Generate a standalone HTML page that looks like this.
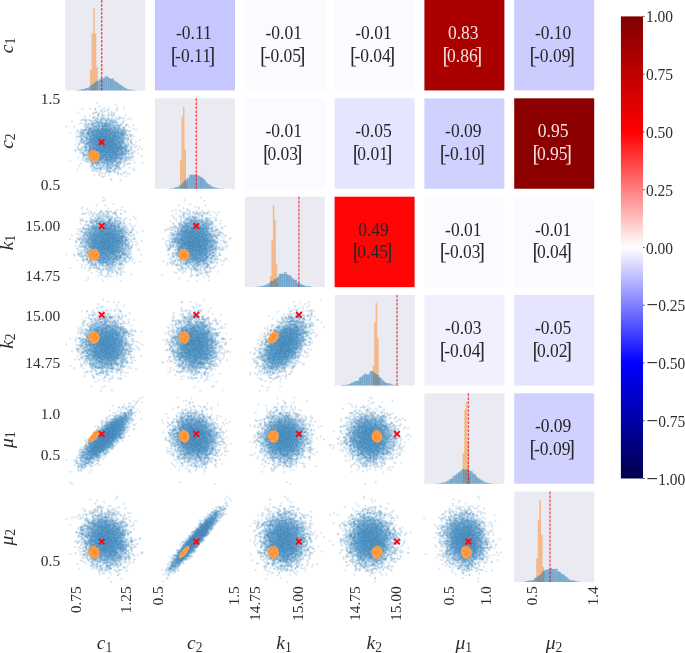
<!DOCTYPE html>
<html><head><meta charset="utf-8"><title>corner</title>
<style>html,body{margin:0;padding:0;background:#fff}svg{display:block}text{font-family:"Liberation Serif","DejaVu Serif",serif;fill:#2e2e2e}</style></head><body>
<svg width="685" height="653" viewBox="0 0 685 653">
<rect width="685" height="653" fill="#fff"/>
<rect x="155.0" y="0.0" width="80.0" height="90.45" fill="#c7c7ff"/>
<text transform="translate(193.9 38.8) scale(1 1.1)" font-size="17.5" text-anchor="middle" style="fill:#262626">-0.11</text>
<text transform="translate(193.0 61.6) scale(1 1.1)" font-size="17.5" text-anchor="middle" style="fill:#262626"><tspan font-size="21.0" dy="0.9">[</tspan><tspan dx="-2.5" dy="-0.9">-0.11</tspan><tspan font-size="21.0" dx="-2.5" dy="0.9">]</tspan></text>
<rect x="244.8" y="0.0" width="80.0" height="90.45" fill="#fafaff"/>
<text transform="translate(283.7 38.8) scale(1 1.1)" font-size="17.5" text-anchor="middle" style="fill:#262626">-0.01</text>
<text transform="translate(282.8 61.6) scale(1 1.1)" font-size="17.5" text-anchor="middle" style="fill:#262626"><tspan font-size="21.0" dy="0.9">[</tspan><tspan dx="-2.5" dy="-0.9">-0.05</tspan><tspan font-size="21.0" dx="-2.5" dy="0.9">]</tspan></text>
<rect x="334.6" y="0.0" width="80.0" height="90.45" fill="#fafaff"/>
<text transform="translate(373.5 38.8) scale(1 1.1)" font-size="17.5" text-anchor="middle" style="fill:#262626">-0.01</text>
<text transform="translate(372.6 61.6) scale(1 1.1)" font-size="17.5" text-anchor="middle" style="fill:#262626"><tspan font-size="21.0" dy="0.9">[</tspan><tspan dx="-2.5" dy="-0.9">-0.04</tspan><tspan font-size="21.0" dx="-2.5" dy="0.9">]</tspan></text>
<rect x="424.4" y="0.0" width="80.0" height="90.45" fill="#ab0000"/>
<text transform="translate(463.3 38.8) scale(1 1.1)" font-size="17.5" text-anchor="middle" style="fill:#f2e4e4">0.83</text>
<text transform="translate(462.4 61.6) scale(1 1.1)" font-size="17.5" text-anchor="middle" style="fill:#f2e4e4"><tspan font-size="21.0" dy="0.9">[</tspan><tspan dx="-2.5" dy="-0.9">0.86</tspan><tspan font-size="21.0" dx="-2.5" dy="0.9">]</tspan></text>
<rect x="514.2" y="0.0" width="80.0" height="90.45" fill="#ccccff"/>
<text transform="translate(553.1 38.8) scale(1 1.1)" font-size="17.5" text-anchor="middle" style="fill:#262626">-0.10</text>
<text transform="translate(552.2 61.6) scale(1 1.1)" font-size="17.5" text-anchor="middle" style="fill:#262626"><tspan font-size="21.0" dy="0.9">[</tspan><tspan dx="-2.5" dy="-0.9">-0.09</tspan><tspan font-size="21.0" dx="-2.5" dy="0.9">]</tspan></text>
<rect x="244.8" y="98.3" width="80.0" height="90.45" fill="#fafaff"/>
<text transform="translate(283.7 137.1) scale(1 1.1)" font-size="17.5" text-anchor="middle" style="fill:#262626">-0.01</text>
<text transform="translate(282.8 159.9) scale(1 1.1)" font-size="17.5" text-anchor="middle" style="fill:#262626"><tspan font-size="21.0" dy="0.9">[</tspan><tspan dx="-2.5" dy="-0.9">0.03</tspan><tspan font-size="21.0" dx="-2.5" dy="0.9">]</tspan></text>
<rect x="334.6" y="98.3" width="80.0" height="90.45" fill="#e5e5ff"/>
<text transform="translate(373.5 137.1) scale(1 1.1)" font-size="17.5" text-anchor="middle" style="fill:#262626">-0.05</text>
<text transform="translate(372.6 159.9) scale(1 1.1)" font-size="17.5" text-anchor="middle" style="fill:#262626"><tspan font-size="21.0" dy="0.9">[</tspan><tspan dx="-2.5" dy="-0.9">0.01</tspan><tspan font-size="21.0" dx="-2.5" dy="0.9">]</tspan></text>
<rect x="424.4" y="98.3" width="80.0" height="90.45" fill="#d1d1ff"/>
<text transform="translate(463.3 137.1) scale(1 1.1)" font-size="17.5" text-anchor="middle" style="fill:#262626">-0.09</text>
<text transform="translate(462.4 159.9) scale(1 1.1)" font-size="17.5" text-anchor="middle" style="fill:#262626"><tspan font-size="21.0" dy="0.9">[</tspan><tspan dx="-2.5" dy="-0.9">-0.10</tspan><tspan font-size="21.0" dx="-2.5" dy="0.9">]</tspan></text>
<rect x="514.2" y="98.3" width="80.0" height="90.45" fill="#8c0000"/>
<text transform="translate(553.1 137.1) scale(1 1.1)" font-size="17.5" text-anchor="middle" style="fill:#f2e4e4">0.95</text>
<text transform="translate(552.2 159.9) scale(1 1.1)" font-size="17.5" text-anchor="middle" style="fill:#f2e4e4"><tspan font-size="21.0" dy="0.9">[</tspan><tspan dx="-2.5" dy="-0.9">0.95</tspan><tspan font-size="21.0" dx="-2.5" dy="0.9">]</tspan></text>
<rect x="334.6" y="196.7" width="80.0" height="90.45" fill="#ff0505"/>
<text transform="translate(373.5 235.5) scale(1 1.1)" font-size="17.5" text-anchor="middle" style="fill:#262626">0.49</text>
<text transform="translate(372.6 258.3) scale(1 1.1)" font-size="17.5" text-anchor="middle" style="fill:#262626"><tspan font-size="21.0" dy="0.9">[</tspan><tspan dx="-2.5" dy="-0.9">0.45</tspan><tspan font-size="21.0" dx="-2.5" dy="0.9">]</tspan></text>
<rect x="424.4" y="196.7" width="80.0" height="90.45" fill="#fafaff"/>
<text transform="translate(463.3 235.5) scale(1 1.1)" font-size="17.5" text-anchor="middle" style="fill:#262626">-0.01</text>
<text transform="translate(462.4 258.3) scale(1 1.1)" font-size="17.5" text-anchor="middle" style="fill:#262626"><tspan font-size="21.0" dy="0.9">[</tspan><tspan dx="-2.5" dy="-0.9">-0.03</tspan><tspan font-size="21.0" dx="-2.5" dy="0.9">]</tspan></text>
<rect x="514.2" y="196.7" width="80.0" height="90.45" fill="#fafaff"/>
<text transform="translate(553.1 235.5) scale(1 1.1)" font-size="17.5" text-anchor="middle" style="fill:#262626">-0.01</text>
<text transform="translate(552.2 258.3) scale(1 1.1)" font-size="17.5" text-anchor="middle" style="fill:#262626"><tspan font-size="21.0" dy="0.9">[</tspan><tspan dx="-2.5" dy="-0.9">0.04</tspan><tspan font-size="21.0" dx="-2.5" dy="0.9">]</tspan></text>
<rect x="424.4" y="295.0" width="80.0" height="90.45" fill="#f0f0ff"/>
<text transform="translate(463.3 333.8) scale(1 1.1)" font-size="17.5" text-anchor="middle" style="fill:#262626">-0.03</text>
<text transform="translate(462.4 356.6) scale(1 1.1)" font-size="17.5" text-anchor="middle" style="fill:#262626"><tspan font-size="21.0" dy="0.9">[</tspan><tspan dx="-2.5" dy="-0.9">-0.04</tspan><tspan font-size="21.0" dx="-2.5" dy="0.9">]</tspan></text>
<rect x="514.2" y="295.0" width="80.0" height="90.45" fill="#e5e5ff"/>
<text transform="translate(553.1 333.8) scale(1 1.1)" font-size="17.5" text-anchor="middle" style="fill:#262626">-0.05</text>
<text transform="translate(552.2 356.6) scale(1 1.1)" font-size="17.5" text-anchor="middle" style="fill:#262626"><tspan font-size="21.0" dy="0.9">[</tspan><tspan dx="-2.5" dy="-0.9">0.02</tspan><tspan font-size="21.0" dx="-2.5" dy="0.9">]</tspan></text>
<rect x="514.2" y="393.3" width="80.0" height="90.45" fill="#d1d1ff"/>
<text transform="translate(553.1 432.1) scale(1 1.1)" font-size="17.5" text-anchor="middle" style="fill:#262626">-0.09</text>
<text transform="translate(552.2 454.9) scale(1 1.1)" font-size="17.5" text-anchor="middle" style="fill:#262626"><tspan font-size="21.0" dy="0.9">[</tspan><tspan dx="-2.5" dy="-0.9">-0.09</tspan><tspan font-size="21.0" dx="-2.5" dy="0.9">]</tspan></text>
<rect x="65.2" y="0.0" width="80.0" height="90.45" fill="#eaeaf2"/>
<path d="M90.10 90.5v-20.7h1.54v20.7zM91.64 90.5v-57.0h1.54v57.0zM93.18 90.5v-82.2h1.54v82.2zM94.72 90.5v-57.0h1.54v57.0zM96.26 90.5v-23.3h1.54v23.3z" fill="#ff7f0e" fill-opacity="0.45"/>
<path d="M75.95 90.5v-0.2h2.14v0.2zM79.53 90.5v-0.8h2.14v0.8zM83.11 90.5v-1.6h2.14v1.6zM86.69 90.5v-2.8h2.14v2.8zM90.27 90.5v-5.3h2.14v5.3zM93.85 90.5v-8.0h2.14v8.0zM97.43 90.5v-9.9h2.14v9.9zM101.01 90.5v-12.5h2.14v12.5zM104.59 90.5v-13.9h2.14v13.9zM108.17 90.5v-12.6h2.14v12.6zM111.75 90.5v-12.0h2.14v12.0zM115.33 90.5v-8.7h2.14v8.7zM118.91 90.5v-5.8h2.14v5.8zM122.49 90.5v-3.6h2.14v3.6zM126.07 90.5v-1.4h2.14v1.4zM129.65 90.5v-1.0h2.14v1.0zM133.23 90.5v-0.3h2.14v0.3z" fill="#1f77b4" fill-opacity="0.5"/>
<path d="M77.74 90.5v-0.6h2.14v0.6zM81.32 90.5v-1.4h2.14v1.4zM84.90 90.5v-2.3h2.14v2.3zM88.48 90.5v-3.7h2.14v3.7zM92.06 90.5v-6.5h2.14v6.5zM95.64 90.5v-9.4h2.14v9.4zM99.22 90.5v-11.7h2.14v11.7zM102.80 90.5v-12.2h2.14v12.2zM106.38 90.5v-13.9h2.14v13.9zM109.96 90.5v-11.6h2.14v11.6zM113.54 90.5v-9.7h2.14v9.7zM117.12 90.5v-7.4h2.14v7.4zM120.70 90.5v-5.1h2.14v5.1zM124.28 90.5v-2.5h2.14v2.5zM127.86 90.5v-1.0h2.14v1.0zM131.44 90.5v-0.4h2.14v0.4zM135.02 90.5v-0.2h2.14v0.2z" fill="#1f77b4" fill-opacity="0.5"/>
<line x1="101.7" y1="0.0" x2="101.7" y2="90.5" stroke="#fa0512" stroke-opacity="0.72" stroke-width="1.3" stroke-dasharray="2.7 1.3"/>
<rect x="155.0" y="98.3" width="80.0" height="90.45" fill="#eaeaf2"/>
<path d="M180.00 188.8v-28.5h1.50v28.5zM181.50 188.8v-72.4h1.50v72.4zM183.00 188.8v-81.7h1.50v81.7zM184.50 188.8v-39.3h1.50v39.3zM186.00 188.8v-6.0h1.50v6.0z" fill="#ff7f0e" fill-opacity="0.45"/>
<path d="M169.58 188.8v-0.3h2.14v0.3zM173.16 188.8v-0.9h2.14v0.9zM176.74 188.8v-1.9h2.14v1.9zM180.32 188.8v-4.3h2.14v4.3zM183.90 188.8v-8.5h2.14v8.5zM187.48 188.8v-11.2h2.14v11.2zM191.06 188.8v-14.0h2.14v14.0zM194.64 188.8v-14.5h2.14v14.5zM198.22 188.8v-13.1h2.14v13.1zM201.80 188.8v-10.5h2.14v10.5zM205.38 188.8v-6.6h2.14v6.6zM208.96 188.8v-3.6h2.14v3.6zM212.54 188.8v-1.7h2.14v1.7zM216.12 188.8v-0.8h2.14v0.8zM219.70 188.8v-0.3h2.14v0.3z" fill="#1f77b4" fill-opacity="0.5"/>
<path d="M171.37 188.8v-0.6h2.14v0.6zM174.95 188.8v-1.9h2.14v1.9zM178.53 188.8v-3.2h2.14v3.2zM182.11 188.8v-6.4h2.14v6.4zM185.69 188.8v-9.5h2.14v9.5zM189.27 188.8v-14.0h2.14v14.0zM192.85 188.8v-14.0h2.14v14.0zM196.43 188.8v-13.5h2.14v13.5zM200.01 188.8v-11.8h2.14v11.8zM203.59 188.8v-9.1h2.14v9.1zM207.17 188.8v-4.7h2.14v4.7zM210.75 188.8v-2.4h2.14v2.4zM214.33 188.8v-1.0h2.14v1.0zM217.91 188.8v-0.4h2.14v0.4zM221.49 188.8v-0.3h2.14v0.3z" fill="#1f77b4" fill-opacity="0.5"/>
<line x1="196.3" y1="98.3" x2="196.3" y2="188.8" stroke="#fa0512" stroke-opacity="0.72" stroke-width="1.3" stroke-dasharray="2.7 1.3"/>
<rect x="244.8" y="196.7" width="80.0" height="90.45" fill="#eaeaf2"/>
<path d="M270.00 287.1v-10.8h1.45v10.8zM271.45 287.1v-46.8h1.45v46.8zM272.90 287.1v-81.7h1.45v81.7zM274.35 287.1v-67.1h1.45v67.1zM275.80 287.1v-22.8h1.45v22.8zM277.25 287.1v-4.0h1.45v4.0z" fill="#ff7f0e" fill-opacity="0.45"/>
<path d="M255.58 287.1v-0.3h2.14v0.3zM259.16 287.1v-0.6h2.14v0.6zM262.74 287.1v-1.3h2.14v1.3zM266.32 287.1v-2.9h2.14v2.9zM269.90 287.1v-6.0h2.14v6.0zM273.48 287.1v-7.8h2.14v7.8zM277.06 287.1v-10.3h2.14v10.3zM280.64 287.1v-13.7h2.14v13.7zM284.22 287.1v-15.0h2.14v15.0zM287.80 287.1v-11.8h2.14v11.8zM291.38 287.1v-9.1h2.14v9.1zM294.96 287.1v-7.4h2.14v7.4zM298.54 287.1v-3.8h2.14v3.8zM302.12 287.1v-2.0h2.14v2.0zM305.70 287.1v-0.7h2.14v0.7zM309.28 287.1v-0.5h2.14v0.5z" fill="#1f77b4" fill-opacity="0.5"/>
<path d="M257.37 287.1v-0.4h2.14v0.4zM260.95 287.1v-1.0h2.14v1.0zM264.53 287.1v-2.0h2.14v2.0zM268.11 287.1v-4.0h2.14v4.0zM271.69 287.1v-6.4h2.14v6.4zM275.27 287.1v-8.4h2.14v8.4zM278.85 287.1v-13.1h2.14v13.1zM282.43 287.1v-13.0h2.14v13.0zM286.01 287.1v-12.9h2.14v12.9zM289.59 287.1v-11.3h2.14v11.3zM293.17 287.1v-7.4h2.14v7.4zM296.75 287.1v-4.4h2.14v4.4zM300.33 287.1v-2.9h2.14v2.9zM303.91 287.1v-1.3h2.14v1.3zM307.49 287.1v-1.1h2.14v1.1z" fill="#1f77b4" fill-opacity="0.5"/>
<line x1="298.9" y1="196.7" x2="298.9" y2="287.1" stroke="#fa0512" stroke-opacity="0.72" stroke-width="1.3" stroke-dasharray="2.7 1.3"/>
<rect x="334.6" y="295.0" width="80.0" height="90.45" fill="#eaeaf2"/>
<path d="M372.70 385.4v-19.5h1.50v19.5zM374.20 385.4v-63.0h1.50v63.0zM375.70 385.4v-82.1h1.50v82.1zM377.20 385.4v-47.3h1.50v47.3zM378.70 385.4v-8.0h1.50v8.0z" fill="#ff7f0e" fill-opacity="0.45"/>
<path d="M340.95 385.4v-0.4h2.14v0.4zM344.53 385.4v-0.5h2.14v0.5zM348.11 385.4v-1.1h2.14v1.1zM351.69 385.4v-2.9h2.14v2.9zM355.27 385.4v-4.4h2.14v4.4zM358.85 385.4v-8.0h2.14v8.0zM362.43 385.4v-10.3h2.14v10.3zM366.01 385.4v-11.0h2.14v11.0zM369.59 385.4v-14.2h2.14v14.2zM373.17 385.4v-12.9h2.14v12.9zM376.75 385.4v-10.4h2.14v10.4zM380.33 385.4v-6.9h2.14v6.9zM383.91 385.4v-3.5h2.14v3.5zM387.49 385.4v-2.0h2.14v2.0zM391.07 385.4v-1.0h2.14v1.0zM394.65 385.4v-0.6h2.14v0.6z" fill="#1f77b4" fill-opacity="0.5"/>
<path d="M342.74 385.4v-0.4h2.14v0.4zM346.32 385.4v-1.0h2.14v1.0zM349.90 385.4v-2.1h2.14v2.1zM353.48 385.4v-3.9h2.14v3.9zM357.06 385.4v-5.0h2.14v5.0zM360.64 385.4v-9.0h2.14v9.0zM364.22 385.4v-11.8h2.14v11.8zM367.80 385.4v-11.1h2.14v11.1zM371.38 385.4v-14.3h2.14v14.3zM374.96 385.4v-11.5h2.14v11.5zM378.54 385.4v-8.5h2.14v8.5zM382.12 385.4v-4.8h2.14v4.8zM385.70 385.4v-2.5h2.14v2.5zM389.28 385.4v-1.9h2.14v1.9zM392.86 385.4v-0.5h2.14v0.5zM398.23 385.4v-0.2h2.14v0.2z" fill="#1f77b4" fill-opacity="0.5"/>
<line x1="397.0" y1="295.0" x2="397.0" y2="385.4" stroke="#fa0512" stroke-opacity="0.72" stroke-width="1.3" stroke-dasharray="2.7 1.3"/>
<rect x="424.4" y="393.3" width="80.0" height="90.45" fill="#eaeaf2"/>
<path d="M462.70 483.8v-30.9h1.55v30.9zM464.25 483.8v-74.0h1.55v74.0zM465.80 483.8v-82.0h1.55v82.0zM467.35 483.8v-43.0h1.55v43.0zM468.90 483.8v-8.0h1.55v8.0z" fill="#ff7f0e" fill-opacity="0.45"/>
<path d="M434.74 483.8v-0.2h2.14v0.2zM438.32 483.8v-0.6h2.14v0.6zM441.90 483.8v-1.3h2.14v1.3zM445.48 483.8v-2.3h2.14v2.3zM449.06 483.8v-4.6h2.14v4.6zM452.64 483.8v-7.6h2.14v7.6zM456.22 483.8v-10.4h2.14v10.4zM459.80 483.8v-13.0h2.14v13.0zM463.38 483.8v-14.3h2.14v14.3zM466.96 483.8v-14.7h2.14v14.7zM470.54 483.8v-12.5h2.14v12.5zM474.12 483.8v-9.2h2.14v9.2zM477.70 483.8v-5.4h2.14v5.4zM481.28 483.8v-3.3h2.14v3.3zM484.86 483.8v-1.2h2.14v1.2zM488.44 483.8v-0.6h2.14v0.6zM492.02 483.8v-0.4h2.14v0.4z" fill="#1f77b4" fill-opacity="0.5"/>
<path d="M436.53 483.8v-0.2h2.14v0.2zM440.11 483.8v-0.9h2.14v0.9zM443.69 483.8v-1.4h2.14v1.4zM447.27 483.8v-3.1h2.14v3.1zM450.85 483.8v-5.2h2.14v5.2zM454.43 483.8v-8.8h2.14v8.8zM458.01 483.8v-11.6h2.14v11.6zM461.59 483.8v-14.7h2.14v14.7zM465.17 483.8v-14.1h2.14v14.1zM468.75 483.8v-13.0h2.14v13.0zM472.33 483.8v-10.2h2.14v10.2zM475.91 483.8v-6.8h2.14v6.8zM479.49 483.8v-4.4h2.14v4.4zM483.07 483.8v-2.1h2.14v2.1zM486.65 483.8v-1.0h2.14v1.0zM490.23 483.8v-0.3h2.14v0.3zM495.60 483.8v-0.2h2.14v0.2z" fill="#1f77b4" fill-opacity="0.5"/>
<line x1="468.4" y1="393.3" x2="468.4" y2="483.8" stroke="#fa0512" stroke-opacity="0.72" stroke-width="1.3" stroke-dasharray="2.7 1.3"/>
<rect x="514.2" y="491.6" width="80.0" height="90.45" fill="#eaeaf2"/>
<path d="M536.20 582.1v-23.5h1.60v23.5zM537.80 582.1v-62.1h1.60v62.1zM539.40 582.1v-81.8h1.60v81.8zM541.00 582.1v-47.4h1.60v47.4zM542.60 582.1v-15.3h1.60v15.3z" fill="#ff7f0e" fill-opacity="0.45"/>
<path d="M521.37 582.1v-0.2h2.14v0.2zM524.95 582.1v-0.8h2.14v0.8zM528.53 582.1v-1.5h2.14v1.5zM532.11 582.1v-2.1h2.14v2.1zM535.69 582.1v-4.8h2.14v4.8zM539.27 582.1v-7.3h2.14v7.3zM542.85 582.1v-11.5h2.14v11.5zM546.43 582.1v-12.8h2.14v12.8zM550.01 582.1v-14.1h2.14v14.1zM553.59 582.1v-13.2h2.14v13.2zM557.17 582.1v-10.9h2.14v10.9zM560.75 582.1v-8.3h2.14v8.3zM564.33 582.1v-5.8h2.14v5.8zM567.91 582.1v-2.8h2.14v2.8zM571.49 582.1v-1.9h2.14v1.9zM575.07 582.1v-0.8h2.14v0.8zM578.65 582.1v-0.4h2.14v0.4z" fill="#1f77b4" fill-opacity="0.5"/>
<path d="M523.16 582.1v-0.2h2.14v0.2zM526.74 582.1v-1.0h2.14v1.0zM530.32 582.1v-1.7h2.14v1.7zM533.90 582.1v-4.1h2.14v4.1zM537.48 582.1v-6.3h2.14v6.3zM541.06 582.1v-9.6h2.14v9.6zM544.64 582.1v-11.9h2.14v11.9zM548.22 582.1v-12.9h2.14v12.9zM551.80 582.1v-13.0h2.14v13.0zM555.38 582.1v-13.3h2.14v13.3zM558.96 582.1v-10.1h2.14v10.1zM562.54 582.1v-7.6h2.14v7.6zM566.12 582.1v-4.5h2.14v4.5zM569.70 582.1v-1.8h2.14v1.8zM573.28 582.1v-1.4h2.14v1.4zM576.86 582.1v-0.5h2.14v0.5z" fill="#1f77b4" fill-opacity="0.5"/>
<line x1="550.0" y1="491.6" x2="550.0" y2="582.1" stroke="#fa0512" stroke-opacity="0.72" stroke-width="1.3" stroke-dasharray="2.7 1.3"/>
<defs><marker id="b" markerUnits="userSpaceOnUse" markerWidth="20" markerHeight="20" refX="10" refY="10"><circle cx="10" cy="10" r="5.50" fill="#1f77b4" fill-opacity="0.18" stroke="#fff" stroke-opacity="0.18" stroke-width="1.16"/></marker><marker id="o" markerUnits="userSpaceOnUse" markerWidth="30" markerHeight="30" refX="15" refY="15"><circle cx="15" cy="15" r="5.75" fill="#ff7f0e" fill-opacity="0.5" stroke="#fff" stroke-opacity="0.5" stroke-width="0.75"/></marker></defs>
<defs><radialGradient id="g1" cx="0" cy="0" r="2.5" gradientUnits="userSpaceOnUse"><stop offset="0.00" stop-color="#4a90c3" stop-opacity="0.796"/><stop offset="0.04" stop-color="#4a90c3" stop-opacity="0.794"/><stop offset="0.08" stop-color="#4a90c3" stop-opacity="0.789"/><stop offset="0.12" stop-color="#4a90c3" stop-opacity="0.781"/><stop offset="0.16" stop-color="#4a90c3" stop-opacity="0.769"/><stop offset="0.20" stop-color="#4a90c3" stop-opacity="0.754"/><stop offset="0.24" stop-color="#4a90c3" stop-opacity="0.735"/><stop offset="0.28" stop-color="#4a90c3" stop-opacity="0.712"/><stop offset="0.32" stop-color="#4a90c3" stop-opacity="0.685"/><stop offset="0.36" stop-color="#4a90c3" stop-opacity="0.653"/><stop offset="0.40" stop-color="#4a90c3" stop-opacity="0.619"/><stop offset="0.44" stop-color="#4a90c3" stop-opacity="0.580"/><stop offset="0.48" stop-color="#4a90c3" stop-opacity="0.539"/><stop offset="0.52" stop-color="#4a90c3" stop-opacity="0.495"/><stop offset="0.56" stop-color="#4a90c3" stop-opacity="0.449"/><stop offset="0.60" stop-color="#4a90c3" stop-opacity="0.396"/><stop offset="0.64" stop-color="#4a90c3" stop-opacity="0.332"/><stop offset="0.68" stop-color="#4a90c3" stop-opacity="0.264"/><stop offset="0.72" stop-color="#4a90c3" stop-opacity="0.197"/><stop offset="0.76" stop-color="#4a90c3" stop-opacity="0.138"/><stop offset="0.80" stop-color="#4a90c3" stop-opacity="0.089"/><stop offset="0.84" stop-color="#4a90c3" stop-opacity="0.051"/><stop offset="0.88" stop-color="#4a90c3" stop-opacity="0.025"/><stop offset="0.92" stop-color="#4a90c3" stop-opacity="0.010"/><stop offset="0.96" stop-color="#4a90c3" stop-opacity="0.002"/><stop offset="1.00" stop-color="#4a90c3" stop-opacity="0.000"/></radialGradient><radialGradient id="g2" cx="0" cy="0" r="2.5" gradientUnits="userSpaceOnUse"><stop offset="0.00" stop-color="#4a90c3" stop-opacity="0.797"/><stop offset="0.04" stop-color="#4a90c3" stop-opacity="0.795"/><stop offset="0.08" stop-color="#4a90c3" stop-opacity="0.791"/><stop offset="0.12" stop-color="#4a90c3" stop-opacity="0.782"/><stop offset="0.16" stop-color="#4a90c3" stop-opacity="0.771"/><stop offset="0.20" stop-color="#4a90c3" stop-opacity="0.755"/><stop offset="0.24" stop-color="#4a90c3" stop-opacity="0.736"/><stop offset="0.28" stop-color="#4a90c3" stop-opacity="0.713"/><stop offset="0.32" stop-color="#4a90c3" stop-opacity="0.686"/><stop offset="0.36" stop-color="#4a90c3" stop-opacity="0.655"/><stop offset="0.40" stop-color="#4a90c3" stop-opacity="0.620"/><stop offset="0.44" stop-color="#4a90c3" stop-opacity="0.581"/><stop offset="0.48" stop-color="#4a90c3" stop-opacity="0.540"/><stop offset="0.52" stop-color="#4a90c3" stop-opacity="0.496"/><stop offset="0.56" stop-color="#4a90c3" stop-opacity="0.450"/><stop offset="0.60" stop-color="#4a90c3" stop-opacity="0.397"/><stop offset="0.64" stop-color="#4a90c3" stop-opacity="0.333"/><stop offset="0.68" stop-color="#4a90c3" stop-opacity="0.265"/><stop offset="0.72" stop-color="#4a90c3" stop-opacity="0.198"/><stop offset="0.76" stop-color="#4a90c3" stop-opacity="0.138"/><stop offset="0.80" stop-color="#4a90c3" stop-opacity="0.089"/><stop offset="0.84" stop-color="#4a90c3" stop-opacity="0.051"/><stop offset="0.88" stop-color="#4a90c3" stop-opacity="0.026"/><stop offset="0.92" stop-color="#4a90c3" stop-opacity="0.010"/><stop offset="0.96" stop-color="#4a90c3" stop-opacity="0.002"/><stop offset="1.00" stop-color="#4a90c3" stop-opacity="0.000"/></radialGradient><radialGradient id="g3" cx="0" cy="0" r="2.5" gradientUnits="userSpaceOnUse"><stop offset="0.00" stop-color="#4a90c3" stop-opacity="0.803"/><stop offset="0.04" stop-color="#4a90c3" stop-opacity="0.802"/><stop offset="0.08" stop-color="#4a90c3" stop-opacity="0.797"/><stop offset="0.12" stop-color="#4a90c3" stop-opacity="0.789"/><stop offset="0.16" stop-color="#4a90c3" stop-opacity="0.777"/><stop offset="0.20" stop-color="#4a90c3" stop-opacity="0.762"/><stop offset="0.24" stop-color="#4a90c3" stop-opacity="0.743"/><stop offset="0.28" stop-color="#4a90c3" stop-opacity="0.720"/><stop offset="0.32" stop-color="#4a90c3" stop-opacity="0.693"/><stop offset="0.36" stop-color="#4a90c3" stop-opacity="0.662"/><stop offset="0.40" stop-color="#4a90c3" stop-opacity="0.627"/><stop offset="0.44" stop-color="#4a90c3" stop-opacity="0.588"/><stop offset="0.48" stop-color="#4a90c3" stop-opacity="0.547"/><stop offset="0.52" stop-color="#4a90c3" stop-opacity="0.503"/><stop offset="0.56" stop-color="#4a90c3" stop-opacity="0.457"/><stop offset="0.60" stop-color="#4a90c3" stop-opacity="0.403"/><stop offset="0.64" stop-color="#4a90c3" stop-opacity="0.338"/><stop offset="0.68" stop-color="#4a90c3" stop-opacity="0.269"/><stop offset="0.72" stop-color="#4a90c3" stop-opacity="0.201"/><stop offset="0.76" stop-color="#4a90c3" stop-opacity="0.141"/><stop offset="0.80" stop-color="#4a90c3" stop-opacity="0.091"/><stop offset="0.84" stop-color="#4a90c3" stop-opacity="0.052"/><stop offset="0.88" stop-color="#4a90c3" stop-opacity="0.026"/><stop offset="0.92" stop-color="#4a90c3" stop-opacity="0.010"/><stop offset="0.96" stop-color="#4a90c3" stop-opacity="0.002"/><stop offset="1.00" stop-color="#4a90c3" stop-opacity="0.000"/></radialGradient><radialGradient id="g4" cx="0" cy="0" r="2.5" gradientUnits="userSpaceOnUse"><stop offset="0.00" stop-color="#4a90c3" stop-opacity="0.781"/><stop offset="0.04" stop-color="#4a90c3" stop-opacity="0.780"/><stop offset="0.08" stop-color="#4a90c3" stop-opacity="0.775"/><stop offset="0.12" stop-color="#4a90c3" stop-opacity="0.766"/><stop offset="0.16" stop-color="#4a90c3" stop-opacity="0.754"/><stop offset="0.20" stop-color="#4a90c3" stop-opacity="0.739"/><stop offset="0.24" stop-color="#4a90c3" stop-opacity="0.719"/><stop offset="0.28" stop-color="#4a90c3" stop-opacity="0.696"/><stop offset="0.32" stop-color="#4a90c3" stop-opacity="0.669"/><stop offset="0.36" stop-color="#4a90c3" stop-opacity="0.637"/><stop offset="0.40" stop-color="#4a90c3" stop-opacity="0.602"/><stop offset="0.44" stop-color="#4a90c3" stop-opacity="0.564"/><stop offset="0.48" stop-color="#4a90c3" stop-opacity="0.523"/><stop offset="0.52" stop-color="#4a90c3" stop-opacity="0.480"/><stop offset="0.56" stop-color="#4a90c3" stop-opacity="0.435"/><stop offset="0.60" stop-color="#4a90c3" stop-opacity="0.383"/><stop offset="0.64" stop-color="#4a90c3" stop-opacity="0.320"/><stop offset="0.68" stop-color="#4a90c3" stop-opacity="0.254"/><stop offset="0.72" stop-color="#4a90c3" stop-opacity="0.190"/><stop offset="0.76" stop-color="#4a90c3" stop-opacity="0.132"/><stop offset="0.80" stop-color="#4a90c3" stop-opacity="0.085"/><stop offset="0.84" stop-color="#4a90c3" stop-opacity="0.049"/><stop offset="0.88" stop-color="#4a90c3" stop-opacity="0.024"/><stop offset="0.92" stop-color="#4a90c3" stop-opacity="0.009"/><stop offset="0.96" stop-color="#4a90c3" stop-opacity="0.002"/><stop offset="1.00" stop-color="#4a90c3" stop-opacity="0.000"/></radialGradient><radialGradient id="g5" cx="0" cy="0" r="2.5" gradientUnits="userSpaceOnUse"><stop offset="0.00" stop-color="#4a90c3" stop-opacity="0.788"/><stop offset="0.04" stop-color="#4a90c3" stop-opacity="0.787"/><stop offset="0.08" stop-color="#4a90c3" stop-opacity="0.782"/><stop offset="0.12" stop-color="#4a90c3" stop-opacity="0.773"/><stop offset="0.16" stop-color="#4a90c3" stop-opacity="0.761"/><stop offset="0.20" stop-color="#4a90c3" stop-opacity="0.746"/><stop offset="0.24" stop-color="#4a90c3" stop-opacity="0.726"/><stop offset="0.28" stop-color="#4a90c3" stop-opacity="0.703"/><stop offset="0.32" stop-color="#4a90c3" stop-opacity="0.676"/><stop offset="0.36" stop-color="#4a90c3" stop-opacity="0.645"/><stop offset="0.40" stop-color="#4a90c3" stop-opacity="0.610"/><stop offset="0.44" stop-color="#4a90c3" stop-opacity="0.572"/><stop offset="0.48" stop-color="#4a90c3" stop-opacity="0.530"/><stop offset="0.52" stop-color="#4a90c3" stop-opacity="0.487"/><stop offset="0.56" stop-color="#4a90c3" stop-opacity="0.441"/><stop offset="0.60" stop-color="#4a90c3" stop-opacity="0.389"/><stop offset="0.64" stop-color="#4a90c3" stop-opacity="0.326"/><stop offset="0.68" stop-color="#4a90c3" stop-opacity="0.258"/><stop offset="0.72" stop-color="#4a90c3" stop-opacity="0.193"/><stop offset="0.76" stop-color="#4a90c3" stop-opacity="0.135"/><stop offset="0.80" stop-color="#4a90c3" stop-opacity="0.087"/><stop offset="0.84" stop-color="#4a90c3" stop-opacity="0.050"/><stop offset="0.88" stop-color="#4a90c3" stop-opacity="0.025"/><stop offset="0.92" stop-color="#4a90c3" stop-opacity="0.010"/><stop offset="0.96" stop-color="#4a90c3" stop-opacity="0.002"/><stop offset="1.00" stop-color="#4a90c3" stop-opacity="0.000"/></radialGradient><radialGradient id="g6" cx="0" cy="0" r="2.5" gradientUnits="userSpaceOnUse"><stop offset="0.00" stop-color="#4a90c3" stop-opacity="0.834"/><stop offset="0.04" stop-color="#4a90c3" stop-opacity="0.832"/><stop offset="0.08" stop-color="#4a90c3" stop-opacity="0.828"/><stop offset="0.12" stop-color="#4a90c3" stop-opacity="0.820"/><stop offset="0.16" stop-color="#4a90c3" stop-opacity="0.809"/><stop offset="0.20" stop-color="#4a90c3" stop-opacity="0.795"/><stop offset="0.24" stop-color="#4a90c3" stop-opacity="0.777"/><stop offset="0.28" stop-color="#4a90c3" stop-opacity="0.755"/><stop offset="0.32" stop-color="#4a90c3" stop-opacity="0.728"/><stop offset="0.36" stop-color="#4a90c3" stop-opacity="0.698"/><stop offset="0.40" stop-color="#4a90c3" stop-opacity="0.663"/><stop offset="0.44" stop-color="#4a90c3" stop-opacity="0.625"/><stop offset="0.48" stop-color="#4a90c3" stop-opacity="0.583"/><stop offset="0.52" stop-color="#4a90c3" stop-opacity="0.538"/><stop offset="0.56" stop-color="#4a90c3" stop-opacity="0.490"/><stop offset="0.60" stop-color="#4a90c3" stop-opacity="0.434"/><stop offset="0.64" stop-color="#4a90c3" stop-opacity="0.366"/><stop offset="0.68" stop-color="#4a90c3" stop-opacity="0.292"/><stop offset="0.72" stop-color="#4a90c3" stop-opacity="0.220"/><stop offset="0.76" stop-color="#4a90c3" stop-opacity="0.154"/><stop offset="0.80" stop-color="#4a90c3" stop-opacity="0.100"/><stop offset="0.84" stop-color="#4a90c3" stop-opacity="0.058"/><stop offset="0.88" stop-color="#4a90c3" stop-opacity="0.029"/><stop offset="0.92" stop-color="#4a90c3" stop-opacity="0.011"/><stop offset="0.96" stop-color="#4a90c3" stop-opacity="0.002"/><stop offset="1.00" stop-color="#4a90c3" stop-opacity="0.000"/></radialGradient><radialGradient id="g7" cx="0" cy="0" r="2.5" gradientUnits="userSpaceOnUse"><stop offset="0.00" stop-color="#4a90c3" stop-opacity="0.950"/><stop offset="0.04" stop-color="#4a90c3" stop-opacity="0.950"/><stop offset="0.08" stop-color="#4a90c3" stop-opacity="0.947"/><stop offset="0.12" stop-color="#4a90c3" stop-opacity="0.943"/><stop offset="0.16" stop-color="#4a90c3" stop-opacity="0.938"/><stop offset="0.20" stop-color="#4a90c3" stop-opacity="0.929"/><stop offset="0.24" stop-color="#4a90c3" stop-opacity="0.919"/><stop offset="0.28" stop-color="#4a90c3" stop-opacity="0.905"/><stop offset="0.32" stop-color="#4a90c3" stop-opacity="0.887"/><stop offset="0.36" stop-color="#4a90c3" stop-opacity="0.865"/><stop offset="0.40" stop-color="#4a90c3" stop-opacity="0.838"/><stop offset="0.44" stop-color="#4a90c3" stop-opacity="0.806"/><stop offset="0.48" stop-color="#4a90c3" stop-opacity="0.768"/><stop offset="0.52" stop-color="#4a90c3" stop-opacity="0.725"/><stop offset="0.56" stop-color="#4a90c3" stop-opacity="0.676"/><stop offset="0.60" stop-color="#4a90c3" stop-opacity="0.614"/><stop offset="0.64" stop-color="#4a90c3" stop-opacity="0.534"/><stop offset="0.68" stop-color="#4a90c3" stop-opacity="0.440"/><stop offset="0.72" stop-color="#4a90c3" stop-opacity="0.340"/><stop offset="0.76" stop-color="#4a90c3" stop-opacity="0.245"/><stop offset="0.80" stop-color="#4a90c3" stop-opacity="0.161"/><stop offset="0.84" stop-color="#4a90c3" stop-opacity="0.095"/><stop offset="0.88" stop-color="#4a90c3" stop-opacity="0.048"/><stop offset="0.92" stop-color="#4a90c3" stop-opacity="0.018"/><stop offset="0.96" stop-color="#4a90c3" stop-opacity="0.004"/><stop offset="1.00" stop-color="#4a90c3" stop-opacity="0.000"/></radialGradient><radialGradient id="g8" cx="0" cy="0" r="2.5" gradientUnits="userSpaceOnUse"><stop offset="0.00" stop-color="#4a90c3" stop-opacity="0.820"/><stop offset="0.04" stop-color="#4a90c3" stop-opacity="0.819"/><stop offset="0.08" stop-color="#4a90c3" stop-opacity="0.814"/><stop offset="0.12" stop-color="#4a90c3" stop-opacity="0.806"/><stop offset="0.16" stop-color="#4a90c3" stop-opacity="0.795"/><stop offset="0.20" stop-color="#4a90c3" stop-opacity="0.780"/><stop offset="0.24" stop-color="#4a90c3" stop-opacity="0.761"/><stop offset="0.28" stop-color="#4a90c3" stop-opacity="0.739"/><stop offset="0.32" stop-color="#4a90c3" stop-opacity="0.712"/><stop offset="0.36" stop-color="#4a90c3" stop-opacity="0.681"/><stop offset="0.40" stop-color="#4a90c3" stop-opacity="0.647"/><stop offset="0.44" stop-color="#4a90c3" stop-opacity="0.608"/><stop offset="0.48" stop-color="#4a90c3" stop-opacity="0.566"/><stop offset="0.52" stop-color="#4a90c3" stop-opacity="0.521"/><stop offset="0.56" stop-color="#4a90c3" stop-opacity="0.475"/><stop offset="0.60" stop-color="#4a90c3" stop-opacity="0.419"/><stop offset="0.64" stop-color="#4a90c3" stop-opacity="0.353"/><stop offset="0.68" stop-color="#4a90c3" stop-opacity="0.281"/><stop offset="0.72" stop-color="#4a90c3" stop-opacity="0.211"/><stop offset="0.76" stop-color="#4a90c3" stop-opacity="0.148"/><stop offset="0.80" stop-color="#4a90c3" stop-opacity="0.095"/><stop offset="0.84" stop-color="#4a90c3" stop-opacity="0.055"/><stop offset="0.88" stop-color="#4a90c3" stop-opacity="0.027"/><stop offset="0.92" stop-color="#4a90c3" stop-opacity="0.011"/><stop offset="0.96" stop-color="#4a90c3" stop-opacity="0.002"/><stop offset="1.00" stop-color="#4a90c3" stop-opacity="0.000"/></radialGradient><radialGradient id="g9" cx="0" cy="0" r="2.5" gradientUnits="userSpaceOnUse"><stop offset="0.00" stop-color="#4a90c3" stop-opacity="0.822"/><stop offset="0.04" stop-color="#4a90c3" stop-opacity="0.820"/><stop offset="0.08" stop-color="#4a90c3" stop-opacity="0.816"/><stop offset="0.12" stop-color="#4a90c3" stop-opacity="0.808"/><stop offset="0.16" stop-color="#4a90c3" stop-opacity="0.797"/><stop offset="0.20" stop-color="#4a90c3" stop-opacity="0.782"/><stop offset="0.24" stop-color="#4a90c3" stop-opacity="0.763"/><stop offset="0.28" stop-color="#4a90c3" stop-opacity="0.741"/><stop offset="0.32" stop-color="#4a90c3" stop-opacity="0.714"/><stop offset="0.36" stop-color="#4a90c3" stop-opacity="0.683"/><stop offset="0.40" stop-color="#4a90c3" stop-opacity="0.649"/><stop offset="0.44" stop-color="#4a90c3" stop-opacity="0.610"/><stop offset="0.48" stop-color="#4a90c3" stop-opacity="0.568"/><stop offset="0.52" stop-color="#4a90c3" stop-opacity="0.523"/><stop offset="0.56" stop-color="#4a90c3" stop-opacity="0.477"/><stop offset="0.60" stop-color="#4a90c3" stop-opacity="0.421"/><stop offset="0.64" stop-color="#4a90c3" stop-opacity="0.355"/><stop offset="0.68" stop-color="#4a90c3" stop-opacity="0.283"/><stop offset="0.72" stop-color="#4a90c3" stop-opacity="0.212"/><stop offset="0.76" stop-color="#4a90c3" stop-opacity="0.149"/><stop offset="0.80" stop-color="#4a90c3" stop-opacity="0.096"/><stop offset="0.84" stop-color="#4a90c3" stop-opacity="0.056"/><stop offset="0.88" stop-color="#4a90c3" stop-opacity="0.028"/><stop offset="0.92" stop-color="#4a90c3" stop-opacity="0.011"/><stop offset="0.96" stop-color="#4a90c3" stop-opacity="0.002"/><stop offset="1.00" stop-color="#4a90c3" stop-opacity="0.000"/></radialGradient><radialGradient id="g10" cx="0" cy="0" r="2.5" gradientUnits="userSpaceOnUse"><stop offset="0.00" stop-color="#4a90c3" stop-opacity="0.807"/><stop offset="0.04" stop-color="#4a90c3" stop-opacity="0.806"/><stop offset="0.08" stop-color="#4a90c3" stop-opacity="0.801"/><stop offset="0.12" stop-color="#4a90c3" stop-opacity="0.793"/><stop offset="0.16" stop-color="#4a90c3" stop-opacity="0.781"/><stop offset="0.20" stop-color="#4a90c3" stop-opacity="0.766"/><stop offset="0.24" stop-color="#4a90c3" stop-opacity="0.747"/><stop offset="0.28" stop-color="#4a90c3" stop-opacity="0.724"/><stop offset="0.32" stop-color="#4a90c3" stop-opacity="0.697"/><stop offset="0.36" stop-color="#4a90c3" stop-opacity="0.666"/><stop offset="0.40" stop-color="#4a90c3" stop-opacity="0.631"/><stop offset="0.44" stop-color="#4a90c3" stop-opacity="0.593"/><stop offset="0.48" stop-color="#4a90c3" stop-opacity="0.551"/><stop offset="0.52" stop-color="#4a90c3" stop-opacity="0.507"/><stop offset="0.56" stop-color="#4a90c3" stop-opacity="0.461"/><stop offset="0.60" stop-color="#4a90c3" stop-opacity="0.407"/><stop offset="0.64" stop-color="#4a90c3" stop-opacity="0.341"/><stop offset="0.68" stop-color="#4a90c3" stop-opacity="0.272"/><stop offset="0.72" stop-color="#4a90c3" stop-opacity="0.204"/><stop offset="0.76" stop-color="#4a90c3" stop-opacity="0.143"/><stop offset="0.80" stop-color="#4a90c3" stop-opacity="0.092"/><stop offset="0.84" stop-color="#4a90c3" stop-opacity="0.053"/><stop offset="0.88" stop-color="#4a90c3" stop-opacity="0.026"/><stop offset="0.92" stop-color="#4a90c3" stop-opacity="0.010"/><stop offset="0.96" stop-color="#4a90c3" stop-opacity="0.002"/><stop offset="1.00" stop-color="#4a90c3" stop-opacity="0.000"/></radialGradient><radialGradient id="g11" cx="0" cy="0" r="2.5" gradientUnits="userSpaceOnUse"><stop offset="0.00" stop-color="#4a90c3" stop-opacity="0.780"/><stop offset="0.04" stop-color="#4a90c3" stop-opacity="0.778"/><stop offset="0.08" stop-color="#4a90c3" stop-opacity="0.773"/><stop offset="0.12" stop-color="#4a90c3" stop-opacity="0.765"/><stop offset="0.16" stop-color="#4a90c3" stop-opacity="0.753"/><stop offset="0.20" stop-color="#4a90c3" stop-opacity="0.737"/><stop offset="0.24" stop-color="#4a90c3" stop-opacity="0.718"/><stop offset="0.28" stop-color="#4a90c3" stop-opacity="0.694"/><stop offset="0.32" stop-color="#4a90c3" stop-opacity="0.667"/><stop offset="0.36" stop-color="#4a90c3" stop-opacity="0.636"/><stop offset="0.40" stop-color="#4a90c3" stop-opacity="0.601"/><stop offset="0.44" stop-color="#4a90c3" stop-opacity="0.563"/><stop offset="0.48" stop-color="#4a90c3" stop-opacity="0.522"/><stop offset="0.52" stop-color="#4a90c3" stop-opacity="0.478"/><stop offset="0.56" stop-color="#4a90c3" stop-opacity="0.434"/><stop offset="0.60" stop-color="#4a90c3" stop-opacity="0.381"/><stop offset="0.64" stop-color="#4a90c3" stop-opacity="0.319"/><stop offset="0.68" stop-color="#4a90c3" stop-opacity="0.253"/><stop offset="0.72" stop-color="#4a90c3" stop-opacity="0.189"/><stop offset="0.76" stop-color="#4a90c3" stop-opacity="0.132"/><stop offset="0.80" stop-color="#4a90c3" stop-opacity="0.085"/><stop offset="0.84" stop-color="#4a90c3" stop-opacity="0.049"/><stop offset="0.88" stop-color="#4a90c3" stop-opacity="0.024"/><stop offset="0.92" stop-color="#4a90c3" stop-opacity="0.009"/><stop offset="0.96" stop-color="#4a90c3" stop-opacity="0.002"/><stop offset="1.00" stop-color="#4a90c3" stop-opacity="0.000"/></radialGradient><radialGradient id="g12" cx="0" cy="0" r="2.5" gradientUnits="userSpaceOnUse"><stop offset="0.00" stop-color="#4a90c3" stop-opacity="0.993"/><stop offset="0.04" stop-color="#4a90c3" stop-opacity="0.993"/><stop offset="0.08" stop-color="#4a90c3" stop-opacity="0.992"/><stop offset="0.12" stop-color="#4a90c3" stop-opacity="0.991"/><stop offset="0.16" stop-color="#4a90c3" stop-opacity="0.989"/><stop offset="0.20" stop-color="#4a90c3" stop-opacity="0.987"/><stop offset="0.24" stop-color="#4a90c3" stop-opacity="0.984"/><stop offset="0.28" stop-color="#4a90c3" stop-opacity="0.979"/><stop offset="0.32" stop-color="#4a90c3" stop-opacity="0.972"/><stop offset="0.36" stop-color="#4a90c3" stop-opacity="0.962"/><stop offset="0.40" stop-color="#4a90c3" stop-opacity="0.949"/><stop offset="0.44" stop-color="#4a90c3" stop-opacity="0.932"/><stop offset="0.48" stop-color="#4a90c3" stop-opacity="0.909"/><stop offset="0.52" stop-color="#4a90c3" stop-opacity="0.879"/><stop offset="0.56" stop-color="#4a90c3" stop-opacity="0.842"/><stop offset="0.60" stop-color="#4a90c3" stop-opacity="0.790"/><stop offset="0.64" stop-color="#4a90c3" stop-opacity="0.713"/><stop offset="0.68" stop-color="#4a90c3" stop-opacity="0.612"/><stop offset="0.72" stop-color="#4a90c3" stop-opacity="0.494"/><stop offset="0.76" stop-color="#4a90c3" stop-opacity="0.368"/><stop offset="0.80" stop-color="#4a90c3" stop-opacity="0.250"/><stop offset="0.84" stop-color="#4a90c3" stop-opacity="0.150"/><stop offset="0.88" stop-color="#4a90c3" stop-opacity="0.077"/><stop offset="0.92" stop-color="#4a90c3" stop-opacity="0.030"/><stop offset="0.96" stop-color="#4a90c3" stop-opacity="0.006"/><stop offset="1.00" stop-color="#4a90c3" stop-opacity="0.000"/></radialGradient><radialGradient id="g13" cx="0" cy="0" r="2.5" gradientUnits="userSpaceOnUse"><stop offset="0.00" stop-color="#4a90c3" stop-opacity="0.788"/><stop offset="0.04" stop-color="#4a90c3" stop-opacity="0.786"/><stop offset="0.08" stop-color="#4a90c3" stop-opacity="0.781"/><stop offset="0.12" stop-color="#4a90c3" stop-opacity="0.773"/><stop offset="0.16" stop-color="#4a90c3" stop-opacity="0.761"/><stop offset="0.20" stop-color="#4a90c3" stop-opacity="0.746"/><stop offset="0.24" stop-color="#4a90c3" stop-opacity="0.726"/><stop offset="0.28" stop-color="#4a90c3" stop-opacity="0.703"/><stop offset="0.32" stop-color="#4a90c3" stop-opacity="0.676"/><stop offset="0.36" stop-color="#4a90c3" stop-opacity="0.645"/><stop offset="0.40" stop-color="#4a90c3" stop-opacity="0.610"/><stop offset="0.44" stop-color="#4a90c3" stop-opacity="0.571"/><stop offset="0.48" stop-color="#4a90c3" stop-opacity="0.530"/><stop offset="0.52" stop-color="#4a90c3" stop-opacity="0.486"/><stop offset="0.56" stop-color="#4a90c3" stop-opacity="0.441"/><stop offset="0.60" stop-color="#4a90c3" stop-opacity="0.388"/><stop offset="0.64" stop-color="#4a90c3" stop-opacity="0.325"/><stop offset="0.68" stop-color="#4a90c3" stop-opacity="0.258"/><stop offset="0.72" stop-color="#4a90c3" stop-opacity="0.193"/><stop offset="0.76" stop-color="#4a90c3" stop-opacity="0.135"/><stop offset="0.80" stop-color="#4a90c3" stop-opacity="0.087"/><stop offset="0.84" stop-color="#4a90c3" stop-opacity="0.050"/><stop offset="0.88" stop-color="#4a90c3" stop-opacity="0.025"/><stop offset="0.92" stop-color="#4a90c3" stop-opacity="0.010"/><stop offset="0.96" stop-color="#4a90c3" stop-opacity="0.002"/><stop offset="1.00" stop-color="#4a90c3" stop-opacity="0.000"/></radialGradient><radialGradient id="g14" cx="0" cy="0" r="2.5" gradientUnits="userSpaceOnUse"><stop offset="0.00" stop-color="#4a90c3" stop-opacity="0.773"/><stop offset="0.04" stop-color="#4a90c3" stop-opacity="0.771"/><stop offset="0.08" stop-color="#4a90c3" stop-opacity="0.766"/><stop offset="0.12" stop-color="#4a90c3" stop-opacity="0.757"/><stop offset="0.16" stop-color="#4a90c3" stop-opacity="0.745"/><stop offset="0.20" stop-color="#4a90c3" stop-opacity="0.729"/><stop offset="0.24" stop-color="#4a90c3" stop-opacity="0.710"/><stop offset="0.28" stop-color="#4a90c3" stop-opacity="0.686"/><stop offset="0.32" stop-color="#4a90c3" stop-opacity="0.659"/><stop offset="0.36" stop-color="#4a90c3" stop-opacity="0.628"/><stop offset="0.40" stop-color="#4a90c3" stop-opacity="0.593"/><stop offset="0.44" stop-color="#4a90c3" stop-opacity="0.555"/><stop offset="0.48" stop-color="#4a90c3" stop-opacity="0.514"/><stop offset="0.52" stop-color="#4a90c3" stop-opacity="0.471"/><stop offset="0.56" stop-color="#4a90c3" stop-opacity="0.426"/><stop offset="0.60" stop-color="#4a90c3" stop-opacity="0.375"/><stop offset="0.64" stop-color="#4a90c3" stop-opacity="0.313"/><stop offset="0.68" stop-color="#4a90c3" stop-opacity="0.248"/><stop offset="0.72" stop-color="#4a90c3" stop-opacity="0.185"/><stop offset="0.76" stop-color="#4a90c3" stop-opacity="0.129"/><stop offset="0.80" stop-color="#4a90c3" stop-opacity="0.083"/><stop offset="0.84" stop-color="#4a90c3" stop-opacity="0.048"/><stop offset="0.88" stop-color="#4a90c3" stop-opacity="0.024"/><stop offset="0.92" stop-color="#4a90c3" stop-opacity="0.009"/><stop offset="0.96" stop-color="#4a90c3" stop-opacity="0.002"/><stop offset="1.00" stop-color="#4a90c3" stop-opacity="0.000"/></radialGradient><radialGradient id="g15" cx="0" cy="0" r="2.5" gradientUnits="userSpaceOnUse"><stop offset="0.00" stop-color="#4a90c3" stop-opacity="0.805"/><stop offset="0.04" stop-color="#4a90c3" stop-opacity="0.804"/><stop offset="0.08" stop-color="#4a90c3" stop-opacity="0.799"/><stop offset="0.12" stop-color="#4a90c3" stop-opacity="0.791"/><stop offset="0.16" stop-color="#4a90c3" stop-opacity="0.779"/><stop offset="0.20" stop-color="#4a90c3" stop-opacity="0.764"/><stop offset="0.24" stop-color="#4a90c3" stop-opacity="0.745"/><stop offset="0.28" stop-color="#4a90c3" stop-opacity="0.722"/><stop offset="0.32" stop-color="#4a90c3" stop-opacity="0.695"/><stop offset="0.36" stop-color="#4a90c3" stop-opacity="0.664"/><stop offset="0.40" stop-color="#4a90c3" stop-opacity="0.629"/><stop offset="0.44" stop-color="#4a90c3" stop-opacity="0.591"/><stop offset="0.48" stop-color="#4a90c3" stop-opacity="0.549"/><stop offset="0.52" stop-color="#4a90c3" stop-opacity="0.505"/><stop offset="0.56" stop-color="#4a90c3" stop-opacity="0.459"/><stop offset="0.60" stop-color="#4a90c3" stop-opacity="0.405"/><stop offset="0.64" stop-color="#4a90c3" stop-opacity="0.340"/><stop offset="0.68" stop-color="#4a90c3" stop-opacity="0.270"/><stop offset="0.72" stop-color="#4a90c3" stop-opacity="0.203"/><stop offset="0.76" stop-color="#4a90c3" stop-opacity="0.142"/><stop offset="0.80" stop-color="#4a90c3" stop-opacity="0.091"/><stop offset="0.84" stop-color="#4a90c3" stop-opacity="0.053"/><stop offset="0.88" stop-color="#4a90c3" stop-opacity="0.026"/><stop offset="0.92" stop-color="#4a90c3" stop-opacity="0.010"/><stop offset="0.96" stop-color="#4a90c3" stop-opacity="0.002"/><stop offset="1.00" stop-color="#4a90c3" stop-opacity="0.000"/></radialGradient></defs>
<circle r="2.5" fill="url(#g1)" transform="matrix(-9.475 4.084 4.752 11.027 105.8 143.6)"/>
<circle r="2.5" fill="url(#g2)" transform="matrix(-10.582 0.560 0.616 11.632 105.8 242.6)"/>
<circle r="2.5" fill="url(#g3)" transform="matrix(-10.387 0.457 0.512 11.636 195.0 242.6)"/>
<circle r="2.5" fill="url(#g4)" transform="matrix(-10.591 0.373 0.429 12.205 105.8 344.8)"/>
<circle r="2.5" fill="url(#g5)" transform="matrix(-10.237 1.551 1.835 12.112 195.0 344.8)"/>
<circle r="2.5" fill="url(#g6)" transform="matrix(-6.437 -4.571 -8.041 11.323 284.2 344.8)"/>
<circle r="2.5" fill="url(#g7)" transform="matrix(-3.241 -3.072 -10.092 10.646 105.8 437.9)"/>
<circle r="2.5" fill="url(#g8)" transform="matrix(-8.999 4.669 5.213 10.048 195.0 437.9)"/>
<circle r="2.5" fill="url(#g9)" transform="matrix(-10.272 0.700 0.753 11.058 284.2 437.9)"/>
<circle r="2.5" fill="url(#g10)" transform="matrix(-9.738 4.491 4.671 10.129 370.5 437.9)"/>
<circle r="2.5" fill="url(#g11)" transform="matrix(-9.972 2.998 3.594 11.953 105.8 540.0)"/>
<circle r="2.5" fill="url(#g12)" transform="matrix(-1.927 -1.612 -10.220 12.218 195.0 540.0)"/>
<circle r="2.5" fill="url(#g13)" transform="matrix(-10.294 0.285 0.341 12.321 284.2 540.0)"/>
<circle r="2.5" fill="url(#g14)" transform="matrix(-10.569 1.930 2.222 12.172 370.5 540.0)"/>
<circle r="2.5" fill="url(#g15)" transform="matrix(-9.529 1.790 2.290 12.193 465.0 540.0)"/>
<filter id="bl" x="0" y="0" width="685" height="653" filterUnits="userSpaceOnUse"><feGaussianBlur stdDeviation="0.5"/></filter>
<g filter="url(#bl)"><g fill="none" stroke="none" transform="scale(0.2)">
<path d="M486 515l94 7 6 15-76 9 31 21 87 8-61 6-52 12-3-18-3 9-2 14-13-17-5 12-16 0-48-11-25 38 28 4 3-9 2 9 15-24 20 23 13-19 15 4 10 6 6 9 17-2 1-14 1 1 29 3 11-10 4 10 72 24-33 9-52 4-8-21-5 10-8-9-6 18 0-14-2-1-11 4-5 10-36-13-4 6-2 11-27-17-2 13-9-10-12-1-20 14-73-15 20 31 51 1 14-1 0-14 7 11 12 1 5 6 1-17 0 16 2-14 10 5 4-1 9 11 3-13 6 15 11-20 0 10 1-9 1 20 1-19 4 6 2 9 4-7 2 6 2-1 7-9 1-5 2 23 2-7 0-11 0-3 5 11 6-6 2-2 1-4 2 1 0 16 7-13 0 10 2 6 2-9 3-6 3 7 9 5 2 4 2-20 7 19 5-1 5-11 1-10 8 13 3 9 3-10 25 10 3-9 24 6 9 14-1-2-20 16-7-20-9 3-7-3-3 4-5 13-10-3-4-7 0 8-6-12-3 8-9 2-2 3-3 5-2-15-2 10 0 1 0-3-22-13-1-2-1 13-1 0 0-7-1 4-1 12-1-16-7-3-1 6-1 1-2 2-4-9-3 3-1 8-3-9-1 4-1-7-4 12-1 0 0-8-2-1-5 0 0 10-1-5-1 12-1-12-2-9 0 9-3 12-2-13-1 7-9-4-3-12 0 9-1-2-1-4-1 11-5-14-1 11-14-6 0 12-1-16-1 21-9-8-6 3-17-12-27 2-13 39 29-16 5 8 48-3 5 4 4-14 2 8 10-5 3 13 1-16 3 9 8 4 5 9 1-10 1 6 9-7 1-8 4 13 2 4 2-21 1 21 2-18 1 21 0-18 1 14 2-3 1-15 1 2 2 10 2-7 1 4 1-9 2 21 2-3 4-19 1 1 4-2 1 0 1 1 4 1 0 10 0-2 1 1 1 12 1-6 2 5 1-10 1 2 6-13 5 20 4 1 0-21 0 10 2 12 0-19 3 7 7 9 4-18 3 12 1 10 3-5 4-10 8-2 10 15 16-18 17 4 7 40-29-16-5 4-19 13 0-8-3 1-3-11-4 8-2-12 0-2-2 2-4 20-15-6 0 6-3-18-3 6-3 6-3 5-7 3-3-14 0-3-1-5-1 0-4-1-2 14-1-15-1 4 0 12-1 5 0-6-2 7-1-10-1 0-1-2-5 0-2 7-3-9-1 16 0-10-1-14-1 0 0 15-2-3 0 9 0-20-2 4-3-1-2 18 0-22-1 1-7-1 0 12-3 4-1-7 0 14-2-4 0-3-4-4-1-1 0-3-9 6 0-5-3 3-4-3 0 3-1-12-3 18-9-18-2 8-1-2-5 11-4-7-2-8-3 10-19-2-2-6-3 12-5-7 0 17 13 10 5 6 4-11 1 2 20 7 10-9 1 3 4-8 2 1 8 2 0 1 2 16 6 0 1-15 2-5 2 12 3-6 3 3 2-10 5 4 0 9 5 8 8-9 2 0 2-7 2 1 3 11 1 1 2-16 1 11 3-9 1 3 3 3 5 1 11-10 1 20 0-11 3-6 6 16 3-12 9-4 4 0 26 20 6-14 1-7 1-1 7-2 1 16 42-9-17 32-1-12-12 21-1-11-11 6-21-12-2 8 0 0 0-3-5-5-13-6-2 12-9-12 0 6-1 4-1-1-2 11 0-16-10 13-5-5 0 9-1-8-5-3-2 4-5-10-13-1-4 10-23-8-4 0-2 10 0-4-1 7-4-13-3 6-4 4-3-8-16 15-7-7-11-8-4-3 0 15-7-2-5 7-10-3 2 7 30 1 5 17 3-17 11 12 2-3 4-7 3 8 0-13 0 14 6 7 3-21 0 0 2-1 2 20 17-14 12 3 6 2 6 6 5-14 5 10 10-7 12-6 8 19 3-9 3 5 8 9 53-23-48 37-3 8-4-9-11-7-28 12-15-17-1 1-1 20-35-11-1-5-14 14-6 1-6-3-88 6 85 26 57-9 10-11 12 5 22 1 31 11 2 1 13-8-76 13-37 5 48 16 92-29-59 3-26-21-12 6-40 8-15 8-40-38 39-2 8 15 1-4 57-15 2 2 11-5 12 10 2-11 27 10 52 8-1-42-36 5-33 0-11 12-9-15-4 21-6-21-3 12-2 0-5-2-1-4-1 14-3-18-12 12-5-12-10 0-3 8-2 0-12-12-14 16-11-7-2-1-20 4-38-8-30-18 60 11 5-16 12 0 6 3 11-2 4 10 17-14 10 0 2 9 2-6 2 5 7 10 9-2 4-3 7 5 0-13 7 14 1 1 4-24 2 0 4 20 3-16 3 8 5 7 3-17 1 6 12 6 6 3 2-4 2 7 21-16 21 8 9 3-11-21-1-13-2 7-7-6-5 16-3-23-1 4-2 16-12-12-2 15 0-17 0-2 0 20-3-16-2 4-4 11-1-3-5-13-1 0-3 14-4-18-1 17-2-19-3 9-1 1-4 10 0-20-8 11-7-7-1-4 0 10-4-6-2-4-2 2-2 18-2-20-1 6-2 7-2-14 0 22-9-4 0 1-1-11-1 6-2 9-1-7-2-8 0-1 0 13-2-12-1-8-1 14-1-3 0-9-3 1 0 19-1-7-2-12-1 6-3-9-2 1 0 0-3 18-2-17-4 7 0 13-1-20-2 7-6 11-1 2-9-20-1 1-9 1-8 6-2 0-2 3-5 6-1-8-6-8-5 19-41-5-24-15 38-16 14 12 3-10 1-3 2-10 11 22 6-15 14 9 2 0 2 7 1-5 10-12 1 1 3-3 6-3 1 18 1-11 0-4 2 2 3 7 1-10 1 4 2 6 0-10 0 13 1 6 2-21 1-1 0 16 5-9 0 1 0 5 2 10 2-4 2-16 1 10 2-8 0 14 0-12 1 10 2-3 3-12 1 7 0-9 2 6 0-4 3 16 2-1 5 2 4-6 1-7 0 3 5-8 1 20 10 1 1-9 6 7 5-7 8 0 2-5 2 13 0-10 1 13 0-6 3-4 8-1 0 1 3 8 0-21 8 3 5 8 3 7 20-1 21-10-4-23-41 4-4-4-3 3-8 3-5-11-8 6-3 13-4-13-1-7-1 6-2 10 0-2-7-18-3 3-1 0 0-2-5 8-3-2 0 17-2-6-1 6-3-22 0 12-3-14 0 22-1 2-1-13-1 8-5 0-1 3-1-6-2-15-1 13-4 3 0 2-1-11-2 2-7 0-7 11-3-14 0 14-2-13-1 8-2 2 0-15 0 16 0 2-2-20-3 10-1 5-1 3-9-14 0 11-7-6 0-6-1 17-2-9-2-4 0 1-3 0-14 5-7-7-4 3-2 14 0-4-1-7-6 3-8 7-1-23-8 12-9-11-29 2 27-8 12-20 10 11 3 11 3-19 4-3 7 21 4-14 5-5 6 19 2-8 4-9 2 5 13 7 9-6 2-6 0 5 4 15 0-8 0-1 6 0 2 7 1-1 1-2 2-17 5 3 5-2 4 12 0 4 2-19 1 9 1-3 3 12 8-7 12 11 0-6 8-10 1 1 3-4 3-3 1 7 4 3 1 7 4-9 2-6 10 13 1 3 16-16 8-1 6 3 48 3-19-28-34 13-1 5-3 0-3-5-2-6 0 11-18-15-1 6-6-12-4 0-9 0-5 7-1 3-8 10-15 0-1-8-2-2-3 4-1 4-8 2-10 3 0-24 0 15 0-12-1 10-1-7-2 18-2 0-1-1-1 0-1-3-3-3-4-4 0 7 0-10-3-2-2 8 0 5-1-14-3 13 0 2-3-9-1 7-3-14-1 10-3 8-7-4-4-8-1 12-2-6-30-3-10-14-2 21-8-8-22 3-22-33 59 14 15-7 28-12 10 8 24 11 3-18 6 16 4-15 5 1 2-7 7 15 3-7 11-3 0 15 1 4 1-3 18-6 2-13 5-1 4 20 3-18 3 16 4-5 9-7 7-4 19 20-62-31-2-11-1-2-19 19-12-4-27-5-3-2-5-2-12 8-4-18-11 7-7-3-15 17-19-16 43-19 38 3 37-11 0 13 4 8 13-17 10-19-94 0-84 1 84-18 144-8-34 7-119 21 31-2 59 7 26-19-2 41-2 0-17-1-4-17-1 19-12 4-64 0-39 25 3-23 15 22 17-6 12-3 1-4 1 14 9-8 5-13 4-1 14 12 14 1 6 8 40 0 40-20 57 46-64-1-12 0-13-22-2 17-17-2-18-6-7 14-19-4-3-2-1-4-2-5-6 5-4 9 0-12-1 5-1-15-1 20-5 3-6-18-2 0-3 15-4 2-1-17-6 2-16 15-3-18-3 17-4-7-66 15 16 11 13 7 9 1 7-9 19 0 8-4 3-8 0 9 4-11 13 11 2-4 2 14 0-1 4-1 0-3 7-1 0 4 7-8 0-1 2-6 0 9 2 11 0-9 0 3 1-15 1 0 1 19 0-12 6 8 9-18 1 24 1-9 1 5 1-16 14 6 8-1 0 5 23 7 10-10 8 6 0 7 7-13 11-9 1 0 3 4 6-2 4 3 4-3 12 3-20 32-7-2-6 7-2-19 0 22-12-20-1 3-6 15 0-13-1 15-1 2-2-20-6 0-3 3-1 10-3-2-2 8-3-6-1-5-2 3-1-3-2 12-9-10-3-5-4 15-1-10-1 3 0 0-2-5-3 5-2-4-8-1-5 3-2-12-1 7-1 0 0 12-7 1-2-8-2-13 0 16-1-13-1 9-2-8-10-5-2 6-6 16 0-4-3-17-1 13-1-6-2 11-3-17-6-1-1 22-4-4-1 2-3-3-3-1-5-7-24 2-9-2-14-9-5 8-1-2 23 39 10-17 3 10 1-10 5 9 11 2 1-5 5-6 10 0 1 1 3 0 8 3 3 1 2 14 4-22 1-1 1 0 2 18 0-11 2 11 3-3 1 7 7 1 4-20 0 16 0-7 4 3 4-5 1-2 0-4 0 13 1 5 3-10 0-11 2 13 5-15 1 5 5 12 1 2 1-9 0 10 2 0 0-6 1 2 1 0 0 0 2 0 1-1 4-10 3 4 0 4 7 11 2-5 0 3 1-20 1 10 3-8 1 18 1-12 1 14 3-14 0 11 1 1 1-18 6-3 8 1 1 4 9 4 3-6 2 11 2 4 93 18-45 3-21 6 0-14-2-1-8 0-11 5-7 12-2-12-3 4-8-10-2-4-2 14-5-2-4-5-1 4-3-11-6 4-4 10 0 8-1-19 0 5 0 5-6-12-1 2-4-1-4 18-1-16 0 18-1-9 0 9 0-23-1 2-4 15 0-8-3 9-6-13-1-1-3 0-3 2-4 15-1-14 0-1-2 12-2-9-1-4-3 17-4-13-3-9-1 11 0-7-5 20 0-2-6-8-1-11 0 11-3 7 0-20-3 20-5-2 0-3-2-15 0 22-4-14-4 2-9-8-7 8-4 11-4-15-33 32 4 5 1-9 10 12 6-20 8 19 4-10 2-10 4 20 1-16 1 10 2-10 15 1 2 2 3-7 1 19 1-19 5 8 0 9 4-18 1 2 14 8 9-2 7-7 1 11 2-4 0 15 10-21 1 21 0-1 0-9 1-8 1-3 2 7 3-8 1-1 0 3 8 17 1-7 3-7 1 8 3 10 2-1 2-15 1 3 1-10 2 21 2-20 2 13 0-8 2-4 5 16 4-12 3 4 1-11 5 5 0 8 4-11 7 1 2 18 2-18 3 18 0-1 3-4 1 1 3 5 4-3 8 0 4-14 16 2 62 24-63 12-10-7-2 12-3-1-3 0-5-17-8 14-10 3-18-7-5 8-5-21-12 7-1 10-1-11-4-5-2 7-1 3-2-2-4 12-1-18-8 19-4-11-5 0-8 7 0-8-3-11-4 22-2-20-5 12 0-11-2 15-1-2 0 0-5 0-1 2-2-3-12 1-3 3-3-5-1-7-6 7-10-13-17 3-2 17-4-5-18-15 0 12 41 27 2 7 3-4 6-8 10 11 12-9 2-13 11 9 5 5 11 2 4-13 2-3 5 6 19-6 6 10 6-1 4 0 0 0 17 6 5-2 30-3 26 5-63 30 0-7-47-4-3-2-11 14-23 0-35-13-2 12 68 13 8-6 38-2 9 10 16 43-39-53-17 13-9-7-17 12-17-15-46-25 14 2 1 8 14 3 88 1 16-14 49-10-34-7-11-1-18-4-1-2-8 4-16 1-8 13-1-13-3 6-24-5-12-8-5 20-12-8-5 10-2-13-17 3-22-7-30-7 12-21 5 15 5-18 5 7 17 13 2-4 1-10 4 9 17-3 9 3 8-3 6 9 5-20 10 19 2-9 8 2 3-14 6 6 0 1 2 0 5-3 6 15 3-17 5 10 10-5 4 4 3 5 0-4 7 10 4-21 2 2 1-1 1-1 9 16 47-17 8 12 9-3-5-23-13-9-18 17-5-7-3-1-2-9-4 9-17-2 0 15-14-3 0-6-6 2-1 3-3-3-4-10-1 10-2-9-3 1-2 9 0-4-3 1-1-11-1 6-2-6-2 9-4 7-3-9-2-6 0 11-3-14 0 0-1 2-6 20-3-1 0-15 0 12-1-16-2-4-3 10-4 1 0-2-6-1 0 5-1-1-3-7-8 13-9 2-6-14-1 4-1 4-2 3 0-17-1 8-2-6-7 3-25-1-2 7-3 13-13-15-53-6 19-5 29-8 3-11 24-4 1 22 5-14 4 3 9 9 8-4 0-15 4 0 3 23 2-15 6 12 1-10 3 10 3-20 2 21 5-2 2-15 4-3 0 5 1 16 0-21 5 5 1-7 2 23 0-5 1-14 2 12 2-12 1 18 1 1 2 1 1-18 0-4 4 11 0-3 1 4 2-4 1-6 1 1 0 19 1-5 0-16 4 16 1-15 2 10 0-11 2 10 4 3 0 7 3-7 2-15 0 7 1-6 2 8 3 5 1-9 1-5 2 6 0 5 7-3 1-9 1 9 12 7 4 5 4-16 3 5 1 8 97-43-35 24-26-4-18-2-2-15-1 12-19 3-6-9-9 12-1 2-4-17-1 11-4-15 0 2-5 0 0 16-2 4-1-14-4-5 0 8-4 5-2-15 0 9-4 11-2-3-1-14-5 6 0 5 0 5-1-13-1 0-1 14-1-17-2 2-6 7-5-6-3-6-7 10-1-10 0 7-1 11-4-21-2 21 0-2-2-5-5 8-2-6-2 8-2 0-2-11-3 3-5-1-2-6-4 7-2 4-2-14 0 9-5-11-6 9 0-12-4 3-3 2-3 5-4 1-5 5-6-13-2 13-3 0-5-17-8 10-13 7-15-4 13-38 8 21 20-1 4-3 4 2 0-11 7-8 3 13 0-5 1 12 1-11 1-3 8 18 1-1 1-7 9 4 1 2 1-21 4 13 0-14 7 10 1-7 2 0 8 7 4 8 1-18 1 0 2 12 2 12 0-18 1 3 0 4 1 4 1-13 2 4 1 12 0-19 0 8 0 1 6 9 2-10 2 15 11-1 1-20 4 0 5 8 3 8 1-10 1 7 0 6 0-2 1-7 2-6 6 13 2-12 2 11 1-5 2-7 1-4 1 0 0 13 2-7 1 11 7-1 2-14 5 9 4 8 7-19 13 14 5 6 7-3 14-16 6 6-20-35 0 21-2-14-12-1 0 16-1-6-1-7-6 12-3-18-2 4 0 5-5-3-1 1-3 11-10-5 0-15-1 9-3 9 0-8-2 11-3-18-9 13-6-3-8 7-2-11-2-4-9 13-5-14-1 18-3-21-10 20 0-13-3 5-6 4-1-18-5 14 0-5-6 7-4-1-3 3-1-11-1 9-2 5-1-7-4 10-6-11-3 8-5-10-12-1-4 14-1-22-1 18-1 4-2-10-24-11-5 12-9-5-2 14 15-25 15-1 14-12 3 13 3-6 3 3 10-14 7 4 4 12 3 1 9-18 1 17 1-2 7-21 1 13 2 9 16-16 5-1 0 15 1-18 1 5 4 14 8-17 17 13 3 5 12-15 24-1 2 9 6 5 4-18 15 9 6 2-9-31-31 6-19 3-6-16-5 22-12-5-2-1-7-2-3 7-2 1-6-2-21-19-10 20-22-2-1 2-1-2-17-2-40-2-1-12 20-7 6 2 33-6 24 6 3-20 23 8 17 12 67-5 12 0-88-39-13 19-12-40-7 39 17-17 62 15 51 18-29 10-47-23-25 17-4-16-29 13-35 16 1 0 3 14 7-2 11-1 5-11 4 4 2 1 45 13 6-20 8-3 5 12 2 7 1 1 1-13 5 14 6 3 9-11 0-8 4 10 3-10 7 6 14 7 13-4 7 26-41-4-5 13-1-9-15 6-2-9-18 0-6 12 0-19-3-1-1 2-3 16-9-3-1-12-1 13-22-5-23 1-2-12-9-3-37 5-9 36 13-16 13-1 1 4 0 20 3-8 1 1 6 1 8-7 3 9 0-8 2 3 2 9 3-2 5-10 21-11 16 2 3 17 3 3 0-6 1 2 1-12 4-3 7 6 1-1 0 12 0-5 4-13 1 3 0 0 9 6 1 9 2 2 0-22 2 19 7-15 1 11 0-15 4 11 4 1 8 10 2 1 1-15 2 3 11-1 2-11 10 21 10-5 3 2 2-2 3-7 5 15 1-10 2 5 8-14 7 34-4-14-19 10-9 5-9 4-3-11-1 14-4-9-1 6-8 4 0-11-3 7-5-6-1-12-2 5 0-5-11 20-2 2-2-1-1-20-1 8-2 13-4-4-6-19-2 12-1-3-1 10-1 4-1 0-1 0-2-12 0-11-1 15-1 3-1-12-1 18-1-8 0-8-4-2 0 11-4 3-1 0 0-4-2-1-2 9 0-6 0 1-1-9-1-4-3 6-2-6-2 11-4 0 0-10 0 9-4-1-2-7-20-2-3 13 0-15-2 6-5 11-15-4-22 2-1-7-13 10-7-3-2-9-4-3 3 23 18 12 34-6 3 4 2-11 4 15 6-14 1 12 1-13 4 4 3 15 12 0 2-13 0-10 2 11 3 4 2-10 2 18 7 1 1-15 1 2 2-9 1 18 1-14 1-3 1 12 1 2 0-9 6-7 2 10 3-4 1-5 0 5 1 14 1-7 0 5 0-17 2 14 1-13 2 18 4-20 0-1 1 6 2-2 1 16 2-8 3-8 1 4 3-6 0 21 1 1 2-16 2-4 1 9 6-8 1 12 3 4 2-17 12 14 6-6 5 9 2-14 1-2 8 12 1-10 1-6 6-1 0 14 24 5 0 5 14-17 2 13 2-4 20-8-41 26-4-5-1-3 0 13-11-1-5-1 0 4-10-16-13 16-1-2 0 10-7-4-1 4-1-15-1 5-2-1-2 9-5-13-1 10-3 3-1-8 0-2-2-10-1 13-2-8-1-5-5 9-4 13-1-11-1 9 0-2-5-13-5 16-1-1 0 2 0-8-2 6 0-18 0-3-1 17-2-12 0 3-4-9-3 12 0-3-8 7-2-1-1-14-5 23-2-12-2 12 0-17-7-7-3 23 0-7-5-8-5 8-1-1-1-13-1 22-8-19-3 11-6 1-1-5-3-10-15 6-2 2-10 13-3-2-5-8-7-3-37 5 14 20 1-8 5 1 12-1 10 1 24 7 1 9 1-13 7 2 9-4 7 15 1 1 4-18 11 3 0 9 1 3 3-16 5 11 2 2 2 0 1 9 3-5 7-10 1 16 1-2 4 0 1 2 7-17 1 6 13-10 0 21 2 0 0-16 10-5 0-3 2 5 3-1 1 3 11 10 0-5 1-11 0 13 1 7 2 2 4-6 2 2 1 3 3-22 6 20 4 2 16-8 1 3 8-6 2-11 5 17 1 0-1 20-22 7-4 3-10-6 0-14-4 1-12 13-3-1-4-6-1 5-6-9-13 2-1 12-1-18-1 0 0 14-2-15-4 9-3 0-2 13-1 1-2-2-4-5 0-3-5-2 0-6-3-5 0 2-12-2 0 7-1 9-9 1-3-12-11 2-16 15-5-3-5-19-3 8-9 11-18-14-16 14 38 24 5-11 3 3 0 14 7-8 3 0 20-8 18 2 1 5 13-1 6-14 1 14 4-8 5-2 22 10 5-10 1-3 2 23 18-12 9 0 8 7 14 3 0-9 5-10-18 43-8 1-22-4-9-10-15-1-1 7-5 6-12 1-17-15-3 1-7 6-20-12-2 1 0 11 50 18 12-3 4 4 22-1 46 8 55-14-43 31-39-13-1-5-23-10-69 9-13-4-88-29 57 0 9 12 18 6 19-8 1 7 26-8 9 5 2-12 7 2 5 5 11-8 11 15 16-16 0 13 6-8 54 5 65-24-41-3-64-6-2 1-5-1-4 12-12 6-6-17-19-4-3 20-12-16-2-7-1 16 0-10-5-6-3 2-10 16-14-4-7-13-9 11-2 4-8-7-5 4-20-6-4-4-17 7-87-5 95-20 8-10 4 20 20-7 17 6 1 4 2-11 3-4 2 3 1-6 3 2 1 0 4 7 2-9 4 4 12 10 1-16 2 7 3 3 1-8 3 18 6-13 8-3 1 3 1 6 1-6 0-3 13-6 5 3 6 0 3 14 5-4 4-8 9 3 2-6 6 13 1-16 54-6-8 1-13-1-9-15-7 18-14-4-5-11-1-4-9 7-5 2-9-5 0 15-2-1-3-9-10 7-3-9 0 2-5 12 0-21-4 9-4 2-3-4 0 14-1-11-4 10-6-14-2 0-4 2-1-8-5 10 0-12-1 1-5 20-6-18-2 7 0 2 0-10-4 10-3 7 0 4-4-23 0 19 0-14-1 13-8 5-2-21-3-2-16 0-2 1-4 22-5-19-24 17-11 1-4 1-5-4-1 3-6-11-19-14 15-2 22-17 16-4 4 19 5-9 5 13 0 1 4-11 5 11 4-11 11-8 0 17 1-17 18-3 0-1 2 20 0-21 3 15 2-12 1 1 3-4 2 10 1-4 4 13 1-3 3 0 3-13 2 11 0-6 3 13 7-13 3 3 4 9 0-11 1 15 2 0 1-8 0-5 0 2 1-7 1 2 5 16 0 0 1 0 2-3 2-12 1 4 2-1 4 12 1 0 2-6 3-18 2 6 1 12 3-10 7 9 2-4 4-7 0 5 1 12 3-4 0-13 3 5 2-8 1 21 2-11 0-4 4 10 18-15 17 20 12-2 14-12 13-6-66-22-3-6 0 7-1-3-5 5 0 5-15-5 0 8 0-4-1-2-2 1-1 8-6-1-4 4-2-6-1-2-5 2-2-15-1-1-1 16 0 6-3-9-3-3 0-12 0 12-2 8-1-6-4-9-1 11 0 5-1-19-2 12-3 7-1-8-6-7-2 18-1-9-2-15-1 22-5-15-2 0-1 10-4-7-4-4-3 1-3-6-3 23-3-16-1 2-1-6-2-2 0 2-1-3-1 12-1-6-5-6-1 23-1-9 0-5-3 8-2-1-6-14-2 6-3 12-6-11-6 14-1-22-4 14-2 1-5 3-2-16-4 12-14 1-35 1-4 4 7-24 5-8 4-11 17 6 19 9 7-8 5 9 1 1 0-19 5 19 2-18 1-2 4 5 0 1 6 1 4 9 3-6 5 0 2-11 0 14 0 9 0-1 4-6 0 0 4-8 0 15 2-12 2-4 0 4 2 2 1 6 2 2 2 3 0-15 0-5 1 17 2-15 2-6 0 23 5-15 2-3 1 2 2 10 2-9 1 9 1 1 0-2 0-6 3 3 3-9 4 18 4-5 1-13 5 1 3 11 2-4 1 10 11-10 0 1 14-10 0-2 3 4 12 13 6-2 6 2 3-14 8-3 10-11-3-15-10 3-3 15-1-9-7 7-1-15-7 10-14 0 0 9-7-2-10 6-4-12-6 7-1 5-3 0-6-16-6 11-3-15-1 10-1 7-4-1-1 0-1-20 0 10-3-9-3 10-5 4-1-5-2-7-4 14 0 4-1-19-4 19-4 0-1 0-1-4-2-11-1-1-6-1-3 11-1 9-3 0-4 0-1-18-10 5-3 5 0-3-7-1 0-4-4 0-8 8-1-11-4 15-14-18-13 6-2 15-1-4-8-11-1 2 21-13 8-7 3-6 5-3 36 15 4-10 14-9 21 18 0-8 9-11 3 20 6 2 0-4 4 3 5 2 7-24 18 10 2 4 22-10 4 2 1 10 2-3 26 0 44-12-49-13-91 7-13-5-2-3-1 4-3-1-17 3-21-13-13 16-19 1 29-36 7 2 50 8 13-5 68-3-85-29-9 4-98-17 37 0 94-4-23-2-55 30 19-9 17-6 34-2 4-2 13 10 7 2 9 11 84 22-61-4-51 4-31-5-4 4-2 4-21-7-70 7-53 8 62 14 4-1 78-13 2 6 22-12 1-1 4 21 8 1 26-10 1-11 9 4 32 15 21 4 2 0-17 17-14 6-6-17-4 19-11-22-2 12-2 3-2-4-1 11-8-21-7 16-6-12-9 16-1 1-2-19-1 16 0-13-2 14-1-6-7-9-1 11 0-14-6 20-8-10 0-6-2 12 0-1-2-1-6-14-6-4-6 24 0-3-5-3-19-11-7 9-8 4-4 0 0-2-2 1-11-3-55 21 6-11 23 16 4-4 5-6 20 8 9 2 2-15 2 2 3 6 2 4 4-13 5 1 0 3 1 15 2-18 2 10 4-4 5-3 7 9 3-7 1-1 8 2 0-2 2 8 1 6 1-13 4 0 3-1 7 13 2-6 0-4 3 3 5-11 3 7 9 11 2-14 5 9 3-8 1 16 3-9 1 7 4-4 4-12 4 12 6 8 3-9 1-4 9 10 3-20 8 15 5-2 4 8 1-10 4 6 2-16 0 9 15 3 2 4 19-13-6 44-1-3-1-4-9-1-3 1-3 3-7-7-1-6-10 12-3-5-1-8 0-1-3 13-1-7-3-3-1 8-3-5-4-10-2 8-5 13-4-17-2 5-2 1-4-11-2 10-16-7-4 14-1-13-4 11-3 9-3-18-12 3-1-3 0 4 0 0-5 1-6 13-2-21-5 4-2 5-9 3 0-9-4 7 0 4-4-13 0 20-1-8-3 0 0-9 0 1 0 4-6 6-1-5-2 10-1-10-6-9-2 0-1 12-2-2-2 9-11 1-16-6-17-12-12 19 3 5 10 5 2 4 2-7 15 13 8-12 1 4 7-4 0-3 8 16 3 1 1-6 5 4 1 3 1-22 2 8 1 11 3-16 4 6 7-6 1 4 1 3 2 3 7-4 2-5 1 3 3 4 2 11 4-23 1 13 2 0 2 6 0 3 2-15 1 8 2-7 0 4 1-8 1 15 2-13 2 1 0 2 0 12 1-16 1 16 1 3 1-7 0-7 3 2 0-2 1 3 3-8 1 12 1-1 3 0 2 3 1 5 1-17 4-4 2 10 7 8 0-21 2 14 1-9 2-4 2 1 0 12 8-10 1 16 0-19 7 22 9-19 21 10 67 26-24-2-25 10-2-14-1 8-1-17-3 18-5-3-2 6-1-11-10-2 0-8-5 16-1-2-4 2-1-7-1 2-1 8-5 4 0-6-3-2 0 2-2-17-7 23-16-16-1-5-2 11-2 8-2-19-1 7 0-9-1 17 0 6 0-5-3-11-1-3-7-4-2 3-4 11 0-13-6 19-1-11-4-3-2 7-2 4 0 5-2-14-3 1 0 9-1-7 0-7-1-4-2 7-10 14 0-5-1 0-1-10 0 5-4 13 0-11-1 10-4 0-3 0-2-23-5 24-4 0-4-1-2-1-1 2-1-10-3-13-5 21-5-6-1-2-1 8-3-7-3-9-16 17-36-21-4 10 39 16 17 10 7 7 3-9 14 13 1-12 0-1 4-9 1-1 2 13 4 8 0-8 1 8 1-9 1-13 2 15 18-15 1 6 0 5 2-7 3 2 18 13 2-15 2 7 8 11 1-10 6-9 8 10 1-9 2 20 3-10 4-2 0 9 3-17 4 6 8-3 0 12 3-12 1 7 4-3 18 8 0-16 7 17 1-9 26 25-14-1-8 9-16 0-3-15-6 14-4-6-7-4-6-8-1 14-2-14-12 16-1-8-7 3-1 4-4-15-1 18-10-1-11-6-1 13-1-21-10 9-1 2-3 5-7-10-3-2-3 5-7-10-4-2-8 1-2 5-4 18-9-23-28 14-1 4-1-16-16-1-14 40 29-9 27 9 18 0 14-12 1 6 6-9 28 1 10 14 8 5 10-15 8 14 16-17 3 18 39-20 13 2 4 18 14-3-56 16-10-2-4-4-7 7-22 5-2-2-27-9-16 9-44-11-1 25 10 2 85 42-33-16-9 5 123-17-8-8-56 0-20-4-9 3-46 13-5-15-30-5 8-19 2 6 4 9 12-6 23 4 2-19 3 11 12-11 3 13 3-3 0-8 4-4 1 13 5-9 7 12 3-3 22 3 1-13 4-1 39 3 5-9-25-11-1 6-12-8-28 9-7-18-1 2-2 21 0-18-16 16-1-18-10 15-8 4-3-17-35 7-7-9-14-1-1 2-6-1-3 6-34-25 11-7 48 20 26-10 0 7 1-12 6 16 4-17 3-1 2 1 2 10 1-16 1 11 12 12 0-9 1 6 1 2 2-9 3-10 7 17 2-20 3 11 4-4 1 16 4-7 3-2 1-11 0 1 1 0 3 12 5 5 4-6 5-4 2 4 10-2 0 10 1-20 11 16 18-8 13 7 35-11 19-15-22-6-7 4-7-15-12 5-8 4-1-7-14 20-12-9-5 6-5-4-8-7-7-4-2 14-1-16-3 16-1-12-2 1-1 12-1-10 0-9-1 12-2-3-1 2-3-1-2 7-1-10-6 4-7-5 0-5-1 4-1 7-5 5-8-3-1-9-1 19-8-23-3 5-5 0 0 0-3 17-5-19-7 10-1-8-1 6-3-6-3 17-2-4-7-10-3 5-7-13-2 3-2 12-1 2-12-12-5 16 0 2-10-17-25 7-18-17 11-9 1 6 19-7 20 6 2 4 1-3 3-19 5 23 7-5 4 1 0-3 1-14 3-1 1 17 3-9 2-9 1 3 5 13 8 6 1-7 4 1 2 6 5-3 5-18 0 9 0-3 1 12 1 0 2-14 7 15 1-18 1 3 1 8 0-11 2 13 6-12 0 11 4-6 2 0 3 0 3-1 2-1 2 2 3-5 1 20 1-10 1-7 4 0 1 8 1 9 1-2 6-12 3 9 2-3 6-15 2 15 1-12 4-2 1 14 0 9 1-8 15 0 1-5 2 7 1-16 3 15 2-4 11 1 1 5 2-14 20 1 27-5 16 22 20-2-56-33-19-3-9 9-13-9-10 14-7-15-10 7-6-12-7 17-2-4-4-16-1-1 0 7-1-4 0 19-4-6-2 1-1-4-4-6-1 4 0 8-5-14-1 18-1-3 0-15-1 10-1 0 0-8-1 2-1-1-1 5-1-4-1 5-1-9-3-3-1 21-1-21-2 5-5-7-1 15 0-5-1 10-3 4-2-9-1-8-1-4-2 9-2 11-1-7-1-4 0 1-2-3-4-10 0 7 0 17-1-3-1-2-3-9-1-10 0 22-2-12-3 2-1-6-4-5-6 9-1-1-1 2-9 3-9-13-2 2-1 2-7 6-1-11 0 10-5-8-12 18-13-12-12-3-4 8-22-32 2 7 25 8 14-12 11 3 13-10 8 18 12-19 5 16 6 7 2-2 1-2 0-6 3-4 2 4 2 5 0-11 2 15 1 1 5-22 2 11 0 3 2-3 0-7 1 16 4-14 8-3 3 12 3-3 5 3 1-17 2 0 1 23 1-12 1 1 0 5 1 2 2-12 3-4 2-1 1 3 1 4 2 5 4 6 2-6 0-6 1 8 1-3 1 11 3-7 5-1 5 5 6-6 0-12 0 1 2 20 0 0 0-19 4 5 3 5 12 0 1-8 15-7 45 23 2-22 4 21 0-21-7-2-15 0-6-24-17 21-1-13-18 7-1 9-6-21-2 15-11-5-2 4-1 6-1-18-4 14-6 1-1-10-2 11-9-19-1 6-2 2 0-8-12 3-1 18-7-13-4 5-4-13-9 19-1 0-3 2-16 1-3-3-1 1-3-20 0 0-6 4-20 16-2-19-8 5-4 3-5 13 0-10-7 7-22-20 20-3 28-6 0 0 15-4 5-7 19 6 1-9 10 19 18-17 17 19 3-19 3 18 0-11 4 8 7 0 13-9 29 6 31-12 7-5 30 20-64-21-16-6-23-9-5-4-8 7-3-3-2-2-12-5-8 16-5 3-5-21-6 20-4-5-11 0-11-7-7 8-15 0-29-13-3 2-5 1-10-8 35-21 38 0 32 12 4-11 13 2 57 4 46 9-149-22-13-8-3-16" marker-start="url(#b)" marker-mid="url(#b)" marker-end="url(#b)"/>
<path d="M528 1027l-93 19-23-11 59 27 59 9 3-16 27 7 11 3 99 19-65 8-30-2-23 4-3-5-8-4-4-2-28-6-22 20-10-6-8 7-61-5 43 22 7-9 17 1 9 2 3 9 24-12 2-6 1 13 3-13 20 7 23 16 6 0 23-2 4 1 9-6 15-16 0 15-7 27-31 4-14-2-3-13-4 0-5 14-5 0-1 2-16 0 0-8-1-9-2-3-2 20 0-3-1-11-10-3-9 12-4-1-1 0-3 1-8 7-2-21-7 11-6 1-3-15-4 11-57 25 38 10 6-8 4-9 3-4 5 10 3 10 10-10 7 11 0-9 3-1 5 13 2-9 1 6 1-11 4 14 7-13 3 3 1 3 7 6 2-6 0-12 2-3 2 12 2-11 5 21 8-4 0 4 1-17 5 9 2-16 2 21 3-8 7 8 3-16 0-3 10 10 7 11 2-4 1-14 3 1 2 6 0-7 10 9 14-11 10 17 34-8 8 12 1 20-22 1-16-12-3 5-8 2 0 2-6-13-2 5 0 14-2-5-9-9-8 8-2 7-3-3-2-19-1 0-1-1-1 22 0-4-3-16 0 11-3-14-3 8-6 14-1-10-2-9-8 19-2-10-2-1-1 12-3-8-3-5-2 4 0-1-1 6-1-14 0-5-4 3-5 10-6 11-1-19-2 8 0 3-8-7 0-9-2 20-2-5-4-1-4-13-2 6-1-4-1-3-2 3 0 7-4 13-1-2 0-11-9 11 0-21-2 3-4 6-8 10 0-5-5 0-19-7-13 12-33 2-38-18 46 39 13-12 6 5 6-1 19 15 13-15 5-4 3 2 1 5 2 7 1-3 3 1 2-2 2-15 10 23 2-23 7 7 2 5 1-3 2 1 0 0 2 1 3-11 2 10 1 1 0 13 1-5 3-15 0 0 1 13 1 6 1-17 1 17 1-14 1 1 1-6 1 13 0-9 1-2 2 6 1 11 0-22 1 2 1 11 1-10 1 13 2 6 3-4 2-15 1 5 2 6 0-14 4 20 1-9 0-10 1 3 2 0 1 17 6-3 1-10 2 15 0-6 3-18 7 5 1 6 0-3 7 10 3-7 4-9 0 15 6-4 1-2 1 9 5-19 0 15 1-8 4-3 1 14 3-13 5-4 1 7 11-2 3 17 7-21 9 19 8 19-12-5-13 2 0-13-16 2-2 13-26-10-7-5-1 19-1-12-2 10-5 1-1 1 0-19-1 1 0 5-7 9-1-11 0-1-6 12 0-3-4-3-1-4 0 13-1-8-1 1-3 12-1-13 0 4 0-11-1 11-1 0-1 0-1 9 0-14-1 11 0-10-1 1-3-5-1 6 0-5 0 7-1-4-2-1 0 12-1-9 0 2-2-10-1 1-2-4-1 4-1 11-2-3-3 11-2-1-1-5-3-11-6-3-1 18 0 0-1 1-1-1 0-4-1-4-1-11-1 13-2-16 0 8-6-6-1 8 0 11-6-19-2 14-5-14 0 11-4-7-2 14-1-12-3 15-11 1-3-16-6-8-10 15 0 6-1-19-7 3-17 4-32-5 13 29 23-1 31 14 3-5 6-16 3 6 1 10 4-15 1 13 8 6 1-13 2 11 11-6 0-9 1 4 10 11 10-14 1 12 2-13 6 20 1-3 11 0 19-13 12-3 1-2 2 17 1-3 0-13 7 17 2-5 2 2 1 3 0-9 1-1 1-1 8 2 9 4 5-6 27 2 8 5 26 4-6 19-11 0-2-7-6 0-6 10-2 7-6-5-10-18-4 4-2 7-3-7-19-2-3 7-25-1-3 2-10-3-1 13-9 2-8 0-2-1-7-21-1 23-4-12-1 1-8 8-1-19-1 4-7-4-8 11-12 3-5 8-33-6-15-4-21-10 29 25 8-4 19 0 15 4 0 20 11-11 3-11 17 12 6-3 25-7 4 13 6-15 0 11 2-12 12 13 3-8 19 3 11-9 2 15 8-10 10 9 3 7 50-18-46 41-6-17-43 18-26-20-23 20-13 4-46-23-6 15-99-2 107 26 47 7 36-16 65 4-73 25-4-5-12 24-26-25 30 4 81-8 53-2-52-23-18 10-43-10-4 17-46-6-69-23 5-12 27 4 12-2 4 9 0-2 6 6 14 3 72-13 0 6 1-7 9-3 17 9 14 1 41-33-18-3-31 0-36 10-15-9-4-1-3 16-3-12-1 9-3 0-5-2-1-2-4-2-2 2-6 8-4-16-16 16 0-14-15 18-25-6-9-10-28 1-7-7 0 24-3-47 14 21 10-18 6 3 11-5 4 0 4 8 6-7 6 12 10-15 0 4 3-3 2 10 3-9 1 9 3 3 10 9 1-22 17 18 1 2 1-16 11-3 12 16 1 0 24 0 2 3 6-20 7 14 4 5 2-17 9 4 1-8 3 19 14-2 5 2 17-11 15 5-15-35-19 16-3-3-2 5 0-13-17-6-4 18-2-14-13-2-6 20-5-23 0 18-10-18-4 7-4-4-10-3-2 19-2-18-2 3-1 1-4 8-1-13 0 8-10-2-9 0-3 12-2-16 0-3-3 5-3 18-2-16-1 5 0 11-1-3-4-17-3-2-6 8-8-9 0 11-1-11-2 19-3-16-1 12-26-3-5 5-27-16-1 10 36-13 2-13 4-1 3-4 1 9 6-3 5-8 3 18 3-10 6 2 1 6 3-1 1 6 1-15 0 10 1 1 5-8 2 8 2-18 10 13 6 1 1 3 1-9 0 0 0 10 2-2 1-17 3 3 1 0 0 15 3-3 6-10 2 13 4-13 2 14 1-1 0-11 2 13 2-9 3 1 1-2 2 1 8 9 2-7 6-9 2 10 0-11 1 3 1 14 1-15 5 4 7 13 2-1 1-20 5 20 4-8 0 3 1-16 7 13 4-2 5 2 17 4 3 6 3-21 28 7 32 12-35-38-14 7-3-15-3 22-7-3-1-10-1 3-19-3-3-8-6 0-1 0-2 5-4-6-3 5-8-2-1 7-1-8 0 6-1 14-2-15-2 16-3-2-1-11-1 7-2-16-5 6-1 6 0 0 0 1-2 0-1 9-2-19-4 8-4-11-1 4-1 2-3-4 0 3-1 4-2 6-1 2-2-15-1 6-1 13 0-15-4-5-1 4-1 14-1-10-7 0-3 5 0 3-8-4 0-11-1 10 0 7-1-14 0 7-3 0-3 3-2-9-1 8-1-11-1 18-2-15-3 4-5-10-3 6-3 14-17-3-2-4-8 1-1 4-6-13-7 11-4 4-22-22-31 11 8-15 3 2 22-22 20 1 4-2 1 17 3-6 0-2 20 7 9 7 3-14 2 1 3 2 2-1 7 8 0 0 3-14 0 17 2-14 9-5 2 4 1 7 1 9 1-23 1 8 0 15 2-9 0 5 5 1 0 2 1-2 1-20 4 4 4 14 1-2 1-6 2 10 2 3 3-23 0 24 2-8 3-12 0 3 1 8 4-3 6-6 2 3 0-2 2 5 3 7 3-10 4-9 2 8 10 11 11-8 2-8 0 6 1 11 1 4 1-4 1-8 2 10 2-8 4-1 6 0 3-1 2-3 0 7 3-6 27 12 20-47-5 2-16 21-23-6-5-5-3 7-10-16-17 10-2-9-1 8-5 8-1 2-3-17-3-1-3 4-1 4-2 6 0 6 0-5-2-1-5 1-1-12 0 16-4-9-2-9-9 8-6 11-3-1-1-7-3-16-4 8-6-1-5 3-1-6-3-4-1 10-13 12-11-16-4 2-4 15-2-9-1 9-2-20-47 21-29-2 26-28 2 1 5 1 7-5 7-14 25 19 7-13 7 7 3 0 1 1 16-1 12-15 3 19 2-3 0 6 9-18 2 4 1-5 2 14 2-8 1 11 1 4 2-12 2-12 2 12 0-10 5 6 14-1 1 10 3-16 7 11 3 0 6-8 4 10 17-8 37 8-7-15-10-16-17 1-2-6-14 0-25 13-9 2-4 4-9-9-3 3-3 6-4 0 0 0-5-3-22-9-11 7-7-10-25 6-2-1 18-25 17 0 26-3 11-3 6-6 8 19 13-1 31-4 91 5-56-39-18 14-29-14-32 9-3 9-3-6-20-2-14-9-58 18 79-73-95 67 11-5 32 6 32-9 70 4 12 15-27 5-13 15-5-20-8 12-131 11 10-1 1 4 16-1 20 7 12-11 6 3 0 13 12 7 0-20 0 0 10 13 16-1 0 8 1-5 18-3 1 0 0 5 2-1 15-5 2 5 4 1 3-9 15 13 9-13 11-7 14 11 2 4 17 28-11-16-29 14-5-5-2 2-15 6-13-3-6 1 0 2-2-4-5 0-4-4-5-1 0-11-11 15 0-5-8 4-3-11-2 13-8-15-13 18-1 2-13-14-7 4-16 9-12-23-7 5-39 39 18 4 5-20 5 3 6 8 13-5 6 4 3 10 9-10 0-2 3 6 1 2 2 1 1-10 2 1 2-1 7 11 1-8 4 4 1-1 7-14 0 7 13-7 1 19 4-20 4 18 4-2 15-6 4 9 2-1 1 4 1-7 2-8 3 4 3 9 1 0 2-8 6 3 1 1 0-5 4 6 5-5 9-4 32 11 1-10 6 1 18-8 8 9 4 4 1-5 11 11 6-7 2 1 2 15-15-4-8 20-8-18-2 5-4 7 0-11-5-5-7 19 0 2 0-13-5 6-13 4-2-11 0 16-5-4-8-4-2 2-4-5-3 0-3 7 0-14-3-2-4 0-3 16 0 3-1-20 0 17-1-10-3 7-3-15-2 17-1 4-1-3 0-17-7 4-1 10-2-8-1-7 0 17-1 4 0-18-6 3 0 15-2-2-1-6-7-2-1-7 0 10-8-6-1 10-5 0-11-3-3 2-2-8-5 10-3-5 0-12-1 13-3 5 0 0-2 2-3 0-3-6-4-14-3 17-1 2-1-12-1 8 0-11-6 12-13-19-9 21 0-13-7-2-1 13-17 3 17 17 33-10 6 7 5-5 1 9 1-3 7 0 0-8 4 15 2-10 4-4 1 1 2 5 7-10 1 0 1 9 3 3 0 6 2 2 2-1 1-7 0 10 4-22 3 19 0-10 1-9 0 11 3-5 1 1 0-1 0 4 1-5 1 12 1-13 1 4 3-6 1 16 1-15 0-4 2 16 1 2 1-1 4-12 5 8 5-13 1 1 1 10 2-9 3 16 1-18 1 7 2-6 0 15 0 0 1-1 2 7 1 0 2-5 1 7 2-3 1-3 1-3 2-15 4 19 1-11 2 15 2-22 9 4 3-4 2 4 2-4 1 8 7-5 0 11 3-15 3 11 2 1 0 10 5-15 6-2 1 11 67-8-33 30-28 6-15-3-1-11-9-5 0 7-5 6-3-2-1-8-4 14-9-14 0 5 0 7-14-12-1 14-2 1-3-5-1 7 0 4-2-14-2 11-1-9-6-4-1-4 0 8-2-4-4 9-3-3 0 0 0-14-2 1 0 11-2 4 0 4-2-11-1-1-3 13-3-19-3 17-2-14-1-3-2 15-10-1-1-13-3 4-7 6-2 5-2-1-1-7-7 2-3-2-1 0-1 8-1-6-1-8-4 2-8 4-12-7-14 7-30-3-11 38 18-5 27-11 24 4 7 14 15-9 1-6 3 5 1 11 1-13 4-7 6 9 0-12 2 11 5 9 0-15 7 2 1 3 4 6 5 4 1-1 0-6 2 6 3-9 1 10 2 0 6-12 3 2 13 7 0-4 3 9 6-1 1-8 1-10 1 13 21 0 17-16 2 6 3-5 5 9 1 6 7-8 1-5 4 14 25-10 5 2 12 36-18 0-11-11-31 6-8-13-13 3-1 0-1 6-7 0-8 10-1-16-3 12-2 7-6-1-4-6 0-3-3 1-10-11-7 14 0-3-5-15-2 5-3 18 0-8 0-4-1-1-5 13 0-10-1 9-4-9-11-10-7 4-3 4-3 13 0-4-1-13-4-7-6 1-3 12-8 0-3-2-11-2-17 10-1 1 19 12 26 6 22 3 2-14 10 6 2-7 3 7 23-4 0-4 8 17 12-9 5 1 3-1 6 0 24 10 2-1 7-6 1-8 9 0 7 3 6 2-52 19-25 20-5-3-15 5-11-10-10 5-15-19-3 16-35-16 50 32 30 12 12-17 21 4-132 36 163 13-93-29 84-26-38 16-106-37 34 9 14-10 22 1 9 0 0 4 3 9 22-15 3 8 28 8 9 2 23-41 0 19-12-3-11 3-10-5-24 0-11 0-13 6-11-13-4-9-11 17-1 5-2-14-2-4-1 5-1-10-5 13-15-13-4 23-1-7-7-14-11-1-3 4-5-2-65-2 37-27 22 8 7 5 29-10 1 3 5-5 3 20 2-13 8 5 2-1 6 9 4-12 9 11 1-13 4 11 3-1 4-11 4 11 7-5 2 8 13-8 15-11 1 19 4-5 1 6 10 0 7-16 2 11 4-10 4 5 18-11 20-2-12-16-4 17-5-9-5 2-7 1-8 4-3-19-7 10-4-4-2-3-3 8-2-9-9 19-6-1-4-17-5 4 0-9-3 10-4 10-1-12-1-9-6 9-2 6-14 1-2-1-9-3-2-10-2 12-4-7-15 0-3 13-3 0-2-11-6 6-1-14-7 7-6-3-1 11-3 6-14 2-4-1 0-18-2 16-112 2 62-46 26 9 3 2 18 5 10-10 4 1 0 1 1-1 1 1 6-9 1 11 0-8 11-1 3 14 5-11 8 4 0 2 0-12 7 13 1 0 0-6 1-4 1 3 2 16 1 1 1-9 0 7 1-9 0 12 4-3 1 0 1-14 2 3 2 4 2-12 5-1 2 7 3 0 4 8 3-5 2 1 5-2 1 0 0 0 1 10 1-8 2 8 3-17 2 18 1 3 0-5 3-6 2 5 2 4 7-12 0 7 1-15 2 3 0 4 0 4 1 4 8-15 3-2 4 11 1 9 0 3 8-21 21 1 12 21 10-1 1-19 2 12 4 3-3-37-8 16-1-21-3 19-20-8-5-10-1 6-5 9-2-16-1 4-3 15 0-13-1 3-4 1-3 5 0-12-2 3 0 12-4-17-1 1-4 6-3 6 0-4-1 2 0-11-3 6 0 6-1-4 0-4-2 7 0-14-1 3-1 6-2 4 0-4-2 11-2-8-4 4-1 7-4 0-2-10 0 11 0-12-2-10 0 16-2 3-11-17-1 7 0 0-1 1-2 8-1-5 0-6-1-1 0-6-2 16-3 0 0 0-1-6-1-3-2-3-1 4 0-3-2 17-1-13-1-7 0 16-2-7-5-8-2 11 0 3-11 5-2-2-1-2-6-17 0 19-3-15 0-4 0 8-4-4-5-1-4-4-12 2-16 3-3 6-2-2-4-5-3 13-12-6-35-6 37-11 13-7 1-7 10-2 12-3 0-2 3 0 5 9 2 8 3-7 1 0 7-7 6 12 3-7 3 12 0-10 6-7 1 1 6 20 0-2 1-16 10 16 0-12 8 1 2 1 2 10 0-5 4-6 3-6 6 0 0 8 2-1 2-10 0 9 4 9 7-8 6 0 1 11 1-7 4 0 2-2 3 8 6-20 0 21 5-12 5 9 4-5 10-5 1 2 1-7 8 13 0 0 1-8 2-5 4-3 7 0 13 21 41-3-40-44-2-1-8 9-12 9-3-17-13 1-1 3-9 0-6 6-6-10-1 17-2-1 0-9-2 11 0-7-3-6 0-2-11 11-2 2-3-8 0-3-3 11-5 1 0 6-1-18-4 14-2-19-1 13-1-10-1 15-3-5-14 6-1 3-6-16-3-2-2 13 0-13 0 16-2-5-8-15-10 15-1-5-7 12-2-12-2-3-20 10-4-13-4 11-4-15-15 16-1-7-7-16 16 0 22-7 24-4 1 0 3 1 1 4 12-12 6 23 3-1 5-4 1-9 5 10 0-2 6 5 2-11 3 2 7 10 2-8 7-3 3-12 1 21 2 0 0 1 0-8 4 1 6-1 1-5 3 1 7-6 6 0 0 9 3 8 11-10 1-5 2 10 2-8 11 14 14-3 39-17-60-20-3-3-21-1-11 1-11 19-2-22-1 16-2-16-5 14-13 3-5 4-2-6-11-9 0 0-2-3-20 0-3 14-10-10-40 0-3 1 53-15 7-2 6 3 20-18 2 16 7-14 23 4 9 8 72-1-3-32-46 12-5-4-5 1-7 3-81-43 59 14-28-37 1-17-99 79 80-3 19 0 5 6 14-10 4-2 6 0 33 6 74 35-90-12-7 10-52-3-5-13-3 12-3-2-38-3-1 6 13 10 20 15 10-2 2-15 6 12 7-4 3 7 0 4 5 0 5-17 3 2 12 10 5-15 7-1 20 22 4-7 3-5 4 4 66 5 12 18-19 9-21 2-2-4-1-12-21 9-22 3 0-1-3-7-3-7-2 16-8-16-1 10-2-10-1 5 0 0-14 7 0 5-1-18-1 11-2-2-6-8-4 4-5 16-4-5-11-9-4 9 0-2-18-13-16 3 0 12-8 1-7-16-60 29 30 9 4-5 3 11 8-4 24-18 1 19 2 1 1 0 4-2 4 2 2-20 0 6 5 16 1-6 5-11 8 8 5-3 4-1 3-5 4 9 4 8 0-17 2-5 3 10 1 9 2 4 2-9 3 4 2-14 0 7 5 4 1 4 1 1 0-8 3 12 8-8 0-6 3 5 0-13 1 18 1-1 0 2 7-7 5-10 23 19 0-10 2 10 0-17 1 12 2-15 1 14 14-11 3-4 15 7 18 5 25 10 3 22-16 1-24 2-22-15-4-4 0 8-4-8-5 7 0 6 0-9-1 13-1-6-8 1-7-10-3-1 0 8-2 5 0-10-2-7 0 15-7-12-1 6-1 0-3-10-1 21 0-7-3 6 0-9-5 2-2 3-1 5-2-6 0-15-1 14 0-1 0-2-3 2-6 4-1-18-2 24-1-12-1-12-2 7-1 1-1 13-1-5-1-12-4 0-1 11-1 8-1-20-1 7-6-4-1 10-1 5 0-12-9 3-2-2 0 4-3 3-3-6-4-2-3 7-5-13-2 16 0-13-1 3-5 8-3 0-6-5-3-2-5-10-2 8-8 10-13-16-1 22-29-7-18-3 45 20 1 5 5-9 4 18 5-13 6 7 4 5 3-19 1 21 0-11 1-12 1 9 2-7 1 21 1-15 1 12 4-2 2 0 1 2 0-4 2-13 5 15 1 2 6-13 2-3 0 12 2 5 4-12 2-10 0 20 0 2 1-15 3 7 5 0 0 3 0-7 1-10 12 12 3 8 2 0 2-4 1-13 3 0 1 17 1-15 1 10 2 8 0-20 3 21 1-11 5-8 9 9 4-6 4 5 0 11 1-10 0-11 0 12 8 2 3 5 1-10 1-4 4 3 0 3 2 9 0-17 3 5 3-2 0-2 1 9 4 2 4-18 2 3 5 11 6 9 9-9 11-10 15 14 11-13 10 5-6 25-4-2-30 10 0-17-11 14-2 6-2-18-4 8-4 5-4-5-19-4-6 6-3-4-2 15-4-22 0 6-1 1-9 9-2-1-1 3-1-19 0 0-2 9-2-3-1 7 0 5-1-9-1-10-2 22-2-20-2 18-4-7-3 10-1-2 0-19-2 4-3 3 0 3-1 9-1-16-3 10-3-11 0 2-1 10-1 1-2 6-6-16-2 17-1-11-4-6-12 10-1 4-10-15-3 2-3 16 0-24 0 18-2 3 0-11 0 7-1-1 0 0-2 2-2-7-3-2-12-4-21 3 11 32 10-10 12 15 3-8 1 3 14-7 8 8 1-13 2 10 11-10 12 15 9-2 8-2 5 6 1-3 0-17 4 24 9-14 5-3 2 2 6 12 0-4 1-10 1-3 3 9 4 4 4-13 1-2 1 21 7-14 2 15 1-14 8-6 1 8 2-8 5 1 10 6 3-8 32 21 10 10-32-9-23 11-5 7-13-3-4 0-2 4-3 0 0-12-10-5-7 5-7 14-5-8-2-1-7-4-2-2-5-6-10 1-8 5-3 13-6-19-7 23-3-9-10-4-6-5 0 8-4 2-2-13-17 1-5 12-19-14-14 21 29 20 12 6 10-1 6 1 20-22 1 6 4 4 4 0 2 13 15-23 19 23 8-19 14 4 1-9 5 20 4-8 5 12 5-23 16 8 2 13 7 1 7-6 87-8-98 32-28 6-22-6-2-8-10-8-4 20-1-20-20 5 0 0-31 1-29 12-11 10 59 14 59-13 0 3 60 2-79 17-111 27 176-42-5 10-13-3-143-29 20-2 88 1 119-24-44 0-7-11-15 1-12 19-10-23-5 10-2 8-9-15-1 8-4-7-2 20 0-7-7 5-6 0-10 2-1-13-5 5-1-6-1 0-10 8-7-7-16-8-2 4-3 5-16 12-3-2-3-20-7 16-2-3-13-12-74-26 30 9 12-3 32-2 0 13 2 3 1-8 2 9 4-15 11-2 6 17 1-10 1-9 3 13 3-16 4 9 6 14 1-1 9-20 0 20 6-22 1 13 0-13 3 12 7-7 4 9 3-12 6 15 2-16 1 5 3-1 8 16 6-10 3-2 18 1 1 4 5-4 1-7 4 11 3 1 1-10 2 0 28 5 2-10 8 11 68-37-49 10-2-10-7 20-4 2-11-11-1 13-6-2-5-4-17-2-8-7-7 2-2-11 0 3-4-3-4 6 0 3-3 0-1 11-2-19-2 11 0 8-6-3-3-3-1-6-3 9-8-16 0 15-12 7-1-19-6 10-1-12-7 17-1-16-5 10-3-11-6 19 0-9-1 8-4-2-1-18-3 16-11 1-5-9-5 2-9-4-6-5 0 13-2 5 0-14-15 3-11-1-26-21 19 0 4 12 4-7 2-10 25 11 2 1 11 4 0-20 1 20 3-14 1 11 2 1 1-7 1-6 0 15 10-5 2-5 1 12 1-8 4-5 0 6 4-11 5-4 3 4 11 7 3 10 1-22 0 17 0 6 0-1 2-16 1 13 5-2 0 5 0-6 3-15 0 4 4-4 1 0 1 14 1-10 6 0 3 3 1-2 0-4 2 4 1-6 4 23 17-2 9-7 2-9 2 15 7-2 5-10 0-8 13 19 2-17 2 7 15 10 5-14 0 6 22 4-17-17-12-10-3-13-4 9-3-7-6 20-1-1-17-12-2 12-1-12-13 11-1-16-4 3-3 0-8-3-10 14-4-19-1 15 0-8-1 13-6 4-5-16 0 7-2-13 0 16-1-7-2 12 0 1-1-13-5-4 0-7 0 10-1-9 0 4-2 7-2-2 0-1 0 3-1 11-4-12-1-5-1 13-1-13-6 2-2 12 0-1 0-8-1-6-4 16-6-17-2 13-1 7-1-11-7 0 0 3-4 0 0-1-2-2 0-8-2 2-4 9-6-13 0 21-3-11-3-12-12 2-1 6 0 10-1-2-10-8-5 11-3-20-7 2-11 20-8-35 19 3 3-5 2 5 11 5 2-13 6 13 3-1 4-6 6 6 6-12 5-7 2 8 1 12 8 1 3-2 1-7 1 2 3 2 1-10 2 0 8 8 3-1 2-7 2 1 2-4 3 12 1 9 7-21 6 18 5 1 1 2 2-16 4 11 4-2 3-13 2 1 6 7 1 4 2 4 4 4 2-15 1 14 4-13 1-7 4 19 1-4 1-2 3-3 0-5 1 4 2 6 5 6 8-16 5-8 1 9 12 9 4-12 0-1 3 3 7-5 10 11 2-1 51-28-31 2-31-5-11 1-5 8-1-7-9 10-1-18-1 13-12 4-3-4-8-14-3 24-5 0-8-23-7 7-1 11-2 1 0-13-2 2-1 14-11 1-3-5-2 4-1-14-7-6-1 17-2-16-1 1-1 2-1 4-1-7-7 4-1-5 0 17 0-18-1 8-7-9-1 18 0-10-13-8-15 23-7-1-15-23-8 5-3 3-5 8-1-15-25-6 26-1 14-4 9 1 8-10 2 11 8-17 5 18 1-3 0 2 0-2 1-9 9 6 7-6 2 8 3-3 9-7 2 13 0 6 1-21 2 14 13-14 1 8 3-1 2-8 2 16 10-7 3 6 4-6 0-4 1 16 2-5 9-15 15 20 8-19 3-2 2 11 6 1 9 11 3-9 16-4 4 5 4-7 34 7 10-12-72-17-20 12-7-15-10 8-12 1-2 6-3-22 0 1-1 2-1 8-14 8-2 1-3-10-12-7-30 5 0-8-30 7 4-12 42-7 6-6 1 13 24-10 23 10 19 0 2 1 2-21 21 15 23 4-95-41-13 19-11-13-11 12-9-3-28-4-6-11 163-17-45-17 38 28-196-6 0 28 11-1 37-3 37 2 7-2 6-14 79-2 5 37-7 0-7 11-25-21-4 18-13-10-19 7-15-13-10 14-3-10-1-5-6-1-16 0-64 25 49 0 9 14 20-13 1-2 2 12 11-3 4-6 2 5 47-4 16 7 11 6 14-3 7 6 4 2 69 25-52-12-22-7 0 5-2 1-3 1-11-1-3-4 0-5-4 17-1-13-6 9-8 0 0-13-7 16-6-4-9-1-4-12-4 20-1-3-3 0-3-2-6-5-5-7-8 13-9 7 0-11-2 10-4-2-16-15-3 0-2 5-6 2-5 11-10-5-2-19-49 20 16 15 35 10 5-20 0 17 26 5 5 0 2-9 9-6 0 12 4 5 6-11 4-11 0 11 5-8 2 2 1 14 4-19 2 20 5-2 2-9 1 12 4-1 0-11 0 3 9-8 6 12 6 0 0 2 2-8 1-4 2-7 5 18 4-1 1-16 3 9 3 8 3-16 1 2 2 15 2-10 1 14 3-12 8-7 8-3 1 3 2 12 0-15 4 3 4-5 4 13 3 5 14-6 39 23-19-4-18 7-8 0-10-4-4 5-2 0-1-4-3 7-1 7-4-21-9-2-10 18-1-12-4 10-3-15-3 2-1 10-2-3-2 2-3 11-1-21-3 15-12-15-1 18-1-5 0-12 0 12 0-3-4 9-2-11 0 5 0 7-2-3-2-6-9 9-2-7-6-13 0 1-1 20 0-19-1 14-14 0-4-10-10-6-4 8-6 13-1-19-3 12-4-7-2 11-5-17-4 4-10 11-5-10-18 11-25 6 3 10 5-3 8 5 21-9 1-1 10 15 1 1 10-19 6 24 1-17 0 13 5-19 0 11 1-12 1 22 3 2 7-13 4-6 5 15 1 3 1-13 11 6 3-13 1 2 0 12 1-8 0-8 2 8 1 1 4-3 7 5 0-12 2 24 3-1 0-20 2 18 2-21 4 15 0 6 2-9 2 5 2-8 1 13 1-1 0-8 2-10 2 19 1-19 0 8 5-10 4 14 6 1 4-14 4 4 1 5 6-9 2 6 0-4 3 8 1-6 0 2 4-4 3 1 0-2 1 16 9-13 1 7 4 1 9-11 9 5 35 16 47-18-45 19-20 18 0-13-2-1-15-1-13 17-24-8 0-8-2 16 0 2-3 1-1-20-3 4-12-7-1 1-4 6-6 8 0 7-1-19-5-2-1 22-2-20-1 4 0-7-1 15-3 0 0-10-2 13-2-10 0-1-1-2-1 2-5-1-3 13 0-9-2 6-3-8-1 12-1-2-2-4-2-6-2-8-2 9-2 6 0 2-2-7 0-5-5-1-7 8-1 4-1 3 0-14-3 17-5-7-1 3-13 3-5-10-4 9-5-8-1 7-15-12-21-7-13 7-40 40 21-8 2 6 10-6 14 1 13 8 7-9 1-10 13 20 4-18 3 16 1-3 1-1 4-14 1 11 1-3 2-11 6 18 0-3 0-5 5 3 14 8 0-18 4-3 1 4 9 19 0-17 0-1 2 10 0-1 0 0 1-12 6 15 0-13 1 9 14-8 8-3 2 15 3 1 8 5 0-21 1-1 1 14 2-3 3 3 2 0 1-3 3 10 3-12 3-8 1 10 3 4 3-11 2 0 8 6 1-11 3 7 0-4 7 0 5 6 3-2 5 13 0 0 2 0 5-20 7 20 14-9 66 11-59 19-16-14-9 13-21-15-1 7-1 7-1-6-2 7-9 5-14-2-7 4-6 0-13-10-2 6-4 0-1-11-7-1 0 0-14 8-1-7-12 6-6-4-2 6-2-10-12 9-4-1-2 1-6 5-3-17-13 0-3 2-4 11-15 3-1-11-16 16-3-12-2-9-3 1-3 3 31 36 0-16 4 7 4 5 5-5 7 2 40-6 3-2 5 13 5-6 0 2 4-10 1 15 3-5 6-3 4 5 5-8 12 11 4-6 4-4 4 16 4-4 8-19 15 3 16 14 37-7-17 22-23 11-51-10-2-7-4 9 0 12-46-9-10 3 11 9 53 7 17 6 19-1-27 18-10 2 36-5 0-13-7-9-38 6-32 0-2-10-23 4-74-20 73-5 8 15 30 4 14-5 10-9 5 5 11 5 16-9-9-16-1-8-19 5-11-15-20 22-4-9-21-7-4-5-25 13-21-15-47-25 29 2 11 15 6-13 4 3 12 9 16-15 4 6 8-4 0-2 3 7 8 0 7 3 1-8 0 18 4-19 1 15 1-13 1-3 1 3 3 12 5-5 3 9 4-4 3-14 6 21 5-21 1 6 4-8 1 2 6-1 1 18 11-7 0-6 5 0 12 1 8 0 11 5 43-21-68-17-10 3-2 0 0 9-8-2-3 14-5-8-1-16-1 0-1 0 0 5-1-4-2 7-2-4-11 13-1-1-5-13-5 12 0 4 0-4-1-13-1 12-3-8-1 10 0 6-4-22-3 16-1-15-1 15-2 2-9-15-4 11-4-9-1 16-1-12-1-3-20 2-13-1-11 7-7 4 0-11-4 1-3-8-18 21-4 0-1-20-11-5 0-5 26-14 3 4 11 13 11 1 18-12 4-4 9 20 1-6 1-11 3 15 1-21 3 3 2 10 2-10 4 8 1 6 1 5 3-9 5-2 0-7 1-4 2 8 0 3 6-12 2 13 0 7 0 1 1-5 2-7 2-8 2 21 3-18 0 0 2 5 7-7 1 2 1-2 7 22 2-3 0-18 1 21 4-15 1-8 0 14 0-11 3 7 8 1 0 0 1 1 2 6 1-16 1-3 0 3 1 17 1-17 0 12 0-13 1 5 0-3 0 10 1 4 1-5 1-12 3 4 2 18 1-19 6 9 1 10 4-16 1 12 1-6 1-5 9 14 1-13 0 5 8 10 2-21 6 1 17 6 25 13 27-22 9-8-47-5-12 7-3-19-6 15-5 5-2-20 0 15-9-1-9-13-11 15-2-8-1 2-1-5-1 18-1-20-1 5-6 15-1-15-3-9-6 1-2 22-6-11-6-2 0-4-2 8-3-11 0 15-3-11-1-4-3-3-2 12 0-4-1-5-1 21-2-7 0 3-1-12 0 2-2 12 0-4-3 0 0-2-3-3-3 9-1-9-1 5-1 0-4-8-5-9-1 1-1 14-4 4-2-16-2 15-6 0-2 1-2 3-1-11-1 12 0-22-4 9-3 4-1-11-7 19-13-2 0-17-13 13-4-6-27-8-7 9-2 5-20-10-32-12 55-10 3 9 8-15 22 19 5 0 4-19 7 13 0 2 1 3 2-15 1 1 13-5 4 3 3 18 1-19 3-3 4 1 0-1 2 16 1-14 7 18 0 1 4-15 2 0 3 14 0-17 0 16 1-8 11 7 0-3 1-13 1 8 1-12 3 6 6-5 2 4 3 11 1-14 0 9 1-10 0 21 9-4 4-18 1 12 1-3 1 5 1 9 1-4 1-17 0-2 1 8 4 4 0 8 4-18 1 21 0-2 1 1 2 2 2-3 1-6 1 5 2-20 2 7 6 9 5 0 3-13 35 17 87-39-55 2-14-2-13 14-22-1-6-13-6 12-2 1-2 2-12-15-6 0-8-6 0 22-6-22 0 10 0 8-2-16 0 15-2-6-2 13-1-7-8 1-5 0-1-2-1 0-2-4-2 7-1-1-7 4-1-5-1 6-2-9-3-7-2 0-2 1 0 7-2 1-1 8-1-14 0 4-2-3 0 5-2 4-1 4-2-6-1-15-7 11-3 6-3 0 0 2-14-22-15 13-7-13-3 10-2-7-4 6-7 10 0-6-10 8-4-7-4 8-15-14 9-17 1-2 24-12 2 20 1-10 1-8 18 4 1 5 1-10 1 14 2 4 0 1 7-8 6 5 1-8 20 7 2-4 7-10 14 17 1-4 5 5 1-8 2 9 1-23 1 17 5 1 13 1 2-17 14 15 3-10 1-1 5 17 10-3 4-15 6 17 2-7 10 2 14-11-3-16-6 7-18-4-9-11-13-6-9 17-6-6-2 8-8-10-7 2-4-3-7 14-8-4-1-4-3-1-15 8-6-16-16 12-10-9-8 5-4 0-10-5-23 12-26-2 61-39 44 8 98-19-50-13" marker-start="url(#b)" marker-mid="url(#b)" marker-end="url(#b)"/>
<path d="M978 1035l-62 7-17 13 24 15 26-5 23 5 14-3 67 11-41 1-2 0-3-1-28 15-5-7-11-1-12 9-15 3-7-5-22 0 17 10 2 22 8-6 22-14 13 4 8 11 1-2 4-14 3 13 2-12 2 0 5-2 1 20 2-21 11-1 9 8 6 10 1-2 0-2 18 5 10-5 7 2 42 4 10 25-55-6-6-14-9 21-2-2-6-18-4 1-4 20 0-19-7 16-10 5-5-20-2 13-10-5-2-9-1 8-4 9-1 3-2-12-3 12-1-6-4 5-6-20-6 21-3-5-6 1-2-18-14 4-2 11-7-5-11-7-4 11-1 8 0-13-3 3-9-13-1 21-41-1 28 20 6-6 7-3 3 11 4-8 7 3 4-3 3-9 2 14 0-7 8 10 1 5 5-6 1-12 3 12 6-13 2 16 1 2 1-2 1-5 2-2 1 9 2-20 0 19 1-2 3-15 3-3 3 23 0-20 1 16 1 1 1-10 2 2 2-8 8-2 0 5 0 15 3-7 2 1 1-6 10 0 5-5 1 9 3-4 2 14 0-7 1-8 1 9 0-10 7-8 0 9 4-1 10-7 8 16 1 3 11 1 40 1 11-8 8-1 40 31-60-17-25 9-1 1-15 11-3-20-4 12-2 7-4-9-1 6-1-5-1 5-2 0-2-18-1-1-2 20-3-14-1 13-7 3-5-14-2 2 0 10-8-3-5 0 0 7-2-20-1 11-2 1-5 0 0 7-1-12-5 1-1 12-2-12-3 4-2-11-1 9 0 8-2-15 0-4-2 19-1-4-1 0-2-5 0-2-2-1 0-10-1 13-3 6 0-7-2 7-1-9-3 7-1-16-1 9-3-3-3-2-4-3-9 17-1-14-3 11-2-14-2 22-6-3-2-12-3 9-1-5-5-10 0 9-1-9-3 18-5-7-5-9-36-4-14 27 13 19 9-15 15 2 10-1 1 7 5-5 3-2 2 0 4 14 4-17 3 2 0 11 2-16 9 19 3-7 2 9 7-12 0-2 3 2 1 8 0 3 3-2 0-12 2 5 1-11 1 15 1-14 0 13 0-2 2 6 1-7 2 11 2-17 0-1 5 1 0 9 0 2 1 5 0-23 1 24 5-11 5-5 1 11 0-8 0 10 2-9 2-6 0 18 0-14 2 3 0 6 0-7 2 9 0-12 2 0 4-5 3 19 1-15 4-4 1 9 1-10 3 12 2 6 2-3 1-3 1-8 1-2 5-3 3 21 7-17 0 6 4 5 12-6 1 4 1 5 6-5 5-8 3 3 4-1 7-6 5 4 54 34-38 3-8-5-12 7-1-11-5 0-7-4-2-1-1 14-7-16-6 1-1 6-2 7-5 5-6-16-3-3-6 17-2-18-2 21-1-6-2-7-5-1-1 1-7-8-1 2-2 8-1 1-4-6 0 16-2 1-4-8-1-14-6 2-1 3-5 16 0-10-2 6 0-14-1 13-2-3-1 6-4-21-6 18 0-2-2-7-1 2 0-6-1 4-5-1-1 11-5-14-6 10-1-4-1 12-7-8-5 6-2-20-2 4-1 5-4 13 0-11-6-12-2 24-56 3 7 18 18 2 15-6 1-1 12 2 2 1 17 1 2-10 3-9 17 3 17 4 2 12 0-8 2-8 1 0 0-2 8 23 5-10 2-7 1-4 2 4 14-4 0 5 3-5 1-2 9 21 2-17 3 1 3 8 6-9 7 2 2 13 4-8 2-11 2 3 48-2 21 17-25 23-8-12-34 13-1-6-5-5-1-1-1-3 0 16-7 4-8-5-9 3-1-6-2-14-4 16-1-15-11 12-8-13 0 7-3-8-1 1-1 14 0 3 0-9-9 15-10-20-6 3 0 3-4 3-1 1-4 5-7-11-2 15-3 0-6-4-6-13-3 13-6-3-52 5-32 12 38 7 12-4 15 13 13-23 5 22 28-6 7 0 3-16 11 10 28-8 0-2 1 16 3-15 26-2 61 10 54-8-51 32-36 0-13 11-30-7-5-9-1 20-17-24-21 16-4-14-7 12-38-9 56 34 77 8 16-19-4 32-88-8-18 27-127-29 208 7 27-21-44 7-65-38 26 2 6 11 4 2 31-10 1 3 9-2 23-10 48-17-26 9-25 0-7-3-2-11-2 7-19-4-3-5-11 16-6-14-1 19-2-12-8-7-1 19-1-12-38 5-5-16-23 14-12-12-5 7-1-15 10-12 1-4 6 21 6-3 6-14 1 8 10 2 20-14 14 2 10-3 6 10 4 5 15-3 0-10 12 9 4-7 7 13 2-3 2-16 5 19 3-5 1-2 7 1 14 5 14-15 8 21 6-2 5-17 13-4 4 0 31 18-66-44-17 23-3-20-11 0-1 10-6 4-4-2 0 1-9-9-6 1-7 13 0-21-2 23-9-18-4-3-1 1-1 0-1 9-3-8-3 16-2-9-2-5-2-5-3 19-6-20-1 19 0 0-2-7-1 8-1-6-1 5-4-8-7 9-5-9-3-4-3-4-3 18-1-5-1 3-7-10-9 6-11-8-1-4-7 5-1-7-21-1-33-7 3 6 6-18 14 6 0-7 3-2 17 19 3-16 2 7 8-11 1 20 3-17 1-3 0 17 1 4 12-9 3 7 2-19 11 1 4 14 4-16 2 10 1 7 4-15 2 19 0-8 5 0 0 10 2-21 0 3 2 0 3 4 3-1 2-2 4 0 1 15 3-19 1 8 1-4 2 5 1 11 4-22 3 7 2-7 4 6 1 5 2-7 1 1 2 14 0-16 0 9 1 2 1-8 1 3 1 8 1-7 5-2 1-5 1 13 4-2 3-3 3 4 4-1 1 7 35-13 17 0 2-7 36 21 16-11 4-28-7 3-8-11-46 8 0 0-21-5-3 8-3 9 0-19-3 7-1-9-5 1 0 0-6 14-4-1-2-11-3 10-7 8-2-15-12 18-4-21-3-3-6 14-1-10-2 16 0-1-6-14 0 2-3 3-5-3-1-4-3-3-1 4-4 13-1-15-2 8 0 13-1-8-3 8-1-8 0-3-2-9 0 21 0-13-1 11-2-2-2 4-1 0-1-9-2 3-3-16-2 8-1 14-1-7 0-3-3 5-1-6-5-4 0 11-1-10-1 11-2-4-2-3-2-7 0 0-2 10 0 2-2-3-3 1-3-12-2 18-1-9 0 4-11-4-3 1-20-11-42 17-1-14 29-31 2 3 7 18 0-3 4-2 0 0 5 6 0-1 4 2 25-9 5 8 1-3 9-7 2-11 1 4 1 0 12 9 4-5 1-2 2 9 1-17 0 7 2 1 1 1 1 5 0-11 3 16 0-9 2 10 1-15 0 0 1 11 1 5 0-18 1 13 6-16 3 7 0 2 0 0 4 8 0 4 4-14 1 13 3 4 2-15 1 15 3-22 3 1 1 15 3-15 5 14 1 5 0-11 2 1 1 7 3-5 1 7 1-7 10 4 0-6 1-3 0-1 3 0 1-5 0 0 5 17 4 0 0-17 6 2 9 16 10-11 10-4 8-3 4-1 5 18 4-6 18-17-3-12-25-2-1-6-4 16-11-11-12 2-4 10-11-16-6 20-4-8-1 0-4-4-2 0-1 6-2-11-7 17-2-21-1 4-5 13-4 2-1-8-4-8-1-3-1 21-8-4 0 3-4 2-2-1-4-19 0 1-4 16 0-5-8-6-1 4-6 10-1-22-5 9 0-4-1 1-2 10-6-10-1 5-2 10 0-22-8 3-1-2-2 0-1 5 0-2-4 6-2-1-4 6-1-4-7-6 0-6-2 13-1 10-6-2-6-3-32-6-2 2-23-14-4 2 35-16 10-8 31 4 8 13 4-4 13 3 2-14 22 14 4-10 5 8 3-13 3 10 1-1 1-7 5-3 5 16 3-5 3 10 6-4 4-8 2-12 7 6 2 11 0-4 8-11 4 0 4 17 5-8 36-2 17 15 48-20-64-7-1-13-17 14-6-18-7 16-3-12-7 10 0 2-12-17-3 4-5 1-24 7-13 6-1 2-5-21-1 8 0-6-4 5-4-10-11 16-2-12 0 19-5-4-10-4-51-21 70-19 1 22 1-10 9 9 17-3 12 3 54-31-32-5-14-2-24 2-30 9-16-10 18-13 67-58-69 61-19 25 15-10 36-2 28 4 8 5 31-7 30-6 15 35-9-6-32 10-4-4-2-5-39 2-16 8-15-14-6 15-1-5-60 29 11-2 14-12 8-9 2 18 18-2 0-10 4 13 3-17 1 9 5-5 1-1 0 8 30 0 2-8 0 0 1 1 12 10 4-13 2 7 8 14 13-10 3-2 19 10 2-12 22 38-22-8-8 6-13 0 0-9-4-6-2 16-1-7-2 2-1-5-29 7-7-19-4 9-7 8-5-3-3-2-10 5-4-4-2-1-13 7-12-17-4 13 0-6-1-9-35 24-21-14-21 4 9 11 10 22 19-2 9 0 13-12 4 13 1 0 0-15 11 3 2 12 1-5 1-10 8-3 1 20 1-13 0-5 1 7 4 5 1-4 4-11 5 18 1 4 10-14 13 9 1-15 1 14 6-8 1 0 9-1 7 7 4 8 8-21 4 7 1-7 1 9 7 8 11-2 9 3 16-14 1 1 5 12 10-12 74 33-75-12 0 0-1 8-11 10-4-19-8-1-5 4-5-5-14 22-2-9-4 8 0-22-4 20-3 4-4 0-2-13-2 9-4-9-1-3-1 2-3-3-2-6-1 21-2-10 0 7-1 3-2-2-1-9-4-7 0 18-1-21 0 10-1 12-1-5 0 1-2-1-2 1-6-5-2 0-3-4-1-3-9-5-1 10-2 2-1 4-6-7-1-8-2 17-1-17-1 2-6-1 0 16-2-19-2 6-2-2-8 16-5-6-2-3-2-9-5 10-1 9-2-16-8 5-16 3-2-2-26 24 8 0 17-10 2 6 8-5 0 7 3 2 3-9 2-2 5 0 9 8 2 16 12-1 5 0 3-11 2-12 4 8 3 3 1-7 0 1 1 6 1-5 2 18 1-11 1 6 3-11 0 13 0-9 3 12 2-19 2 1 0-5 0 14 2-11 1 3 0-4 3 18 0-9 0-3 1 3 1-7 6 16 2-5 1 3 1-11 0-2 0 10 3-14 3 6 3 5 2 0 1 4 0-2 3 9 1-16 0 6 1-9 6 16 0-9 5 2 0-1 1-10 1 21 7-23 0 9 2 1 4-1 2 1 2 1 5-11 1 1 1 14 3-8 3-4 0 16 0-4 23-12 3 11 12 2 4-3 21-11 3 19 22-9-44 34-13-13-12 7-7 6-8-15-3-4-6 20-1-21-3 11-2 0-3-13-2 0 0 19-2-16-1 7 0-3-2 12-1-1 0-11 0 13-2-3-1 1-2-16 0 17-5-15-1 14-1-8-4-1-1-7-3 6-2-5-2 7-2 12-1-11-3-11-2 9-5 5-6-14-1 6-3-3-1 0-1 20 0-3-4-15-1 0-2 16-2-14 0 0-5 11 0-17 0 16 0-1-1-11-3 16-3 2-1-17-3 0-1 6-1-10-5 5 0 15-1-5-1-5-3 11-5 1-8-18-1-2-4 6-5 2-1 1 0-3-3 0-10-1-31-9-16 17-1 9 50 9 11-5 6 2 2 1 19 10 0-11 0-2 2 11 3 8 1-23 0 13 0-14 5 9 20 7 1-7 7 15 6 0 0-12 11-4 0-2 0 4 1 13 6-20 2 3 7 2 1 12 4-19 1 14 0-14 10-1 3 5 3 12 3 3 1-13 2 10 12-14 22 8 6 12 7-10 16 10-11 22-20-18-1 6-1 6-7-6-6 9-10-8-3 0-4 6-4-13 0 15-3-11-3-5-9 10-8 12-4 1-3-2-2-6-2-8-13-6-1 4-1 14-2-18-6 5-4 12-10-19-1 14 0 0-1 8-4-19-1 18-3-15-1-5-8 14 0-8-3 13 0-8-1 3-11-5-15 11-6-5-11-13-1 3-30 2 44 35 8 6 12-2 6-16 2 5 0-1 8-8 5 8 5-2 9 14 1-8 6 0 23-5 4 15 1-18 10 14 12-14 0 10 4-16 5 19 10 3 4-19 12 5 9-7 11 5 29-5-60 32-5 0-2-5-8 9-1 10-24-22-6 0-8 2-22 6-22 2-5-6-22 12-38-16 31 25 49 0 19 1 19 10 28 1 15 18-78-4 128-17-34-2-18 10-3-6-6-6-28-4-14 20-60-11-19-25 22 9 46 1 12-14 31 0 27-3 16 13 24-24-19-3-8-5-21 13-4-9-14-3-3-7-1 1-1 7-9-9-5 2-4 7-2-4-2 7 0-6-15 10-17-9-19-5-12-3-12 13-5-4-6-2-3-1-31-3-36 19 71-30 10 3 0-18 4 6 7 5 0-12 1 10 0 10 0-16 5 8 3 9 1-19 4 15 1-3 6 5 3-16 7 1 2 3 10 14 1-11 1-12 3 21 2-8 2-7 1 5 0 10 5-12 4-6 2 16 1 0 6-6 2 6 3-14 1 4 10 10 0 0 3-18 0 4 6 16 9 3 6-18 7-5 12 15 13-7 22-22-29 2-15-4-1 2-7-6-2 5-11 10-5-17-1 3-14 15-7-2-1 2-4 0-6-6-1-6-1-3-2 13-5-11-3 7-2-13-3-1-6 17-3-17-1 7-3 8-2-17-7 15-7 3-8-13-2 19-1-20-8-1-4-1-1 0-4 21-9-7-6-16-8 1-2 7-13 15-14-47 29 22 1-9 9 0 5-7 5-3 3 16 1 1 1 3 1-14 0 9 1-1 1-17 2 20 7-9 3-2 2 2 0-12 1 17 0 3 1-8 1 10 2-4 4-13 0-3 1 20 2-13 3-5 4 1 2-3 0 16 2-17 1 2 6 11 1 4 3-1 3-11 1 7 1-6 1 0 1-5 3 18 2-1 0 1 1-2 3-8 1 1 1 8 4-18 1 1 4 11 2 6 2-6 2 7 2-13 1 8 2 2 0-6 2 6 1-16 3 1 1 0 2 17 1-10 2-7 0 2 2 9 0 5 1 4 2-4 8-14 20 6 0 5 5-14 0 0 2 12 1 7 20-9 16 13 24-36-9-9-38 6-7 13-12-12-1-10-1 1-22 16 0-11-6 16 0-13-2-3-1-4-2 16-3-19-4 16-6 2-1-8-2 0-4 4-5-1-3-4-4-2-1 7 0 0-1 8-2-18 0 1-4 19-2-9 0-4-1-9 0 4-2 6-4-4-6-7-2 18-1-7-1 2-5-4-1 14 0-8-7-4-2-2 0 2-1-6-1 16-1-22 0 16-1-10-3 3-6 0-4 13-3 0-1 0-3 1-8-21-1 14-2 6-4-21-1 20-12-6-1 4-6-3-25 0-13 8-4-19-3-27 24 11 6 8 9-5 5 3 3-15 6 19 4-21 10 10 4 10 2-8 4-3 2 10 1 0 5-5 1 2 0-17 0 16 1-8 5 12 1-15 8 17 4 0 3-10 2-12 0 5 1 9 5-13 1 7 0 8 1-8 3-10 2 18 4-16 0 1 2 14 0-8 1-3 0 8 4 8 0-9 4 0 2 0 0 8 5-17 3 16 0-11 0-6 3 5 3-5 0 8 1-6 5 5 0-4 4-1 0 4 4 0 2 1 1 0 4 11 5-3 0-1 1-10 1-6 2 13 0 10 4-10 1 5 2-17 11 9 9-2 0-9 13 20 16-9 2 5 35-15-26-21-36-1-6 12-11 2-6-12-9 17-5-9-3 4-3-2-1 4-15-1-3-16-7 20-1-7-10-8-1 15-4 0-2-16 0 3-7 2-8 12 0-7-8-12-7 7-2-12-4 8-3-3-2 8-8 7-2-1-5 4-3-12 0-11-6 6 0 15-6-5-37 3-16-22 33-15 10 9 23-16 11 8 1 3 11 11 6-8 6-6 2 8 6-2 2 5 1 0 9-15 5 10 3-2 0 4 3-3 1 1 1-10 2 6 0 7 1 3 9 1 1-6 2 3 1-2 3-7 10 15 1-19 2 12 1-2 5 6 3-5 1 2 15-11 0-1 3 0 1 11 6 1 16-5 18-8 5 16 18-41-42 5-10-5-6-2 0 12-10-12-8 12-16-6 0 14-6-15-12 10-5-1-8-2-2-4-7 4-1 6-13-9-7 6-3 1-10-1 0 2-2-4-6-16-22 22-10 0-30-3 27-38 9 7 16-7 30 7 12-5 7 5 55 9 71-35-49-7-13 16-14-8-67 10-6-4-52-41 100 10 33-11-166 28 20 13 19-13 6 12 37-11 34 17 69-4 33-5-28 30-21-3-63 8-1-21-15 2-15 17-5-6-12-7-57-6 41 24 50 10 2 10 6 0 12-21 5 16 4-10 19-4 10 9 1 7 1-19 14 22 6-6 24 2 49 19-60 2 0-13-29 16-2-7 0 11-2-19-1 17-1-3 0 1-6 5-4-9-2 4-14-2-14-11-17 20-9-6-1-10-3 6-1-10 0 5-1-3-2-4 0 18-3-13-1 5-2-12-2 2-2 20-10-4-2-10-4 15-2-11-2 7-24-5-18 12 8 17 2-11 0 0 8 17 17-3 5-1 0-9 9 9 7-6 9 3 3-10 3 12 5-2 0-16 2 9 0 7 3-5 2-4 1 9 3 2 6-7 1-2 1 2 0 12 8-23 0 9 0-4 3 4 5-10 0 1 1 18 1 0 1-19 8 3 5-1 1 12 2 2 5 7 4-12 0 7 4-8 1 7 5 4 0 3 5-5 13 2 4-7 21 4 28-18 14 11-10 19-30 5-5 8-3-7-10-10-1 18-4-18-3 20-10 2-4-15-1 14-3-20-2 6-2-3-2 12 0-9-11 4-3 9-2-12-1 13-2-6 0-16-8 24-1-6-6-3 0 2-2 4-1-1-1-20-7 23 0-12-3-8-1 4-3 3-1 7-3-8-6 0-4-2-3 16 0-3-1-2-2-11 0 12-4-10-2-5-1 19-2-12 0 11-1-17-6-3-3-2-1 0-11 19-7 2-17-9-2-12-2 23-14-21-4 16-11-6 2 36 10-15 6-1 7-3 0 5 4-1 10-4 3 14 3-6 4 3 1 8 0-23 5 16 3-10 2-5 2-1 6 1 2 9 5-3 0-5 1 13 7 3 1-18 1 19 1-14 4 14 3-4 2 6 1-18 1 17 2-7 1 11 0-6 1-8 2 13 2-9 3-5 2 5 2-13 2 15 2-1 3 3 1 5 1-18 0 0 0 16 1-16 1 17 1 0 0-11 1 9 3-18 0 4 1-3 2 2 1 10 3-10 0 7 1-1 2 0 2 12 1-14 2 2 0 9 2-4 0 8 2-21 0 10 4-12 0 5 1 12 4-5 2-8 0 17 1-13 2 0 10 8 2 2 2-13 1 0 1 2 1 14 4 1 0-12 2-5 0 12 0 3 22-9 14-10 12 12 58 14-40 7-26 10 0 1-2-3-6-10-6-2-5-2-1 3-13 5-1 9-6 3-2-3-3-19-2 21-5-8-5-13-2 1 0-3-5 12-3 3-1 2-1-11-3-2-4 18-5 0 0-16-3 15-5-11-1 14-1-23-1 3-2 6 0 9-2-18-1 15-4-4-1-2-4-2-1 14-3-18 0-2-3 21 0-7-6-8-2-2-4 16-1-5-1-1-1-13-1 1-1 2-3 14-6-5-4 5 0-15 0 12-4 1-2-18 0 8-3 0 0-4-11 6 0-7-11 4-12-3-10 8-11-3-13 5 0-6 13 29 22 8 5-12 14 7 1 7 4-12 0 7 2-16 3-1 5 8 4-1 3-6 2 16 1-11 3 9 1-5 3 10 4-13 1-2 8 4 1 4 1-4 2 0 3 3 4 12 1-10 0-10 6 17 5-16 1 13 5-6 0 2 5-6 7 9 2-10 2 9 0-2 1-8 2-2 1 2 1 11 5-2 0 6 1-9 4-9 0 7 1 10 5 2 1-7 6 4 3-15 9 18 0-4 14-11 11 0 4 6 42-12-37 28-5-1-11 5-19 1-18 6-5-12-6-1-1 16-4-7-16 11-4-2 0-4-3 6 0-16-7-4 0 15-4 3-1-15-5 0 0 15-16-13-2 0-2-7-15 3-1 14-11-8-8 15-5-24 0 7-1 13-10-17-2 1-17 9-17 2 35 31 13 3 24-8 5-5 9 2 5-10 0-3 2 11 5 9 1 4 14-18 14 5 5-1 1 9 28-19 1 11 20 7 4 6 12-21 4 9 0-2 55-1-34 20-25 13-1 2-1-6-16-2-32 9-14 2-1 2-12-14-9-2-8 10-7 0-37-2-15 8 79 8-26 26 91 20-36-36-90-10-26-13 35-19 47 12 57 0 37 2-15-26-1-3-22-9 0 11-7 6-1-1-4-13-1-1-6 2-6 0-1 10 0 7-13-19-3 14-9 6-15-18-33 17-6-22-8 17-29 5-26-19 0 21 6-42 26 2 9 0 24 14 7-8 0-11 6 8 1-12 1 18 7-16 4 9 1-9 0 3 3 13 3-14 0 2 5 11 2-2 2-12 3 20 11-13 5 5 11-6 27 15 0-7 1-16 4 16 5-10 2 1 19 13 3-19 18 5 49 9-48-34-1 17-12-23-4 11-10 10 0-6-1-11-14-5-2 11-3 2-2-8-4 11-2-2-4-1-2 8-2-16-5 9-4 1-3 2-3 3-3-14-1 13 0-13-1-3-6 10-1 8-1-20-1 1-1 20-4-11 0-11-1 19-3-18 0-1-1 10-2-5-1 18-2 1-8-19-3 19-4-6 0-12-4-4-3 19-3 0 0-20-1 15-6-2-1-7 0 4-4-2-8 12-1-17-9 8-3 12-7-18-8 17-2-5-1-14-6-1-1-2 0 9-6 6-7-15-12 15-26-34 19 0 41 7 9-7 4 5 9 2 1 9 4-20 5 15 8-11 7-3 4 13 0-5 2-7 5 4 1 3 0 8 3-1 1-4 0-5 1-1 4-9 1 18 2 1 2-15 5 14 1-18 4 7 1 10 6-12 1 10 7-14 3 3 1 9 1-9 2 6 3-2 1 10 0-12 3-2 2-3 4 11 5 2 0-1 0 7 2-12 4 2 1 11 5-16 5 7 1-6 0 13 21-16 1-2 14 17 3-1 1-10 8 3 11 5 7 5-13-29-6-6-12-10-1 5-5-2-8 7 0-4-7 18-8-22-1 14-5-9-1 11-5 5-1-19-4 18-4-12-3 4-2-10-9 19 0-4-4-8-1-10-4 9-1 4-1-5-1 1-2 14 0-11-4-12-1 13-1 5 0-1 0-18-2 4-2 0-5-1-5 21-3-20 0 20-1-18-4 15-1-17 0 15-2-16 0 10-2 4-1-15 0 3-5 3-5 0-1 12-1-16-1 3-1 17-6-13-1 2-2-6-1 12-1-10-9-6 0 8-6 12 0-8-1-8-2-7-1 1 0 8-1-6-4 1-1 1-5 8-15-5-5 13-3-19-8 12-16-9-9 7-35-18 45 5 7-17 13 11 5 1 4-4 14 7 5-6 2 6 1 1 0-7 0-12 2 20 2-16 1 8 1-3 1 1 3-11 4 21 0-5 6-12 5 8 0-10 4 4 3-6 2-3 1 8 0 3 2 7 4 1 2-3 8 0 1-9 0 15 3-5 7 2 3-5 3 5 2-9 2 6 0-8 1 3 6 5 1-14 0 7 0 10 3-4 2-5 14 0 3-4 0 3 5-9 7 9 2 8 1-13 7-3 6 7 5 6 5 6 9-10 0-6 0 17 26-21 45 0-92-15-4-2-2 3-3 8-1-12 0 4-5-6-2 15-2-1-2-2 0-12-4 4-6 2-5-4 0 16-4-10-4 4-5-4-1-7-2 8-4 0-2-14 0 16-3 3-2 2-1-13-6 2-1 11-5-16-4-1-2 8-1 11-2-15-1-6-3 19-1-9-2 1 0 11-2-15-1 9-1-6-3 5-4 6-1-17 0-5-1 2-2 19-4-6-1 0 0-11-7 19-3-12-1-7-2 6-10 12-16-17-1 13-1 4-49-29 35-6 4 2 15 7 10-6 11-8 2 2 0 4 5-5 4 11 1-14 1 11 9 3 1-12 2-4 0 5 9 6 5-15 6 6 2 11 5 5 4-6 1-1 4-1 1-12 11 0 0 12 6 3 1-1 1-13 0 9 10 3 0 9 3-8 7-1 2 4 1-14 1 5 5-2 2 5 3-5 8 8 8-9-2-23-9 13-6-20-1 1-9 10-3 8-32-17-8 7 0-6-3-5-2 0-23 15-4 1-3 8-17-11-1 4-3-8-13 1-1 11-39-3 17-24 37-4 22 3 1-4 3-5 18 5 10 0 8-5 23 11 35-1 46-17-63-10-8-14-34 2-100-4 141-46-97-4-6 66 29-11 23 12 11-1 3 4 14-1 13-6 30-3 5 30-32 1-5-8-22 3-3 4-4 8-6-11-8 9-27-2-44 21 0 1 19 7 8-12 28-6 8 10 7 2 3 0 37-5 10 10 21-4 0-14 16 14 14-2 48 20-39 0-15 11-1-6-27 2-9-15-17 15-2-16-1 11 0 6-5-9-16 12-11-9-4-8-1 11 0-1-12 4-6-14-4 12-9 5-1-1-4-19-1 17-12-10-1-6-17 7 0-6-10 11-33-6 9 39 7-5 17-15 2 10 17-9 3 3 3-8 1 14 9-3 4-9 2 8 4 14 0-6 2 0 13 6 1-14 3 0 2 12 2-5 4-1 4-10 3 7 4 2 8 5 3 2 1-18 0 20 6-10 0-3 0 0 1 7 3-13 4 19 5-4 1-2 1-2 1-10 9 2 5 7 2-2 4-13 23 18 2 5 15-21 24 16 5-4 6 15-27-2-16 22-20-8-3 0-6-7-7 4-1 4-1 0-1 2-1 2-2-8-4-4-2 3-1 0-2 4-4-12-3 6-1-8-1 21-4-6-1 3-1-15-3-2-2 20 0-8 0-3-5 2-2 2-1-6-1 4-2 9-6-15-1 0-1 13-1-13-1-4-4 19-1-11-3-1-1-7-2 7 0 1-2 11-1-4-3-2 0 1 0-11-1 10 0 7-1-8-1-14-4 16-2-10-1-2-2 8 0-5-3 5-1-1-3 5-1-10 0 11-3-3-1-4-3-8-2 2-7 6-9-5-7 1-3 13-5-18-4 9-8-12-9 0-10 20-8 0 15 23 4-8 3 9 4-7 9 1 15-12 8 15 9 5 1-9 2 7 4-7 1 4 2 1 3 2 2-11 2 12 1-2 4 6 0-5 3-13 0-6 3 0 0 3 0-2 1 13 2-7 2-2 1 8 4-3 2 2 2-6 2 12 3-9 4-3 0-1 1 7 1 10 1 0 6-5 2-8 1-6 2 12 5-12 4 4 1 15 1 1 0-21 0 21 2-12 2-5 4 4 1 0 0-10 7 21 3-9 0 1 1 5 1-5 0-11 0 18 7 0 1 4 13-21 0-2 0 7 0 7 1-1 3 10 6-18 11 18 2-4 9-10 1 11 0 2 1-21 0 3 4 15 13-11 0 10 41 10-15 18-58 2 0-14-3 13 0-10-7-1-10 9-7-13-3-8-1 10-1 11-1-8-5 8-3-2 0 4-5 1-1-17-2 14-2-12-2 7-1 2 0 6-1-7-1-11-1 18-5-15 0 3-3 7-4 1-1-9 0-9-1 0-3 8-1 14-5-14-1 11 0-13-3-2-1 8 0-14 0 15-3 2-1-5 0 10-3-4 0-11-1-7 0 20-2-13-1 8 0 3-3 5-1-15 0 0-1 10-6-16-1 15-1-12-6 6-5 9-4-5-3 8-3-20-4 13-2-12 0 17-2-7-1-11-4 17-3-6-3-2-1 7-14-1-7-15-36 13 36 31 4-1 13-13 2 8 5 0 1 8 3-8 2-7 12 7 2 5 11-15 1-3 3 7 3-6 3 3 11 10 5-16 3-1 9 17 5-17 2 8 2 16 2-3 10 3 1-12 0-4 1 12 3-4 4 0 3 2 0-11 1 8 6-15 2 0 12 24 0-16 9-3 0 14 7-19 2 23 2 0 11-23 1 13 1 1 26 32-44-2-6-8-1-1-6 4-4-14-8 5-7 7-2-10-2 4-4 17-7-15-1 13-4-8-1 2-3 8-1-12-7-8-1 12 0-4-2-3-2-8-1 8 0 8-6-16-10 23 0-7-9-16-2 1-1 6-1 14 0-6-4-2-15-13-4 24-3-23-8 23-9-23 0 10-16-6-4 10-45 24 22-12 9 15 7-15 58 15 8-1 5-2 3 0 15-12 15 16 14-8 2 14 2-15 16 8 7 3 0 4 1-23 89 24-67 2-5 11-7-9-20-3-34 19-1-4-1-14-10 3-7 15-33-5-12-10-5 11-21-13-6 2-9 33 9 3 15-11 30-5 79 4 3 15 16-9 11 1-43 15-3 3-94 13 88 13-3-25 39-30-31 6-5 17-3-21-26 4-42 9-23-21 15-9 3 9 62 3 12-10 41 2 23-34-2 14-9-12-11-4-14-1-3 0-10 12-3 10-3-15-1-2-7 10-2-16 0 3-13-4-6 0-8 6-13 2-11 12-1-11-1 0-7 9-24-17-19 1-3 6-7 10-10 0-6-7 11-33 2 5 4-3 14-4 24 2 9 20 5-19 10 20 4-22 2 1 5-2 17-1 1 17 4 7 1-15 2-6 4 7 2-6 0 9 0 6 6-15 3 2 2 8 1 5 5 5 5-21 6-1 0-1 6 10 5 2 4-2 12 12 2-15 4 14 21-7 3 3 17 2 11-10-14-23 0 6-20 2-3 2-14-12-7-2-1 15-2-3-3-14-3 4-8-9 0 15-1-7-1-3 0 10-1-16-1 5 0 0-2-3-2 6-1 9-1 7-3-20-1 16-1-16 0 11-3 3-2-18-3 23-4-19-6 12-7-8-5 6-2 2-1-11 0 0-2 15-8-1-6-9-1 1-3 12-5-8-9 0-1 7-1-22-12 9 0-6-4 1-1 15-6 4-7-13-14 4-9 10-8-7-25 7-7-44 7 18 8-3 6-12 28-2 7 13 1-6 7 4 6 4 9-18 0 12 5 6 2-21 4 22 3 2 3-4 1-20 6 7 0 9 2 4 2-11 0 6 2 9 1-20 0 5 3-6 1 3 0 7 0 1 1-12 1 13 0-7 2-8 3 9 1-8 2 12 1 4 0-14 0 5 0 10 0-12 2 3 3 2 1 13 0-19 1 0 2 2 2-2 1-3 2 19 3-7 1-9 0 10 0-1 2-5 0 1 5 12 3-6 1-12 1 9 2-10 3-1 1 0 0 8 3 8 2-15 0 5 0 0 1-5 2 7 4-3 0-1 1 13 3 0 3 4 0-3 4 4 4-3 1-17 5 12 0 1 9 4 2-13 12 2 8 1 2 9 4-16 13 20 5-18 4 15 9-5 16-7 8-26-35-2-8 1-1 7-25-9-4 7-3-8-11 3 0-4-2-3-4 8 0 13-1 2-1-22-3 0-1-1-4 11-3-6-1-4-1 7-3 15-6-17-6 17 0-15 0 7-1 6-5-10-2 11-2-16-2 16-1-20-1 17-2 2-3-19-7 15-1 0-2 3-1-7-4 9-1-2-1-9 0 0-6 13 0-8-1 1-2-10-2 6-2 7-1 4-2-2-1-9-3 10-3-11-2-2-1 1-2-10-3 2 0-2-1 8 0 9-2-2-1-11 0 7-2 9-8-18-2 21-3-8-1-11-2 18-8-14-4 0-10 8-10-9-4-1-4-12 7-9 14 12 7-23 11 21 1-7 7-14 10 0 1 18 3-15 8 21 0-7 6-3 4-4 5-5 3 5 2 2 1 4 0 5 2-16 3 19 10-6 0 3 1-18 1-2 1 15 0-2 7-5 1 10 1-1 2-15 3 4 1 13 6 2 6-9 0 10 2-6 1-8 4-6 1 4 2 5 5-1 1 5 3-11 7-3 0 6 6 12 40-14 16 13 21-7 14-3-12-18-18 8-13-12-19 11-12 1-9-16-3 13-1-16-6 1-3 17-8-15-8-7-2 19-10-20-3 7-2 8-1 8 0-23-1 14-3 0 0 8-5-19-3 17-3-18-2 0-6 5 0 7-4 0-2-9-4 1-1 5-1-11-2 5-3-3-2 5-2-1-7-4-6 18-1-7-6-10 0 8-1 0-2 10-4-4 0 1-15-17-2 20-17-4-3 6-7-18-18 11 8-23 8-12 45 4 2 0 18 2 4-10 8 11 5 4 3 5 2 2 4-20 14 19 7-11 3-12 2 19 2-9 1 13 1-14 2 13 8-3 5-2 13-1 3-8 2 11 9-12 18 15 8-18 23 18-11-46-2 1-26 21 0-16-9 13-12-5 0-9-48 3-1 1-1 7-8-8-2 2-1 3-5-9-6 0-18 0-14 6-1 11-19-10-24-6-32 1 17-23 37-4 14-3 50 7 6 3 20-8 17 1 21 16 8 2-21-27-28 3-8-10-66 5 76-26-43-22" marker-start="url(#b)" marker-mid="url(#b)" marker-end="url(#b)"/>
<path d="M492 1541l-15 26 48 3 15-15 70 17 19 7-35 2-7 1-23 7-6-3 0-1-9-1-37 7-6 3-48 0-10 1 24 22 6 5 0-7 10 5 37-20 1 19 5-10 2 13 15-13 13 11 7 4 5-6 14-1 1 5 1-18 13 15 13-10 7 37-6-12-5 15-6-12-20-10-8 0-7 4-6-2-25 3-5 3-17 1-8 6-14 0-7-11-16 10-8-2-2 0 0-9-50 17-10-7-10 2 11 31 4-8 18 9 24-22 22 16 2-13 2-5 0 3 7 1 3 10 5 8 1-22 4 21 13-11 3 11 2-5 1 4 0-17 1 5 6 13 5-20 2 15 2-11 4-5 3 11 3 0 2 2 2-8 3 18 1 0 6 0 2-10 1 6 1 4 2-18 1 2 1 17 2-7 0 5 3 1 4-8 0 2 0-7 2-2 7 10 2 5 3-19 14 2 1 8 14-5 5 10 3 4 30-18 23-2-44 43-6-8-2 8-2 0-7-18-8 20-11-4-1-9-7 0-2-5 0 1-6-6 0 20-4-16-4 18-4-22 0 14-1-2-1 2-1 7-2-14 0 12-3 3-7-15-1-6 0 9-1-8 0 11-4 2-2-3-4-4-2 7-2-2-4 7-1-10-4 13-3-9-1-5-5-6-7 9 0 5-2-12-1 10 0 8-3-11-1-1 0 8-1 1-1-3-2 4-1-14-5-3-3 0-1 19 0-5 0-6-6 5-3 0-2-1-7-15-4 15-15 5-9-4-5-13-33 18-25-6 35 21 18-8 35 18 3-14 9 4 7-12 2 13 0 6 4-12 3 13 3-14 1 13 0 0 1-17 2 8 0 14 1-22 1 13 1-4 1-7 0 17 1-8 6 4 0-13 1 3 2 12 1-8 2 2 3 4 3-2 1-14 2 21 7-8 2-1 1 9 0-13 4 7 3-6 0-1 1 9 1-8 1 2 11-7 1 18 5-21 2 16 1 1 2-19 1 3 1 5 1 15 4-5 1 6 1-8 1 5 13 3 1 0 2-15 12 2 2-4 2-1 9 11 4-2 5-7 57 27-9-7-32 10-27 4-3 6-9-6-1 5-5-1-2-14-1 8-1 2-2-10-11-7-3 8-2 7-5-7-3 0-11-5 0 5-1 6-1-12-2 17-1-13-3-2 0-4-2 0-2 18-2 6-1-8-2 5 0-14-3 3-1-1-4 13-1-9 0 3-1-6-2 2 0 6-3-7-3-3-1 6-8-4 0-5-2 8-1-10-1 21-1-9-2-8-2-7-4 0-1 0-8 11-14-9-8 19 0 2-2-14 0 7 0-10-3 10-10-7-8-2-2-4-24-2-17 1-1 11-4-2-12-7 2 30 14 7 7 4 4-10 4-4 16-3 4 3 2 13 10 0 5 4 9-6 1 2 3-7 5-3 3-3 4-3 4 2 0 18 1-3 1-11 0 2 9-2 1-8 1 6 7-6 4 9 6 2 1-3 2-6 4-3 2 7 1-5 0 8 1-1 0-5 0 8 1 7 0 2 5-8 1 3 4 8 5-19 4-1 1 10 2 5 1 5 0-20 1 2 2 7 0 11 3-3 2-4 3-4 0-8 9 13 1-2 0-8 6 2 8-4 3 11 4-16 5 0 1 22 4-8 7-13 0 16 13-15 3-3 13 23 7-15 6-3 45-5-46 36-32-7-37-1-10 15-10-14-3 2-1-5-2 6-1-2 0 2-10-2-1 6-5-7-1-1-4-3-2 19-5-3-1-5 0 5-9-11-1-1 0 16-4-7-3 3-5-7-1 9-4-15-3 1-1 7-3 1-6-7-14-1-2 9-2 3-5-3-3-7-11 18-5-8-59-10 37 35 38-9 9-2 10-4 15 3 2 19 15-22 7 20 4-13 6 15 0-9 10-8 5-1 3 12 4-1 3-2 3-10 0-1 21 4 5 12 8-5 2 7 36-14 8 7 18 27-60 8-8-1-18-10-13-5-17-5-6-3-18 6-39 6-6-3-11-9-25 33 69 4 2-4 8-8 6 6 8-1 7 9 69 9-2 25-38-18-19 29-88 24 103 19-89-61 52-9 65 9 17 0-71-18-20-8-7-1-4 0-97-36 12 15 33-17 8 8 8-9 2 8 12 7 6-2 6 2 5-4 0-2 8-3 8 9 1 0 21 2 6-12 10-4 8 19 1-3 27 6 14-20 5 0 12 7 9-7 25-14-43-2-26 7-21 1-8-3-1 1-6-17-6-1-12 21-19-7-6 6-5-11-18 7-12 0 0 3-16-11 0 11-5-16-3-3-9 15-62-17 30-21 3 11 15-11 14 20 8-18 3-4 11 3 4 19 5-16 3-2 4-1 9 12 5 3 1-18 9 5 2-1 2 18 7-18 0 3 4 11 1-3 1 8 5-15 1 10 7-10 1 1 3 2 0-5 1-6 3 24 2-16 2 8 8 7 0-21 2 9 4-5 3 8 0 5 1-3 1 6 2-14 4-3 0 18 5-12 6 12 3-7 9-3 1-11 1-2 14 3 17 14 35-36-27-4-12 18-2-2-2-12-10 13-16-11-5 3-1 7-1-16 0-2-4 11-3-10-3 14 0-4-4 9 0-9-1 10-1-19-2 5-2-2-9 17-6 1-1-6-1-17-1 23-2-4-2-15 0-4-2 16-5 5-1-18 0 8-4-6-3 10-1-4-1-10 0 17-9-14 0 20-3-14-8 0-1-6-1-1-6 5-2 12 0 3-2-4-6-6-3-2-3 5 0-6-12-4-2 16 0-9-1 5 0-16-5 3-4 8-1 9-14-8-50-14 9-2 3-15 26 6 2-3 12 13 11-17 22 17 2-24 2 8 3 10 3-18 3 4 7 4 8-6 2 16 2 4 5-22 0 9 1 6 2 7 0-1 2-6 1 7 0 1 1-7 1 7 1-9 5-14 3 14 0-7 4 12 2-10 5 6 0-13 4 12 2 7 0-7 1-9 0 8 2-5 3-7 1 5 10 4 1 9 1 0 7-5 2-14 4 5 8 11 1-15 1 19 5-11 1-9 10 3 6-2 1 2 0 20 24 1 19-24 12 20 48-21-29-15-13-1-11 12-15 3-15-15-34 8-3 1-1-3-14-5-2-5-1 10-3-7-1 6-1 1-1 3-1 2-2 3-4-13-5 8-2-7-1 13-3-15-1 6-1-1 0 10-1-15 0 8-2-10-1 1-4-1-2-1 0 16-2-17-2 1 0 10-1 5 0-5-1-5 0-9-2 14-4 7-1-17-1 6-2 8-1 0 0-10-1 8 0-10-3 8 0-9-7-5-1 5-1 12-3-14-3 12-1-14-1 16-2-12 0 10-1-14-1 20-3 0 0-19-2 20-7-11-1 0-2-10-4 7 0 12-6-10-2-10-2-1 0 24-1-3-1-17-2-2-4 22 0-4-6-7-2 8-7 3-4-2-10-20-2 11-10-1-26-20 26 1 12-10 7 10 10-4 2 2 2 6 8-12 12 12 1-22 1 5 5 12 9-5 5 12 5-19 2 6 2-7 0-4 2 4 2 14 0-4 0 4 5 6 3-6 0-10 1 1 0-3 2 17 4-15 6 12 1-14 1 4 7 12 4-21 3 20 0-5 1 3 2 5 4-21 1 20 3-10 1 6 0 0 2 2 1-5 1 4 1-1 1 2 7-11 6 14 2 0 3-23 14 14 2 7 5-8 0-11 1 14 2-15 4 15 5-5 5-6 21 18 24-1 7-23-32-18-19 10-33-1-3 3-2-19-1 10-1 3-3-2-4-8-4 17-5-12-1 16-2-9-3 9-3-2-7-2-1 1-1-18-8 11-1 8-9 2-8 0 0-2-8 0-2-1-16-14-1 2-3-7-7 9-10 9-3-5-12 5-6-20-1 1-3 14-36-29 18 10 22-8 3-3 14 6 8-16 2 6 6 11 3 0 7-6 2 3 9-11 14-2 10 2 8 5 3 6 31 5 0 0 16 4 1-15 14 11 5 0 0 2 1-11 14 9-16-21-26-11-38-12-31 11-15 11-9-16-1 15-2 1-17-19-32 19-22-3 63-23 26 0 6-17 2 7 19-2 6-3 18 12 19 6 26-16 8-26-65 11-72-5-32-5-26-1 172-29-90-7 16 15-73 20 32-6 4 21 25-9 30 12 1-21 48-2 4 23 32 13-17-1-15 5-7-7-11 1-6 4-4-1-6-1-11 3-13-1-4-3-4 9-9-16-4 18-35-20-3-1-12 0 44 24 1 0 15 22 1-13 7 12 6-2 19-17 10 10 20-7 3 3 42-2 24 11-24 27-10 1-5 3-3-10-20 2-5-11-5 19-19-14-4 3-5 3-8 2-1-11-2 7-4 9 0-6-5 0-2 2-4-7-4 13-6-10-26-5-3 10-1-11-12-4-10 4-3 14-21-1-13-18-25 29 10 8 33-14 3 1 27-1 7 18 3-3 9-7 3-8 12 4 3 15 1-13 4-2 3 8 3 2 10 0 1 3 1-12 2 8 2 6 1 3 4-18 18-4 10 2 16 4 4-1 9 3 6-1 16 14 3-11 4-3 4 7 3-13 6 15 3-6 21-4 22 2-21 36-1-15-33 1-14 8-1-2-8-5-10 12-2-9-8 9-3-4-5 0-2 6-1 2-7-17-9 12-3-15-1 13-1-7-6-7-4 14-1-5-1 6-1 6-4-10-1-2 0-6-1 7-5 6 0-15-2 2-4 5-5 13-2-7-2-3-2-5-5 1-3 0-3-9-3 3-3 2-2 16-2-6-5-4-3 9 0-9-12 2-10-8-2 10-1-3-10-10-5 22-3-14-21 12-12-8-3 2-1-1-2 3 4 15 5-8 3 11 2 13 3-24 21 16 7-9 3-1 0-2 0 10 3 2 5 3 2-12 5 14 8-3 5 6 6-14 3-3 4-3 3 15 0-11 2 4 0-8 6 6 1 3 0-7 3-3 0 12 2-9 2 16 6-10 0 12 0-17 1 8 5 8 2-5 0-10 0 11 2-7 2-6 3 3 4 15 0-9 2 6 4-3 0-16 3-2 6 22 2-16 1 4 1 14 2-3 1-8 2-1 8 12 1-1 1-2 1-17 1 19 8 0 11-21 1 19 0 3 4-20 7 12 2 0 4-9 0 13 1-5 0 9 8-2 0-7 15-1 1 8 5-16 7 13 15 22-10 5-13 1-8-22-21 2-2 10-3-12-5 22-7-5-1 7-2-6-5-14-2 17-10-3 0 5-2-12-7-7-1 9 0-4-1-6-2 11-1-14 0 21-1-14-2 1-2 6-1 2-6-8-3 1 0-8-1 5-1 2-1-2-1 7 0 5-1-6-2 7 0-17-1 22-3-15-1 12 0-13-2 14-1-17-1-4 0 1-1-2-1 6-4 7 0-1-1 2-1-6-1 12-2-4-1 3-1-12-2 14-3-8-4 10-6-17-1 5-6 13 0-8-12-1-2 6 0-13-3 13-1-16-10 2-11 13-13-13-19 13-21-20-11 17 48 12 3 3 0 9 23-5 12-4 1 8 0-2 7-6 1 0 1 13 6-1 5 0 0-3 1-1 2-5 3 10 1-7 6-11 1 22 5-11 2 3 7 4 6-13 1-1 2-6 1 10 2-6 3 3 2 10 4-15 1 20 1-10 2 3 1 9 1-24 1 12 1-7 3 4 1-6 0 7 0-4 1-6 1 13 2 3 5-14 1 22 6-10 3-10 2 5 2-3 1-4 4 11 7-3 1 6 1 3 0 0 2-15 17-1 2 8 6-11 7 19 6-11 14 15 2-21 2 8 7-1 15 30-13 5 0-8-29 4-11 2-26-17 0 9 0 5-5 2-6-8-1-3-20 5-5-9-2 10-1 3-2-7-2 3-5-9-1 15-1 0-4-10-5 1-1 7-1-5-1 2-2-8-5-1-7 10-8 3-5 2 0-6-2-10-2 5-2-2 0 10 0-3-6-2-6 10-1-11-2-4-6 11-1 0-12-2-10 4-11-2-6-9-1 43 20-20 21 17 6-2 18-8 23-2 5 11 9-14 34 0 1-2 7-3 9 18 2 5 12-24 4 10 8-7 5 9 16 5-14 19-28-5-13 14-9-19-4 16-25-17-1 7-12 1-6-2-9-6-2 16-11-4-17-5-10-6-9 13-48-14 50 49 14-22 10 22 23-19 51 8 0 25-59-12-33 12 36 67-10-56 32-13 34 5 64-29-63-4-12-1-10 1-23 12-28 0-10-12-8-7-11-18 2 11 3-3 18-3 11 5 10-8 37 5 5-1 14-12 7 7 0 14 18-22 6 20 19 2 13-15 15-22-32-3-24 10-2-11-19-1-6-1-1 18-4-20-2-2-2 6-7 9-1-9-8-6-1 18-12-13-7 11-1-8-9-5-1 6-5 8-26 1-4-11-8-7-2 18 0-5-32-8 4-11 6-12 5-3 21 18 11-7 2-9 0-1 2 1 2-4 1 13 8-9 3-1 4-5 3 11 9 0 1-7 1-4 2 1 1 4 0-3 6 5 1 16 1 0 1-20 5 11 1-11 0 2 12-5 7 9 3-9 3 11 6-1 6 4 2 8 0-9 4-8 3 2 4-3 4 12 8-14 2 14 1 1 1-17 7 13 5-11 11 18 0-16 2 16 0-8 3-10 2 16 6-10 4-9 78 5-52-9-28-6-12 9-1-21-9 6-6 7-2-13-6 20-2-19-2 9-1-13-6 19-1-15-4-1 0 15 0-15-3 5-4-3-5-2-2 19-2-3-1-6-5 9 0-3-1 1 0-16-9 5 0 8-6-6-3 5-2-14-7 6-1 13-3 2 0-4-4 3 0-14-3 11-4-18 0-1-2 8-1-5 0 21-1-20 0 4 0-4-1-1-6 11-3 4 0-6-5-7-1 17-1-18 0 4-2-7-1 21-2-10-2-9-3 18 0-21-1 21-3-2-13-10-3 5-18-4-10 8-3-13-7 8-23 5-13-24 25 2 5-14 7 6 12 3 8-15 6 13 1 8 12-4 5-16 5 1 3 11 6 8 1-11 1-5 4-3 2 8 6-9 2-1 3 16 2-15 4 16 4-8 3 2 1 1 1-4 5-8 5 6 3-5 1 5 0 6 0 2 0 4 4 5 0-2 3-22 0 12 0-3 0-7 0 13 1-2 2-9 2-3 2-1 3 10 7-4 3 13 1 4 5-1 1-10 1-5 1-3 2 18 2-2 2-3 4-7 3 11 1-10 5 10 2-10 6-3 4 15 4-19 7 10 2-3 10-2 7-4 17 0 11-4-12-6-15-2-8-17-11 17-2-8 0-1-3-2-1 14-29 0-4-5-7-14-1 4-1-2 0 10-5-3-2 6-2-13-1-3-1 13-3-5 0 1-4 13-2-5-4 1-7-17-2-1-2-1-1 13-4 5-2-3-2 1-2 8 0-1 0-6-10-11-6 11-1-3-2 2-2 4-4-6-9 0 0 2-12-7-4-4-9-5-4 7 0 10-6 6 0-18-4 2-7 3-5 6-22 4 12-25 15-6 17 3 1-13 11 2 4 17 7-15 1 7 1 2 1-11 2-1 3 1 1 4 4 12 2 2 1-19 8 18 8-4 1-2 2 7 7-5 0 2 1-8 0 2 6-12 3 14 0-15 1 1 1 5 1 8 1-10 0 7 1-2 3 4 1-12 7 3 6-5 1 9 2 1 0 8 9-12 5 13 15-1 3-5 0 8 1 0 5-21 1 9 7 9 11 4 3 1 12-20 22-14-3 5-13-11-14-4-2 5 0-10-22 24-3-5-5-5-2 4 0-15-3 8 0 5-2-14-2 1-4 8-6-9-1 10-1-5-7 9-3-10-8 1-3-3 0 6 0 5-1 0-3-5-3 13-4-3-3 4-1-12-6-7-1 16-2-16-2-5-2 16-2-14 0 18-3-2-5-17-12 11-3-9-1 17-3-8-2-2-1-4-9-1-1 14-14-13 0 12-12-11-1 8-7-15-4 9-4 1-13-9 2-26 35 10 2-8 2 17 10-8 4 9 5 0 6 3 3-5 19-5 8-11 7 15 2-5 8-8 2-4 4 16 25-9 1 1 8 9 3-12 26 7 16 1 2-5-4-13-20 3-11-9 0 6-9-5-3-15-8 11-30-3-7-3-1 3-1 15-11-5-7-4-7 1-18 5-12 2-7-11-3 9-34-15 22-22 11 15 58 0 6 0 5-8 2-14 4 11 64 4 3 3 6-35-3-4-25-1-36 16-27-13 4-24-1-35 106 31-161 32 32-3 26-1 37-4 43-2 46 47-18-19-74 7-1-6-21 15-2 4-11-8-5-9-15 6-79 22 59-4 7 3 41 14 4-5 5-10 1-3 4 1 16-5 8 9 2-2 1 5 18-6 60 2 14 38-1-20-25 21-26-3-5-10-16 1-31 11-7-16-4 0-7 18-3-12-7 7-7 0-9-16 0 0-6 13-6-4-8-3-23 12-8-3-36 23 20-12 9 14 7-5 10-9 0 9 9 2 2-14 3 2 5-2 6 21 5-4 9 0 0-8 5 7 2 0 9 6 6-3 2-4 9-1 0 4 2-5 4-11 1 20 4-3 2-16 0 1 7 16 1-5 4-13 2 19 20-4 1-14 1 13 4-3 5 0 2-8 2-4 1 13 2-13 0 13 17-2 50-9-28 31-16 8-20-8-6 10-7 3-4-22 0 5-5 15-1 0-3-16-1 5-5-3-3 11-1 1-1-3-4-4-1-5-2 3-2-6-1 19 0-16-4-4-3 5-7 0 0 16-2-11-2 3-5-12-1 7-2-7-2 13-1 5-7-5-1-8 0-6-3 2-1 15-1-4-6 7 0-3-3-2-1-15-4 16-6-3-2 8 0-23-1 12-3 3-2-8 0-5-5 14-1-12-3-3-1 13-1-2-7 9-1-8-1 5-1 4-8 1-4-16-16 6-5-5 0 0 0 3-30 15 3 2 14 17 12-9 7 9 9-8 2-3 5-9 4 5 2 0 7 15 2-13 1 3 4-11 1 11 2 0 2-1 1-10 2 4 1 4 0 5 5-4 5 2 2 2 1 6 2 5 1-24 0 12 1 2 0 9 3-4 10-14 3 6 1 1 0 10 1-1 2-11 1-6 9 14 1 3 1 3 2-19 1 15 0-17 0 9 2 9 3-5 1 8 0-8 5-9 3-7 1 3 1 19 1 0 1-19 0 20 3-3 2-9 1 10 0-9 2 8 6 3 1-3 3-18 6 14 12-12 1 11 0-1 1 3 6-12 8 13 0-2 0-12 2 20 16-5 43 26-58-12-8-5 0 5-5 14-7-5-3 4-1-19-5 16-5-18 0 3-2 21-5-4-3 2-3-18-3 18-2-19 0 5-1 7-6-4-6 11-2-13-1 9 0-16 0 22-1-13-1-10-1 21-4-18 0 16-1-1-2-14-4-2-1 9-1-6 0 18-4-7-1-3-1-3 0 2-6-4-1 12-1 1 0-21-5 17-5-16-2 0-1 21-2-1-5-18-2-1 0 20-9-22-2 5-1 13-2-18 0 14-4 8-5-7-2 4-9-7-2-9-2 19 0 0-3-20-15 8-16 7-13-14-12-4-4 19-33 11 27-4 20 17 8-6 13-12 6 12 0 7 1-19 8 18 2-13 1-3 2 18 8-14 11-3 5 1 9 3 1-2 2 3 6 9 8-2 1-11 3-4 5 18 3-1 0-16 1 10 2 5 5-3 1 3 10 4 3-8 4 11 3-19 0-3 4 9 3 1 3-3 1 3 3 13 1-12 1-11 4 19 1 1 2-14 0-2 3 4 6 11 1-15 3 12 1 5 0-17 2 15 1-7 9 0 5 8 1-15 3-3 0 3 2-4 3 14 1-9 3 8 4 5 10-6 10-12 17 19 12-17-26 34-19-5-10 2-2-10-2 16-5-3 0-9-10-3-6 9-1-5-5 5-3 11 0-3-4-1-7-8-2 0-1-7-1 0-2 10-12 4-1-1-2-7-1 10-2-12-2-4-3 19-1-16-4 5-2-10-6 7-11 9-1-5-2 7 0 0-10-15-10-3 0 18-10 6-5-1-1-13-10-7-10-2-3 3-5-2-1 7-3-4-18 9-7-1-11 12 50 12 12 5 5 7 19-15 5-5 7 7 7-5 19 6 4 6 18-4 4-2 3 11 6-18 10 9 2-6 2 1 6-9 23 21 15-6 5-13 11-1 41 3-60 24-7-1-16 6-29 9 0 3-3 2-4-12-4 4-17 10-8-10-19 6-28-7-1 5-37 16 20-3 70 6 2-6 23 3 28-5 1 12 13-15 7 8-81 31-57-7 0-1 65-5 18 17 76-14-91-13-16-5-3-1-11-7-19 2-2 12-32-13-44-22 56-7 12 6 13 10 5-9 6 6 7-4 1 6 1-9 6 15 9-12 16-2 2 12 16-11 1-8 40 17 3 6 4-14 2 6 73 4-52-44-8 0-8 19-5-2-20 0-12-1-3-1-10 7-11-5-11-5-3 10-2-4-4-18-2 14-7 5-11-4-1-13-4 8-7-6-9 5-1-7-3-2-8 2-24 17-7 1-17-28 3 0 7-1 2-11 4 14 6-5 23-9 10 12 1-2 5-3 5 4 1-12 2 8 3-12 2 15 5 0 2 2 1-7 4-9 0 7 5 0 6-1 1 16 4-21 1-3 1 1 7 5 2 18 0-2 1-4 7-17 1 17 10 5 0 0 3-1 2 0 6-20 2 1 5 8 4 3 8-11 10 11 12 3 21-2 5-35-9 17-21-2 0-6-4-11 0 12-13 0-5-9-1 12-7 1-5 5-1-21-4 10-2-6-3 14 0-7-5-7 0-1-7-1-3 6-2 5-2-2-1 4-1-2-1-12-10 4-2 15-1-18 0 1 0-6-1 4-4-1-1-1-2 17-3-10-6-5 0 9-4 0-4-8-1 12-1-2-3 6-2-17-1 18 0-21-6 23-2-7-2-6 0 7-7-3-1 0 0-12-1-1-1 22 0-16-1 10-7-9-6-4 0-3-10 4-2-6-6 23-7-8-46-22 25-7 6-7 12-2 11 21 3-22 0 19 9-7 8-9 10 9 1 5 3 0 2-17 1 15 6-2 7 0 2 3 2-12 3-3 0 9 0 12 2-23 5 1 1 20 9-15 0-5 6 7 0 16 3-11 6 2 2 1 1 3 2-1 2 6 3-23 6 14 0 8 1-16 1-5 1 15 0 1 0-2 3 1 2 6 8 0 0-11 3 7 3-15 14 1 7 11 2-12 1 0 3 1 11 19 23-6 1 6 7-18 7 4 40 8 8-29-40-5-28 8-2-10-2 17-9-12-1-7-5 10-1-6-11 0-1-3-3 18 0-18-11-4-2 2 0 11-1-12-2 14-2-5-1-7-3 12-1-10-1-3-1-4-3 12-5 10-4-16 0 2-1 14-6 2-7-21-3 3-2 14 0-5-1 5-1-5-5-7-4-6-1 10-5-7-1 12 0-16-2 11-1 5-1-1 0-9 0 7-9-8-2 8-2-8-5-5 0 19-8-3-5-5-4 1-6 1-6 10-1-8-6 8-8-22-3 8-1 0 0-3-13-7-4 24-4-24-1 2-14 13-1 1-2-10-28 18-32-30 61-12 17 11 2-18 11 16 8 3 8-8 5 3 5-9 2 17 7-1 2-5 0-10 3-1 1 5 3 1 0 9 3-19 3 21 6-22 0 7 3 10 1 6 5-13 0 14 3-19 6 16 0-2 2 5 8-4 3 4 1-18 0-1 0 17 1 0 1-5 4-4 1-5 5 16 6-4 0-4 4 4 8-13 2-2 6-5 5 5 3 9 0-14 2 20 4-6 12 8 1-16 114-24-58 14-4-6-2 8-25 0-4-9-2-11-15 21-3-6-1 1-2-11-1 8-13 0 0-7-3 4-1-2-6-6-2 3-6-4-1 14 0-9-7-1-5 1-5 7-1 6-5-3-7-1 0-4-1-3-7 0-3 0-2 8-3-16-2 18-7-3-4-17-8 5-2 9-5 3-5 4-1-10 0 5-2 7-5-22-8 15-2 6-3-19-8-3-11 15-5-2-6 4-9 3-7-16 28-24 1 3 8-6 1 16 3-5 3-13 25 10 2 5 0 7 0 0 7-22 6 11 4-8 5 20 3-3 4 3 14-8 3 1 10-9 6-5 1 9 1 1 9-7 0 9 1 4 14-7 10 8 4-4 2-3 0-2 0-7 3 11 6 1 9-4 9 8 2-4-15-23-40 4-7 0-7 2 0-14-11 14-14-14 0 13-12 0-15-15-11 4-6-11-8 15-21-6-30 5-5-2-3-13 16-10 46-15 1 19 11 1 5-20 10 19 41 1 6-8 11 5 6-13 47 3-71-11-20-4 48-57-86 33 20 22 46 4 42-1 56-2-109 29-19-4-14 4-13-16-2 19-5-11-17 5-6-15-17-2-20 30 16 12 52-17 7 12 1 0 9 0 1-7 15 1 7 4 9 12 32-2 18-10 77-10-42 47-35-2-3-6-9-1 0-7-3 0 0 6-3-4-10 13-2-10 0 10-2 2-10-5-5-2-2-11-28 12-8 4-14 1-18-14-3 14-3-19-5-2-14 17-49 8 6 9 6 4 12 6 2-14 25-4 1 1 3 13 11-3 19 11 0-13 0 7 1-11 8 15 2 0 0-1 3-6 3 1 3 1 2-11 2 2 4 12 3-9 15-9 7 8 2 13 1-10 2-1 12 3 7 7 1-2 13-10 0 10 3-6 5 6 8-2 10 5 13-11 1 8 3-13 0-3 2 6 6 6 1 0 1 8 3-13 1-2 0 1 2-5 7 28-13 6-13 3-8-8-2 8 0-10-20-4-5 0-8 12-3 7-10-21 0 11-1 10-6-18-1 7 0-2 0-1-1 6-1 0-1 6 0-4-6 2-1-5-2 7 0-13-2 7-1-9 0 3 0 3-1-10-2 5-3 12-2-7-3 8-2-19-2 17-5-12-5 6-2 3-2-2-7 10-1-21-4 19-3-4-2-8-2 16-6-12-3 8-2 2-1-16-5 10-4-7-2-1-2 9-7-10-3 5 0-7-16 8-1-11-107 45 46-21 23 12 12 6 8-11 5 1 5-8 16 17 11-17 10 21 2-15 2 3 2 1 0 4 1 3 3 3 0-9 4 7 0-8 0-5 1 9 1 7 1-16 0 13 4-16 3 6 3 11 1-1 1-18 2 12 1-7 7 0 11 13 1-17 5 17 4 4 0-9 0-13 1 6 0 10 2-14 4 12 0-2 2 3 2-16 1 9 1 1 2-2 2 4 3 0 1-11 1 14 0 8 1 0 1-21 9 7 1 4 3-8 3 7 2-1 3-8 4 20 7-16 1 10 2-1 9-15 4 11 1 8 5-16 20 13 16-8 23 12-12 10-1 14-19-14 0-6-18 12-27-6-4 2 0-7-5 7-1 15 0-7-1 0-1 3-2-11-1 6-2 3 0 6-3 0 0-11-2 0 0 4-1-3-3-3-1-5-1-4 0 23-1-2-1-13-3 4 0-12 0 0-3 0-2 17-1 6-2-14-1 12-1-20-2 4-3-4-1 2-2 1-1 0-3-1 0-2-1 12-3 5-1 5-3-12-4 8-7-19 0 13-1 3-1-4 0-12-2 3-2 13-2-7-3 3 0-3-12-2-1-1-2 15-5-14-9 11-6-7-3 4-5-16-4 22-4-22-1 15-4-15-4 24-24-3-14-17-1-3-1 27 20-1 11 7 15 11 1-14 16 7 8-8 0 11 0-3 2-9 1 19 4-1 2-8 10-4 10-8 0 7 3-9 6 11 0 7 2-15 2 12 1-2 1 0 1-6 1 10 1-2 4 3 6-1 0-1 2-16 1 16 1-6 1 8 9 1 4-8 10-7 3 9 2 11 10-18 15 16 2-10 2 2 1 9 3 0 12-13 11-8 5 12 2-2 15-2 25 23-46-6-3 3-9 2-16-7-4 11 0 9-5-17-3 13-4-6-4 2 0 3 0-13-5 2-3 12 0-4-7 0-8-7 0 7-6-3 0 6-6 8-2-1-1-2-1-12-6 3-2 1-2-11-2 18-13 0-6-1-5-10-2 9-1-6-3-6-4 7-1 11-5-19-14 2-2-1-5 14-4-17-5 14-11 4-1-13-16 1-6-3-12 8-2 33 23-21 5 7 27 17 10-5 12-5 0 6 12-9 1-6 4 17 1-13 8 14 2-13 9 8 4-15 16 20 1-5 15-18 3 13 17 6 2-14 3-1 1 13 24-8 16-8 3 9 1 0 14-3 21-5-19 38-19-9-9-2-4-2-2 8-23 7-29 2-8-18-8 9-5 7-12-10-8 2-2 9-25-17-7 6-21 10-106-11 70 31 59 9 12-5 9-2 13-2 19-8 3 4 5 14 40-14 7-5 16 11-8 27-84 2-88-12 85 55 13-5-2-25-42 2 67-33 3 21 89-31-24-7-79 14-38-6-9 5-33-9-24 0-60-20 80-7 1-5 10-1 14 0 5 3 6 6 2-13 5 13 0-1 5 4 8-15 4 2 4 7 9-6 6 8 21 5 6-14 5 14 4-3 10-14 26 8 45-1 13-18-25-2 0 2-21-3-3 8-1-13-4 3-2-9-10 22-11-10 0 11-12-5-2-2-10-1-1 3-2-17-1 22-9-15-4 13-3-11 0-6-6 12-1-11-2 11-3 5-6-21-3 15-5 3-6-7-2-11-3 13-12 4-8-16-2 0-1 12-1-1-17 3-13 3-11-11-7-3-10 9-26-17 16-4 21-12 14 6 13-3 5-5 0-3 2 20 9-14 2-5 3 20 2-9 4-6 15 6 3 10 5-15 1-7 2 3 3 20 8-20 15 0 4 13 2-5 8 4 11-8 5-2 2 3 3 0 4 2 5 7 0 5 4-4 2-4 1-4 0-3 18 11 10 6 11-4 19-23-5-11-10 7-24-14-4 7-8 12-3-20-6 8-4-7-1 8-3 4-10-11-8 12-2 1 0 1-4-3-2 5-3-7-1 6-1 3-1-12-1-7 0 6-3 4-3-5-6 14-1-6-4-6 0 8-1-11-4 3-1-6 0 0-4 11-5-10-1 0-1 0-3 9-2 7 0-15-4 0 0 2-14 5-6-3-2-5-1 5-1-1-1 1-7 0-4 2-2-5-1-5-11 7-4-10-5 1-4-1-10 2-2 5-4 1-7 5-3-1-3-5-22 0 29-29 9 13 7-11 2-5 3 14 0-11 9-3 3 3 23 18 1-2 2-18 3 15 5-12 3 8 2-11 5 16 1 5 2-2 0-13 4-5 5 4 4-4 6 1 0-3 3 8 1-7 6 14 7 5 2-13 6 3 4-10 0 19 1-7 8-12 4 6 3 9 1-2 0-7 2 15 3-12 0-2 1 15 2-14 4 10 11-7 3 5 0-8 4-2 4 8 3-7 13 13 0-18 5 12 1 1 0-2 1 7 7-18 6 20 18-5 17-37-26 17-7-6 0 5-25-17-10 4-7-5-1 12-3-14-2 8-4-8-1 0-5 7 0-1 0-1-1 15-3-6 0 4-1-10-2 3-2 0-5 11 0-20-1 16-1-13-3 14-1-15-1-5-1 7 0 13-2-10-2 9-3-8 0-4-2-2 0 14-4 4 0-19 0-2-4 8-4-3 0 13-3 2 0-15-1 1-2 8-3-7-2 15-1 0 0-22-4 16-1-16-1 0-1 11-2-5-1 0 0 1-1 6-2 5-1-5-3-15-5 3-1 15 0-10-21 6-1-1-9 7-1-15-1-1-6 12-14-6-1-10-12 21-2 2-3-14-6 2-43-4 39-12 11 4 5-24 1 0 5 8 17 2 5 3 0 2 4 0 9 0 2-9 11-1 5 18 0-16 2-4 11 13 3 7 6-9 2-3 1 11 7-9 1 5 2-10 1-1 2 13 4-3 2-2 1-8 5-3 1 12 1 7 1-1 2-14 1-8 3 6 9 0 2 15 7 3 10-23 2 19 1-19 1 14 2-12 1 15 0-15 12 0 7 21 3-4 2-14 30-6 24 1 2 18-4-39-6 18-30-14 0-8-7 21-25-2-13-6 0 10-4-21 0 0-2-3-1 15-8 1-5 7 0-10-1 3-1-13-5-3-3 13-2 1 0 5-1 3 0-18-3 6-1 8-14-8 0 14 0-11 0 11-2-4-2-13-6 2-12 5 0-8-5 18-11-3 0-10-1-3 0-6-2-1-5 11-3-10-17 19 0-16-22 19-52-6 45-43 45 19 8-7 7 9 2-15 1 5 21 12 2-13 6 7 1 4 2-3 9-12 1 11 1-13 8 7 7 11 6-15 5 9 31 5 7-1 22-29-7 1-32-16-12 17-4-12-25 4-20-6-2 8-2 3-7 6-12-11-1 5-13-3-7 7-6-16-10 15-7-9-2-9-13-10 57-3 22 1 2 7 0-8 11-7 8 3 9 4 51 6 1 4-102-63 31 15 53-6 5-31-52-1" marker-start="url(#b)" marker-mid="url(#b)" marker-end="url(#b)"/>
<path d="M1003 1528l-135 38 37-13 4-2 49 6 9 14 11-9 13-4 113 17-28 19-54-15-3 16-25-13-8 2-56 14-62-19-17 42 29-15 9-5 52 8 8-9 1 10 31 11 1-6 20-5 5 7 39-17 2 23 4-3 49 20-33 9-6-8-31-14-3-2 0 2-6 6 0-5-2 14-5-9-14 11-8-5-4-10-10 13-6-6 0-2-4 12-4-5-10 3-22 1-18 1-3 1-8-18-23 7-55 32 42-6 20-7 11 12 5 4 1-11 6-8 4 1 19 15 3-11 2 7 1-11 1 4 1 13 5-6 3 0 1 1 16-1 2 8 7-17 4 19 2-21 1 2 8 19 3-10 2 4 2-16 1 19 3-5 1-2 0-12 6 9 10 3 5 0 6-4 0 6 9-13 2 8 1-5 3 6 8-12 4 19 12 1 5-2 11-4 1 3 9-1 24 30-38-20-29 21-9 0-1 2-4 0-13-21-4 0-3 12-4-11 0 8-2 11 0 0-14-11-2-11-1 4-2 15-1 0-5-9 0-9 0 18-4-16-2 7-1 7-1-2-2-4-8 0-6-6-8-1-1 15-2-10 0 13-4-18-1 3-2 10 0 0-1-16-2 3-1 5 0 6 0 4-10-19-3 6-10 3-1 8-1 5-2-16-8 12-4-12-24 13-6-5-11-9-27 18 21 6 6 5 0 3 8 11 3-2 2-3 9 3 9-16 16 18 6-17 1 8 2 7 3-15 2 3 4-7 4 21 4-16 2-2 2 13 4-17 1 10 0 12 2-13 1 8 2 3 0-8 6-5 1-9 1 15 3-3 3 3 0 8 0-10 2 1 1-5 2 2 0 0 5 4 8-11 2-2 1 14 2-9 0-1 2 10 0-12 0-4 0 12 1-5 5-5 2 11 2 4 0-6 1-5 2-3 3 3 1 17 5-23 1 12 0-12 5 21 0-9 1 9 0-9 5 12 5-17 5 10 1-4 1 3 0-2 1-12 1 13 4 0 0-4 11-5 16 0 4-1 9 14 48-2-28 22-46-4-1-6-1 13-18-16 0 0-4 13-1-10-2 3-12-4-5-3-3 1-1 4 0 1 0 8-1-9-2 14-2-14-1 12-1 2-2 4 0-8-8 7-2-9-4-3-1-2-1 11 0-14 0 9-1-13-1 10-1 8-1-3-1 7-2-23-1 15-4 0 0 4-1-4 0 6-2-20-2 14 0-9-6 3-3-6-5-3-4 23-6 0-2 0-1 1-3-14-1 0-1-3-1-2 0-1-1 4-14 3-1-3-2 0-7-5-4 3-1 1-1 1-2 4-1 2-3-12-27 31 12 3 14 12 13-22 5 21 1 1 0-8 4 4 1-17 2 19 5-2 6 1 0-10 1-2 7-1 2 12 5-1 0-5 1-9 2 13 3-1 1-6 1 5 1 1 0-3 3 6 0-16 1-1 5 16 1-11 4-6 1 17 2-11 0 2 2 4 3 11 3-1 2-8 1 2 1-5 1-6 4 14 2-7 1-8 0 11 1-12 3-1 4 12 1 3 0-7 12 3 0 1 3-4 3-8 1 6 0 14 2-14 0 2 1 8 4-1 1-9 2 11 2-1 6-8 2-3 6 2 2 14 1-6 3-9 8 1 11 4 8-7 62-3-59 28-8 4-5-2-14-6-6 12-7 7-5-11-6 6-2-16-14 14-3 2-6 1 0-5-2-10-1 0 0 14-2-10-1 7-3 9-1-12-11 0-2 5-1 7 0-8-1-12-4-2-2-1 0 14-2-10 0-4-8 8-7 1-2 15-1-4-1-10 0-9-5 11-2 7-3-12 0 8-5 8-2-15-8 3-7-6-1 6-9-7-2 9-4 6-14-13-2 0-16 7-55 25 84 10 9-10 10-11 25 3 12-5 5 23 3-10 1 5 4 5 11-22 10 11 13 5 5 3 6-8 20-8 18 20 4-17 11 24-13 4-10-4-11 7-3-1-15-11-30 12-22 11 0-15-5 6-32-13-28 0-13 31 27-1 50 1 6-7 10 13 5 9 10-15 29 4 2 0 5-6 34 18 35-4-60 29-4-19-28 2-100 1 161 48 44 21-111 3 59-22 21-24-138-18 106-10-23-7-52-20-29 1-43 9-50-7 64-15 1-9 2 2 23 8 3-5 14-5 0 12 7-13 31 6 1-10 70-5-11-2-11-1-2-1-3-4-4-12 0-1-13 13-15 3-8-4 0-5-2 1 0-7-9 8-2 12-6-20-11 19-4-3-3-11-32 2-22 7-23 4-76-11 62-23 5 12 4-14 16-9 2 11 4 0 0-1 11 0 3 8 10-13 1-1 2 5 11 6 2 2 26-11 2 9 7 6 27-21 16 19 6-3 7-1 2 0 9 2 3 1 2 0 0-12 1-2 26 6 1-9-3-16-3 7-11 4-1-20-6 7-15 4-1-13-16 19-1-2-1-14-1 9-4-12-1 3 0 9-3 6-2-14-1 4-3 11-1 1-2-18 0 0-1 2-7 10 0-9-10 12-6 7-5-16-2-5 0 20-4-18-3 6-5-2-1 4-7-10-2 15-1-5-1-8-3 11-5 3-13-18-2 1-3 16 0-2-4-16-6 23-25-17-11 7-1-9-7 7-1 5-8-6-13-33 7 19 2-11 45-7 0-3 5 17 8 5 2-5 1-4 1-3 0 3 3 6 1-15 4 20 5-2 1-19 2 10 2-4 2 15 2-8 1-16 2 4 1-4 18 13 4 9 5-17 0 11 1-14 2 0 3 12 0-12 0 9 1-7 3 10 1-5 0-7 0 4 1 0 3 16 0 2 3-1 5-2 2-4 1-6 1-1 0-1 8 0 2 5 2 1 3 1 0-2 3-12 2-1 0 2 10-2 10 12 2-7 20 14 10-12 14-7 13 3-10-9 0-3-8-5-18 10-3-13-6 2 0 11-7-22-8 1-6 23 0-19-1 17-1-6-3-5-3-1-4 8 0 1-1 3-1-16-2 11 0-2-1-8-4 3 0-9-2 8-5-2-2-5-2 15-1-6 0-8 0-1-3 4-1 10-3 1-3 5-1-21-2 16-2 6-6-5-1-14-3-1-2 16-1 2-1 2-2 0 0-5-1 5-1-15 0 14-2-8 0-11-1 8-1-4-2 14 0-11 0-3-1-5 0 2-1 6-2-6 0 14-5 1-6-5-4 8-4 0-1-18-1 16 0-5-3 6-1-16-1 4-2 15-2-13-3-10 0 2-4 13-1-13 0 8-1-6-4 10 0-11-2 2-5 17-13-10-26 0-3-4-13 14-33-23 35-21 23 16 20-1 2 0 8-7 0-4 3-2 0 13 1 0 7 5 6-20 1 1 0 13 8-7 1 9 5-4 3-2 1-8 1-3 0 0 2 16 0-9 1 1 0 13 1-24 1 2 9 5 1 16 2-12 4 10 2-1 5-10 2 12 3-14 4 14 3-6 3 0 3-2 2 3 5 7 0-7 2-9 1 2 2 10 2-4 1 2 3-8 2-10 0 21 3-16 4 12 0-7 1-9 2 16 1 1 3-14 0-4 1 15 4-3 1-7 2 6 1 10 10-18 0 21 13-4 0-4 6-7 2 8 0 7 1-19 13 16 36-1 1-2 42 2-65-27-13-5-35 3 0-5 0-7-2 7-1 7-4 2-5-1-7-3-1-1-4-8-4-6-1 21 0-22-8 15-10-10-2 18 0-23-1 19-1 0-3-4-2-15-15 8-2 13-1-20-2 23-1-12-7 6 0-1 0-10-2 15-1-2-1 2-1-9-2 11-3-21 0 20 0-4-8-15-1 6-3-8-1-1-3 18-1-19 0 20-2 4-15-17-1 14 0-10-4 3-1 10-1-2 0-7-2 1-1-6-1-5-2 18-11-13-16 10-15-16 32-6 16-9 13-4 7 6 15 7 6-5 2-5 1 2 17 2 0-11 2-3 0 9 4-4 5 4 3-10 1 7 28-7 5 14 7-13 9 2 13 19 1-8 2 1 4-4 9 3-3-22-29 3-12-10-3 5-10-8-3 1-17 0-25 9-4 0-5-19-6 9-7-1-9-6-19 10-9-4-3 3-5-11-29 6 8-15 47 5 5-8 26 7 29-8 5 2 7-6 75-13-60-16-32 20-2 0-23-9-1 3-34 4 50-39-53-23 112-12-103 59 12-6 7 16 37-4 18-13-12 25-12 12-2-7-38 10 0-3-2-1-6-4-10 3-11-9-1 32 26 4 27-12 6 0 18 2 6 11 0-5 24 1 7 9 29-8 80 29-10 3-21 3-39-15-18 3-5 4-12-6-4 10-14 5-11-13-2-8-3 20-10-11-2 4-2 1-5-2-3 7-19-15-80 2 29 42 18-5 1-14 18-2 6-2 4 20 2 4 4 0 11-6 7-13 0 0 2-5 1 22 4-5 0-1 6-10 3-5 4 15 1-4 4 11 1-4 1-10 2 6 7 0 0-7 3-7 3 9 0-7 1 9 0-4 5 16 4-7 12-8 1 1 1-7 6 15 1-16 3 11 2 10 7-13 5 1 19 7 8 3 8-4 45 1-53 23 0-10-3 10-9-13-12-3-4 16-5 4-12-15-1 0-10 18-8-1-3-6-1 3-1-14-1 10-6-7-1 13 0-18-1 6-2 12 0-9-3 0-2-7-2 7-3 0-1 9-4-3-2-7-3 13-1-11-4 7-3-5-5-5-6-4 0 8-1-1-2 8-5-14-1 13-2-13-5 15 0-8-2-1 0 2-1 1-2-3-3 0-3-6-4-7-1 9-2 3 0-6 0 3-1-4-2 10-5-1-7-7-8-7 0 23-5-22-3 16-4-8-9 14-10-14-3 2-3 8-3-2-5-10-19 16 53 12 6 9 15-8 6-5 2 8 1 6 0-12 1-1 5 2 2 2 1 8 3 4 2-21 8 6 2 3 4-1 2 9 2-15 1-3 1 9 3-9 2 4 1 10 1-15 0 6 3 3 1-1 0 13 2-17 7 5 1 3 0-8 3 3 2 16 4-1 1-11 1 8 2-19 1 23 1-10 5 2 0-10 1 16 0-2 1 5 2-12 1-6 0 9 2 3 1 2 0-6 1-10 2 11 5 6 6-7 7-4 5 1 1 1 1-12 0 0 2 4 4-3 0 10 1 13 0 0 5-24 9 2 8 14 5-2 8-8 18 31-13 2-11-5-6 7 0-15-7 11-7-5 0 5-1-2-8-6-2 18-2-4-1-1-4-13-8 4-3 7-7-15-8 23-1 0 0-3-1-18 0 5-2 9-2-4-1 9-1 0-4-6 0-9 0 2-5 0 0-6-7-2-2 14 0 3-2 2-4-3 0-11-1-5 0 17-2-15-2 21-1-12-1 9-1-10-4 10-2-12 0-6-2 15 0 7-1-2 0-17-1-4-4-1-2 11 0-11 0 0 0 18-3-1-2-15-1 18-2-19-2 7-3-6-1 10 0-12-2 3-5 1 0 10 0 10-8-23-1 20 0-14-2 6-3 1-2 8-2 0-41-4-30 8 49 6 2 1 6 15 2-4 0-3 3 2 8-3 2 1 4-13 10 13 3-11 1-5 9 5 3 14 5-12 1 17 2-20 7-3 0 8 0 1 6-4 1-4 1 19 7-9 8 1 3-1 7-10 2 20 2-7 4-1 0-13 1 3 1 4 1 6 2 5 1-12 0 6 0 9 8-13 4-7 0 8 3-5 1 11 4-16 11 4 1 2 8-3 1 13 6-7 7-3 6 7 3-1 1-6 9 9 8-4 14-8 38 8-49 32 0-15-12 12-3 3-11-2-19 1-7-12-3 0-4 18-8-17-2 14-7-9-5 5 0 5-5-16-12-1-2 3-5 0-3-4-5 13-1-1-9-6-1 9-1-16-2 0-6 1-6 6-1 11-7-16-7 16-1 3-11-4-2-10-4-2-5 4-1-9-3-2-3 24 0-8-2-12-4 16-6-20-7 9-38 3 69 24 0 3 4 5 0-10 16-9 0 19 10-14 4-1 4 20 14-8 2-15 20 22 1-10 5-3 6 9 2-3 3 0 6 5 7-4 10-5 2-4 6 5 41 15-9 0-3-2-61 0-7 14-10-14 0 7-3 8-2 1-1-10-4 0-1-6-2 17-5-8-3-6-7 6-10-9 0 9-18 0-2 14-4-22-4 10-69 2 36 19 14 4 39-12 13 2 14 19 6 1 23-6 9-2 13 4 2 3 19-1-13 28-45-7-4-3-10 3-14 0 69 15-147-31 32 21 33-10 20 8 6-1 68-5-45-24-2-8-7-5-25 15-2 1-113-2 57-34 0 1 47 15 13 1 18-1 26 1 4-18 8 11 35 1 29-9-5-27 0 7-5-7-7 0-3 3-22 6-11-14-2 19-10-4-3 7-1-11 0 0-2 4-13 2-10-5-6 7-1-14 0 8 0 3-4-6-5 4-1 4-2-5-8-4-1-2-8 15-6-14-9-6-5 20-1-22-6 0-8 23-3-4 0-16-18 4-9-3-4-4-3-22 9 6 7 12 3-16 2 4 6 6 0-13 7-2 2 8 2 2 2 3 11 1 3-2 6-4 0-7 4 2 4 19 1-7 3-3 1-7 1 8 0 7 7-10 6-7 3 7 4-11 1 3 2 19 1 0 4-21 10 22 3-7 2 1 24-11 5 0 4 9 6 1 3 0 6-15 11 0 1 1 1-1 9 13 51 4 8-26-32-7-1 5-22 0-10 9-2-11-2 11-1-18-4 3 0 12-1-6-1 0 0-2-6 6-3 2-2-3-14-14-5 12 0-14 0 17-1-14-1 13-1-15-1-3-1 13-2-6-2 3-1 10-4-16-9 5 0-5-4 16-1 2-7-13-8 14-3-7-1-11-1-2-1 8-1 2-1 0-2-13 0 11-6 13-5-19-2-1-1 19-1-6-3-10-2 12 0-6 0-3-1-1-1-3 0 17-3-10-2 1-1 3-8-11 0 2-6 8-8-6-6 1-1 10-3-13-12 5-14-11-14 0-6 6-4-22 7-4 15 1 6-7 7 17 15-7 4-4 1 2 2 10 3-6 0-6 5 14 3-2 4-6 1-11 0 13 1 9 8-23 1 21 3-10 2-4 2 14 1-9 5 0 0 5 4-15 3 8 2-4 4 9 0-16 0 6 3 18 1-16 7 15 0-5 5-17 1 11 0-11 0 23 1-11 0-7 1 2 5-5 1 1 3 19 1-2 1-17 1 7 4-4 8 17 2-9 1 1 4-14 0 14 0 8 5-15 1 13 3-18 4 20 6 0 3-1 7-20 1 14 8-11 11 4 8 10 5-19 58-14-5 7-13-7-20 0-5 3-3-7-11-6-16 16-1-10 0-7-2 2-20 21 0-9-7-12-7 13-2-11-3 5 0-3-9 11-5-2 0-6-11 3-1-13-1 15 0-12-7 5-1 10-1-4-1-6-2 10-1-16-5 1-2 17-1-8 0 5-2 2-2-10-1-8-1-1 0 8 0 13-7-5-2-11-2 2-1 10-3-3-1-5-3 7-1-3-2 5-3 6-1-2 0-15-1 14-1-9-3 12 0-2-3-1-1-5-1-9-2 12-7-13-2 13-2-7-9-10 0 0-21 2-1-3-1 10-14 7-21-8 6-13 19-10 16-4 1-2 7 16 0-9 3-3 2 14 13-21 2 14 1 1 3-4 4-11 0-2 5 15 5-11 0 12 2 5 1-6 2-2 8-7 1 10 8-5 1-4 1-1 4 7 4 3 3-3 1-13 4 3 1 11 4-2 5 1 4 6 2 1 2-2 12-5 2 2 4-5 6-6 1 16 1-13 0 4 1 6 31-13 16 19 49-8-33-21-34 1-6-1-11-2-8-3-4 1-8 1-6 1-7 2-6-15-3 15-2-14-1 9-6-8-1 2-10-9-1 5-3 16-8-6-1 5-1-6-3 6 0-6-2 1 0-1-1-4-1 14-2-2-2-7-6 1-2-5-9 5-1 0-4-9-2 3-2-5-11-3-5 15-40-1-21-1-3-29 27-11 22 18 7-5 13 8 3 1 1-13 2 6 6-2 1 4 1-5 3 0 6-12 5 12 6 3 0-14 9 2 4 13 7-4 4 5 6 3 4-11 3 8 12-13 0 8 0-8 15-1 12-2 16 12 10-10 8 2 76-7-36-5-6 2-33-8-25-9-4 1-10 10-53 4-14-3-4 7-22-14-1-8-2 6-3-1-10 11-1-6-5-2-1-3-19 18 42-33 9 5 27-12 1 15 1-11 3 8 1-15 4 6 1 7 4-4 6 3 5-6 2 11 5-11 18 12 28-3-27-36-17 10-36 1-8-3-4-14 52-24-25 14-59 28 18-16 20 2 24-1 70 2-19 37-3 2-7-14-19-1-43 9-9 3-1-15-26-4-53 12 5 19 8-1 7 11 8-10 28 14 5-8 6 10 12-8 4-9 33 5 5 11 1 0 6-17 3 8 1 8 3 3 4-8 10 5 4-11 7 13 3-11 12-10 2 19 5-7 16 5 40-13-43 44-21-21-3 3-6 6-2-6-12 15-4-6-8-1-13-6-12 15-4-6-4 4-6-20-7 19-13-5-6-9-3 0-1 17-1-1-1 1-2-13-83 38 20-22 20 6 3 13 6 4 9-11 11 9 6-16 5 10 1 2 1 6 5-23 4 23 0-9 1-12 1 17 6 0 3-12 4 16 2-2 2 2 1-1 5-14 3-2 3-7 2 4 2 9 7-13 2 21 20-14 3 9 2-2 7 1 3-1 0-13 4-1 1 16 18-1 3-14 3 9 7 3 0 8 5 1 38 2 14 19-18-13-6-5-22 17-27 2-1-10-1 2-1-5-6 8 0-11-1 17-2-4-2-8 0 14-2-5-2-12-2 12-2-11-1 9-3-12-3 7-8 6-1-8-6 9 0 0-1 5-1-3-1 0-1 4 0 1 0-9 0 1-1-8-3 6-1 10-5-23 0 19-2-1-4-14-2 2-2 17 0-19-5 13-8 5-12 1-2-18-3 5-10 13-10 0-5-6-21 3-9-9-2-5-2 12-2-1-17-1-2 25 5-15 2 8 3-4 10 12 9 1 0 0 11-7 10 0 1 3 3-3 2 10 6-12 0 0 4-3 4 16 0-22 5 3 1 18 1 2 0-18 2-5 1 6 1 0 2-1 6 9 3-14 2 0 1 14 1-14 2 19 2-4 1-1 0-15 2 7 6-1 5 11 1 2 0-14 0 11 0-12 0 7 2 11 1-18 4 19 2 0 1-9 1-14 4 9 1 14 3-21 4 14 1-8 0 11 1-4 4 6 0-1 4-7 1-10 1 0 0 17 7-2 20 2 1 0 1 4 7-17 6 15 11-10 4 1 1 0 7-8 4 7 2 11 8-19 14 3 11 37-34-1 0-18-14 9-4 6 0-10-1 13 0 0-6-6-1-8-8 20-10-20-2 8-7-7-1-1-2 0-4 16-5-10-3 13-2-2-2-17-2 12-3-8-1 1 0 7-1 0-2-11 0-4-1 14-2-9-1 12-6-10-2 13-1-19 0 17-4-6-4 5-4-1 0 6-1 1-6-15-1-4-4 1-1-4-2 1 0 3-9-4-2 12 0 8 0 2-5-3-2-4-9 7-11-24-7 9-7-3-54 8 9 18 6-4 22 14 2 3 10-4 7 1 18-6 3 5 3-1 2-1 2-4 3-6 2 2 0-1 3-2 1 16 0-6 2 9 0-16 2-4 1 7 0-5 1 14 9 3 5-14 0 15 1-10 6 9 1-5 0 7 4-22 1 17 0-7 2 6 1-12 1 14 4-15 2 2 0-2 1 20 1-3 1-20 1 19 0-13 2 2 1 4 1-6 0 12 2 3 4-21 2 13 1 6 0-9 1-1 2 11 0-7 0 3 9-11 0 17 3-20 4 17 2-1 0 4 1-14 4 11 3 3 8-22 10 3 20 10 2-9 0 16 14 2 11-14-12 35-20-18-6 1-4 6-10 7-6-2 0 1-1 10-2-22-1 6-6-8-2 22-3-13-3 8-7 4-8-1-2-16-3 7-2-2-2-3-2 1-6 9-4 0-2 3 0-14-13-5-1 12-1-12-1 3-1 3-1 1-1 13 0-10-10 7 0-17-7 12-2-5-8 9 0 6-3-12 0-2-2-6-15 3-2 1-24 1-1-2-7 1-12 6-8 10-11-14-16 23 12 1 44 13 33-20 21 1 1 21 13-18 7 0 0 2 8 4 14 7 0-12 3-3 0 16 8-11 18-6 3 0 6 12 13 3 11 5 5 27-11-7-1-7-9 11-8-3-20-6-12-2-20-1-13-2-3-3-11 17-35-3-1-10-1 10-5-9-5 0-9 6-11-9-13 19 14 9 26-2 8 2 15 1 16-3 12-2 19 1 5 8 39 2 21-3-77 15 25 31 63-55-61 6-38-1-55-4 6-26 11 14 4-1 17-3 1 1 28-7 2 7 8 1 2-6 8-5 12 14 2-4 5-3 1 2 5-3 14 8 12-1 60-38-18 16-2-1-24-18-2 1-2 6 0 9-3-10 0 6-11-12-9 0-5 16-5-8-3 10-6-13-5-6-7 15 0 7-1-11-13-11-6 14-2 0-13-1 0-8-3 11-1 5-2-10-1 8-2-1 0-9-11 3-14-4-13 9-8-15-4 12-4-13-3 17-19-2-6-38 6 19 30-13 3-3 8-5 5 5 3 13 1-12 0 10 5-16 8 2 8 18 1-9 2 3 2-12 3 8 3-3 10 15 2 0 0-6 1-1 1-7 0 11 2-17 1 6 1 0 4 4 1 7 0-9 1-1 2 8 4-2 1-3 11-8 1-1 3 9 2-6 0-3 2 4 0 5 6-11 2 19 0-3 3-2 3-2 1-9 3 13 2-4 1-3 1 5 22-12 10 4 6-4 9 20 18-12 24-6-16-14-23-4 0 5-14-14-5 3-1 0-2-3-15 18-1 2-2-23-7 22-1-19-5 7-1 13-1-24-2 24-1-8-1 4-1-13-2 15-3-18-4 12-1 0-4-11-3 13-1-9-2 11-3-18-4-1-2 19-3-1-3-8-3-8 0 9-7-7-1 13 0-2-1-12-1 20-3-24 0 4-6-1-2 7-2-9-1 5-4 17-2-23-1 5-1 4 0 6-1-8-2 12-2-14-1 17 0-9-1-2-14 3-1 2-7-12-13-2-19-2-2 23-5-11-9 1-5-6-20-6-11-4 18-16 5 4 1 9 3 3 30-2 23-14 8 5 0 1 1 11 1-1 2-2 3-4 1-4 2 12 0-3 10-9 1 7 2 1 1-2 5-3 2 8 1-8 2-2 4 8 2-9 2-12 6 2 2 6 1 0 2 11 0-18 1 9 1-5 1 4 1-6 3 16 10-18 1 1 1 7 4-9 2 22 0-19 1 9 2-8 0 6 0-10 0 1 3 0 3 9 8 5 11-11 0-4 1 0 0 6 1 10 1 6 0-11 3 12 1-2 0-9 9 4 5-2 2-10 10 12 8-2 26-3 6-8 7 10-19-20-26-8 0 0-2 5-7-13-2 16-11-14-6-3-2 16-12-2-3 8-3-19-1 9-5 7-1 3-5-1 0-1-1-14-3 7-1-1-1 0-1-2-2 0-2-10 0 21-4-12-4 11-8-12-1-8-2 21 0-6 0-8-10 5-2-12-1 12 0 7-2-9-1 6 0-8-1 4-1-6-1-3-1 13-5 6 0-11-4 12-3 0-1-17-2 3 0-5-1 19 0-18-2 4-2 7-1 3 0-14-9 12-1-15-2 9-1-1-1-7 0 13 0 7-1-24-6 14-3 10-5-9-2 5-5-18-1 7-1-9-9 14-3-5-31-5-16 5 36-30 0 7 13 12 0-12 14 4 0 3 8-18 1 14 1-6 4-5 3-2 10 10 1-10 1 9 6-7 1 12 6 4 4-12 0 2 4 13 4 2 5-19 1 19 0-9 1-4 0-10 11 18 0-6 15-10 3 4 0-3 0 9 2 6 5-19 7 9 12 10 2-2 1 7 1-2 1 2 2-14 1 0 4-5 1-3 2 13 26-8 3-2 0 11 23-11-19-12-19-14-1 7-16 12-5-11-2-2-2 13 0-20-2-2-1 23-4-4-13-14-2 17-9-16-9-6 0 5-5 18 0-19-1 13 0-15-1 18-3-10-2-8-6-3-4 20-2-10-6 2-1-5-11 8-1 5-1 1-19-18-2 11-3 0-1 8 0-21-1 6-9 7-3 4-11-5-5-8-19-5 0 12-22-3 43-17 6 3 6-1 14-3 11-7 9 13 21-2 2 4 3-2 4 0 28-12 9 7 0-6 6 0 1 7 5 1 1-8 3-4 5 4 56 8 33-11-26-10-8-18-64 19-2 0-5-2-56-9-4-3-1 12-5-3-45 1-15 3-14-23 62-12 12 1 4-8 6 5 6 5 24-14 13 10 19-6 6 12 18 0 6-2-70-55 13-2 70 9-68-22-32-10-44 1 86 45 48 35-15 7-12-14-4 3-1 8-14-1-1-1-11-3-19-1-8 4-18-2-22-8-26 38 9-4 6-18 46 17 1-2 1-5 2-5 22 17 8-13 6 13 0-15 9 10 13 2 11-11 55-8-33 38-10 8-1-1 0-16-10 11-3-12-3 17 0-9-27 3 0-7-3-4-4 13-2-10-8 0-6 2-4 14-5-20-6 15-3 7 0-9-2-13-13-2-1 22-25 1-16-9-1 9-29-9-14 15 21-1 7 7 6 11 22-6 5-12 3 8 4-1 8-4 3 3 2-8 3 3 4 10 1 8 0-12 13 3 3-8 3 4 1-5 0 9 7-4 1 6 9 5 6-14 1 14 5-10 3-1 12 5 0 10 1-5 2 5 3-22 1 14 11 1 1 3 1 3 1-4 3-9 6 9 1-12 2 14 42-19 23 9 17 37-59 0-8-12-1 8-13-11-2 9-1-1-4 1-17-2-5 1-5 1-6 1-2-1 0 3-3 0 0-17-4 7 0 3-2-9 0-3-1 21-2-19 0 18-2-2-1-9-1 6-6-4-9 5-2-12-2 19-2-14-1-10 0 1-1 8-2-4 0-2-1 3-5-1-3 9-2 4-2-16-2 2-2 14-4-14-3 11-2-11-1 3-2 4-1 9-4 2-5-4-1-4-20-6-2 7-4-5 0 4-8-1-13-10-7 13-31 30 57-8 0 4 2 7 10-7 4-15 4 7 11 11 1-4 5-8 2 10 5-16 3-1 0 17 1-2 6-3 2 10 1-21 2-1 0 19 3 4 0-19 6-2 0 18 2-17 0 5 1-3 0 8 3-7 2 15 2 0 2-11 2-10 0 9 1 3 2-12 0 11 1 12 1-18 6 0 0 0 2-6 0 4 2-2 0 5 1-5 1 17 2-13 1-2 1 20 1-4 1-7 0-10 1 8 1 9 3-2 1-2 6-3 3-7 7 9 1 1 2-7 10-1 18-6 8 9 2 9 8-17 10 1 4 14 3 6 48 0-22 9-1-2-22 13-2-16-6 11-5 10-5-24-13 1-13 1 0 15-7 7-5-15-4 3-3-11-1 2-7 19-1-15-1 2-5 12-2-11-2-3-3 6-1-5-1-1-1-5-2 2-6-2 0 3-1 7-1-6 0 7-3 9-1 0-2-6 0-3 0-6-9 11-1-18-1 2-3 22-3-11-3 5 0-11-7-3-5-4-1 2 0-2-4 23-4-2-1-18-2 10-1-5-2-8-4 15 0-15-2 17 0-3 0 0-1 0-3-6-3 16-7-5 0-11-4 8-6 4-7 1-1-21-3 20-4-9-14-4-8-6 0 30 1 13 2 2 14-8 1 7 6-2 8-5 7 3 3-1 0 7 4-8 6-10 2 10 4 5 15-2 1-11 3 17 8-2 3-10 1-11 4 0 3 5 1-3 9 8 5 10 3-20 2 4 3-4 3 23 3-11 0-5 1 10 0-17 4 18 1-1 1 3 1-4 0-8 1-4 0-2 1 3 1 17 1-19 2 7 3-10 2 0 5 7 4-1 7 12 10 0 2-16 3 14 3-11 8 19 2 0 15-6 3-16 49 16-53 15-3 10-26-14-9 9-3-3-1-5-5 4-3-7-4 9-2 8-1-8-6 13-2-24-2 13-2-2-1-3-2-7-3 23 0-13 0 1-3-2-4-4-4 17-1-19-3 14 0-3 0-9-3-3-5 20 0-8-2 6 0-15-20-4-8 9-3-3-10 6 0-13-11 5-6-5-4 14-6 0 0 8-5-5-25-17-2 3-17 6-5 13 10 9 7 0 51-3 4 8 9-5 11 13 10-8 6-7 1 14 3-17 2 19 12-12 2 6 3-8 6-3 19 13 1-6 9 7 3-3 3 9 4-6 17-2 28 8 35-10 33-13-60 44-22-16-2 6-1-10-14 21-14-7-5-5-12 1-15 7 0-17-6 10-9 5-6-13-1 14-1-1-5-5-2-9-4 0-6 2-10 1-5 8-4-12-8 17-8 5-9-22-11 7 4 30 67 2 11 8 1-17 19 7 26 11 4-11 9 4-29 25-24-1-26-8 15 54-52-56 89-4-27-15-22-2-18 3-9-4-9-5-33-28 1 0 13 3 18 11 12-14 9 23 0-21 1 0 2 4 2 10 4-7 18 0 12-7 2 14 11-4 22-11 5 6 1-1 11 13 26-2 30-11 13-28-17 20-22-15-4 11-3-1-45-4-4-4 0 11-6 2-1-7-1-5-3 5-3-2-1 5-7 0-1-19-3 9-5-6-2 1-2 5 0 2-6-8-7 0-1 11-1-3-10-1-4-9-1 11-11 3-3-5-1-10-31 6-11-6-13 15 20-25 3 8 3-1 20-17 2 4 5-1 3 10 10-17 4-1 2 0 4 0 8 18 0-10 6 2 10 14 0-20 2 18 3-5 3-3 9-11 2 6 1 7 1-9 9 11 1-13 3-5 11 19 4-2 3-9 2-8 3 17 1-10 8 4 7 9 7-5 8 3 18-7 2-3 16 15 52-38-23-6-14 11-10-15-55 0-10 23 0-15-5 4-3-11-5 14 0-10-7 17-2-16-13 18-4-14 0 8 0-15-1-1 0-1-1 3-9 1 0-1-3 0-1 11-1 7 0-17-8 0-4 11-8-16-1 1-5 21-1-11-5 0-4-4-7 6-5 2 0 4-4-5-4-8-5 3-3 0-3-4 0 19-9-24-4 3-2 11-9-3-8-11-12 11-15 9-25-18 18-6 41 1 11-12 3 12 2 2 3-8 3 0 1-11 1 9 7-11 1 2 2-4 1 21 5-5 0-5 2-11 2 0 3 21 2-14 4-8 3 19 0-18 1-1 2 20 6-14 2 9 0-10 3 8 0-7 1 4 4-4 1 13 1 0 2-5 0-13 0 17 3-9 3 11 0 4 2-9 1-3 9 9 0-21 0 4 2 10 3-7 2 15 6-12 0-7 1 16 4-4 1 0 1 5 1-3 0 3 3-5 1-13 0 5 1 2 0-2 0 7 1 6 2-3 4-1 0-15 2 5 0 9 6-11 1 17 3-11 1 6 1-2 4-11 8 15 15-1-1-41-3 7-14 14-4-6 0-13 0-1-2 5-2-2-2 2-4-4-4-2-4 9-3 12-3-8-2-6-3 13-2 0-1-1-6-12-2 2-1-4 0 11-1-14-5 20-2-16-1 16-4-2-3-2 0-3-2 7-1-16-1 9-3 3 0-11-2 11-2-1-2-1-1 2 0 2-3 1 0-19-1 13 0 5-3 1-1-7-1-7 0 9-4 4-1-21 0 8-1 6-1-10-2 11-2 9-3-11-1 8-2-3 0-5-1 2-7-5-1 3-5-1-1-8-3-3-8 17 0-1-2-8-3 11-11-11-14 8-13-10-24 9-2 8-5-9-12-9 45-20 1 12 1-11 17-12 15 10 5 12 7-18 2-4 1 6 4 4 1 0 7-9 1 14 1-2 5 9 3-8 1-14 0 24 0-3 4-12 1-3 2 11 2-6 4 0 0-11 4 14 2 3 0-2 2-12 1 12 0 2 0-13 0 18 1 2 6-5 2-12 1 12 1-17 0 9 5-2 1 8 1-6 4 0 1-5 7 5 0 3 5-2 2 4 0-11 8-5 2 10 1-7 1 0 3 12 8 8 3-15 1-4 5 10 2-5 2 3 3-12 9 21 5 0 6-16 22-2 40 18-49-23-18-11-16-8-3 4-1-1-5 16-3-5-8-3-4-13 0 0-2 21-5-2-3-17-8 5-2 9-3 4-9-17-3 10-3-4 0 0-2 11-1-14 0-2-15 6-7 2-3-1-4 9-1-22-3 22-2 0-5-3-1-1-4-14 0 16-1-2-9-15-17-1 0 14-13-4-49-21 36-9 23 7 4 4 0-18 10 22 1 0 5-3 1-13 6 8 13 9 7-19 6 2 1 0 0 14 6-6 3 2 26-1 2-4 2-1 1-7 2 16 1 0 3-10 8-6 17 6 36 12 9 0 11-34-6-6-14-3-45 15-3-7-8 3-1 0-32-5-5 13-23 1-3-17-6-5-2 9-57 7 57-27 14-13 1 7 6-5 13-3 0 0 1 12 5-9 1 0 17 20 16-12 5 11 1 0 26-11-47-19-1-13-6 6-81-20 95 8" marker-start="url(#b)" marker-mid="url(#b)" marker-end="url(#b)"/>
<path d="M1544 1511l2 17-89 30 9 10 14-18 6 24 42-19 30 28-8 11-29-7-4-12-11 4-12 7-10-6-15 13-11 5-4-3-23 0-17-11-1 14-70-19 45 42 14-12 17-6 27 10 0 2 2-5 2 9 9-14 3 1 26-2 12 9 14 4 27 2 14-9 5 21-10-3-11 12-9-4-12 4-23 2-7-5-1 5-2 1-4-8-19 5-16 5-8-10-5 11-9-13 0 13-3-7 0-1-16-5-13 4-86 33 59-20 7 24 2-15 3-7 8 12 0-6 19 10 11-18 4 12 2 2 1 3 4-7 1 4 5-11 3 6 5 14 4-20 5 17 3 4 5-9 1-13 5 13 1-10 3 6 1-10 3 16 7 6 2-20 5 11 1-11 0-2 21 3 15 12 9 0 4 12-2 1-22 3-4-1-1 13-14-18-5 23-3-10-4 3-3 4-1 0-1-18-1 11-3-3-2 7-3-17-2 18-3-14-4 14 0-12-1-7 0 19-1-14-2 12-1 2 0-14-2 9-3-7 0 9-3 2-3 5 0-4-1-7-2-6-5 0 0 13-4-3-2-6-1 1 0 5 0-2-1-7-2 1-1 11-1-15-3-1-3 5-3-5-1 2-1 17-3-7-2-7-3 6 0-9-5 16-4-1-3-4 0-15-3 7-27 8-2 8-36-4-14 23 13 3 4 2 15-16 8-3 4 14 1-14 1 18 7-14 2 3 4 4 1-2 0-4 4-1 5 12 1-6 1-9 11 16 2-14 1-2 1 13 4-3 0-13 1 9 1 8 1 3 2 2 0-23 1 23 0-17 2 10 1-1 2-2 1 7 1-17 2 15 0-3 2 3 0 3 1-22 0 2 3 15 2-12 1 11 0 1 1-14 1 3 2 3 4-5 4 15 1-4 2-9 1 10 0-3 0-13 2 2 7 4 0 2 0-8 1 8 1-2 1 18 1-12 8 4 4 1 2-15 2 16 0-18 2 10 1 11 1-17 1 6 0 1 10 11 8 1 0-18 1 9 56-3-42 23 0 6-21 3-1-16-3 17-5-6-7 5-2-10-8-2-1 11 0-11-2-5-8 23-2-2-3-1-1-15-1-4 0 21-5-20-4 17-1-18-2 3-1 13-2-2-4 5 0-10-3 1-3-1-1-3-1 7 0-6-2-7-1 6-1 6-2-11-1 19-1-11 0 0-1 13-2-7 0-5 0 12-2-2 0-6 0 1-7 2-1-11-2 15-1-21-3 16-1-6-1 11-3-19-4 20-4-17-2 3-12 7-5-5 0-6-1 11-1-5-1 2-10-5-7 2-3-9-24 0-5 35 30-10 1 19 1-16 8 12 1-5 1 10 5-3 1-15 2-4 4 24 2-22 1 14 4 8 8-6 3 4 4 0 3-8 1 6 0-16 4 19 3-19 2 15 6 2 1 1 3-11 2 13 1-11 1-11 1 3 4 0 3 8 1 5 7-17 2 15 1-13 1 4 1 8 2 3 0-4 1 0 1-10 17-1 1 5 0 9 9-16 0 2 1 0 2 3 0 7 11-6 4-1 1 9 5 1 2-14 4 9 17 6 12 13-27 0-11 9-1-7-4-4-6 21-9-13-7 7-11-14-1 8-4-5-2 0-2 16-2-17-7-4-1 12-2 1-5-4-6 7 0 3-1-5-2 8-4-23-2 21 0-22-3 4-17 18-5 1-1-2-1-18-2 13-1 0-3 7 0-23-2 1-3 3-5-1-6-1-3 19-2-6 0-9-3 18-7-11-2 1-24 9-18-16-18 32 10-8 2 10 28-12 2 17 5-2 8 1 7-13 2 6 5-11 1 4 9-1 2 9 4 2 3 8 1 0 1-4 1-11 1-5 13 12 8-13 9 13 6-2 4 10 1-24 3 3 8 6 2-3 5 9 5 8 2-21 5 4 20-5 48 12-33 18-7 6-25-9-8 5-19 4-25-12-7 17-6-16-12 3-2 4-5 5-1 3-6 7-4-14-3-8-2 7-5 6-5-1-3 1-1 9-2-18-23 29 7-4 44 9 10-13 2 13 1-2 2 0 12-9 46 1 7 17 15-1-52 12-89 14 5 35 26 21 65-19-105-42 55 0 72-10-34-16-36-9-15 2-3-1-11 1-32-27 37 2 7 16 3-13 4-3 3 9 7-7 3 7 2-12 9 3 18 14 33-16 54-6-18-17-24 0-11 12-3 0-2-8 0-12-4 15-3 1-4 0-11-4 0 1-9-12-6 10-1 7-3-5-4-13-2 17-2-5 0 6-3-14-1 15 0-17-1 3-4 15-1-13-6-6 0 0-6 5-9-6 0 15-9-10-5 2-33 12-15-18 8-10 36-12 5 4 6 15 5-22 10 16 7-17 1 18 15-8 0 5 0-10 4-3 0 15 4 1 1-14 2 0 3 9 9 7 2-2 1-10 1-2 4 5 2 5 1-5 5 2 1 9 1-12 3 2 1-1 2 0 1-3 1 3 0 9 0-4 1-8 2-4 4 0 3 4 2 8 0 1 3 4 0-8 1-11 3 7 3 7 0-5 2 5 25-11 76-16-65-2-4 4-3-12-1 15-5 0-3-12-6-2-1 2-5 6-1-7 0 18-1-14-1-9-6 6-1 16-2-21 0 16-2-2-1-13-2-3-2 6-3 5-4-3-1-2-1-3-4 18-3-9 0-6-6 0-1-1 0 0-3 18-2-9-1-9-2 4 0 15-3-8-1-11-2 3 0 1-1 7-1-13 0 1-2 20-1-4 0-7-2 7-2 1-2-2-2-2-4 7-2-2 0-17-8-3-2 5-4 11-1 6-4-19 0-4-3 14-13-15-33 16-34 6-17-9 25-22 16 6 30 1 5 1 10-13 1 3 3-4 4-1 1-4 4 1 2 8 1 0 6 9 1-16 2 11 2-8 11 7 1-16 2 22 3-2 1-7 7-9 10 8 5-6 2 9 1-9 1 1 0-1 2 16 1-15 4-6 6 16 1-10 2-8 3 11 1-2 0 12 3-15 1 12 1-11 2 9 2-12 0 14 1-13 1 0 3-3 0 7 3 6 2 3 4 6 4-24 4 2 0 0 1 2 1 16 1-10 1 7 1-5 7-11 1 18 1 4 2-9 11-11 0 16 8-7 10-12 7 5 9-13-8-14-12 0 0 21-2-9-3-6-12 7-5 4-2-9-3 11-2-1-4-14-1-6-1 7-1 2-2 14 0-23-5 4-2 7 0 11 0-3 0-12-1 13-3-18-1 8 0 6 0 4-5 0-5-6-4-1-1 4 0-12-4-2 0 0-2 0-5 10-2-4 0 3-1 3 0-6-2-6-1 0-2 14-1-8-1 5 0-5-1 0-1 4-8 5-2-17-2 3 0 17-2-13-1-3 0 18-7-9 0-13-10 12-3-2-1-1-1 12-2-17-22 10-5-8-15-1-28-18 19 5 0-11 5 13 4 2 35-3 7-15 4-4 1 20 2 1 2 1 3-3 0-4 10 1 3-13 1 14 1 1 3-12 3-1 2 14 1-20 0 13 3-13 0 11 1 1 1-1 0 1 1-7 2-2 1 21 3-5 0-14 2 17 4-18 0 6 1 2 2-5 3 13 0-14 3 11 1-11 2 7 0-8 1 1 4 13 0-7 6 3 5-3 10 6 1 4 1-2 4-10 8 6 4-1 2-4 2-5 4-6 18 6 3 8 4-3 30 3 9 4-21-34-8 2-5-4-1 5-3 0-1-9-1 20-3-21-12 18-5-15-5-3-5 8 0-5 0-2-1 13-1-6-3-8-5 5-2-2 0 0-7-5-5 18-1-2-3-9-1 5-2-11-2 22-5-3-2-5-8-2 0 5-2 1-2-12-11 7-4-3-8 10-5-6-2-11-1 13 0 1-2 4-1-15-29 5-4 3-15-5-11-5 38-23 12 6 0-1 1-1 0-2 3-3 3 16 23-4 6 3 2-17 2 19 2-17 1-1 6-2 9 21 2-15 0 10 3-16 1 12 1-3 12 6 1 2 0 0 4-10 11-6 0 11 6 6 2-2 24-17 2 19 8-11 38-18-40 5-4-22-7 10-14 7-20-8-6 10-6-10-30 13-31-4 10-21 21-2 5-1 4-11 7 5 5-11 21 14 11-6 4 1 23-5 5 11 33-21-3-14-13-4-88 19-9-31 35-7 79 15-54-37-48 42 31-3 5 20 18 3 68 8-60 12-1 2-1-2-33-10-38-5-15 0-35 31 27 5 0-10 7 9 7-10 3 5 7 0 9-4 1 1 5-6 5 22 13-2 7-19 1 16 4-9 3 14 10 0 4-17 42-5 43 0-34 47-8-15-20 0-1 10-7-8-3 0-2-6-3 19-13-8-1 8-11-13-12 13 0-19-1 16-1 1-2-9 0-1-5-7-17 12-6-9-2 11-3 3-5 3-17-11-4-11-3 13-85 2 16 32 14-22 12 7 6-7 1 11 7-11 0 6 2 17 2-18 5 17 1-8 2 8 6 1 4 0 1-8 1 8 4-4 3-17 6 19 1-17 4 4 2-3 2 1 2 4 1 13 0-12 2-7 3 1 2 14 7-7 4-6 0-7 6 20 12-17 0 14 4 4 1 3 2-4 4 4 2-12 1 12 1-3 0-17 1 2 2 16 5-12 4 4 0 1 2 9 0-17 11 16 6-17 0 3 5 5 14-9 17-3 15 12 22 11-59 9-7 8-1 4-3-9-3-7-18 16-4-7 0 4-7-16 0 9-1-3-1 3-4 2-6 11-3-2-2-5-1 3 0-12-4 10-1-6-1 8-4-5-2-11-1 12-5-6-4-7 0 21-1-10-1-6-2 3-2 13-3-16-2 2-1-2-1-4-2-2-1 2 0 13-5 5-5-3-1-6-1 8-1 3-1-19-1-1-3 8 0-1-1-11 0 19-1 3 0 2-1 0-2-10 0 10-3-12-8-3-1 0-6 12-2-17-1 8 0-1-1 6-24 3-9 4-3 0-7-4 8 10 2 12 4-3 6-13 0 8 11 5 1 9 5 1 1-5 7-6 0 2 5-3 3-8 1-2 1 18 1-13 0 2 1 13 2-16 2 16 2-12 4-3 0 0 1 6 4 4 0-5 2 11 0-1 2-15 0-6 3 7 6 11 1-2 2-10 0 11 4-12 2 8 0 10 0-6 1-14 1 13 0 3 1-4 5-3 2 10 0-7 0 8 1-13 2 10 1-10 4-1 1 4 2 1 3-7 1 8 0-12 2 14 3-4 3 6 5 1 7-16 1 3 0-1 3 14 2-11 0-6 8 7 4-3 8 11 3 4 40-11-8 15-55 4 0-5-2 10-7-9-1-2-6 9-5 12-2-4-3 5-2 1 0-5-4-13-3 11-2 8-2-9-1-7 0 4-4 7-5-18 0 14-8-11 0 13 0 6-5-12-3 2 0-1 0-9 0 3 0 15-2-12 0-6-1 0 0 8-5 11-1 1-1-20-2 10-1-4-5 5-1-13-4 19-4-14 0 4-1 9-9-2-7-4-3-13-18 8-3-4 0 1-5 18-1-8-9-3-6 11-13-1-12-18-28 17-3 24 38-2 16-10 15-8 23 8 2-5 2 3 6 13 3-7 0-9 2 11 1-3 3-11 4 9 7-2 1 13 2-9 3-2 2 1 2-4 4-2 2 7 4 12 1-2 1-18 2 9 0-5 2 6 5 6 1-11 1 10 0-15 1 2 1-1 1 5 1 8 1-10 3 14 1-13 3 1 3 14 0 0 0-18 1 8 1 4 2-8 0 14 1-11 4-5 8 1 6 11 9-19 3 23 3-12 2 4 57 14-48 9-16-13-11 19-4-17 0 16-4-7-1-6-4-3-10 0-2 17-6-6-3 9-7-16-1 12-2 0-9 5-3-15-1 2-4-1-11 12 0-17-2 15-2-14-2 13-1-13-5-3-4 5-4 2-4-9-4 7-1 2-1-1 0 15-1-8-7 4 0-15-3-1-10 15-3-6-3 0-5-9 0-3-10 17-2 5-7-9-3-6-7 3-4 12-21 13 53-3 1-4 10 11 23-7 6-5 3 5 10-3 4 15 1-14 5-4 0 9 6-1 4 11 8-14 1 17 9-6 13-8 3-8 19 6 21 18-10 9-22 5-5-14-24 10-5-6-12-4-2 7-9 1-2 15 0-15-1 7-8-15-5 12-3-2-8-7-9 13-18-13-23 18-12-15-49 42 2-11 70 2 0-2 5 11 11-15 35 4 29-10 27 39-21-11-30 8-22 2-8 1-1-14-6 59-32-37 33-24 44 13 1-2 16 7 2-37-9 2-6 4-101 4 24-26 4-14 5 11 17 6 18-11 3 11 0-8 11 0 16-4 3-4 16 11 2 1 10 8 5-2 3-4 40-7-8-24-13 2-3-11-4 16-10 6-14-13-4-6-11 2 0 7-1 1-15-6-5-3-8-1-3-4 0 0-1 11-4-10-1 20-1-4 0-13-2 7-13 1 0 2-22-8-13 10-21-1-19-10 23-18 10 6 1-6 6-7 10-3 14 21 7-3 5-1 6-16 2 13 13 7 3-3 1-3 0-9 1 7 1-8 3 9 4 6 1-2 2-13 4-1 3 10 6-11 3-5 1 16 2-15 16 9 5-5 4 13 1-4 1 10 10-19 1-4 1 14 0 3 18-16 0-1 1 5 14 6 12 2 42-4-1-20-17-9-36 4-5 9-5 1-4-7-8 3 0-15-1 2 0 2-1-3-3-1-2 8-2 7-5-7-1 14 0-23-8 14 0-9 0 13-1-5-1-13-6 16 0 4-8-16-3 20-1-19-1 7-2-12-5 10-3 9 0 0-1 2-1 0-2-3 0-8-2-10-3 6-3 7-2 0-1-2-3 0-1-10-4-1-1 12-2-3-1 1-3 13-2-15 0-7-2 16-5-10-2 2-2 7 0-8-2 16 0-20-4 16 0-17-4 7-4-3-4 9-1-13-5 12-15 6-23-5 14-40 18 15 15-14 12 12 2 8 3 2 3-11 5 6 1 3 1-19 2 2 4 19 8-18 1 9 2-4 4-10 0 23 1-10 4-3 2-7 2 9 0-4 0-9 1 22 1-15 2 16 2-4 1-17 0 18 3-7 1-13 0 15 3 1 0-7 0-1 2 0 1-6 1 5 0-6 0 20 2-2 0 1 5 4 0-2 1 0 1-7 2-13 0 21 3-21 0 17 2-18 0 7 2-1 1 13 0-4 1 4 1-4 2-15 0 13 0-13 1 18 0-11 1 5 4 4 1-12 2 3 5-4 6 6 8 7 4-1 0-13 11 12 6-2 1 0 7-9 1 20 7-5 50 5-19-36-19 9-4-22-1 7-5 6-7-11-3 5-7 10-1 3-4-6-3-2-4 11-5-7-8-6-1-4-4 3-4 3 0 11-2-7-1 0-3-2 0 0-4 6-5 0-1-4-1-15 0 12-3 5 0-6-4 0 0 4-2 3-3-6-1 7-7-7-2 8-5 3-1-14-2 0 0 5-1-3-3-3-1-4-3 17-1 2 0-18-4-6 0 10 0 5-1-12-12 19-4 0-10 0-3-7-11 4-4-1-13-9-1 3-2-10-1 2-6 9-14-12 5-20 14 13 13 2 0 2 6-20 13 20 9-23 10 1 4 22 0-6 0-7 5-7 1 5 0 12 1 4 1-20 1 19 1-22 0 15 3 6 9-16 0 6 2-4 1 12 0-8 1-2 7 4 0 6 2 0 0-8 1 11 0-18 2 11 3-15 4 9 0 0 1 3 3 6 1-4 0-6 3 11 6-12 0 16 6-21 0 14 2-5 0-5 0 6 4 4 0 3 1-11 0 15 0-1 32-5 4-18 1 5 10 6 4 4 3-10 4 17 26-16 10 11-1-22-11-12-9 8-22 1-1-17-5 16-13 4-3-2-6 3-3 2-3-9-1-7-3 17-6-12-8-4-2 15-2-1-2-13 0-9-2 18 0-10-2 6-2 0-5-10-2 19-1-8 0-8-6 5-2-1-6 7-5-3-1-6-2-6-3 7-1 11 0-3-1-13-7-5-3 18-1 0-4-14-8 11-3 2-3 3-6-2 0 0-2-5-3 8-17-20-31 15 51-25 13-8 23 3 12-6 5 16 1-16 11 12 3 0 8 2 2 0 3 5 1-4 10 2 2-5 1-11 4 3 5-4 4 14 6-10 7 15 6-10 4-11 3 9 24-10 18-3-26-23-5 11-4-8-6 5 0 13-5-4-16-13-2 8-16 10-15-23-1 20-21-10-12-10-7 10-6-19 33 1 3 6 22-3 0-4 10-5 6-10 20 8 58-8 11-19-58-1-9 10-13 1-25-16-17 7-9 11 74-26 2-10 89-35-110 45-21-14-55 41 139 0-14 5-5 7-22 8-12-3-1 5-3 7-6-1 0-9-4-7-1 4 0 5-12 6-20-10 0 6-3-4-9-2-13 3-71 5 22 7 17 14 54-5 9 7 4-13 3 18 5-1 5-10 29 3 38 22-35 9-3-18-1 6-2-2-2 7-1 9-9-17-4 10-7-5-2-2-6-4-1 19-14-1-9-12-4-8-13 18-5-20-4 22-1-1-2-3-1-3-1 7-12-2-15-3-9-4-27-14-18 8 1 33 2 1 28 5 4-12 10-9 3 19 6-7 15-13 3 13 2 5 0 4 4-21 11 6 22 16 1-14 1-9 2 22 1-16 1 15 1-13 1 15 0-3 1-16 1-2 7 8 0 11 2-13 0 16 9-8 7 0 5-10 6 15 1 1 9-5 9-17 5 5 2 6 2 3 13 10 8-6 32 14-37 10-34 1-7-4-6 10-2-21-10 5-2 5-9-12-1 19 0 2-1-1-1-11-3 7 0 1-1-6-2-6-2-4 0 22-1-13-1-1-2 5-1 9-2-24-2 23-1-21-1 9-1 4-2-10-2 19-1-12-5-10-1 0-3 15-2 0-1-3-2 8-3 0-2-1-1-19-6 12-4 6-1-5-4-12-1 1-5 9-4-12-1 0-1 21-3 2-11-12-71 28 0-4 17-1 18-4 15 17 10 1 3-8 0-16 3 20 2 2 7-15 0-1 2 2 0 0 3 1 2 6 0 7 3-2 1-13 1 4 0 3 2-7 0 2 3 0 0 9 1-11 1 5 0 0 0-4 2 7 3 8 1-1 1-16 0 4 1 5 2 9 0-20 2 20 0-15 0 8 1-14 1 12 1 0 1 4 2 2 0-4 1-8 0-7 0 10 2-1 0-5 0-5 3 17 0-18 1 23 1-13 2-3 3-3 0 12 2 5 2-5 0 6 2-11 1 4 2-11 2 15 0-5 3 1 1 4 1 5 7-19 1 10 1 9 2-16 3-8 3 1 7 17 1-3 4 9 0-6 1-4 1 9 14-16 3 14 1-18 7 0 6 6 4-9 2 3 7-1-22 40-6-11-5 7-8-13-1 20-1-18-3 13-15-5 0-9 0 0-4-1-2 9-12-6-1 7-4 9 0-2-6-8 0 0 0 14-2-21-4 7-3 15-1-23-4 21-1-5-5-13 0 9-1-5-2-7-1 21-1 2 0-6-1 4-1-11-2-9-3 16-1-2-4-1 0 2-2-6-2 2-4 0-4 3-6 5-3-15 0 14-1-7 0-13-6 22-1-11-1-1-1 6 0-12-1 12-23-8-1-4-1 8-5-9-5 20-4 0-16-9-29 15 21 16 0 3 20-2 2-9 1 10 9 0 8-7 4-9 2-2 10 9 2-11 14 11 4 11 5-18 1-5 1 5 1 10 1 3 0-19 2 16 0 4 3-5 5 2 3 4 0-9 3 7 1 0 0-18 0 8 0-1 1-3 0 14 3-14 0 13 0-15 1 1 0 9 3-3 5-6 1 15 4-6 2 3 0 7 2-17 0-2 1-4 6 0 4 10 0 1 0-5 1-1 1-5 2 7 10 4 5-4 11 7 1-3 2 2 1 5 1 1 22-6 9-9-13 37 0-13-10 7-5-3-2-1-15-6-9 22 0-7-20 6 0-15-1 0-2-5-1 11-2 1-1-12 0 17-2-16-2 5 0 5 0-9-5-3-1 8 0-7-1 14-1 8-8-7-2-7-10 2-1-10-1 9 0 2-1 7-1-11 0 2-2 9-7-8-6 2-4-1-3 6-12-3-2 9-1-13-5-3 0-2-1 5-4-4-3 13-8-20-16 2-5 9 13 17 12 18 2-3 24-9 1 5 4-11 3 2 2 9 6 6 12-14 4 7 3-4 4 9 2 1 1-10 4-1 1 3 4 8 2 4 14-2 17-13 24 9 9-16 39 17-56 27-40-6-1 2-3-13-18 4-9 2-3 10-6-13-2 4-5-7-4-1-15 11-10 2-28-8-7-1-2 25 30 11 14-13 13 16 9-6 13 8 10-21 16 6 18 1 20 13 9-12-68 23-13 9-26 17-54 47 29-49-43-30 60 7 110-25-34-4-20 9-5-8-25-5-2 16-3-2-7 10-8-12-2-4-70-17 15 1 10-10 14 15 2-20 3 15 5-2 23 5 8-6 1 1 6 5 3-3 3-3 11 10 1-21 6 13 36-6 24-9 34-20-53 5-5-2-4-8-8 14-21-15-5 20-5-15-1-1 0 13-2-12-1 18-10-11-5 4-5 1-8-16-22 22-6-16-5-7-29-16 16 4 1-11 2 9 11-5 8 12 2-12 5-3 7 21 1-9 1-14 4 7 0 10 2-4 1-11 7 0 0 14 5-15 1 14 4-2 0-6 3-4 0 11 7-6 2 14 0-17 0-3 1 5 2 8 3-10 6 17 1-12 0-2 3 10 0-13 0 3 1 2 6 13 1 0 5-12 3 5 3-11 1 8 2 5 6 4 1-19 1 4 1-7 2 0 4 1 11 9 4-5 0 11 7-17 8 11 5-8 4 13 15-13 11-15-4-4 0-1-7-7-15 1 0 15-1-8-1-7 0 4-10 1-2 7-1-10-2 14-6-18-4 11-2 12 0-19-1 5-1-6-4 15-4-6-2 12-1-8-1-7-1-2-4 3-2 5-1-4-2-4-1 12-2-4-1-2-1-11-1 5-1-5-1 4-2 6-1-8-1-1-2-3 0 8-1-1-1 7 0-6 0 15-1-13-2 7-1 2-5-17-6 16-5 4-1-10-2 12-3-11-3 8 0-8-2 6-5-7-2 4-1 0-12 8 0-22-6 11-2-6-3-3-11 0-3 11-5-13-22 5 0-31 8 21 4-3 13-8 11-11 3 4 0 1 7 9 8 4 0-17 5 5 0 6 5-12 3 7 1-2 1 14 3-9 2 9 0-14 1 12 1-15 1 19 5-2 3-11 2-4 5 15 2-16 3 1 0 15 1-11 2 7 2-1 4-10 0 8 2 3 1-5 0-7 1 0 2 3 1 15 0-20 2 18 0-11 2 7 1-8 4-7 1 0 0 12 0-3 2 15 0-15 2 5 4-1 6 4 0-15 1 22 5-18 3-1 1 15 6-4 3-16 3 20 1-17 0 18 2-21 0 17 3 4 0-20 7 8 5 14 1-11 6 5 1 0 1-13 5 2 17 14 1-8 9-8 9-3 6-26-8 18-6-12 0-5-1 5-6 2-10-8-13 12-8-12-1 6-4 0-3-2 0 15-4-2-1-10 0-1-1 13-7-18-5 3-1 0 0-4-2 6-5 5-2 11-4-21-1 18-2 3 0-20-5 20-5-1-1-20 0 23-1-20 0 10-2 6-1 4-1 0-1-22-1 12-7 7-1-7-6-7 0 15-5-9-1-13-4 11 0 13-2-7-10-5 0 4 0-10-2 11-1-1-2 6-8-6-4-1-2 1-1-6-8 8-7-2-11-7-7 4-1-6-25-2 49-24 10 0 4 13 4-11 1-7 8 23 8-2 4 0 2-1 0 0 3-13 2 2 0-7 1 3 3-4 0 7 1 1 3 14 0-8 1-3 10 4 4-1 2 3 1-9 3 8 2-8 0 12 2-12 6 14 8-4 2-9 1 0 3-2 0-5 2 18 1-15 3 14 2-20 1-1 2 0 1 9 0 1 1 11 8-7 3 6 0-10 4 7 2 7 3-20 1 13 2 4 19 0 19 2 8-17 18 15-8-38-25 11-11-12-8 15-1-1-11-17-1 16-2-19-4 21-1-11-9 4-1-8-4 12-7 3-3-7 0-2-3 0-1-12-1 9 0 0-4 0-5 14-4-19 0 7-1 1-1 6-1 4-1-12-6 11-3-7-3 8-1-22-5 4 0 14-4-5-4-13 0 12-1-2-12 11-3-18 0 16 0-6-10-5-5-6-9 21-16-6-11 1-15 1 44-22 52-7 16-3 4 4 5 2 5 1 4-2 5 2 21-9 2-3 2-8 15 8 7-2 12 2 4 4 4-5 5 1 17-6 18-2-27-13-10 10-10-8-19-6-10 7-1-5-9-2-9 0-20 14-1-15-10 3-30 4-4 2 21-25 29-1 6 8 13-17 21 14 5-8 18-11-15-15 0 1-19-5-36 10-62-8 146-23-7-15-59-11 14 45 65 2 11 8 1-12-7 35-14-11-4 3-41 13-11-18-14 19-19-7-2 2-4-6-16 3-16 2-18 21 16-9 25 6 9 17 8 0 12-18 1 1 3 14 2-12 7-2 2 2 9-3 11 7 13 2 7-4 16-10 15 0 3 21 7-3 48-6-81 34-32 1-6-8-4-11-2 8-3 5-5-3-8 3-2-2-1 6-5-18-1-2-4 24-4-5 0 5-1-18-2 6-12 5-1 0-4 2-26 3-3-20-2 7-5-6-32 3-4 7 16 23 0-9 7 18 1-16 6 12 19 0 1 2 1-10 8 12 1-18 4 2 4-4 1 1 1-1 0 11 3 1 3-6 1 4 5 9 1-4 2 7 6-6 0-15 2 1 5 16 6-18 1 10 7-10 2 22 3-4 11-7 2-8 9 20 7-22 1 15 1 6 6-5 12-4 2-4 7 9 2-7 0 5 19 0 12-14 6 12-41 12-27 17-4-15-7 0-4 3-1 7-1-4-5-3-1 1-2 2-3 6-10-11-4 3 0 12-1-9-2-1-4-9-1 21-2-4-2-11-1 10-1-9-1 9-1 6-3-5-1-12-2 8-2-8-1 14-4-16-9 14-2-4-1 4-2-1-1-13-1 16-2-12 0-3-1 6-3-2-4 14-1-7-7-8-10 15 0-22-14 14-10-12-19 12-10-14-7 4-39 39 1-17 37 16 1-11 5 18 14-5 0-14 7 14 3 3 2-1 3-2 3-4 3-13 5 15 1-4 2-10 15 5 0-3 1-1 4 20 1-12 3 7 1 3 0-14 4 5 0 5 10 0 1 4 1 2 1-11 0 7 0-17 3 7 2 11 0-9 0 12 2-13 1-9 0 0 1 10 1-1 1 12 1-15 4-4 0 2 2-5 2 1 1 1 2 7 2 13 5 0 1-12 1-2 10 14 1-13 6-1 1 7 4-13 2 1 4 16 1-11 2-4 2 14 1-1 8-1 3-1 0 3 1-5 4 9 0-20 6 17 17 1 3 2 0-22 26 18-6 7-16 1-13 16-15-10-2 16-13-23 0 7-6-1-4-1-3 15-11-3-4-3-8-4-1 3 0-11-1 21-6-16 0 10-1-12-2 10 0-12-1 7-1 12-1-8-1 9-1-23-4 20-1-13-3 5-3-3-3-10-1 1 0 0-2 11-1 2 0 0-2-4-5-4-2 16-1-10-3 2-1 8 0 2-1-19 0 11-1-16-1 16-2-11 0-2-4 5-10 6 0-3-3 9-9-13-3-4-2 4-4 1 0 0-2 13-3 3-2-20 0 9-4-11-4-2-9 5-16 17-2-22-25 16-23 22 27-11 0 14 6-6 15-9 1 22 12-21 0-1 0 3 1 13 2-3 2-4 6 3 0-2 9 4 2-2 2-4 1 7 1-16 7 4 4 18 3 0 0-7 1 0 5-9 6-3 1 20 0 0 2-7 2-14 2 12 4 1 1-9 0-4 1 0 0 16 1-14 3 14 1 5 2-4 3-3 1 1 4 4 5-16 1 7 1-3 1 2 1 7 1 0 0-10 0 3 2 9 0-18 6 13 7-11 2 15 1 1 0-18 3 8 7 0 2 14 2-14 3 1 7 10 0-2 26 5 4-11 5-13 4 23 19-19 1 5-30 19-21 12-2 2-13-3-11-12-12-2-8 7-6 16-1-22-2 3-4 4-2-8-6 13-4 0-1-5-1-4-2 12-1 1-3-3-7-3-6 5-1-12-1 4-2 5-6-2 0 12 0-14-3-4-3 0-2 4-3 13-3 0-5-6-1 2-3-4-2 1-2 8-3-6-29 1 0-2-19-6-32 10 23 29 20-24 11 1 17 21 25-4 1 2 6-18 8 16 0-2 15 3 2-6 3 10 8-6 1-4 6 6 14-11 2 16 0-14 2 9 1-2 4-14 4 8 6 0 4-11 5 14 8 5 2-7 15 3 8 0 5-14 30 25-61 6-21-1-12 14-13-3-15-1-3-6-2-9-28 16-1-17-3 23 0-6-6-13-5 5-1-7-2 5-17 17-48-16 13 22 10 17 30-7 3-3 6-1 69-2-47 39 35 11-27-15 60-14-8-22-49-5-22 21-38-6-41-2 44-25 24-11 1-4 1 2 13 4 10 4 3-2 5-8 5 16 2-4 1-3 16-8 9 18 1-17 4 12 10-6 9-9 29 10 1 9 30-33-19 1-28-9-14 13-7 8-3-3-3-5-5 7-1 0-3-12 0-8-3 7-7-5-2 1-2-5-7 18-1-9-1 8-2-3-8 3-2-10-21 3-2-1-1-2-2 4-1 1-4-5-15 4-6-2-8-8-27 13-3-30 5 8 8-17 25 2 0 1 0 20 11-20 6 16 3-3 3 3 1 0 11-9 4-10 6 21 7-17 1 4 5 10 0-14 5 15 4-10 2 12 3-18 2 4 2 14 5-20 4 22 0-15 3-5 1 6 2 8 2-17 1 7 2-2 8 3 2-8 4 8 2-3 1 16 0-15 1 3 3 5 2-10 0-2 6 7 7 2 5-4 2-2 1 8 25-3 11-5-20-18-5 7-13-11-1 6-2-2 0-13 0 1-1 8-1-3-4 5-1 5-3-13-7 3-3 0-3 2-9 8-1-11-1 15-1-13 0 11-1-15-2 15-4-16-5 11-4 8-1-14-1-5-1 16-2-18 0 16-2 3-1 1-2-11-1 2 0-10-1 8-3-9-1 11-1-7-1 20 0-24-1 10 0-2-2 16-1-23-1 21-1-6-4 0-2 6 0-12-1-4 0 4-1-4-4 13-8 1-3-3 0 6-1-17-1-3-6 16 0 3-5-4 0-3-2 4-5 5-11-13-9 0-5-3-20 2 5-16 35 4 4-11 3-4 8 7 0-10 5-1 1 19 2-12 1 10 6-13 1-4 2 17 3-2 3-11 0-7 5 23 3-15 3 11 1 4 4-17 2 15 0-22 1 0 0 3 2 3 1-5 0-1 3 4 3 1 0 14 0-9 3 12 1-15 2 8 2-1 3 2 9-12 1 4 0-7 0 18 2-19 3 7 4 10 1-15 1 20 2 1 1-22 2 6 3 8 1-12 1-3 0 22 0-20 0 5 0 15 1-15 1 0 2 11 1 2 6 4 3-7 4-2 8-9 5-6 0 16 2 2 9-1 10 5 2-6 0-15 2 9 8-6 32 15 21-33-12-4-40-1-1 10-6-6-15-6-1 5-2-2-4 13-3-14-3-6-4 8-1 2-2-4-3 7-5-9-4 14 0 4-1-15-2 14-2-1-1-15-1-4 0 12-1-6-1 1 0-8-1 21 0-20-1 7-2 13-2-21-5 17-5-3 0-2-1 12-1-1-1-8-1 7-1-13 0 12-1-13-3-4-1-1 0 4-2 12-4-3-3-4-2 7-3-6-4-13-3 1-3 16-1 4-5 1-2-8-2-7-2-7-3 2-2 14-5 5-1-2-4 0-9-1-1-10-7 9-2-7-28 10-9-8 15-28 30-4 3-5 3 24 3-4 1 3 6-3 4 4 3-7 9 3 0-5 4-11 6 0 0 20 1-22 1 18 10-10 1 0 2-3 3 5 4-5 0 8 8 5 1-15 0 11 0-13 1 5 1-5 2 15 5-4 0 1 2-3 0 12 1-9 4 1 2 6 1 1 0-1 2-8 1 1 0 1 1 2 4-4 4-9 3 2 2-2 9 5 6 1 2-11 4 18 1 6 8-23 2 14 20-1 19-32-19 14-4-10-10 1-5 4-5-14-15 19 0-11-7-6 0 18-8-8 0 7-3-18-1 13-1 8-3-19-1 15-3-1 0-1-1-17-4 12-1 10-3-18-7 18-5 0-1-16-1 7-3 5-1-17 0 8-2-9-2 11 0 8-2-11-2-5-1 3-2 10-2-7-3 4 0 1-4 7-7-13-2 8-10-9-3 2-12-5-17-2-1 0-18-6 30-22 14 15 9 1 3-4 1 9 28-5 0 1 12 5 1 2 8-12 4 6 15-17 14-1 4 12 3-8 29 0 35 7 14-7 60 7-69-16-21 0-13 0-4-9-13 1-6-4-14 10-4 3-8-19-8 4-5 16 0-16-9 5-15 1-13-2 9-20 21-3 7-8 2 6 3 3 2-1 61 8 22-16 41 20-79-36-35 5" marker-start="url(#b)" marker-mid="url(#b)" marker-end="url(#b)"/>
<path d="M621 2023l63-11 5 37-23-7-118 12 80 12 12 2 2-10 3-7 10 2 0 4 2 13 0 4 2-15 3 11 10-5-16 22-1 10-7-2-19-10-4 7-4-7-3 6 0-14-6 9-7 12-3-17-9 17-4-22-5 2-13 21-3-6-2 3-11 3-47 18 4-8 18-4 4 18 15-16 1 15 10-8 1-9 1 17 6-2 1 2 0 2 2-13 2 0 1 10 5-8 3-10 4 13 2-3 9-3 1 9 0 3 3-7 2-13 0 17 3-18 0 22 5-15 10-6 7 17 10 15-17 2-7 2-2 10-2 1-4-24 0 2-2 22-3-19 0 1-1-4-2 1-9 5-2 8-1-5 0-4-4 13-1-19 0 11-1-3 0 7-1 4-1-6 0-9-3 3-1 15-1-12-3-3-1 6-1-3-3 3 0 2-1 6-1-14-4-2-1 8 0-1 0-6-1 10-1 6-5-18-2 15-1-20-2 22-2-13-2-9-3 22-2 2-6-13-1-11-2 22-1-4-4-9-8 1-5 3-20 26 6-7 2 7 5-10 1 14 1 1 3 5 3-7 7-11 3 4 3 2 5 8 1 1 0-21 0 14 3 6 3-10 1 0 0 2 1 8 2-8 2-1 1 6 0-16 0 23 0-21 3 3 1-4 2 11 1-6 1 4 0-2 0 0 2 6 2 8 1-6 1-14 4 4 0 9 0 6 1-18 1 0 0 14 1-18 1 3 7 3 0 5 0 1 2-4 1-1 0 13 0-10 1 6 2-16 2 5 0 4 1 4 1 9 1-17 1 19 9-7 2-17 2 13 13 9 8 0 8-11 16-10-29 46-10-6-7-14-4 4-9-4 0 10-4-7-4 3-2 6-1-7-1 14-5-15-1 10 0-7-2 10-1-5 0-3-8-4-2 6-2 4 0-6-1 10-1-15-2 13-1-15-1 5-1 12 0-6 0 1-1-16-1 13 0-2-1 13 0-16-1-3 0 16-1-19 0 8-1-8-3 11-1 10 0-20 0-2 0 6 0-7-2 10-1 9-2-6 0-11 0 3 0 3-2-4 0 11 0-10-2-2-1 20-1-5-3-4 0 5-2-17-4 17-1-6 0 2-3-5-1 11-1-12 0-8 0 18-1 4 0-12-4 11-4-7-3-3-1 5-2 5-11-10 0 1-12 11-27-5 4 22 3-2 11 5 2-8 2 10 2-7 2 4 1 6 4-11 1-12 2 5 3 11 0-10 2-4 5 18 1 2 0-16 1 12 0-3 2-8 3 5 1 3 0-8 2-8 0 4 1 17 1-13 1 11 1 5 0-2 1-3 0-14 5-5 2 9 0-7 2 12 0-1 2-4 1-8 2 14 0 8 1-3 2-14 0-3 2 14 0-11 1 13 0-10 1-1 0-1 1 10 2-10 0-4 2-2 0 5 0 12 0 4 2-6 0-8 1 0 1-2 0-6 0 5 1 0 0 14 2 0 1 1 2-8 0-2 7-8 6 8 1-7 3 0 1 14 7-14 1-3 3 8 2 12 0-13-11 35-2 6-9-12-11 2 0-1-2 0-5-3-2 10-3-5-1 5-3-16-1-3-2 8 0 16-2 0-1-8 0 7-1-19-2 20 0-17-1 8-1-4-6 2-5-11-3 20 0 2-2-21-1 1-1 8 0 11 0-10-2 6-1-19-2 24-5-17-1-6-2-1-2 19-3-17-1 10 0-7-2 3 0 14-1-4-2-1-1-8-1 5-3-2-1 5-4-3-3-2-2 2-2 8-2-20-3 4-11 16-2-21-29 16 5 9 11 11 7-2 18-9 6 7 3 2 6 0 1-8 4 21 1-19 2-2 6 14 2 6 2-19 1 11 5-6 13-7 1 10 1-6 4 4 2-3 3-6 3 5 2 1 5-2 11 18 5-8 1 0 6-7 1 0 3-4-30 24-7 10-9-10-2-2-10 10-4-10-18 5-3 0 0 10-2-6-3 9-1-5-1-6 0-5-1 2-2 1-6 15-6-8-30 1-25 14 10 19 8-2 1-10 3-6 8 9 6 11 2-16 0 11 21 3 25-7-13 19-64 8-1-10 18 25 42 4-57-29 6-1 8-4 7 10 38-8 37-9-14-19-29 7-1 1-6 4-4 4-1-11-3 6-3 1-13-1-3-4-1-5-6-5 8-19 3 4 5-7 10 23 2-18 2 5 7-10 5 11 0-9 7 14 9-2 1-8 2 17 1-21 9-2 16 0 2 8 1 5 1-1 23 6 10-32-3 4-10 1-4-14-9 17-4-10 0 0-7 1-2 6-1 1 0-9-5-6 0 7-3-2-2 1-3 13-3-12-2 12 0 0-1-12-1 12-1-7-1-6-2 10-1 2-1 1-6-12-2 4-4 6 0-8-4-4 0 6-1-9-5 19-2-4 0-14-3 15-1-2-1 1-12-18-3 19-1-21 11-4 6 4 1-7 0 3 6-14 10 15 1-20 2 1 0 5 1 10 1-5 5-1 1 7 3-10 5 12 0-9 0 2 1 9 0-2 1-18 0 6 2 2 2 14 1-21 1 16 1-3 1-3 0 11 1-20 1 10 5-1 0 1 0-6 1-4 0 13 3 1 0-6 2 9 4-1 1-10 2-4 1 0 3 17 0-18 5 8 0 3 1-3 2-8 1 11 4-3 4-10 3 4 0-2 1 3 1 4 0-10 20 10 1-8 3-2 2 0 2 8 11 5 6-10 18-30-27 24-1-18-1 17-5-6 0-17-1 4-2 10-2-10 0 5-5 2 0 12-1-4-3-12-1-5-1 12 0-9-1-4 0 12-2-7-2 8-2-3-1 10-1-6 0-11-1 13-1 0-1 2-3-9-1-5-1 4-2-8-1 5 0-2 0 0-3 8 0 5-1-1-1-3-1-7 0 4-1-4 0 5 0-3 0 16-1-12 0-3-3 3-1-3-1 7-2-14-3 22-1-18-2 16-1-11-3 10-1-21-1 15-1-3-1 5 0-15-3 15 0-13-4 4 0 7-2-8-5-6-1 2-14 14-7-12 0 17-2-5-3 1-2 1-2-19 14-13 13 7 13 0 9-14 3 1 0 2 0-2 1 16 1-19 2 16 1 5 0-12 1-12 0 18 4-11 0 8 1-3 0 2 2 8 0-22 0 6 1-4 3 14 0-11 1 18 2 1 3-21 1 2 3 3 1 8 1-15 0 9 2 3 0 11 1-22 2 10 1-5 1 14 0 0 0-13 1 0 0-1 1 15 0-2 4 4 1-21 1 3 0 6 0-11 4 5 2 3 0 13 4-12 1 9 1-9 4 8 0-8 4-3 1 12 1-19 2 3 1 6 1 3 0 0 2-5 1-5 0 22 0-13 1-9 1 21 0 0 3 0 9-2 11-14 5 7 6-8 30-20-18 1-6 12-2-9-6-12-3 16 0-19 0 7-1 0-5-4-2 20-4-20-1 8-3 2-2 11 0-1-2-17 0 4-4 2-4-2 0 6-1-13 0 2-1 0 0 5 0-8-1 12-5 5-2 0-4-18 0 5-1 0 0 5-3 2 0 7-1-10 0 0-1 13-2 0-1-22 0 6-5 17-2-22-2 15-1-3-1 1-8 3-8-2 0-3 0 7 0-10-1 8 0 2-3-1-3-4-1-5-1 9 0-13-3 15-2-7-5 5-1 1-2-20-2 19-3-17-21 20-4-10-4 0 11-30 36 3 0 8 15-5 2 5 0 1 2 0 3-19 3 19 1-6 4-12 0 11 3-1 1-7 1 16 1-11 2-7 1 21 2-16 1 17 0-2 1 0 2-22 0 18 1-6 2-4 3-8 2 0 1 19 0-1 0-15 7 7 2-9 0 17 2-16 4 10 3 4 4 8 1-7 1-5 2 5 1 1 1 0 6 1 1 3 11-8 10-3 2 7 42 2-21-31-17-11-12 5-4-8-4 7-4 2-2 9-3-3-3-6 0 12-4-21-1 23-3-13-1-9-1 23-7-12-2 5-2 7-6-2-5-14-1 14-1 2-1-2-1-12-11 1-4 2-11 10 35-28 12-19 2 23 15-15 2 8 3 7 5-2 2 2 3-2 12-22 3 24 2-18 2 13 1 2 2-14 3 10 5-20-18-2-5-4 0 0-5 5-10-8 6-30 3 2 9 9 25 5 23-21 7-10-10-12 27-13-30 45-22-10-39 42 12 3 5-9 6 10 13-8 11-11 14 8 13 0-11 34-17-18-19 2-5 1-2 4-6 13-2-1-18-15-5 10-41 3-9-14-42 23 33 9 3 0 13 8 13 1 6-7 1-4 10-5 2 9 1 4 0 3 3-21 0 21 5-14 1-1 2 16 6-6 3-9 1 14 4-2 3-14 6 11 2-4 13-7 1-7 0 9 14-7 16 1-30 33-4 0 0 13-16-22-1 4-3 13 0-8-6-9-1 6 0 12-1-12-1 0-7 14-1 0-2-8-2-2-2-2-1 14-3-5-3-4-3-8-2-6-1 20-1-8-1 0 0 4 0-15-4 8-1 10 0-9-1 12-1-6-3-15-1 15-2-4 0-4-2 9-1-4-4-8-3 11-3 2-2-1-4-13-6-3 0 19-1-11-4 9-1 2-3-18-9 21-3-14-6 9-3 0-27 27 15 3 6-9 4 8 1 0 2-7 1-2 4 3 1-14 4 12 2 6 2-13 1 1 2-4 1 14 1 4 1-7 1 8 1-23 0 2 0 13 2 0 0 7 2-22 0 3 1-1 1 18 1-12 2 11 2-16 0 10 1 9 1-1 4-1 0 0 2-9 1-11 0 6 1 2 3-5 0 9 2-4 0 6 1-6 2 14 3-9 1 7 0-1 0-15 1 16 0-3 0-7 0-8 4-2 0 23 0-18 1 9 1-7 4-5 1 9 3-12 0 16 2-13 2 16 1-11 2 7 2 4 4 4 8-11 1 6 2 6 4-21 12-3 5 8-25 21-15 4 0-6-1 15-2-8 0 11-5-15-1-3-2 2-1 18-2-8-3 3-3-8-1-5 0 3-1 11 0-4-2 7-3-20-1 11-1-1-1 0-3-3-1 13-1-16-1 10 0 4 0-6-3-2-1 7-2-12 0-4-1 4 0 7-1-7 0 17 0-4 0-14-1 14-2 2-3-13-1 10 0 5 0-20 0-3 0 7-1 4-1-8 0 15-2 6-2-8 0 4-1-16 0 15-1-19 0 5-1 16 0-1-2 0-1-19-1 7 0 1-1 15-1-17 0 16 0-11 0 7-1-11 0 15-3-1-3-7-2-1-2 10 0-4-1-16 0 3-1 9-1 3-1-10-1 15-1-20-2 16 0 1-2-8-1 10-11-13-1 5-1-1-3 5-10-14-7-3-9 47 6-1 3-6 9-3 1-2 1-6 1 7 1-3 3-7 2 21 0-19 5 7 1-3 1-2 1 14 1-14 1-5 2 13 1-12 1 1 3 3 1-1 0 16 1-12 0 11 1-12 0 5 0-11 1 10 1 9 2 1 2-7 1-3 0-13 1 21 0-2 1-7 0-5 0 16 1-11 1 9 1-21 0 8 0-3 0 17 1 1 1-22 2 13 3-12 1 8 1-1 2 4 4 8 3-9 0-11 0 11 2 7 2-15 2 10 0-1 0-13 2 13 2-1 2 5 9 0 5 1 2-12 1 1 7 3 5-9 0 26-27 6-8-6-11 18-3-16-3 17-1-8-6-10 0 9-2 5 0-5-1-3-1 12 0-9-3-11-1 21-1-3-1-16-1-2 0 19-1-20-4 1-2 4-1 18-1-10 0 0-3 1-1 4 0 2-2-20 0 9-1 2-1-6 0 6-1 3-1 5-1-14 0-2 0 18-1-10 0 8-3-19-4 9-1 2-2 7-3 5-2 0-5-4 0-10-3 12-2-8 0-13-2 7-1 11-9 6-4-1-3-21-31 42 8-11 1 6 4-6 3 14 9 1 0-1 7-11 10 1 1-3 7-7 0 12 5 6 1 1 4-5 2-16 3 5 1 4 3 13 1-17 1 0 1 9 0 1 5-10 2 19 0-5 0-2 5 7 1-12 0 5 12-8 3-5 1-4 10 3 2 2 6-2 5-2-46 35-7-3-3 14-1-20-5 13-7-12-1 17-7-18-1 21-4-6-7 6-3-11 0 6-1-6-1 7-2-19-4 15-3-10-6 7-5-9-7 10 0 7-21-5 3 26 40-1 4-1 6 0 21-1 4-1-32 20-6-7-20 20-12-11 1 17-43 60 9 9 33-67-41 6 54-20 8-2 7-3 39-3 28-30-16 6-13 5-3 7-5 3-5-15-2 9-14-12-27 14-16-4-16-12-39-2 72-18 10-7 3 14 6-1 4 1 4 7 1-1 16-7 1 0 7 6 2-10 16-5 6 6 0-2 5 14 4-15 0-5 36 5 19-20-26-8-1 12-2-11-2-4-2 9-7-8 0 0-1 6-2-2-1-2-5 10-4-13-8 6-2 5-2 6-1-6 0-10-2 19-3-7-4 8 0-7-1-4 0 8 0-4 0-5-2-8-8 1-6 3-1 8-1-10-3 5-3 4-1-8 0 15-14-11-1 12-10-6-4-6-1-2-13-6-6 23 22-36 7 5 3-9 4 12 0-3 12-12 2 6 7-6 1 16 5-6 6-12 1 5 3 0 1 5 12-9 0 15 1-1 0-11 1-3 0 1 1-3 3 7 0 6 0 8 1-7 3-13 0 7 0 8 1-4 0-2 2-11 2 20 1-4 0-4 2 2 3-12 7 8 2 4 0-8 0 2 1 7 1 5 0-22 2 21 0-16 2-5 12 4 2 19 0-17 0-3 7 2 2 0 10-5 2 16 3-15 5 11 4 8 21-37-2 13-4-14-17-7 0 15-4-1-6 7-3-4-1 3-1-3 0-9-2-7 0 5-5 12-2-6 0-6-1 7-6-12 0 1-3-1 0 6-2-6-1 1 0-1 0 8-1 13 0-22-1 15-1-10-1 3 0 11-1-15-1 6 0 9 0-4-1-15-1 11-1-2-1-7-1 4 0 2-1 9 0-4-2 5-4-9-6 8-7 2-2 2-2-7-1 8 0-13 0 12-5-2-2-4 0 2-2 2 0-5 0 8-2-12-1 6 0 0-4 2-1-11-6 10 0-16-1 12-1 1-6 5-2-5-3-5-1 10-22 4 33-32 15-12 2 14 12-18 8 23 2-2 1-11 0-3 1 15 2-10 0 6 1-13 0-1 0 14 4 6 3-16 1-4 0-2 2 18 0-20 3 13 1-9 1 17 3-13 0 4 0-11 3 6 0-1 0 8 1-10 0 5 2 4 2 0 2-11 0 3 0 8 0 7 2-1 1-5 2-12 3 17 0-8 1-5 3 17 0-3 0 1 0-11 1 4 1-12 0 0 4 4 0 9 0-7 1-6 3 13 1-14 1 4 1 9 3-4 4-2 3-8 6 22 1-9 21-5 2 4 2-5 4 8 3-3 11-1-3-34-5-1-9 18-8 0 0-17-8 16-1 5-2-17-2 9-2-7 0-3-4 19 0-9 0-10-1 19-1-24 0 24-5-15-2 11 0-4 0-16-1 24-1-17-1-4-1 0 0 11-1-12-1 16 0-18-1 7-2 5-1 3-1-6-1 10 0-16-1 7 0 7-1-9 0 1 0 7-1 2-2-15 0 1 0 2 0 13-2-1-2 1-2 0-3 2-1 0 0 3-1-23-2 2-5 15-3 0 0-3-2 7 0 0 0-18 0 5-4 3 0 11-3-14-2 3-4-1 0 5-1 6-1-7-10 6-1-9-2-6-1 5-3 13-4-12 21-13 5-1 10-19 7 12 3 8 3-12 3-4 2 9 1 1 2-3 0 9 7-3 2-10 1-1 0 10 4-4 1 5 3-12 1 3 2 8 1-17 2 9 0 10 0-21 1 20 1-21 0 7 1 9 2-6 1-9 1 23 4-12 2 2 1 4 0-6 2 12 3-20 0 7 1 2 1-1 3-9 1 18 0 3 4-6 1 5 3-20 1 19 0-16 1 3 3 3 1 1 6 11 0-13 1 0 2-9 2-2 1 19 0 2 7-6 36-18-12-10-12 5-9-10 0 3-3-10-1 6-7-5-1 23-10-21-3 8-13-1 0-2-1 8-4-5 0 0-2-4 0 3-1 3 0 8-3 0-1-21 0 22-1-5-5-5 0-10-2-2-2 9-4 9 0-8-4 9-1-5-2 0-2 7-3-8-1 3-2-6-1 8-14-7-23-4-5 17 64-42 6 16 10-10 20-4 8 6 13-9 11 5 3 11 2-10 4 11 9-28-4-6-15 1-2-2-37 7-8-33 119-49-60 30 36-14-122 61 24-9 25 8 14 5 14-1 8 6 3-3 3-6 1 13-17 1-1 0-6 13-4 2 0-6-2-7-11 7-2-6-1 11-5-9-13 4-9 4 0-7-2 14-3-1 0-10-4 5-6-14-1 19-1-14-39 39 5-11 2 7 11-2 3-3 2 4 2 3 4-19 5 20 1-10 3 8 1-7 2 8 1 1 3 2 3-16 1 12 3-4 0-9 1-1 3 10 0 3 4-12 0 14 0-12 7-8 1 19 1-12 3 1 8 10 1-13 1 3 1-4 1 7 4-2 2 2 19-8 5 17-23 8-2 10-3-6-2 3-2 4-3-6-2 1-1-1-2-8-1 2-1 6-1 6 0-11-2 6-5-5-1-1 0-3-6 7-1 15-1-13-2-7-3 18 0-11-1-3-1-3-1 11-3-11-1 15 0-2-8-3-2 8-2-3-2-10 0-1-2 8-1 0-3-15-3 12-1 7-1-3-1-2-6-2-1-7-3 16-4-20 0 15-5-4-12 6-28-12 4 22 0 12 6-5 1-1 3 12 2-1 1-5 1 3 1 3 0 2 2-10 2 4 2 6 3-15 6 1 1 1 0 0 1 11 2-11 2 11 0-10 6 6 1-6 0 7 0-11 2 3 2 0 2-7 2 19 0-14 1-5 1 17 1-20 0 4 1 1 2-2 0 4 0-1 2 15 0-11 3 0 4 10 1-7 3-3 2 13 0-21 0 13 1 0 2-13 0 0 0 4 3-4 3 21 1-23 1 4 1 1 0 4 3 13 0-1 3-9 3-9 4 5 7 8 1-1 0 5 2-5 45 14-47-1 0 5-1-5-3 1 0 8-2-5-6 3 0-2-2 9-2-2-2-10 0 8-2 3 0 1-4-9-1 4-7 7-1-16-1 3 0-1-2-4-1 13-2 1-4-7-2 8 0-5 0-8-3 12 0-10-2 8-1-11-3 13-2-16-3 22 0-8 0-10-2 10-1 6-2-11 0-9 0 9 0-2-2 11-1-17-1 4 0 14-1-12 0-4-1 14-1 4-1-19 0 15-2 5-2-18 0 3-1 13 0 2-2 1-1-3 0-10-1 13-1-15-1 12-2-6 0 9-3-15-2 2-6 5 0-2 0-2-1 13-1-19-3 7-8-11-4 19 0-17-5 12-9-9 0 10-1-11-5 14-19-2-4 19 1 4 2-1 5 8 1-2 0-16 12 19 2-7 3 6 2 0 3 2 1-14 2 6 4-4 1 8 0-14 4 13 2 0 0-19 3 2 3 15 4 4 1-16 0 7 2-11 1 4 2 19 0-18 2 6 0-11 3 15 1-16 0 21 1-7 0 9 0-11 0-8 1 5 4 1 0 8 1 0 0-15 1 6 2-5 1-3 0 4 3 13 0-6 1 0 1 1 1-10 1 17 1-17 1 8 0-6 3 13 3-18 2 1 1 7 1-6 1 15 1-10 0-2 3-5 1 7 15-5 2 15 11-5 13-7-29 27-16 3-2-9 0 2 0 13-6 2-6-5-2 10 0-19-1 2 0 17-3-10-1 0-7 11 0-5 0-11-4-8-1 7 0 2-2 9-1-13 0 9 0 6-3-1 0-15-2-2-3-1-2 9-6-7 0 4-1 6-3-13-1 10-1 13-1 1-2-10-1-2 0-9-4 11-1-13 0-1-1 16-1-13-1 2-2-1 0 15-1-17-1 18-5-10 0 12-3-15-6 11 0-11-3-7-1 16-5-1-6-7-1 11-2 2-5 1-5-18-8 10-17 22 9 11 17-2 4 2 8-16 3 3 6-8 4 3 4 0 2-1 2 10 3-9 1 18 2-15 7-5 1 1 2 3 0 2 3 16 5-12 4 7 2-11 0 14 7-7 0 0 0-12 22 17 6-6 4-7 4 13 6-17-41 39-1-5-3 12-8-10-12 1-6-15-6 8-2 7 0-12-1 14-3-5-1-5-1-2-3 9 0 7 0 1-8-4-4 1-6 0-4-19-1 15-4-12-9 11-17 1-20 10 14 5 17 1 6 1 13 9 4 1 8-16 5 11 10-12 31 14 5-10 8 22-89 6 49 18-84-24 32 9 15 2 52-12 20-20-12-5-43 19-4-19-13 10 0-9-1 20-38-12-2 1 6-27 12-5 8 0 4 0 11 19 6-11 6 9 0-7 1-4 2 3 1 6 22-17 10 19 6-13 7-1 1-3 3 10 43-37-2 19-4 2-31-6-3-12-5 1-4 6 0 5-1-11 0 19-5-18 0 11-4 1-2-17-1 4 0 0 0 0-1 14-4-8 0 10-1-14-1 15-2-18 0 8-3-9-4 15-1-4-3-4 0-4-2 16-1-15-1 6-4 5-1 6-12-10-1-5-4 0-5 4-2-2-5 0 15-14 4-14 2 0 6 0 1 6 1 0 6-10 4 6 4 1 5-5 2 2 2 7 2 1 2-3 2 8 2-7 5 0 0-12 1 4 1 16 0-8 2 6 4 1 1-16 0 5 2 9 2 2 1-16 8-3 2 9 1-1 4 6 1-15 0-1 1 11 2-11 3 19 1-13 1-1 0 5 0 11 0-15 4-5 1 4 4 3 0 5 5-6 3-6 3 10 3 2 2-3 8 5 1-8 7-3 9 7 31-26-12-2-13-4-9 19-9-17-2-3-1 12-2-9-2-5 0-1-3 12-2-10-2 10-2-10-1 17-2-18-2 16-1 2-2-4-1 7-2-11-3-10 0 13-2 9-1-4-1-8 0 5-1-12-1 16-1-1-1 4-2-4-3 4 0-19-1 4-1 13-1-20-1 9-2-1-1-5-1 2-1 1-2 12 0-15-1 12-2 5 0-13-1 2-1 0 0 11 0 3-1-23-2 20-5-13-1 6-2-8-1 13-2-9 0 6-2 0 0-3-1-2-7 11-5-9-8-4-3 12-4-16-1 17-5-7 13-19 4-1 6 3 1 0 1-21 6 15 5 5 15-12 0 12 2-12 2 13 1 1 1-9 3-15 2 9 2-6 4 4 0-2 1-4 1 6 0 6 0 3 1-14 1 13 2 8 0-4 1-3 1 0 1-11 2 18 3-21 2 21 1-2 2 1 1 2 1-21 0 9 1-8 2-2 2 2 3 18 2-20 0 18 2-15 3 1 0 11 0-1 1-4 0-9 2 3 2 4 1-9 0 19 3-18 1 19 2-15 0-4 7 14 6-6 0 9 3-15 1 4 2-5 3 6 4-2 41-30-3 18-8-16-4 10-3 7 0-11-6-2-2-7-2 9-1-6-1-4 0 4-2 16 0 2-2-2-1-20 0 11-3 10 0-13-1-7-1 17 0-6-2 11-2-21-1 1 0 1 0-3-2 13-1 8-2-10-1 7 0-19-1 10 0 1-1-2-1 7-1-14 0 12-3 2-1-15-1 4-1 14-3-12 0-1-1 6-2-4 0 15 0-4-3-15-4-3-2 2-1 2-1 13 0-3-1 5-3 0-1-1-1 5-1-15-1-4-2 8-1-10-1 7 0 8-2-3-1 4-2-10 0 10-1-2-1 4-1-20-2 21-1-1 0-4-1-15-1 8 0 5 0-13-1 21-1-15-1-2-1 6-4-1-4-6-1 16 0-9-2-2-5 12-1-16-1 10 0-3-5 8 0-17-3 13-3 7-18-8 34-18 1 1 7-20 9 18 1-17 4 8 2 6 0-13 1 10 5-6 3 6 1 1 3 4 1-5 11-10 0-1 3 8 1-5 0-6 0 16 1 5 1-10 1 10 1-2 0-1 0-10 1-4 1 14 0 0 2-3 1-17 3 20 1 0 0-13 2 17 0-3 2-5 0-1 2-6 2-2 3 4 3-7 0 18 2-12 0-4 8 5 0 2 2 1 8-7 29 15 45-26-40-14-13 10 0 3-6 2-8-2 0-20-5 8 0-4-10 8-1 10-6-8-4-5-3-9-4 21-1 0-2-11-1 2-2 0-2 2-1-2-4-10-2 2-5 14-33-5-3 10 11-35 10 8 17 0 25 2 2-17 4 8 5 8 2-4 8-5 1 9 5-1 1-8 0 9 4-8 6-8 3 14 2 4 2-2 0-14 7 8 0 0 6 2 13-5 5 9-5-47-10 14-3-4-19 4-1 8-3 2-15-13-28 4 18-29 52 1 6 12-12-34 67-5-51 38-17-14-8 10-20-4-10 8-39-18 63 42 17-3 9-16-13 35-7-11-5 15-1-11-2 6-7 1-4-10-9 13-2-14-3 22-14-6-4 4-4-14-2 10-14-17-51 42 25 3 2-13 2 0 2 16 4-4 7-7 2-7 3 12 0 5 3-1 1-10 21-3 6 0 0 13 5 1 0-2 3-21 0 13 2-6 5 11 2-4 0 8 6-16 0 10 3-5 3 2 8 9 2-3 6-15 1 19 25-19 13 23-2 19-23-14-4 6-10-6-11-3-4 3-6 11-1-9-9-9-4 0-7 10 0 13-3-3-2-20-1 0-2 17 0 6-8-7-2 7-1-12-3-9 0 3 0 3-2 10-3-15-2 7-3-3-1-6-1-1 0 15-2 0-6-3 0-7-1 18-4-1 0-9-5 8-1 0-2-6-2 0-2 4-2 0-1-4-4 1-1 4-14 2-19-4-1-2-6 30 15 1 6 1 1-2 3 1 9-6 2-3 1-4 0 11 1-12 1 6 1-10 0 0 0 15 3-8 1-2 1-8 0 3 1 13 1-1 1 5 1-6 0 6 2 0 1-6 1-14 1 15 1-6 1 4 0-11 0 6 3 4 1 7 0-16 5 15 1-9 0-8 0 20 1 0 1-7 0-5 0 14 1 0 0-17 1-4 2 11 1 10 1-14 1-6 0 4 2-3 2 0 0 13 0-17 1 14 0 0 1-10 0-3 1 1 5 14 1 4 2-16 0 6 1-2 1 8 2-6 4 3 8-12 12 12 6 1 6-10 2 0 7 24-4 8-9 2-8 1-1-5-1-4-1 15-1-21-4 2-4 11 0 5-10-8-8 7-1-9-2 8-2 3-1-7-1 6-2-6-2 6 0-3 0-12-1 1 0 17-1-9-1 8-2-1-3-3 0-5-1 12-1-7-1-10-3 9-1-6-3 11-1-11-1 4-1 11-1-15-1 13 0-3-2-15 0 1 0 9-2-4-1 5-1-9 0 1-4 13 0 0-1-17-2 0-8 15-1-10-1 1 0-6-1 20-2-2-1-1-1-2 0-5-5 3-3 7 0-4 0-9 0-3-2 16-5-1-1-3-1-1-2-2-6 0-2-4 0 1-2-11-4 10-15 2-1 2-2-11-33 27 1-4 6 20 10-8 2 3 15-9 1 0 1 9 2-7 1 2 0 7 0-11 2 12 1-6 2-11 1 19 4-15 3 9 2 4 0-8 4 6 0-3 1-16 2 10 1-3 1 0 0 8 0-2 3 7 3 2 2-21 2 10 1-4 1-3 3-1 0-2 0 18 0-15 1 3 1 6 1-1 1 6 0-16 1-2 1 2 2 20 0-16 1 15 1-21 1 0 4 6 2 11 3-2 0-13 1 16 1-7 3 1 1-4 1 16 0-23 1 7 2 7 0 4 0-3 3-16 1 1 1 14 3 9 0-19 3 7 1 11 2 0 0-14 5 5 1-6 1 1 1-9 3 0 3 17 4-16 17 14 2-14-12 32-8-4-4 1 0-3-9 5-4-1-9 6-6 10-7-13-1 3-3-6-2 3 0-9 0 2-1-2-2 14-3-5-1 3 0-7-4-4 0 16-1-7-2 7-2-14-1 2-1 10-2-12-2 8 0 4 0 1-1-10 0 4 0 11-2-16-3-2-3 20-4-8-1 6 0-13-2 10-2-2-2-4-1 3-1 0 0-10 0 11 0-7-2 0-1 0-1 4-2 4-2 1-3-16-2 17-3-3-1 2-2-16-1 22-15-19-2 15-6 3-6-9-3-11-15 19-9 17 22-4 7 5 13 6 7-17 4 2 6 4 0-10 1 11 3-2 1 5 2 6 1-20 0 15 3-14 0 13 1-14 1 19 0-19 3 5 1 7 4 7 1-16 1 6 1 1 1 11 9-15 4-3 1 9 1 1 10-10 1 1 3-2 2 4-10 23-6-1-5 2-11-3-1 6-1-2-3-6-6 16-7-9-30 15-10-6-12-7-1 2-3 5-7 0-6 1-19 24 37 6 7-20 15 15 7-12 4-3 1 6 11 3-30 21-13 11-9-14 0-4-11 9 9 16-3-21 9 2 11-5 8 2 31-14-7-8-5 4-25 14-1-3-1-16-14 16-1-20-16 19 10-29 5-9 9-3 1-3 2 13 2-9 21 11 1 4 0-1 8 0 17-5 4-14 18 0 4 12 11-35-7 7-2-5 0-4-9 1-2 5-6 17-4-3-3-3-3-7-2-9 0 22-1-5 0 5 0-19-4-4-5 10-3-8-4 9 0 4-2 9-6-23-3 19 0-14-1 0-3 3-1 6-17-3-18 11-8-18 38-6 7-12 0 1 11 3 4-6 7-10 1 16 2-15 2 21 0-15 5 7 3-14 4 15 3-13 1 5 1 2 0 14 1-5 1 4 2-4 2-4 1-9 0 6 1-7 1 9 0 0 2 9 3-7 1-2 1-5 2 8 0-11 5 6 1-8 7-2 2 20 3-12 2-3 2-2 0 16 5-20 3 4 7 15 4-19 1 2 5 11 15-12 52-21-27-1-12 3-5 5 0-12-1 2-5 0-7 3 0 9-4-2-3-6-2 0-1 5 0 6-1-1-1-9 0 4 0 3-3-9-1 3-1 0-2-2-1 8-1-10-1 5 0-3-1 0-3 3-1 13-1-12-1 2 0-6-4 12-1 3-1-1-2-18-1 3-3-4-1 20 0 2-2-18 0 5 0-2-1-5-1 18-2-21 0 20 0-20-1 6 0 4-2 0-1 1 0 0-2 11-2-10 0 4-1-14 0 12-2-4-1 9-3-6-1 5-1-13-8-1-1 15-4 4-2-13 0-4-1-4-7 2-1 12-10-4 0-10-6 19-2-19-6 10-2-4-1-8-7 15 51-34 8 5 1-7 3 7 2-7 1 0 3 14 1-5 1 6 0-6 1-1 1 1 1-3 1 8 1 6 0-12 0 10 3-4 3-1 2 1 3 0 0-4 2 7 0-3 1-2 2-5 1 8 1-16 1 0 0-3 0 5 1 12 0-6 3-8 2 7 0-5 0-3 1 2 1-2 0 14 0-11 1 18 0-12 1 12 0-1 0-3 1-18 1 7 1 4 1 2 1-8 0-4 2 20 1-11 0 9 1-5 0 7 0-8 2-12 1 12 3-10 0-1 2 4 1-2 2-3 1 5 2 4 2 1 0 11 0-23 3 3 1-1 1 5 7-2 1-5 1 18 2-16 2-2 13 2 1 11 0-13 14 16 3-5 12-24-5-9 0-1-4 16-2 0-6-12 0-6-1 4 0 18-2-20-4 22-3-14-2-2-2 12-3-8-1 11-2-4-3-4-1-6-1-7-1 2-1 18-3-14-1-3-1 11-4 5-4 0-3 2-1-11 0 5 0-15-1 1 0 11 0-5-1-1-3 4-1 6-3-2-1-13 0 7-2 13-1-3 0-15-1 9-1-2 0-2-2 0-4 9 0 0-1-7 0-10-1 7-2 14 0-3-1 4 0-10-3 10-1-6-2-3-2 4 0-5-2 6-1-5 0-3-4-5 0 1-4 16 0-12-1-5-4 17-2-21-2 2-2 10-3 8-4 0-4-7-7-16-3 4-2-3-1-1-11 14 26-26 8-4 10 13 6-18 4 2 4 11 5-11 3-2 8 13 4-12 1 14 1-5 0 4 1-2 1-15 1 7 4 7 7-5 6 5 1-1 2 10 2-21 2 1 0 4 1 3 3-8 1 14 0 4 2-10 2-3 0-2 0 14 1-4 1-2 2-11 1 5 3 13 2-14 1-1 0 15 2-14 3 6 2 4 4 1 3-9 4 10 4 2 20-37-14-5-8 6-1-3-2 14 0-7-4-7-1 16-1-10-5-1-3-8-1-3-3 16-2-16-4 20-1-21-2 5-3 4 0 10 0-11-1 13-2-14-2 10-2-14 0 8-1-3-1 12-4-8-5-11-5 19-1 3-9-2 0-1-13 0-4-1-7-4 3-25 0 8 20-20 19 16 5-8 8 11 11 1 0 0 2-21 4 2 1 9 3-4 0 2 1 8 2-4 3 5 4 2 0-7 0 6 7-7 2-1 3 10 1-22 18 3 8 12 22-12 32 17-8-36-46-4-15 1-5 9-3 8-1-37 9 11 19-13 7-3" marker-start="url(#b)" marker-mid="url(#b)" marker-end="url(#b)"/>
<path d="M975 2035l-20 5-124 29 110 0 14 4 24-17 12 4 6 8 12 6 30 19-5-10-10 13-18 3-6-9-26-11-2-3-14 20-6-15-7 6-4 8-10-18-17 17-7-5-22-5-2-9-42 16 52 30 8-19 1 1 2 5 8-3 4 12 3-8 9 14 8-9 5-14 2 17 1 3 4-17 4 14 3-5 2-5 2 13 10-16 0 13 4 4 1-9 7-12 2 18 3 3 9-20 1 16 1 4 1-12 3 3 6 10 2-13 2 2 12 12 5-6 1-8 9 9 83 3 14-5-57 31 0-3-6 0-2-2-17-13-11 5-5 10-1-4-11-4-4-10-5 1-8 8-4-5-8 13-1 2-2-5-3 3-1-16-4 22-19-5-2-17-1 19-1-3 0-1-3-12-1 12-2-11-1-6-2 1 0 21-1-18-8 1-7 5-2-7-1-3-2 11-3 10-2 2-3-17 0 13 0-5-3-6-2 13 0-4-1-17-3 1-3 11-34-2-3 9-2-16-9 17-6-18-13 38 8-12 9 2 13 15 7-1 20-3 12 0 1 5 3-14 9 14 1-20 2 18 2-14 9-5 1 12 3 9 3-12 0 10 1 1 3-10 2-7 0 8 5-11 0 16 2-6 0-5 2 14 2-5 0-5 5-2 2 12 0-17 0 17 0-15 0 19 5-14 0 5 12-6 3-7 0 21 2-5 4 2 2-3 0 1 1-2 1 6 1 2 1-12 5-10 0 19 0-3 1-15 3 8 0-9 4 18 5 4 3 1 5-10 4-4 1-1 3 9 1 6 4-4 1-14 5 17 2-15 1 7 1-9 2-3 11 0 1 1 14 20 4-1 49 14-19-12-34 6-6 14-2-18-2 4-2 8-6 5-21-12-7 2 0 1-3 8-3-3-1-2-2 2-3-5-4 0 0 0-1-2-2 9-4-6-3 5-5 8 0-16-1 7-2 7-4-6-1-10 0 10-4-6-1-2-4 0-1 1 0-2-3 0-1 9-1-3-2-8 0 8 0-8-1 12-1-3-4-5-1-1-2 13-1-20-1 15 0-15 0 22-1 0 0 0-5-2-2-9-5 4-2 8-3-1-1-22-1 18-1-13-1 3-1 15 0-10-1-11-1 10-3-8-1 10 0-11-5 1-4 17-3-2-1-10 0-6-2 10-2 1-14-4-3-3-1-2-10 2 0-1-3 5-16 2-7 5-2 0-5 21 2-15 9 15 32-5 1 12 5-9 0-11 1 1 0 8 1-7 6 9 2-12 0 7 1 0 1 9 1-4 2-4 2-3 1 9 0 0 1-13 1 2 1 2 1 2 2-3 2 8 6-8 4-3 2 14 1-14 6 4 1 17 2-8 1 7 0-12 2 12 4-15 2 3 2-4 3 11 4-1 0-2 1-5 0 1 0 10 0-12 3-5 2 0 5 7 4-8 1 5 0-2 0 14 0-13 5 10 0-4 2-12 1 10 4 6 1-12 2 17 3-14 8 2 8 7 0-4 0-7 1 4 1-1 3 14 1-4 1-16 2 22 1-17 1 4 1 1 8-12 2 11 7-7 2 7 13 8 9 0 47-3-4 25-60-14-9 14-9-11-7 18-4-5-5-8-6 2-5-9-7 14-2-5-3 9-1-4-3-13 0 13 0-3 0-11-1 8-1 4-5-5-7-9 0-1-1 22-4-17-4 1-5 14-2 1-1-1-1-2-2-6 0-3-4-9-1 5-1 1-6 4 0 10-1-16-1 6-2-3-1 14-1-14-1-3-5 16-4-20-1 9-1 1-5 0-1 9-7-9-2 0-5 10-3-8-1 8-20-6-3 9-13-5 0-10-1 14-14-19-7-1 8 45 19-18 45 12 10-4 1-1 12 6 2-12 11-4 1 5 6 3 6 11 3-6 5-13 4 23 1-10 0-1 3-1 7 1 13 8 3-15 4 5 3-5 7-2 9 6 9 10 38-4 1 15-8 18-39-22-11 7-3-6-4 17-19-8-3 0-15-12-38 19-4-19-11 3-5-2-5 12-26 7 17 26 8-9 41 7 18-14 28 2 1-5 9 2 11 3 1 16 32-22-125 30 8 25 4-5-50 60 15-80 45 0 9 3 14-1 32 4 67-1 31-16-59-10-15-7-10 15-3-8-3 4-21-9-8 9-8-7-3 6-5 11-4-6-4-6-70-10-30-25 41 16 8-6 26-1 6-2 7-3 4-1 10 18 6-9 2 6 3-13 11-2 14-5 0 6 7 7 23-11 6 15 24-14 33 19 28-19-36-23-29 13-2-14-6 0-1 3-6 10-13 5 0-13 0 15-1-19-12 12 0 2-18-17-2 2-2 1-1 2-1-1 0 0-2 3-1 0-4 12 0-7-1-1-3 2-1-7-3 11 0-14-2 10-17-15-2 9 0 11-4-1 0-19-8 11-1 10 0-14-6-1-7-4-1 16-1-18-9 11-7-6 0 3 0 12-12-1-7-9-2-7-58 11-1-9 35-23 1-6 27 13 2 6 1-6 0-14 6 11 3 6 3-9 3 3 2-10 5 21 17-22 2 18 2-6 6 8 0-11 4-6 0 10 11-10 1-2 5-1 1 24 3-14 0 12 0-9 0-11 6 19 1-16 0 7 2 11 1-1 0-13 3 7 1-6 12-4 0-6 3 16 4-7 1 5 6-12 7 19 0-8 7 2 3-9 8-6 4 14 35-1 33-30-10 0-1 0-12 5-2 1-3 1-26-4-3-5-14 11-2-17-3 21-14-13-2 6-1 1 0-14-1 7-1 4-1-8-4 7-4-6 0 15-1-14-3 13 0-10-2-9 0 8-2-5 0 19-4 0-2-1-2-4-1-13-1 15-3-15-2-1-3 7-2 3-1-10 0 18 0-5-2-9-3 15-7-20-1 21-1-23-3 12-2 7-5-19-1 8-1 4 0 10-5-12-2-7-5-2-1 1-5 13-3-11-2 15-2 0-4 0 0 5-6-16-2-3 0 14-1 4 0-9-2 0-2-7 0-1-2-2-9 3-3-7-12 1-22 15-1-8-22-7-16-3 34-7 5-13 8 3 3 4 11-9 1 17 4-5 3-6 1 5 12-10 1 22 0-19 1-2 4 17 12-8 8-4 1-7 2 9 1 9 1-13 4 2 0 0 1-1 4 4 1 0 5 0 0 9 2-4 1-3 0 1 3-10 2 16 2-18 5 21 0-20 1 20 0-6 5 4 4-19 1 10 3-9 1 4 0 17 4-2 2-13 6 6 2-14 9 19 2 0 2-3 0-3 3-7 2-3 5 8 0 6 0-5 6-2 0 12 2-12 1 4 0-14 6 21 0-7 4 8 0-8 6-11 7 20 3-5 4-13 5 15 30-9 1-1 8 0-18-20-6 7-17-16-3 8-1-4-3-10-1 1-2-2-1 16-8-8-6 5-5 0 0-11-8 10 0 0-4-8-4 17 0-1-7-15-2 19-1-7-2 1 0-4-2 6-2-14-3-3 0 12 0-11-1-1-7 18 0-16-1 12-1-10-1 1-13-3-3-2-4 0 0 21-7-16 0 7-3-8 0-4-3 15-3-9-1-7-7 13-3 3-3-15-1 9-2 6-2-6 0 4 0 0-1-10-2-5-2 7 0 7-3 7-2 1 0-20-2 19-5-19-1 5-1-2-2 12-4-14-7 6-11 9-18-19-4 19-18-5-32-2 61-26 14-9 12-1 4 21 7-14 0 2 1 2 10-9 4 14 4 6 1-21 0 12 1 9 5-10 2-2 2-3 2 11 1-2 0-6 1-2 3 3 0 12 1-2 0-5 2-7 2 1 1 4 0-6 0 12 1-12 0-8 1 18 1-2 0-11 2 16 1-8 2 10 1-12 2 9 1 0 1-21 1 1 3 13 0-6 1 16 3-10 3 1 1-13 0 16 3 5 1-14 4 9 5 6 3-23 4 8 6-1 1 9 8 7 4-10 0-6 2 9 29-5 37-6-24-7-24-12-7 10-2-19-8 19-8 1-14 1-2-14 0 10-13-19-8 4-9 16-12-2-5-2-2-3-1 8-17 0-21 0-1-12-2-9-21 15-3-10-21 8 18-32 36 14 9 1 3 0 9-18 15 0 2 9 6-7 11 18 1-20 18-1 19 21 6-19 49 17 16-6-71-34-30-4-11 13-56 0-1-6-22-24 40 8 92-7 33 11-107-38 85 34-128 20 9 6 6 4 21-4 14 4 20-4 29 1 6-12 2 15 17 25-5-4-3-10-6-1-2 9-8 4-15-19-14 14-13 5-7-9-4-7-2 3-5-3 0 12-10-5 0 6-3-16-9 16-18-7-39 8 21 12 1 14 27-1 6 3 4-12 2-5 15 9 14-8 1 4 2-7 4 19 4-11 2 0 0 2 7 9 2-17 1 2 1 11 12-5 2-3 6 5 3 8 14-18 6 5 2-2 6 11 12 1 8-3 3 5 23 17-11-8-4 16-1-10-1-1-3-10-4 16-9-12-2 18-11-15-4 6-13-4-1 3-2-5-4 0-3 12-1-3-11-10 0 16-2-8-2-7-4 3-2-1-2 8-3 1-6-11-3 4-2-8-2 19-3-9-4 5 0 1 0-2 0-10-4 4-1 7-2-5-4 1-1-11 0 2-7-5-2 15-2-15-2 4-3 1-5 13-2-20-2 0-2 9-4-5 0 1-4 10 0-7-1-5-8 15-9-17-18 15-37-9 8 39 17-18 4 19 4-2 14-5 1 1 4 4 8-11 4-3 1 8 10-13 7 10 3 12 1 1 2-5 2-16 1 1 9 16 0-5 1-9 1 18 0-6 0-4 1-13 4 12 0 10 1 1 0-15 3-1 0 3 1 11 2-11 2-1 5 4 1-10 2 3 0 0 1 10 1-8 2 10 1-9 1 13 0-15 0-6 3 9 1 12 1-19 1 8 0-6 1-3 2 1 1 2 0 16 1-3 0 3 5 2 0-23 6 20 2-10 1-5 1 13 0-17 2-2 2 9 1 7 0-8 2 5 1 8 2-14 6 7 1 1 1-1 12 7 0-2 11-10 1 10 3 2 2 0 4-13 5 12 14-4 4 0 30-4 13 0 0 33-1 2-14-22-8 12-2-7-9 0-13 18-3-15-10 1-1 5-5-11-8 14-6 5-1-2 0 2-7-6-6-2-2-2-2 10-1-9-3 6-1-1-3 2-2 4-4-9-1-4-1 11-2-16 0-2-3-3-4 3-2 5-1 10-1-17-4 17-1-1-1-7 0 12-1-21-1 3 0 7-2-7-1 2-1 15-2 2 0-11-4 7 0-1-2-9-2 6-1 3-1-17-1 11-2 0-1 9 0-13-1-6-1 10-4 8-2-2-1-17-1-1-1 14-3 4-1 3-3-10 0 2-10 0-1-12 0 8-1 6-1-11-2 4 0 6-3 4-6 4-5-13-5 6-8-9-6-3-1 20-13-13-32 19 4 0 19-4 6 21 1-22 10 24 23-7 5-3 1 4 2-15 2 16 9-11 0-1 4-2 1 16 2-14 1 17 2-10 0-8 1 11 1-2 0-4 0 6 2 3 0-11 11 14 0-1 1-11 1 10 0-11 6-6 7 5 1 0 1 2 8 11 1-9 1 8 0-18 0 18 8-6 1-1 1-1 1 7 0-14 1 17 3 0 3-5 1-10 7 1 2-5 0 14 2 0 3-5 1-13 6 3 3 16 7-11 1-8 1 1 1 14 2 3 4-9 5 9 10-3 2-8 6 16 4-10 13 6 0-5 3-11 11 6 27 0 8 29-63 1-1 0-1 2-8 6-10-14-4-1-1 13 0-8-2 2-6-9-1 5-7 4-3-3-2 6-6-6-6-1 0 14-2-9-1-4-1 1 0 1 0 7-2-14-3-6-6 24-2-11-1-6-1 9-1 0-1-5-1 8-1-7-1-7-1 8 0-12-9 20 0-9-9 0-4 5-4-4-3-8-9 18-1-5-8-1-10 4-8-7-1 7-8 1-5-20-21 1-20 4 41 26 16-3 4 10 5 4 10-6 7-13 3 3 1 19 1-4 2-1 7-8 5-4 8-2 5 15 1-18 8 14 1 6 5-1 1-12 1-3 4-1 10 6 5-5 1 19 0-22 1 8 7 11 10-18 0 21 12-3 15-1 4-15 16 5 1 3 26 15-30-2-4 22-13-7-23-7-38 0-38 12-10-3-9-2-18-11-6 7-25 2-5-6-26 34 27-4 38-7 27 1 9-6 14 22 27-22 3 21 5-7 10-6-42 23-3-1-18-5-80 9 196 86-118-94 21 3 4 16 31-17 14 0 3 9 3 4 48-37-91 5-12-8-28 10-6-5-7 1-40-22 6 7 4 2 27-3 2-5 10 2 4 6 9 2 1-21 9 5 20 2 7 2 1-6 9 7 0 8 19-18 3 14 4-14 7 2 37 1 1-3 52-17-41 15-20-8-7-4-8-1-4 5-9 1-5-11-5 5-3-9-3 8-8-6-9 11-7-2-6-7 0 9-2-5 0-5-11-2-2-1-8 1-7 8-3-2-5 14-7-19 0 5 0 6-4 6-2-9-8-8-6 0-12 19-16-18-8 2-32-12 40-16 17 7 2-8 1 3 1 7 7-7 2 8 4-6 3-2 5 15 0-19 2 12 7 8 1-9 3 4 0-7 2 15 1-20 4 2 3-1 1-1 2 11 1 7 3-3 2-19 1 18 0-10 2 6 3-6 2-2 4-1 3 11 5-13 1 10 4 8 3-15 2 13 2-9 0 5 2-1 1 2 0 8 1-23 7 6 1-4 3 0 1 14 1-9 8 16 0-8 3-16 5 14 18 10 4-7 39-4 13-31-33-7-3 13-2-13-1 11-6-7-4 2-7 14-2-7-1 3-4-4-9 3-6 2-1-14-5 19 0-16-1 3 0 4-1-3-3-3-9 5-2 10-2-3-2 0-2-3-1 3-3-19 0 23 0-5-3 5-1-7 0 5-2-5-1 7-1-17-4 0-1 0-1 15-3-3 0-11-5 5-6-12-1 19-1-5-2-7-8-3 0 4 0-7-1 12-3-11-5 15-2-2-2-15 0 8-2-8-1 12 0-4 0-6-1 20-2-10 0 8-2-6 0-8-1-1-9 19-11-7-1-1-6-9-1 14-1-14-6 1-11 11-2-5-1 7-1-14-35 17-6-13-19-25 20-10 11 0 10 6 2 10 9-10 10 4 2 0 7-5 6-6 1 22 2-2 4-10 1 9 3-5 2 9 4-21 3-2 2 13 1 1 1-9 0-1 4 17 2-7 0-12 3 16 1 2 0-8 2 6 0-12 0 4 2-2 1 4 9 10 2-22 0 13 1-9 1 9 0-9 1 19 1-23 4 19 2-14 0-3 1 12 5 0 2-6 1 1 2 10 6-4 3-2 3 11 0-18 0 10 2 5 2-1 2-15 0 19 1-22 1 17 3-18 6-1 1 8 2 4 2-10 0 2 1 0 3 15 0-17 2 0 0 3 3 2 8 8 6-6 1 7 3-8 6 0 12-1 4 14 1-18 6 21 3-3 5-6 55-34-30 9-20 8 0-9-8 9-28-7-4 0-3 7-1-19-1 14-10-14-7 8 0 12-1-5-1-6-6 11 0-13-7 6-1 5-1-14-1 15-3-13 0 5-6-3 0-3-3 1-1 3-4 11-1-9-3-12-2 15-3-15 0 12-3-3-2 10 0-10-2-7-2 14-2-14-2 3-3-5-2 12-4 6-1 1-3 0-1-2 0-6-2 8 0-20-2 0-3 21 0-7-2-5-1-6-1 1 0 17-1-15-8-1-3-2-6 8 0-11-1 19-7-8-1 7-2-16-1-2-8 10-4 1-4-11-3 15-2-3-8 5-1-11-21 8-7-40 26 22 20-21 3 18 6-6 3-3 1 0 0-5 5 6 0 1 5-3 2 2 1 1 0 0 6 0 6-13 5 7 2 8 5-4 3-3 2 10 0 6 6-1 1-2 0 2 1-10 1 0 3 5 0-5 1 1 6 5 3-8 1 0 1 9 2-4 0-11 1 2 5 8 0 9 3-2 5-6 1-4 2 4 8-13 6 21 1-15 4 14 14-12 12-3 64 12-16-45-1 21-12-2-15-9-24-5-21-1-2 11-11-11-1 10-5-10-1 8-1 12-6-2-2-8-13 10-21-5-7 3-6-15 0 2-1-9-9 19-8 1-3-6-2-7-20 5-11-2 0-12 21-9 4 4 2 2 10-10 4-2 15 15 0-14 8 13 9-9 4 4 5 0 3 2 2 2 2-3 5-6 22 11 2-7 14 8 33-12 54-5-90-25-38 1-12 8-1 0-31 2-17-4 17-36 38 0 58 5 6 16 24-11 34-15-142-8-59-27 13 77 24 3 12-4 40 7 59 1 91 27-42-20-33 4-7 5-14 0-12-6-11 16-7-8-3-6 0-8-11 18-24 4-26-21-7 11-16 0-8-2-8-5-41 40 4-12 27-7 4 16 6-9 9-7 1 16 7-13 6 10 3-2 4-12 1 21 0-21 3 17 13-17 7 0 3 8 10 14 0-21 2 16 10-13 4-1 1 14 9-13 1 5 1-10 2 3 0 10 1 11 2-11 2 4 4 1 29 1 1-17 29 17 50-6 35-5-55 35-9-4-38-10-13 15-2-17-2 15 0 5-1-20-5 7-3 9-1-14-1 6 0 1-2 8-2-12-2 12-1-11-2 9-8-12-2 15-1-1-3 3-1-2-2-18-1 11-1-9-1 11-19 2-3-16-5 10-1 2-1 5-4-14 0 9-1-7-4 2 0 11-2-4 0-8-2 7-2-3-1 2-3 9-6-2-6-5-3 8-2-23-28 15-2 1-19 5-7-17-18 20-2-1-11-13 7 27 25-10 8 3 12-5 0 15 5 3 1 4 4-20 2 2 3-3 2 4 7 7 2-10 4 18 2-13 4 4 2-9 1-1 6 4 1 15 0 4 1-6 1 4 2-18 1 15 1-19 5 3 1 3 1 0 1 12 10-11 0 5 2 9 0-4 0-10 1-1 4 6 1-2 1-9 1 2 0 21 1-23 1 8 0-9 8 13 0-12 0 9 1-9 0 9 1 11 0-18 1 20 0-8 1-4 1 12 2-4 3-14 1 4 0-4 0 0 1 13 3 2 1-11 1 15 0-11 3 9 0-6 3 8 2 0 5-17 6 4 2-1 0-4 1 0 1 18 1-23 1 8 1 0 1 14 6-16 4 4 1 9 4-14 8 8 1-9 0 19 2-14 0-1 1 10 1 1 9-18 11 19 1-2 1-11 13 7-32 17-4 4-1-6-2 11-12 4-5-2-2 5-2-6-1-13 0 5-1-5 0 5-2-5-3 5-2-3-4 11-4-7-2 7-1 5-7-7-3-1-4-10 0 12-3-8-4-8 0 20-5-2-1-2-1 2-1-2 0-13-4 3 0-4 0 17-1 2-2-3 0-14-5 19-3-13-4-8-1 5 0 15-1-17-1 15-2-1-4-10 0-1-1 3 0-11-2 9-2-4-2 15-2 0 0-5-4-14-7 17-2-11-1 5 0 10-10-15-1-7-4 3-1 15 0 0-1-3-3-15-7 21-2-1-29-17-16 1 23 34 15-4 1 1 3-8 2 0 5 20 3-10 2 2 4 3 3-11 5 6 2-8 1-2 4 10 1 6 6 3 1-4 1 6 4-18 0 14 2-4 1-2 0-6 2-6 1 7 1-4 0 17 2-7 2 5 5-5 1-10 1 17 7-20 2 22 1-19 1 4 0 1 1 12 1-13 1 16 5-18 1 18 4-15 0-1 1-2 0 13 0 4 1-21 1 1 2 4 4 15 2-8 3 7 2-17 0-1 3 17 2-2 7-11 6-7 2 0 3 6 0-4 6 15 1 5 2-10 1 5 3-13 4 17 3-19 8 7 11 3 37 37-7-24-22 3-2 13-5-14-8-1-3 21-4-5-3-9-1-6-6 6-5 3-5 7 0-12-3 5-1 11-3-6-2 7-1-14-2 11-2-10 0 9-5-10-1 13 0-8-1-11-4 19-2-15 0 15-1-19 0 10-1 5-3 0 0 6-7-14-2 3-5 10-1-18-8-4-2 0-1 7-8 4 0-8-15 7-12 5-1 1-3-17-1 18 0-14-30 6-20-4-1 0-23 26 13 14 41 1 10-15 7 6 3-12 4 20 6 0 2-14 3-5 1-1 14 0 1 16 1-6 0 4 3-13 4 10 1-11 6 10 3 9 21-14 5-2 1 11 2-5 2 5 4-10 15 10 2-1 38 8 10-19 33 17 30-14-100 38-47-14-2 15-1-19-6 21-7-5-1 2-16-6-13 9-12-22-8 13-4 7-5 3 0-9-13-10-11 4-6 8 38 19 11-3 8-7 0 9 28 7 11-9 3 14 16-21 7 5 11 7 7 7 23-19 9 12-61 14-2 6-14 2-38-8-45 6 124 27-127-9 185-36-42-3-19 10-6-4-1-16-65 4-40 11-19-33 20 6 32 6 20-17 5 2 7 7 12-2 1-3 8 7 6-2 22-3 2-7 0 12 4-1 9 3 1-9 24 9 28-12-24-28-6 8-9 1-20-8-1 10 0-3-5 13-12-5-6 3-1-4-1-13-14 21-5-15 0-8-4 8-9-5-4 0-2-4-1 3-14 14-13-5 0 9 0-12-5-1-5 10-2-18 0 23-2-1 0-1-7-2-8-14-20-4-34 21-18-31 17-1 32 0 2-15 6 13 6-7 8-6 0 24 17-15 3 0 0-7 1 0 2 11 2 10 5-15 4 0 2 15 1-5 2-15 2-2 2 12 7-11 4 19 1 2 1-18 1 6 1 8 1-18 1 13 4-7 8 5 1-3 1 10 0-1 4 2 0-17 2 1 1 15 5 4 4-17 8 5 1-9 0 13 3-12 4 15 2 6 3-13 2 11 4-14 13 16 0-13 0-5 17 8 9 5 9-11 6-4 21-4 18-9-46 0-1 0-3-14-1 6-20-4-7 10-2-4 0 10 0-4 0-9 0-2-6-4-4 5 0 10-6 7-1-14-2-1 0 4-8-11 0 10-2 11-2-20-1 16 0-18-3 0-1 15-8 1-3 8-2-8-1-1-3-9-1 12-1-11 0-7-2 5-1-2-2 18 0-1-5-4-1 1-1-12 0 14-1-17 0 19-1 3 0-8 0-9 0-4-2 2-1 6-1 10-7-6-5 3-6-12-1 8-3-6-7 7-2-1-4 0-4-14-1 17-4-8-3 6-1-12 0 9-4 2-2 1-4-3-2 2-1 4 0-13-17 4 0 12-4-1-1-12-10 14-10-11 0 10-10-7-19-12-4-9 57-13 1 8 0 9 0 1 0-18 1 9 7-1 1-7 1 15 10-11 0-3 8-2 5-3 3 14 4 8 0-8 1-7 0 5 4 5 3-18 1 0 0 14 2 2 4-12 2 7 1-6 4 0 1 0 1-6 1 23 1-10 1-6 3-4 1 15 1-6 3 6 3 2 0-1 1-10 2 2 2-4 2 6 0 8 3-2 0-3 1-10 1 8 2 5 2-3 0-3 0-11 1 14 4 8 2-23 5-1 3 9 1-7 0 14 2-9 4 13 11-2 1-6 1-4 1-5 0 14 2-1 7 4 3-6 0-13 19 6 3 1 7-5 2 8 8-7 5 7 27-4 19-18-34 4-2-4-1-3-15-3-8-2-7-5-2 19-5 3-2-8-3-12-15 13 0 5-1-11-2 2-1 0-6 5-1-10-5-4-3 13-3-12-2 15-1-2-1 6-1 0-3-7-6-7-4 1-1 5-1 6-1 0-3 1 0 2-1-6-3 6-2-10-1 2-2-15-2-1-1 7 0-6-1 9-2 2-1 9-4-15 0 2-2 3-2-7-1-1 0-1-1-2-2 23-2-21-6 3 0 10-5-9 0 5-1 0-3 4-5-2-2 11-1-3-2-5-4-10-3 9-3 3-1-2-2-1-9-3-12 2-8 9 0-7-14-16-4 8-14 9 14-31 3 12 4-2 13-5 9 1 7-1 32 8 2-5 3-8 2 1 4-2 0 8 4 0 9-16 4 15 4-1 2-1 3 7 6-16 0 15 3-6 4 7 1-6 3 4 9 1 1-13 6 4 3-5 1 17 0-22 2 19 2 1 2-22 1 19 2-14 1 7 1-12 6 3 4 17 2-15 1-3 2 11 2 0 0-2 19 11 20-15 31 15 1-14-45-18-4 9-5-24-25 18-4-5-6-6-3-6-4 20-16-14-2 9-2-11-1 3-2-5-6 10-3 7-14 2-1-20-5 0-2 18-9-11-3 8-7-5 0 4-5-15-2 6-9 13-3-11-3-2-1 15-8-8 0 7-9-10-1 3-50 10 26-27 33-16 3 11 4 4 0-20 1 14 6-4 23-1 3-4 22 9 0 1 29 1 14 7 3-17 1 16 2-10 35 0-40-18-35-5-6 1-9 4-10-6-9 1-1-2-4 0-8-13-15 5-23 10-26-23 84-7 20-3 3 16 32-14 3 15 12-12-87-33-13 2 39-13-9 56-60-12 15 35 12-2 9-19 14 3 10 9 24 2 10 7 0-9 65 25-26 0-21 1-14-7-13-1-18-2 0 19-7-1-2-11-6-7-30 8-11 6-6-5-83 14 27 11 3 1 19 0 2-6 42-1 5 12 0-11 9 6 10-14 5 4 13 7 1 6 0 1 34-2 9-8 9 5 10-3 3 1 2-4 5 6 2 8 1-15 6 6 8 0 4 8 5 0 13-1-5 29-7-3 0-13-2-7-3 18-1 2-8-10-5 13 0-15-13-8-7 3-10 9 0 7-4 0 0-15-3 19-10-17-1-4-4 12-1 3-1 3-3-16-13 0-5-1-1 8-1 8-3-2-3-17-1 3-7 14-11 1-4-18-4 13-4 0-3-2 0-9-8 17-2-16-2 9-7-8-9 6-10 12-4 2-26 18 20-4 3-9 37-1 3 1 6 6 1 5 2-4 5-1 0 14 9-9 6-15 6 17 2-8 0 13 3-21 1 21 2-6 1-5 6 8 0-2 2-2 1 4 1-1 1-16 1 3 1-1 1 8 1-12 1 10 1 6 2-5 4 11 1-10 1-8 1 8 0 7 1 3 2-7 1-2 0-4 1 12 0-16 1-3 1-2 3 9 6-7 1 2 0 12 1-5 8-10 1 20 5-16 0 9 1-5 3 1 1 2 2-11 0 16 0 4 2-4 0 2 1-10 5-6 1 21 12-14 10 2 5 8 18-17 0 19 10-10 15 0 27 33-22-20-15 18-18-7-4 6-2-5-4-7-3 17-6-6-1-15-1 1-6 0-6 18-10-3-4 6 0-9-1-11-5 4-3-6-2 21-1-3-2-14-2 9-4-10 0 5-1-5 0 20 0-3-4-10-2-8 0 6 0 13-1-20-1 9-1-11-4 4-3 19-1-10-1-4-3-5 0 20-1-5-1-1-1-14 0-1 0 0-1-3 0 9 0 0-3 0 0 3-2 10-4-21-2 4-6 16-1 3-1-19-2 17-1-10-6-12 0 6 0-4-3 12-4 4-1 3-1-16 0 2-2 1-2 2-5-4-2 8-3-11 0 14 0-7-10-7-4 19-7-17 0 8-2 1-1 5-14-17-2 9-2 12-11-5-3-9-10-5-9 6 6 19 27 8 3-11 1 11 5-11 4 22 9-13 1-3 6 14 6-14 4 0 2-1 4 18 4-23 2 13 4 4 3 3 0-15 1 17 0-23 2 19 1-9 2-4 1 1 3 11 1-14 4 18 1-10 1-9 0 5 1 11 0 0 1-11 2 9 2-12 1-5 4 22 0-18 1 9 1-13 2 12 0-1 0 12 1-21 3 8 1 2 0 2 1 10 2-9 0-9 1 8 2-2 2 0 2 0 2 7 1 0 3-19 0 1 0 4 5-3 1 19 5-5 0 8 2-11 3 1 1-10 0-4 1 24 5-3 1-16 8 0 1 17 10-21 0 1 5 13 2-8 1 9 10 6 1-18 6-1 3 5 4 0 1-8 21 24 45 3-57 16-3 5-4-2-27 2-4-5-2 5-1-20-1 3-1 8-5 4-2-6 0-7-3 19-8-8-4-5-2-8-1 6-4 1-7-8-3 14-1-11-11 0-4 5 0-8-2 11-2 5-1-7-2-11 0 0-2 11-7 10-4-6 0 7-2-17-4 10-2-8-2 14-5-8-1 0-4 7-1-7-2 5-8-17-15 0-12 12-8-9-44 30 21-5 7-4 6 11 19 7 7-10 1-4 1 20 1-19 23 14 7-5 8 6 6-12 10 12 1-19 3 6 2 7 1-12 4 3 5 3 6 16 2-2 2 2 0-24 1 9 1-6 2-1 0 2 3-3 1 11 0-7 8 0 2 4 2 12 3-14 15-1 2 15 1 0 2-20 6 1 12 18 0-18 31 11 4-13 11 1-50 39-1-3-2-12-2 19-5-19-4 5-8 18-3-5-2-2-13 2-1 4 0-7-16-13-5 5-8 8-9 7-13-9-4 0-6-13-11 7-4 15-1-10-6-7-1 9-23-9-3-2-27 2 69 34 21 3 45-5 0-11 31 18 14-17 30 0-2 24-92 9-55 8 49 10 43-3-71 10-84-35 124 4 9 10 9-7 65-7-34-17-4 3-2 3-12 8-3-1-24-19-83 17-6-4-25-15-9 0 21-7 11-18 9 17 7-15 3 17 3-19 24 3 14 10 1-11 29 10 1 4 2-4 0-7 4 10 10-8 12 11 7-6 2 2 3-3 6 12 86-44-32 6-16 8-17-17-9 13-2 7 0-2-3 1-23-15-3-3-2 9-3-1-3-5-2 14-10-1-6-7-2-9-4 15-19 7-1-21-1 1-7 5-13 2-1-9-2 13-9-9-2 7-8 6-8-16-1 7-5 10-6-18-3 14-5 3 0-14-10 18-1-7-5-12-17 12 25-21 5-8 13-10 0 0 9 7 8 4 1-6 7 11 3-15 1 12 4-4 2 4 2-5 0-9 0 3 2-3 3 1 0 0 6 4 3-3 1 19 4-6 2-2 0-13 3 11 2 2 2 5 1-17 3 12 2-6 1-1 1 14 0-16 2 2 1 12 2-16 3 21 4-7 1-14 3 19 2-17 9 14 7 3 0-7 2-3 0-9 3 2 1 16 6-1 0 3 4-16 14-4 3-1 10 7 5 1 2 7 8-8 3 15 77-30-42 4-13-2-24-14-14-7-4 11-13 3-4-8-4 0-5 9 0 6-1-12-3-4-3 8-2 0-1 1-2-4-5-6-9-4-2 15-1-9-1-4-1 0-1 4-1 1-3-2 0 11-3 5-3-20-1 2 0 14 0 0 0 0-1-2-1-10-7 19-1-23-1 18-1 3-6-21-2 16-2 1-1-7-1-3 0 1-1-5-2-4-3 16-3 1-3 6-3-2-1-9 0 11-2-21 0 11-1 2-2-4-4-10 0 20-3-9-7 6-8-18-1 9-3 13 0-3-4-17-3 11 0 6-1-8-5 1-21-4-9-5-8 15-15-24 6-1 0-15 1 9 38-1 4 10 3 1 3-13 8 8 1 1 5-6 3 4 2 0 10-6 0-7 0 16 3-7 0-8 1 13 0 3 2 0 2-7 1 2 4-15 0 13 1 5 1 5 2-8 1-7 1 5 1 4 1-8 4 3 2-1 2 3 1 10 1-9 1 3 0-6 2 8 1-1 1-15 1 4 4 3 0 12 1-17 6 13 3-12 0 5 1-5 3 8 1 5 4 3 9-2 6-4 1 2 0 4 1-16 2 1 1 5 3-7 1 18 1-7 2-15 6 5 3 4 2-9 1 21 0-6 6-14 4 21 1-12 5-10 0 21 2-23 3 15 12-13 11 8 4-9 4 14 22-2 4-31-11-6-42 23-4 0-2-21-7 20-4 1-1-22-13 17 0-17-3 14 0-10-4-3 0 20-6-5-1-14-1 17-3-21-1 20-1 2-1-7 0-3 0 4-3 4-1-17-4 12-1-3-3 0-3 0 0 2-3-12-1 18 0 4-1-16-5 5 0-1-5 0 0 0-1 10-3-9-3-13-1 18 0-14-1 3-1 16-2-10 0 9-2-1 0-11-1-10-3 13-2 9-3-14-2 0-3 14-7 1-6-9-7 3 0-17-2 18-4-13-9 19-8-1-7 0-2-2 0-2 0 2-15-10-3-11-5 18-6 3-7-5 0-14-10 22 30-25 13-17 3 11 3 0 1 3 6 3 5-11 5-7 1-3 2 15 1 0 3-13 2 14 2-16 2 8 0 13 0-3 8-14 7 7 1 9 1 1 2-23 4 5 2 11 1-10 7 12 4 1 1 1 5-19 7 12 0 1 4-12 3-2 2 7 0-4 16 7 16 0 1 7 8-7 40 6 3 0 5-5 7-17-10-7-4 9-3-13-52-1-2 0-4 0-7 13-4-19 0 5-8 9-4 3-1-9-2-2-3 7-5 9 0 0-13-24-4 23 0-19-5-1-8 17-6-3-2-5-2-11-1 21-5 0-8-10-4-12-7 15-19-6-5 0-16 0-55 7 69-18 17-2 23-17 9 18 6-1 3-11 15 12 1-1 13-12 7 14 5-1 3-4 5-7 1 2 5-11 14 0 4 9 6-10 1 13 19-5 10 8 3 5 3-23-74-10-27-8 0-3-5 8-40-13 83-18 41-12-71-6-18 6" marker-start="url(#b)" marker-mid="url(#b)" marker-end="url(#b)"/>
<path d="M1426 2015l-78 48 21-2 11-8 21 13 12-15 36 23 44-3 36 26-41-18-2 5-2 0-4-5-15 18-7-9-2 0-11-10-5 10-7-12-3 5-5 17-31 1-1-15-3 15-24-4-7-4-21 1-3-10-24 17-11 20 43-6 12-12 1 11 1-4 23 14 3-12 2-2 8 13 4-18 2 19 2-1 1 0 2-5 5 5 0-11 5 6 14-4 10 0 1 9 6 2 1-5 28-9 2-6 8 15 5-9 11-2 1-2 13 17 4-18 10-3 13 20 9-13-22 27-11-9-4 17-2-18-34 8-2 6-2 1-6 7-3-7-4 7-1-21-1 18-8-11 0 5-5-10-4 7 0 9-1-14-1 15-4-3 0-9 0-8-1 1-3 13-5-4-5 8-6-1-6-14 0 6-3 15 0-6-4-15 0 14-1-10 0 16-3-12-1 3 0-8-7 18-1-21-1 10-16-4-12 4-2 6-2-11-18 9-7-9-27-3-10 28 16 0 13 4 0 0 21 5 1-4 1 9 3 2 1-21 6 14 6-15 9-2 15 10 0 11 2-14 0 12 4-7 0 12 3-4 0 1 1-14 3-7 0 4 0 19 3-21 0 5 1-4 2 2 0-2 3 13 1 5 1-3 1 1 3-19 0 1 0 14 2-14 0 7 1 7 5 1 2-6 1-7 2 3 0-5 1 18 1-16 4 0 0 2 0-3 4 1 1 11 1 8 2-12 3 3 0 11 6-12 3 4 3-2 2 6 0 1 4-12 0-9 15 17 2-7 2-10 3 8 1-8 5 19 0-13 14 8 4-6 26 11 10 3 28-20-12 41-21-2-4 3-13 3-20-1-3 2-9-2-4-7-2-6-2-1-7 16-1-9-10 3-4 6 0-16-1 4 0 12-4-16-1 7-4 0-3 1-2-2 0-7-2-4 0 9-1-10-7 2 0 13-2-13-1 16-2-3-3 7-1-15 0 6-2-2-2-4-2 5-1-10-1-2-2 5-2 1 0 8-1-5-2 3-3 9 0-14-2-2-2 13-1 0-7-7 0 11-3-20-2 12-2-5-1-8-3 8-1-4 0 10-1 2-9-18-3 22-3-10-15 11-4-22-6 22-4-21-1 11-1-13-3 23-6-4-1 2-50 8 8 1 15 1 47 18 1-22 1 14 3-6 2 3 9-5 1-6 4 13 3-3 8-4 1-1 5 0 8 13 0-14 0-6 1 20 0-17 4 0 1 9 0 10 0 0 1-18 4 5 1-8 2-1 3 1 3 4 0-5 0 1 1 14 0-5 2 5 1 5 1-9 2 5 3-5 2 1 1 12 2-22 1 9 1 5 0-5 5-10 0 11 3 4 1-4 1-2 2-9 2 5 2-4 0 2 2 20 1-16 3-6 7 6 0 9 2-12 8 16 1-10 6-6 2 19 4-23 2 10 2 13 7-15 12 11 3-5 1-8 6 5 37 10 11-13 5 36-12-1-9-4-30 2-5-17-1 18-17-5-2 1-8-12-1 3-5-1-5 10-5-3-1-5-6-5 0 15-2 8-2-14-4-5-2 18-4-7-1-7-2 6-1-4-1 13-4-2-2 0-1-17-1 0-1 11-1-8-13 5-7-4-4 1-3-6-1-3-1 1-5 2-1 13-1-6-3 10-8-4-2-9-2 0 0 16-2-5-2-8-1 6-5-5-13-11-10 18-2-6-4 3-6-10-5-4-16-1-10 22 1 13 1 3 4-12 17 16 22 1 2-11 1 7 9-8 15 8 5 4 5-13 8-4 5 5 1-3 1 14 9-15 0 4 1-6 6 4 0 8 1-7 4 6 4-7 2 6 9 0 3 11 1-17 9-1 2 5 1-6 5-2 3 4 1 14 2 1 0 4 9-23 2 20 6-11 11 12 6-5 61 2-12 18-2 4-46-6-20-10-19 13-7 10-5-5-1-6 0 1-6 2-14 7-5-17-10 2-8 7-3-9-2-5-7 2-1 16-11-9-8 4-3 4-1-14 0 13-15-16 0 12-6-2-3 33 56-10 28 11 48-14 2-5 40 18 5 13-70-3-20 3-16-2-31 6-64-3 48 19 50 9-1-23 16-6 84 5-23-35-43 10-3-7-9 12-16-7-11 5-12 8-27-17-10 19-37-17-39-24 31 2 17 6 4 2 3-18 11 14 7-6 0 9 0-4 3-13 5 15 32-3 4-12 6 18 5-14 3-3 3-1 3 3 2 4 1-2 7 2 0 13 2-13 4 7 3 4 2 2 3-15 47-5 29 13 44-16-27-17-48-4-6 0-6 0-7 17-1 2-1-16-4 1-6 4-17-6-5 21-6-5-13-19-19 20-1 0-2 0-3-14-6 8-1-11-3-2-6 19-2-8-3-6-6 11-4-16-4 7 0-7-2 2-16 13-7-9-6 17-9-19-7 8-37-26 19-9 23 4 9 8 11 1 8 6 2-22 3 11 0 6 2-3 8 4 0-14 4 16 2-2 1-4 2 10 0 0 5-11 0-3 3 3 5 9 4-8 5 5 0-15 9 0 2-2 4-2 1 3 1 6 5-6 5 15 1-15 1 4 3-6 1-1 3 6 5 4 4-7 4 10 5-6 5-5 3 2 8 11 4 4 1-5 6-3 5 5 0 5 4-14 3 14 11-2 4-11 14-8 14 14 16-1 6 11 1-16-10-13-10-13-14 16-4-15-4 10-8 5-14-15-2 15-3-4-4 0 0-5-1-6-10-8 0 13-3 5 0-14-1 0-3 1-3 4-4 13-13 2-2-6-1-16-4 8-1-10 0 6-2 1-4 0-4-1-4 3-4 4-1-12 0 0-5 11 0-1 0-10-1 3-1 3 0 7-10-3-1-2-2 14-5-18 0 7-1-5 0 11 0-11-1 4 0-5-4 16-1-6 0-16-3 2-10 4-6-5-2 12-1-4-8 0-10-2-2-6-7 8-2-5-1 6-1-7 0 0-4 10-19 1-4 0-8-3-13-11 4-19 2 10 4-2 10-1 0 5 6-8 8 8 4 4 2-4 7-17 10 21 6-22 2 12 6-7 5 3 1-4 1 5 1 12 3-20 8-1 9 3 1 17 1-10 7-5 1 6 1-9 0 4 4-2 2 20 2-4 3-8 0-3 5 2 1 1 1 10 5-20 0 10 2 7 2-17 2 18 1-6 2-8 0 10 1-5 1-8 2-3 3 5 1 5 8 13 4-15 1 9 1 1 0-4 4-14 1 11 2-11 0 11 1 1 2-12 3 1 0 10 4-8 0 16 5-13 2 6 1-4 2 6 1-12 4 1 5 7 2-7 8-1 0 3 4-5 4 13 2-8 2 5 5 6 4-9 1 1 13 6 10-39-16 13-8 1-4-2-5 0-14-1-3 8-1 3-1-16-9 0-4-5-1 11-1-10-6 13-3-5 0-1-3-8-2 9-1-9-2 18-4-2 0-14-8 11-4 10-4-21 0 9-6 3-1-1 0 4-1-2-3-2-3-5-1 9 0 4 0-22-2 17-6-14 0 8-3 10-2-19-1 5-2 14-1-15 0-2-5 8-6 5-4-8-2 10-2 5-1-6-5 2 0-10-7-9 0 18-3-3-3-2-7 1-1-6-2 10-12-15-1 15-16-6-6-1-30 6-19-32 39 9 4-9 28 6 7-6 2-2 4-7 0 14 5 8 8-22 1 11 0 9 10-12 0 2 4-10 6-2 6 16 1-4 1-8 1 13 6 2 4-4 1 1 4-12 6 9 1 0 3-7 2 0 4 2 3 10 0-15 3 20 2-1 4-8 2 3 2 1 0-16 1 14 3-14 1 2 1 10 3 4 10 5 8-23 3 17 12-9 0 1 11-1 8 13 17 1 3-2 19-8 30-30-59-7-1 12-6 0-36 6-7-3-6 7-5-3-2 2-7-11-4 10-1-17-3 11-11 6-7 3-7-3-3-8-2-2 0-2 0 7-7 9-3-17-11 13-1-8 0-7-1 18-22-5-7-6-10-5-21 15-20-3 35-31 14 11 12-8 3-11 2 8 5 10 12-7 7 7 1 0 3-5 12-6 16-2 9 5 1-9 1 16 5-1 2-14 7 10 9-11 25-5 8 3 57 4-68-13-45-7-30 0-8 7 0-5-47-10 0 1-12 14 37-33 6 0 25-5 4 3 58-47-82 30 85 17-45 1-23 1-16 12-17-16-9 31 34 0 14 5 34-3 3 7 14-5 67 21-3-2-7-8-7 13-14 7-10-11-12 11-49-22-2 7-8 2-8 11-3-22-24 7-5-3-14 6-84 18 42 7 23 2 5-1 14 6 8 3 6-3 2-3 6 10 7-13 1 2 10 1 16 7 2-16 0 6 1 11 4-17 4 13 7-9 0 4 13 2 3-5 3-2 2-6 8 17 6 0 2 5 5-11 7-9 13-4 10 2 47 46-42-8-2 6-18-2-10 4-17-19-2-4-12 14-8 5-3-5-1-14 0 8-3 3-1 10-5 3-2-13-3 2 0-2-1-4-4 8-1-8-2 9 0-2-1 7-2-21-6 7 0-7-2 23-3-1 0-12-2 14-3-18-5-4-2 20-1-14-1 11 0-2-16-11-17 9-8 9-1-20-6 6-2 2-2 6-36-3 17 31 3-17 10 5 5 10 10 4 3 1 7-4 2-8 2-8 3 9 1 7 5-18 0 10 0-6 1 3 0 12 2-18 1 1 7 20 2-8 3-4 0-11 1 11 2-6 3 10 2-14 0 10 2 11 0-12 0-2 1-3 0 7 2 11 1-1 4-22 1 9 0 5 3-14 1 23 3-10 3 3 2-5 1 9 1-4 0-11 0 15 3-2 4 2 0-16 0 17 1-1 0 1 0-8 1-6 3 14 3-19 0 17 1-6 1 9 0-23 1 11 3 7 4-4 0 5 2-3 1 0 0 3 1-18 1 6 0-4 2 12 2-12 1 11 11-5 2 1 5-6 4 3 2-6 3 6 5 14 2-13 2 4 1-10 3 15 7-14 8-3 8 13 2-3 4 0 9 11 51 21-51 1-7-14-2 3-5 1-4-1-5 15-6-20-9 22-4-10-10 10-1-2-1-7-1-13-1 3-1 19-5-17-4 8-3-11-1 17-1-6-6-7 0 9-2 7-3-17-3-7 0 2-6 12-2-5-1 15-1-17 0 17-3-7 0-16-3 4-3 9 0-2-1-5 0 13 0-3-2-5-2 4-1-1-1-3-1-2-1 0 0 1-4 11-5-11-5 8-1-16-1 0-1 15-1-9-1 10 0-18-1 13-1 5-3 3-3-1-2-9 0-7 0 5-1-6 0 0-1 1-3 15-3-14-3 12-6 1-2 0-1-10-4 14-1-5-1 4 0-17-14 17-4-7 0 7 0-16-9 13 0-1-1-16-3 14-2 0-4-6-40 22 17 17 1-8 0 1 2-3 1 9 18-14 4 2 1 13 7-24 1 17 3 0 0-9 13-7 1 14 1-13 6 6 0 11 1-16 4 3 1 9 1-6 8 7 3 8 1-7 2-2 1 8 0-4 1-5 2 2 0-12 1 6 0 6 2-13 0 7 1 9 1-7 3-6 1 13 0-12 0 9 2 3 3-3 3-14 8 11 0-8 0 10 0-5 5-3 1-6 3 21 1-1 1-19 1 0 3 20 1-14 0 13 2-2 0-4 3 2 0-13 1 12 0-13 2 16 6-1 2 4 7-8 3-8 4 18 1-9 4 6 2-8 1 4 18-3 5-1 3-5 8-1 1 14 1-20 10 11 3 0 8-12 33 48-42-13-31-6-2 11-6-9-4-3-16 7-1 3-3-2-2 13-1-24-2 7-9 4-4 1-11 11-12-19-7 18-1-14-1 5-3-12 0-1 0 9-1-7-1 2-1 4-1-5-3 11-1 8-3-1 0-9-1-6-1-1-1 16-13-12-2 1-8 10-4-16-8-1 0-3-3 7-3 7-24 8-4-20-15 3 55 25 2 4 2 1 6 12 6-18 2 12 7-9 0 3 4 8 19-10 2 16 2-3 2 2 20-21 1 1 9 9 2-5 9-6 17 7 1-6 11 4 25 16 1-12 4 9 8-17 26 10 6 0-45 27-24 5-16 3-11 0 0-20-8 10-9 2-21-6-4-7-1 16-18-3 0-6-8 7-5 2-15-5-11-6-94-3 105 22 31 5 5 0 22 16 10-14 0-6 8 6 2 9 10-6 4-8 20 12 1 6 0-13-25 25-21 2-78 11 95 75 18-70-112-7 13-2 19-15 8 0 70-1 1-20-3 7-7-5 0 14-7-2-1-17-25 14-9-10-2 8-7-2-4-5-10-6-2 13-23-12-41 10-4-34 36 21 8-21 27 17 7 2 2-3 20-17 15 1 3 12 9-1 4 0 1-6 2 7 9-12 7 17 43-11 34-25-33-4-21 13-5-18-1 14-4-11-5 20-1-10-1-7-7-1-7 1-5 9-7-1-5-10-3 2-2 11-1 6-4-4-9-5 0 6-3 2-4 0-4-17-8-1-4 2-25 16 0-13-20 13-7 2-3-20-7 8-23-12-15-5 34-13 2 13 0-18 2 12 8-7 15 8 6-14 15 6 2 14 2-2 0-17 0 9 1-6 0-5 1 18 1-6 0 0 1 7 2-15 1 4 1 8 1 3 1-3 1-2 4-8 1 4 1-2 3 1 5 12 3 3 2-19 0 8 2 0 11-1 2 10 9-3 1-14 4 12 1-8 1 9 1 4 2-6 2-12 0 19 2-23 1 20 3-17 2 20 9-5 4-16 6-1 1 19 4-10 15-5 4 14 9-9 3 12 17 0 11 2-4-47-7 16-1-9-14 12-4 2-29-14-6-7-3-1-3 17-4-10 0-4-5 12 0-4-10 11 0-2-6-1-2-13-6 9 0 2-2-12 0-2-2 16-1-14-6 8-1-10-2 14-2-8-1-6-2 5-1 10-4 4-2-14-2-1-1-1 0 7-1 9-1-13-2-7 0 20-5-16-3 1 0 8-1-9-2 3 0-8-1 5-1-2-1-2-1 0 0 11-3-5-1 9-8 3-2-21-10 10 0-2-2 12-2-10 0 2-2 6-3 0-1-4-1 1 0-4-2 9-3-2-1-3-11-15-6 23-18-23-2 6-2 7-8-12-5 16-6-36 17 4 17-6 8 17 2-11 7 6 1-5 6 4 4-8 10 8 3-10 0 0 1-2 8 12 2 7 2-19 0 7 1-9 5 13 3-4 1 9 0 0 2-15 2 2 1-4 0 12 2-10 0-2 0 9 1 8 1-14 6 10 0 6 0-14 2 9 2-12 3 5 0 1 3-5 0-4 3 23 0-4 2 2 3-5 2 4 1-11 2-3 1 7 1 6 3-16 2 7 0 4 4-3 3 3 1-3 1 0 3 10 2-9 1-11 2 2 2-2 8 15 1 2 3-17 3 4 1 6 2 8 1-1 2 1 7-18 11 6 1 15 3-15 1 12 1-17 6 1 5 5 10 11 2-16 6 14 19-6 6-11-1-4-18-6-3-3-12-5-3 6-7-10-14 5-3 14-2-14-3-8-11 19 0-6-3-8-5 16-3-1 0-9-3 5 0 6-3-19-4-2-2 14-11 8 0-10-1-5-2 9-1-10-3-5-2 21-5-11-4-5 0 4-1 0 0-1-2-5-3 1-2-5-1 21 0 1-6-11 0 7-1-10 0-1 0 5 0-5-3-5 0 18-1-3-3-3 0-15 0 13-1 10-1-17-3 4-1-5 0-2-1 20-4-11-4 10-1-20-1 10-3-13 0 15-4-3 0-1-13 1-5 4-3-7-8-8-5 0-4 15-1-2-3-2-10 2-4-11-2-2-6 21-5 2-12-2-10-3-4-3 34-31 0 12 2-17 3-5 11 7 19 11 2 6 10-5 1-12 3 6 2 5 19 5 8-17 4 17 1-8 11-15 3 16 0-3 2 6 6-4 0 5 2-18 1 8 5 9 0-6 4 11 0-3 6-21 6 19 2-8 5 1 2 6 3-14 2 3 1 5 5-6 6-5 4 1 3 20 8-3 2-3 13 6 7-5 0-1 5 2 13 1 4 1 13-23-45-2-2-20-10 5-20 3-1-7 0 12-8-6 0 7-4-7-5-6-14 3-12-2-1 18-11-1-19-6-1-7-3 11-6 4-16-19-1 10-4-6-7 16-1-3-10-7-26 6 7-37 5 2 4 8 12-1 7-5 36 3 23-9 4 18 5 0 7-10 7 1 2 8 2-3 7 3 21 2 33-10 54 0-65-38-26 15-34 0-33 6-3-1 56-36 10 14 9-4-48-34-11-6 52 8-44 37-15-5 15 21 7-1 11 2 29-6 6 10 7-2 76 25-119-3-4 7-1-11-5-10-24 20-26 1-28-18-4 7-6-4-23 13-22 27 5-1 4-13 16 0 16 13 8 3 0-2 4 1 21-12 4 2 3-7 12 7 0-5 1 1 4 3 4-1 8-9 10 20 2-9 2 10 2-14 1-4 4-5 2 4 17 13 3-3 0-13 1 10 12 13 0 0 12-1 3-13 14-9 12 13 13-4 73 26-43-8 0 0-24 1-13 9-2 11-7-7-8-15-6 3-6 5-6 1-5-6 0 18-3-4 0-19-2 24-5-12-1 5-1-6-6 1-4 7-2 0 0 2-1-6-2-2-7-2-3 6-1 7-4-19-2-2-4 17-6-2-1 3-2-14-2 2-1-1-1 6 0 3-2 7-2-2-1-9-1-9-10 0 0 15 0 1-2 0-6 1-1-7 0-6-7 3-3-1-10-2-4-6-3 7-2 15-20-14-4-7-11 16-27-11 14 33 31 8 2-11 6-3 0-4 3-2 10 0 5-3 5 14 4-7 0 12 6 4 0-9 3 6 1-15 3 12 1-16 1 6 2 3 2-3 5 15 6 1 0-14 2 11 1-1 0 3 0-22 0 10 1 11 1 1 1-19 1 5 3-8 3 11 1 11 4-11 6 5 3 7 0-6 1-13 2 5 1 8 1 3 3-14 3-3 1 7 1 9 3 2 4-6 4-6 3-7 3 7 0 1 1 0 4-6 6 14 1 5 3-12 0 9 1-8 5-13 19 17 1-13 3 18 2-13 9 15 48-3-25 11-6 12-16-6-2-13-16 16-1 5-6-12-2-5-2 20-4-21-7 15-10-13-3 11-1-8 0-8-7 10-1 8-3 6 0-12 0-7-1 14 0-1 0 1-1-8-2 13-1-11-2 3-1-15 0 3 0-2-3 2-2 18-2-21-2 18-2-8-1 0-1 9-3 0 0 0-1-5-1-11-2 0-2 7 0-6-7 19-1-17-1-2 0 11-2-4 0 1-4-11-4 5 0 7-1 6-1 3-1-5-2-16 0 12-2-9-4 18-9-4-1-16-1 5-5 8-2 1-15-2-1 8-5-8-4 4-1-7-2 10-1-21 0 4-9 4-3-2-5 14-14-5-1-10 0 3 0-2 5 32 0-5 9 13 2-20 6 1 2-3 8 19 8 0 1-18 1 14 4-9 2-6 0 1 3 20 2 1 1-5 1 2 1-15 4 5 8-4 1 3 4 2 2 10 1-14 0 15 2-21 0 0 7 0 1 18 1-13 5-4 1 6 6 1 5 16 1-15 2-3 1 12 1-11 0-4 1-3 2 12 6 0 0-12 2 23 2-4 2-19 1 12 2-6 1 5 0-7 6 17 2-8 5-4 3-9 1 9 2 15 2-12 0 10 7-1 7-12 3 1 2 2 8 3 3-2 5 2 7 7 5-20 3 8 14-9 13 21 2-6 0-1 14 1-55 23-2-6-14 3-14-3-7 2-8-1 0-7-3 17-1-3-2-12-1-4-2 23-2-16-4 5-1 9-2-9-1 2-4-11 0 9-1-7-2-4-4 17-5-13-1 17-3-3-2-18 0 13-3-7-4 7 0 7-3-8-1-8-6 18-1-11-2 0 0 1 0-4-1-1 0-2-2-5-5 15-10 7 0-10-3-10-2 21 0-2-3-14-4-3 0 14-2-17-1 2-3 6-2-4 0 17-2-18-10 6-70 31 58-8 9 7 10-14 1 9 1 11 0-8 6-14 3 8 10 0 6 15 3-11 12 12 4-4 1-16 2 10 5-2 0-11 2 16 1-13 0 6 15-5 1 18 6-3 5 4 1-23 0 18 2-1 2-7 2 1 10-10 6 0 2 3 5 7 6-9 3 15 4 4 12 0 23-11 20-8 16 45-5-12-56-11-3 16-10-11-18-1-4 15-3-17-9 11-3-11-10 12-3-1-1 7-3-17-9 9-10 0 0 7-23-19-2 13-14-2-4 1-45 10-3 24 31-5 52-5 29-1 1 4 3-2 11-6 11 16 7-3 31-7 91 19-132 3-67 5-19 17 77 55-61-78 41-7 29 2 56-13-21-6-25 3-23-12-4 16-26-14-3 21-3-13-23 4-88-22 48-8 30 15 11-12 2-12 10 13 8 10 20-21 7 1 3 3 24-6 9 19 9 1 1 2 18-18 21 0 18 6 60-25-67-5-5-1-11-1-17-2-18 22-3-13-4 1-8 1 0-8-7 7-2-7-5 5 0 4-1 7-3 3-9-16-1-5-1-2-2 2-4 18 0 1-1-2-4-9-1 6-3-13-3 5-1 6-1 0-2-12-1-1-1-1-3 9-1-7-20 4-4 10-3 0-5-9 0-1-1 5-16-1-6-4 0-1-2 8-6 11-31-18 7-15 5-14 10 21 0-20 10 0 7-3 6 11 9 2 6-5 11-7 1 11 4 1 2 11 5-6 3-16 8 3 1 4 5 8 1 0 0 0 4-8 9-2 0-5 4 13 1-3 0-8 1 14 2-17 1 2 0 12 3 7 1-9 2-6 1-1 1 8 6-2 2 12 2-12 4 8 5-5 3-2 4 8 0-13 2 13 2-16 5 18 1-11 2 2 5-9 2 12 31 4 16-15 19 7 7 10 0-41-18-5-7-1-10 5-26 1-4-1-4 2 0 4-4 10 0-6-5-8 0-4-7 13-3-15 0 18-2-3-2-9-3-1-10 3-1-6-1 9-1 11-2-5-3-19-2 21-6 1-1-17-5 18 0-4-5 0-2 0-1 0-2-18 0 0-3 20-1-2-3-11 0-1-12 14-1-10-4 9-1-9-5-6 0 12-1-1 0 7-4-18-9 10-3-1-5 10 0-22-6 15-2 6-1-1-10-14-6 15-7-22-1 4-33 1-1-3-9-7 14-5 2-3 4-11 17 9 3-7 6 12 3 2 0 6 4-9 2-10 0 12 6-17 2 11 4-3 1 10 0-13 11 0 1 8 1 6 5-10 1 14 5-12 4-10 3 9 1-9 0 22 2-10 0-4 4 9 1-4 0-10 6 20 0-17 1 11 1-4 0-1 1 11 1-14 0-8 4 21 6-8 2 7 1-12 0 2 2 5 0-10 1-3 1-1 0 6 2-7 0-2 1 7 3 5 3 4 3-2 1-4 3 1 2 1 1-10 2 1 0 9 0 4 0-1 0-15 6 21 0 0 1-17 0 13 0-13 2 1 3 1 1 5 5-10 3 19 0-5 1-9 1 0 8 7 1-11 1 11 6-5 1-5 3 19 4-17 4-1 3 2 7 13 2-12 1 13 7-4 3 3 7-13 20 13 64-12 15 14-89-42-12 2-17 13-4-18-1 22-4-23-5 2-4 17-2 5-2-3-2-20-4 5-3-5-2 12-3-1-1-3-1-2-6 2-3 14-4-20-5 12-1 8-2-21-2 12 0-1-1-7 0-1-6 8-1 2-1 4-1-18-2 11-5-1 0 7 0-10 0 3-3 12-2-21-7-2-1 12-1-12-6 19-1-4-1-8 0 14-1 3-2-17-9 1-6 2-6 13-4-10-1 8-6-9-2 9-4-5-3-14-3 6-3 15-1-21-3 9-1 3-5-8-13-6 0 4 0 10 0-10-13 20-10-6-16-31 44 11 2-2 15-1 4-18 5 9 4 11 1-2 2-2 0 2 3 3 6-17 10 2 1 2 1-4 15 15 0 2 1-20 0 6 3-5 3 2 2 5 1 12 7 1 2-13 1-1 5 14 2-6 1-6 2-5 0 16 5-21 5 1 3 4 0 14 0-8 10 4 3-6 1 9 4-15 7-1 0 11 16-12 6-3 9 14 7-6 22 6 77-8-76-12-11-12-25 2-19 11-11-20-15 5-1 2-5 8-2-7-1 14-13-22-5 16 0 0-13-13-3 9 0-11 0 20-1 2-4-12-1 6-11-2-16 2-10-7-6-1-31 12-5-7 2-17 10-7 16 2 1-14 15 18 1-15 0 6 13-9 1 10 13 7 4-3 2-14 10 10 9 8 0-3 2 4 9-10 9 10 9-18 11 18 4 1 8-14 2 9 3 1 0-18 4 18 26-40-14 18-31-19-13 4-42 6-75-35 37 12 17 8 70-6 1-14 78-22-243 17 146 15-18-8-141 34 57-4 22 14 2-6 11-9 2 15 0-8 10-10 10 16 1-3 17 5 10-16 10 8 73 11 0 18-13-5-36 7-17-16-4-4-6 19-9-8-1-9-11 20-40-18-1 8-6 5-73 13 45 6 12-12 5 19 1 3 1-9 4-3 32 0 2 11 4-11 4 1 0 11 1-16 6 11 6-18 4 5 1 17 6 2 1-16 5-4 11 12 3-2 1 10 4-15 9 15 1-6 4 5 3-1 3-3 5-14 14-2 3 13 13-4 25 9 40 6-46 7-6-7-2 18-11-7 0 7-23 0-2-15-1 6-2-1-2 2-7 1-3-1-2-2-1 7-1-1 0 3-1-14-3 9-16 4-3-1-3-6-4 13-1-24-1 20-1 1-1-5 0-3-2 0-2 5-5-13-1 0 0 18 0-1-4-13-3-9-1 10 0-8-5 4-2 10-2 1 0 7-6-11-2 8-3-7-1-11-7-1-2-1-2 0-10 22-5-14-7-2-10 14-4-20-14 1-11 17-21 27 5-14 21 12 11-1 0 1 19-12 7 17 1-24 12 15 11-13 2 13 2 1 0 4 1-17 6 16 1-9 1 10 1 3 3-21 2 5 1 17 1-1 0-20 0 18 1-19 2 19 5-6 0-14 0 10 2-5 1-4 2 5 0 8 0-11 4 16 0-15 4 19 5-19 1 18 2-19 5 20 2-3 2-11 3-6 0 14 0-4 2-11 0 1 0 5 2-1 0 9 1-15 2 1 3 14 0-11 2 9 2-3 0-9 1 3 0 12 1-7 5 10 8-16 1 18 1-11 0 12 0-14 8 8 1-11 0 17 6-9 20 8 4-21 43 9 0-10-37 42-10 1 0-12-15-4-4 21 0-11-2-9 0-1-4 15-2-5-11-5 0 16-1-3-8-19-6 21 0-2-1-21-4 3-1 20-3 1-1-19-1 4-2-6-2 21-1-2-2-3 0 2-2-11-1 12 0-14-3 7-1 2-2 4-4 3 0-5-1-3-2-4-1-2-1-9-3 12-1 11-4-23 0 13-2-2-2 3 0-11-2 4-3 11-1-4-2-2 0-13-1 23 0-22-3 9-1-8-3-2-1 16-1-2-5-6-6 11-1-17-4 10-1 1-2-5-1 15-3-19 0-3-6 18-1-1-5-12-3 6-3 9-3-1-14 3-5-16-1 11-46-18 58 48 16-14 2 15 20-8 1-7 2-1 1 4 1 10 1-7 3-9 1 17 2-2 1-2 8-6 1-13 2 8 3 13 2-3 0-12 1-4 1 10 1 11 1-5 3-15 0 16 3 1 1-3 1-8 2-2 0 10 1 1 1-12 2-2 0-4 0 12 3-7 2 7 3-8 3 5 4 1 1 11 4 1 4-15 3 11 2-3 0 1 3-13 5 11 9-10 2-2 2 9 1-10 5 8 0 2 1 11 2-21 6 3 2 0 5 15 3-6 0-3 5 11 6-9 21 7 4-8 2 8 23-15-3 34-45 7-9-3-3-17 0 4-13-1-1-2-1 11-10-1-4 12-5-20-2 4-4 3-1 14-2-14 0 13-5-20-1-3-2 24-5-16-1-3-8 9 0-10-1 1-2-5-3 9-1 13-2 0 0-17-5 5-2 8-1-6 0 7-1-4-4-15-8 10-1 1-1 10-4-3-2 1-5 1-3-11-1 9-2-16-1 8-1-7-1 7-3-3-1-1 0-5-2 23-5-7-3-8-2 0-1 14-4-12-4-1-15 6-5-6-14-2-6 8-31-15 34 28 11 5 20-9 10 16 6-15 1 16 5 1 0-5 11 6 8-19 10 4 5-1 13 13 3 4 9-16 1 11 5-8 1 14 11 0 6-8 4 7 3-14 1 0 6-2 15 18 4-17 3 10 1-1 2-12 1 0 1 7 1 4 0-11 4 7 8 5 8 7 32 9-31-2-26 9-5 9 0-14-29-2-17 4-5 11-2-15-9 17-3-20-5 0-4 3-29 11-21-3-7-11-1 14-32-16-68 0 111 27 1 9 8 8 65-11 2-8 29 21 13 11-25 2-93-8 2 27 89-3-145 9 65-30 51-4 6 0 4 5 12 7 64-20-87-13-3-1-3 10-31 8-39-21-25 0-11 1 69-15 6-6 1 3 32 7 13-13 21 17 5-14 22 15 6-2 16-2 2-15 13-17-6-7-22 17 0 3-5-14-12-6-4-2-3 19-3-12-26-2-1 8-1-8-10 16-17 1-2-2-1-12-1 6 0-11-1 18 0-10-3-8-9 12-6-15-5 15-3-10-14 3-15 1-11 1-9-9-30 10 24-22 11-12 20 10 1 12 0-9 10-1 6-12 12 20 4-1 1-17 3 10 1-1 2-10 2 13 1 2 3-3 0-13 4 0 1 22 1-7 0 2 7 4 1-10 2 0 0 7 3-1 2-13 0 10 0-5 2 3 0 8 3-22 1 22 2-20 1 12 2 10 1-11 2 1 0-13 4 4 3 13 0-8 8 14 5-19 3-3 4 16 6 2 1 1 0-1 2-9 9-7 6 10 6-12 3 9 11-4 7 1 0 13 12-15 25-18-31-7-17 12-1-3-14 4-3-12-1 17-1-20-7-1-9 19-1-22-3 8-4-3-2-2-1 20-4-6-1-14-4 16-1-6-2 10-2-22-1 9-2 4-2-4-1 12-7-9-3-8 0-3-1 20 0-22 0 7-1 9-2-4 0-12 0 19-2 0-1-5-2 2-1-13-1 1 0 13 0-2 0-10-2 7-1-12-2 19-1 4 0-9-1 7-1-19-6 15-2-16-1 13-1-10-1-4 0 2-5 3-2-5-3 6-1 17 0-6-1-5-9 6-5-10-5-6-3 13-9 0-2-8 0 1-1 10 0-12-2 8-1 8-1-11-7 12-1-13-9 7-8 0-2 2-43-11-6 6-17-4 19-30 2 8 29-9 2-1 31 0 8 18 5 3 17-2 0-8 6 0 3-2 0-8 3 12 1-7 3 4 1 7 4-6 4-3 0-9 2 21 4-10 5 8 1 3 1-20 1 3 1-2 2 3 2 11 1-14 3 19 0-13 1 7 7-2 4 7 1-12 3 11 0 1 1-21 1 9 2 7 1-11 2 17 0-3 7-7 1-9 0 12 1-8 9 13 5-2 0-18 4 0 1 19 2-17 2-3 1 23 1-9 0-12 4 21 0-1 1-6 5-10 2-2 1 10 2-3 14-2 3-8 30 3 15-3 2 21 9-46-28 8-1 1-19 0-3 12-1-5-3 2-3-5-1 8 0-10-2 1-1-2-6-10-6 16-3 6-2-19-1 6-3 1-7-4 0 7-8-10 0 8 0 2 0 9-1-23-1 9 0-7 0 17 0-11-1 11-1 2-1-4 0 6-3-24-2 3-1 5-1 16-4-7-2-12 0 8-5-3-1-5-2 19-2-15-1 5-3-8-2 4-2-4-2 14-2-4-1 4 0-7 0-13-1 5-5 14-1-3-1-4 0-12 0 24-1-19-1 17 0-22-1 18-1-6-2-2-6-6-1 19-1-14 0-7-2-1 0 21-3 1-1-4-1 2 0-10-5-5-4 13-1-18-3 20-1-12-1 7-5 6-12-7-21-4-3-4-8 14-21-6-10 4-10-7-34-34 23-1 41 17 20-15 4 11 4-13 9 0 7 16 1-10 2-4 5 10 3 9 1-18 0-3 7 16 0-15 3 11 5-12 3 17 1 1 0-4 2-7 3 6 4-2 2-3 5 10 2 0 3 4 1-8 5-8 0 8 0 7 1-8 4-8 2 2 1 2 1 11 1-10 3 6 1-10 5 3 1 1 4 6 3-18 0 8 5-7 2 22 4-4 12 3 1-16 4 18 0-2 6-5 2-2 4-8 5 7 5-6 4 8 3-13 11 18 7-4 9-17 3 24 26-43-44 13-26 4-2-1-4-5-2 7-16-18-1 7-2 8-8-5-15-10-8 3-4-2-6 16-7-16-7-7-8 7-2-6-2 16-3 4-19-14-1 15-70-21-22 1 45-9 40-12 16 13 3 2 10-12 8 14 6-14 15 7 5-10 3 12 6-7 8-9 1 11 1 11 18-1 30 1-17-34-62 9-28-17-34 7-3 6-14-22 47 1 43-31-37-25" marker-start="url(#b)" marker-mid="url(#b)" marker-end="url(#b)"/>
<path d="M1746 2018l216-12-144 22-4 7-33 33 87-2 19-15 4 23 38 14-14 9-3-9-15 9-20-5-15-12-3 18-20-20-8 16-6-6-3 11-10-12-2 1-19 9-21-16-27 16-3 15 3 12 12-13 22 1 8-6 10-6 14 10 4 2 9 3 3-11 2 18 7-16 6 5 2 9 6 2 0-10 1-5 9 15 1-13 10-9 7 0 1 0 6 23 4-16 15 17 12-1 13-15 34 8 65-15 0 36-72 11-12-12-10-6-1-3 0 20-5-2-1 2-15-11-6 7-2-13-1-2-4 6-20 9 0-1-5-5-1 2-1-2-1-8-1 16-12-6 0-14-2 8-7 11-4 4-1-19-4 6-5 7-3-1-5-8-5-1-4 15-2-11 0-8-1 7-11 2-6 1-2 7-3-18-18 8-10-6-42 1-6 2-10 3 8 35 28-20 1 0 9 23 9-9 12-2 7-10 7 13 8-14 0 22 3-10 2-1 1 4 2 3 7 0 0-8 2 4 1 1 4-15 3 13 1-14 0 5 0-1 1-1 6-1 3 13 1 3 1 1 3-12 0 7 1 10 2-12 1-5 0 2 1-5 7 19 5-5 3-9 0-8 0 11 2 11 4-13 2-7 3 9 3 2 1 1 2-11 5 7 2-4 12-4 1 2 0 15 1-2 2-11 9 0 1 5 4-5 1-1 11 1 8 7 8 4 5 6 5-3 6-15 16 16 1-20 4 7 0 11 1-12 18 14 39 7-42 13-14-10-1 13-1-4-22-14-7 2-2 3 0 14 0-9-6 6-11-1-1 2-12-7 0 12-8-15-2 15-1-1-2-3-1-18 0 5-1 3-3-4 0 3-1 1-1 7-1 3-2-2-1 6-6-10-1-3-5-10 0 2 0 16-3-15-3 12-1 0 0-8-1-7-1 20-1-2-2-15 0 7-1-4-1-5 0 7-1-6-2 7-6 7-3-14 0 4 0 4-3 0-1-7-1 5 0 3-2-10-3 11-1 10 0-23 0 11-4 7-2 4-1-3-1-5-2-6 0 15-2-3-2 3-2-12-1 11 0-20-1 22 0-11-3-11-1 0-2 3-2 6-2 8-10-13-1-2-3 9-26 5 0 3-5-19-9 21-1-10-1 10-1-2-2-16-3 11-4-15-17 15-3-3-37 6 1 25 33-10 4-1 0-4 9 20 1-21 23 5 2 2 11 6 3 7 5-15 6 13 1-16 0 11 0-9 4 7 2-5 3 4 1-4 2 5 1-7 1 4 2 4 3 1 0-16 1 16 0-4 5 3 3-13 0 16 0-12 1 6 0-10 7 15 1 3 0-14 0 11 3-6 0 0 1 12 2-7 8-9 1-6 3 1 2 6 1-6 2 8 11 5 0 1 1-13 1-3 6 12 1-9 0 19 1-3 1-3 1 8 4-3 0-21 0 19 5-14 2 7 3-4 2 13 3-17 0 3 3-7 0 7 1 6 3-1 2 3 1-11 4 9 4-3 0 0 9 10 5-1 0-13 33 11 8 4 7 1 11-2 32 16-25-3-26 15-4-14-3 4-10-10-1 10-8-8-9 2-5 11-1-13-4 14-11 2-5-4-1-17 0 24-4-12-5 12 0-12-2-12-6 0-5 5-5 8-14-11 0 17-5 4-3-11 0 4-1-2-2-7 0-1-3 7-5-5-6 3-2 0-6 8-2 5-1-3-11-14-1-5-3 9-4 3-1-1-3 7-4-7-2 8-3-20 0 4-6 6-1-7-29 2-52 20 88-1 12 20 8-12 0 8 17-7 8 2 1 9 4-12 0 13 2-4 1-1 3-11 3 2 4 6 2-4 3-5 4 18 1-10 1-1 1-3 9 2 1 13 7-3 7-9 1 0 0 5 1-7 0-4 11 18 4-13 5 7 3 3 22-3 1-13 4 4 1 1 4 8 8-7 11-4 35 5-86 32-2 4-8-15-17 7-2-8-4 18 0-19-10 10-17-10-6-5-15 15-13-3-7 3-14-12-12-3-23 17-2-6-33 16 77 20 7-3 4-1 10-13 7 14 6-14 1-4 7 5 26 6 1 10 41-8-5 17-32 3-58 0 3 86 10-67-22-20 9-7 67 6 118-18-82 6-20-11-32 7-3-8-2-8-7 11-20-4-16 9-1-6-5 2-23-11-25 20-2-41 16-2 9 0 24 0 13 5 3 5 14 0 2-1 0 1 1 9 1-20 4 11 12 10 0-21 16 17 0 0 12 0 4 0 12 1 70-5 18-18-9-8-56 8-13-20-5 17-4-1-17-15-7 13-2 5 0-12-2-8-3 14-13 4-1 5-3-6-1-12-4 7-8-9-1 0-2 12-9-7 0-9-3 19-5-5-6-8-5-4-10 21-1-12-2-10-7 22-3-20-2 11-10 0-10 0-7-5-9-2-8 17-5-18-33-9 38-20 5-1 3 0 9 7 3 3 11-1 6-7 2 16 2 1 6 4 4-18 1 3 2 9 9-16 0 11 2 5 2-5 4-2 3 1 4-4 8-4 0 4 0-6 5 21 0 1 1-15 0 1 3 12 4-17 0 1 3 13 0-2 3-12 3 19 2-17 1-5 2 3 1-1 5 18 1-9 0-8 6 8 0-3 0 11 3-3 4-11 0-4 2 0 0 4 14 17 3-9 6-1 3-2 5-12 0 21 25-3 6-4 14-8 1 9 13-28-5 1-7-3-21 0-3 3-18 0-4-11-7 9-12 6-3-7-1 3-1 1-2 3-2-13-2 3-1 2-2-8-1 23-1-22-3 9 0 6 0-17 0 7-1 0 0-3-1 15-1 0 0-14-7 3-1 2-2 13 0-16-7-3-1 9 0 4-2-11 0 11-3 0-3-12-4 4-1 9 0-13-5 18-4-20-3 18 0 2-2-2-6-21-25 21-1 2-3-8-4 7-5 2-2-8-9-5-4-7-3 14-6-13-2 7-1-6-6 2-26 2-1 12-28-5-50 6 40-27 43-3 2-16 19 14 3-15 9 16 8 5 6-17 7 8 6-4 4 2 1-10 10 8 0-4 4-2 7 7 2-10 1 24 1-11 0-10 1 4 1-5 2 20 7-9 2 4 2-7 2-1 1 7 0 7 2-4 2 4 1-1 2 0 3-14 3-2 1 3 2-4 2 3 2-5 1 18 3-2 1 0 2-9 0 13 1-13 0 6 2-11 6 3 9-6 6 9 6 8 8-19 8 13 11-4 1-2 1 9 7-11 10-4 10 1 16 8 9 9 4-12 8 11 8-5 3-5 50-1-73-24-5 12-23-3-5-10-3 7-2 5-9-17-15 1-8 18-2-4 0-11-2-3-8 8-3-3-1 15-3-12 0-11-9 17 0-7-1-9-3 2-3 21-4-1 0-1-1-19-2 7-2-7 0 3-1 14-2-16-1-1-3 16 0-18-2 8 0 0-4 12 0-7-2 5-3-4-4-4-1 8-2-17-1 7-1 14-1-9 0-3-1 10-2-15-1 1-2 6 0-4-2 14-6-13-3-2-1 8-1-5-5 9-1-16-4 9 0-9 0 8-1-12-2 24-15-14-4-7-3-1-1 16 0-12-3 16 0-9-5 2-2-14-2 2-7 5-2 14-16-6-2-5-5 12-17-18 7-28 5 13 0-9 14 13 36-8 1 12 9-18 2 18 0-3 2-1 4-11 10 15 1-5 1 1 4-13 1 10 4-4 1 6 1 3 0-18 1 5 3 1 6 15 1-13 4 5 2 6 2-21 6 11 0 11 1-4 1-2 0-12 3 17 3-10 7-4 1 10 0-1 2-8 0 10 0-6 8-10 0-2 3 16 6-8 3 12 8-2 4 0 5 3 1-5 2 5 7 1 8-17 2 7 4 8 0-1 1-17 4 6 2 8 22-6 4 0-56-19-9 6-7-1-6-3-3-7-10-7-3 11-8-7-1 8-12 6-2-14-2 9-1-7-14 12 0-8-2-12-6 20 0-7-6 2 0-2-13-6-3 12-3-11-16-3-10-1-64-13 30-4 49-5 5-1 14 7 12 5 9 2 0-20 9 1 7 11 16-11 17 9 4 6 8-15 0 8 14 11 4-17 1 8 1-3 5 10 0 0 5-17 56 14-33-23-17-4-15-1-30 5-14-7-28 2-18 5-43 0-58-26 64 4 0-12 3-8 19 10 38-8 22-37-9 25 69 30-98-11-14 0-49 26 24-4 9 7 2 4 10 1 4-6 66-4 60 4 20 4-7 6-35 22-22-21 0 5-18 17-6-17-2 18-7-13-3 8-3 5-5-13-10-2-29 15-7-23-1 21-30-9-20 2 0 8-7-13 13 18 26 16 12-15 6 5 1-2 0 6 4-4 0-9 3 16 12 3 1-11 9 3 6 4 0-8 0 1 1 13 8-5 0-1 5 7 1-8 2 9 23-10 0 7 1-10 21 14 16-15 5-1 27 16 32-17 28 12-7 9-14 4-18-5-16 17-14-5-3-14-3 8-6 8-4-5-1-4-11 8-4 6-7-3-7 6-1-11-3-8-5 9-2-4-2-10-8 20-1-10 0 14-2-3-1 0-3-11-1 8 0-2-4 8-6-9-4 2-4-5-4 10-11-9 0-3 0 13-2-14-6 15 0-7-3-6 0-5-2-2-1 10-8 3-1-2-3-6-8 11-8 3-5-5-8-1-2-11-1 1-1 14-9 2-8-10-54-5 3 22 33 14 13-12 8-3 8 11 1-8 2 9 4-13 5 2 5-4 7 7 3 6 3 8 3-14 2-6 1 14 3 0 2-4 6-11 0 21 0-10 2-2 2-5 0 19 1-1 4-19 2 5 1 15 1-3 0 0 1-10 0-1 2 5 1 2 3-12 1 12 1 5 2-2 5 1 5-17 3 14 6-2 0-7 0 6 4-3 0-3 1-5 0 16 2-11 1 1 4 2 1 4 0-16 2 3 1 5 2 7 8-10 2-4 4 11 6 3 2 5 0-9 4-9 1 21 1-6 10-11 2 8 12-13 13-1 20 2 4 6 16-4 7 18-3 20-17-3-8 6-13-20-6 22-2-8 0 10-10-17 0 3-2 6 0 3-4-14-4 11-1-14-9 0 0 22-1-6-4-2 0-8-1 1-2 11-1-13-9 7-2-3 0 2-3-6-9 17-3-11 0 5-1 3 0-3-2-12 0 7 0-11-2 0-4 20-2-7-1 7-1-2-2-9-2 2 0 9 0-7 0 4-2 1-1-10-3 12-5-19-1 0-3 17-2-14-1 13-5-18 0 6-1-2-5 1-6 4-12 10-1 2-4-18-4 3-3 2-3-1-3 5-1-10 0-2-2 14-2-3-6-8-5 20 0-9-1-12-3 12-10 3-9-4-2 5-13 4-8-13-3 2-25-2 22 32 29-6 2-10 11-1 1 19 1-18 4 7 7-8 3 5 3 0 2 16 2-3 1-5 1 3 9-1 1-3 4 12 3-20 5 10 0 6 5-11 4 1 2 7 1-15 3 0 1-1 1-1 1 22 5-10 0-4 2 0 1 13 9-6 1-1 2-8 1 3 0 9 1 2 2-15 3 10 0 3 2 6 2-4 0-12 1 15 0-13 3 1 3-3 1 4 0 4 0 5 3-5 4-10 0-3 6 17 0-13 3 11 1 6 1-11 2 11 1-4 0-18 1 20 3-1 3-16 1 18 1-22 6 18 2 0 0-17 1 4 1 8 1-3 1 1 0-6 0 15 1 1 7-16 3 16 1-13 6 3 2 2 10-3 8 2 14-4 7 8 0-16 0 30-51 9-3-15 0 24-10-7-6 0-1-15 0 6-6 5-1 0-4-6-2 1 0 6-1 2-1-13 0 21-5-2-3 0 0-18-5-4-5 0-1 20-1-2-1-18-24 24 0-15-3 4-1 8 0-16-3 8-7 5-2-6-3 5-6-14-9 2-9 11 0-5-2 8-9-19-9 2-36 1-69-1 80 38 42 7 11-8 1 1 3-15 2 4 2 0 5 11 3-10 1-2 6 10 1-5 2 5 6-6 3-3 14 12 5-15 1 0 1-1 6 10 7-8 5 4 10 15 4-12 1-4 23 18 5-4 12-12 2-3 0 14 17-16 18 4 30 20-66 15-7 5-7-5 0-9-17 11-14-1-6-3-5-7-10-5-16 12-2 4-21-6-2-4-8-8 0 1-1-1-8 13-1-3-12-8-2 27 20 4 21 15 19-9 1-7 2 7 14-7 19 5 33-7 3 7-75 33-10-17-42 4-8 19 25 5 65 55-63-86 20 12 15-12 18 1 109-10-7-4-48 7-58 2 0-16-13-5 0 9-15-7-8 22-23-8-58-14 47-26 23 11 24-9 4 11 19 9 5-6 2 4 5-21 3 12 0 11 1-18 1-5 21 12 3-3 1 4 21-3 15 10-2-37-5 2-1 5-2-10-18 10-18-5-1-7 0 7-21-9-3 4-5 14-10-5-3 1-1 9-2-23-4 21-2-15-6 12-3-16-5-1-1 8-3 6-7 5-1 1-2-10-11 9-1-18-1 1 0 16-10 1 0-6-16-13-5 0-4 6-2 1-3-2-7 6-91-22 57-3 6 11 2-7 5-17 17 3 4 14 7-15 4 13 19-8 5-6 1 9 9 4 11-8 2 10 3 0 2-2 1-4 7 1 9-3 3 13 3-7 2 9 1-4 6-9 3-7 7 12 0-11 6 20 0-24 0 4 9 1 3 7 1-4 3 13 2-3 5-13 1 7 8 2 5 7 8-12 3 8 5-11 5 17 12-9 15-12 1 19 9-14 4 16 3-15 38 11-4-26-1-13-3 17-41-16-5 4-8-2-2-5-9 5-8 2-5 7-5 2 0-11-18-7-8 13-3 3-2-16 0 2-1 3-3 13-1-7 0-3-3 1-3 1 0 1-4-8-3-4 0 1 0 16-4-2-7-14 0 2 0 16-2-19-2 0-2 4-1 8-7 0-5 8-8-6 0 8 0-17-1-1-2 18-1-22 0 7-5 11-3 4-1-8-1 10-2-22-1 9-3-5-6 13-2 1-1-1-1-14-2 5 0-7-11 11-2 4-15-4-2-11-1 0-3 2-10 1 0 18-3-20-7 9-10 4-10-15-12 12 25-37 8 9 11 1 1 9 6-6 10 7 2-3 0-15 3 18 10-22 5 9 1 3 4 11 0-13 2 2 6 9 2-13 3 0 3 8 4-10 0-3 4-2 5 22 2-11 3-3 2 14 3 1 3-4 2-10 0-4 6 16 0-8 0 1 4 8 1 1 5-5 3-7 1-5 0 12 1-1 1-3 2-7 0-8 1 14 5-8 1-5 4 11 4 4 5-2 0 9 2-8 1 5 1-8 6-2 1-7 0 5 0-5 1 4 1 9 1 2 2-6 1-10 4 1 11-3 2 6 2 15 0-16 4-2 7 3 2-5 22 21 24-5-3-40-9 1-12 2-4 9-6-13-1 15-5-7-8 1-13 5-1-11-3-3-1 4-2 10-3 2-1-6-2-2-3 10 0-16-7 10 0 11-3 0-1-7-2-5-2 12-3-21-1 2 0 16-9 3-2-24 0 1-1 17 0-3 0 4-3-14-1 12-1 3-2-18 0 2-1-2-1 10-1 3-2 8-1-18 0-1-1-4-8 9-1 15-1-4-3-7-2 1 0 7-2 1-2-20-1 14-3 8-1 0-1 0-8-4-1-6-1-13-6 9 0 5-2-15-1 24-1-12-4 0-2-3-1 11 0-5-11-12-21 2-21 5-24 9-24-35 32 12 20-9 10 0 3-9 14 8 2-1 5 0 1-3 2 11 4-12 1 13 1-6 0 1 5-7 0-7 1 4 1 17 1-8 3-5 3-8 3 2 2 16 5-15 0 12 3 1 1 3 0-3 1 1 2-1 7 8 4-14 0 14 2-24 0 16 1 2 2 6 1-11 3-10 0 18 2-16 3 19 1-7 0 7 4-1 3-7 1-6 2 13 7-1 2 0 1-9 0-10 1 4 5 3 3-10 5 19 6-19 1 11 2 6 14-17 8 19 20 5 9-18 21-1 5 15-48-28-9 4-2-12-7-5-1 6-3-3-2 13-1-6 0-8-7 12-1-4-4-7-9-4-3 10-7-9-10 16-3 0 0-7-10 9-16-21-7 2-4 19-11 1-5-11-3 5-5-14-3 15-1-16-10 16-14-6-11 9-1-1-12-6-40-9 23-16 30 6 23-14 15-5 4 20 2-5 4 2 3 5 18-2 2 1 6-18 1 14 9-8 12 4 5-5 35-1 4 16 7-3 2-14 4-1 1 3 5 5-9-35-45 9-10 11 0-2-21-16-9 4-20-2-36-1-15 7 94-20 52-7-52-49 14 24 29 20-70 17-64-16 37 20 30 16 10-12 9-1 12 8 7 10 57-1 24 20-33-14-18 13-7 1-13-9-1 14-7-3-1-8-21 12-16-20-3 18-10-5-1-5-23 1-17 3-3 1-39 18 20 1 22 3 1-12 5 16 11-10 3 13 26-2 3-19 2 14 5-6 1 13 1-18 1 17 1 2 2-20 12 19 7-8 2-7 1 2 4 10 8-5 2-4 5 12 0 3 1-24 6 13 4-13 3 20 7-1 6-12 22-7 26 21 2-11 3 6 13 8 15-19 15-4-11 42-2 5-24-22-15 8-19 11-9-11-7-7-4 6-16 6-8-2-6-6-3-4-3 7-4 10-1-8 0 6-2-17-8 11-4-11-1 23-1-7-2-5-2 10-3-3-3-10-5 15-5-3-4-13-1 8-7-10-2 13-1-12-6 13-3 5-6-8-4 1-1-7 0 1-2-10-3 11-2 12-2-13-9 4-5 4-7-8-10-1-2 2-21 5-7 30 1-6 9-13 5 21 4-9 3-14 4 9 18-1 1 3 14 0 0-9 0 6 2 12 4-13 0-8 0 22 5-15 2 5 3 4 0 8 1-11 6-11 0 17 4 0 8 0 0 0 1-6 1-9 3 20 1-20 2 4 0-2 0 13 1 0 8 2 6-11 4-6 0 2 4 0 2 6 1 9 3-3 1-5 4 8 2-15 1 6 1-4 2 5 1-12 7 15 5-1 0 3 2-3 4-7 1 2 2 6 1-12 0 6 8-7 0 3 4 8 0-14 2 12 1 2 0 7 1 1 1-2 7 4 2-9 9 3 7 5 2-14 17 8 24 0-26 32-13-8 0 4-11 0-2-4-8-15-5 6-4 8-4-3-2-1-4 11 0-22-4 6-1 12-3 2-2-13-5 7-5-10-2 11-3-4-3 5-1 3 0-5-4 7-2 0 0-4-1-4 0-6-2 6 0-8-2 16-1-19 0 1-3-1-1 22-1-12-3 8 0-15-3 5-1 5-2-2-3 2-1-9-1 15-5-19 0 10-2 5 0 6-3-6-10-7 0 6 0-12-1 9 0-5-2 11-3-5-4-5-3 9-1-17-1 17-7-16 0 3-1 12-6-11-1-4-3 9-3 8-10 1-4-12 0 4-13 2-2-2-3-6-22 15 3 12 17 1 25 9 7 6 2-13 9 8 1-19 3 15 3-6 1-8 2 22 4-20 1 5 5 3 0 1 0-11 2 22 3-19 3 2 1 4 0 2 3 5 1-1 0-4 1 1 1-4 2 9 0 3 3-16 2 9 1 5 3-7 2 12 0-17 1-7 1 11 3 4 0-15 4 7 0 10 5-12 0 14 2-18 3 0 2 7 0-3 1 2 4 8 2-9 1 8 1-8 2 18 0-3 2-11 1 6 0-15 1 8 3 5 0-1 2-4 0 5 3-14 1 3 3 3 1 8 11 5 4-4 1-6 1 0 2 3 16-8 5 4 2 3 35 10 18-13 4 14 11 13-5 8-21-18-3 8-20 9-14-5-6-9 0 10-1-8 0 16-2-10-1-2-4 12-1-13-3-3-9 18-8-6-2-15-9 17 0-9-1-7-2 1-5 13 0 5-5 0 0-13-1 3 0-4-5-6-1 7-2 8-5-1-5-16-1 11 0 7-3-3-2 8-2-18-4-4-1 0-2 10-6-8-7 9-3 10-1-3-6-16-1 9-4-9-3 16-4-3-2-14 0 11-1-5-4-4-4-2-4 10-1 8-1-5-4-7-12 6-5 0-2-7-12 14-2-7-6-8 0 6-2 13 12 16 1 6 12-15 12-3 5 1 16 12 1-11 4 11 1-9 0-3 1 2 2 13 13-19 15 3 7 18 2-21 12 7 2 4 1 2 1-13 4 7 10-3 2-4 7 20 2-16 11 9 17-3 2 11 4-3 3-1 16-9 10 11 2-2 10 10-9 19-80-22-10 5-2 10-14-8 0 13-7-20-8 16-7-9-5 2-10 7-20 2-5-15-42 6-18-9 52 36 99 10 1-11 2 8 16-11 7 5 3 5 39 17-39-9-20 6-134 4 2 24 119-9 40 10-157-34 27 0 9 13 31-10 3 2 44 6 29 4 37 2-54-22-8-21-5 11-5-1-1 9-23-6-21 3-17-13-5 11-29 3-10-22 23-18 1 14 16 4 3 0 14-6 17-3 15-8 15 4 5 5 3 8 7-18 9 6 31-5 11 17 26-6 8-18-13-9-14 8-1-6-3 8-2-19-15 11-1-14-2 13 0-8-2 4-2-4-1 16-3-21-8 11-6-4-9-3-1 19-2-11-1 8-1 4-4-4 0-4-17-7-8 5-3-13-9 16 0 1-15-9-11 15-6-13-3 9-13-10-2-7-9 17-15 3 0-1-16-14-6 12-22-35 20 6 9-14 1 6 0-7 17 0 10 11 10 2 1 0 4 8 2-4 4-14 2 5 9 1 1-2 2 15 7-7 2 4 0-1 1 0 2-1 1-5 0 10 5 1 1-14 2 4 1 4 4 4 2-20 3 5 1 7 6 5 0-6 1 3 1 3 1 1 5 1 0-21 6 11 10-10 1 19 1 0 5-4 0-12 2 7 0-6 3-3 3 8 5 4 1-2 3-7 4-5 2 4 7-4 5 3 0-1 6 18 8 1 14-8 6-9 22-1 11 19 13-17-8-23-20 6-1-3-18 12-6-15-5 16-14-4-3-7-5-10-4 5-2 0-9-7-1 1-1 3-3 17-9-17-1 11 0-15-3 8-1-3-1-1-3 17-5-10-5-11 0 7-6-5-1-1-1 18-6-12 0 1-1 1-1-7 0 19-3 2-1-15-2 4-1-8-2 15 0-3-4-2-2-8 0-1-4 6-2 10-3-3-3-6-7-3-1 10-1-1-3 5-3 1-3-5-9-19 0 18-5-11-11-1-2-5-3 5 0-6-3 2-40 17 0-2-13-4-2-28 35-5 9 19 2 0 3-17 2-2 14 8 4-10 6 10 5-3 6 13 0-11 0 1 7 3 4-10 0-1 3 9 5-3 3 9 1 1 4-19 2 6 5 7 1-12 5 11 2-12 1 5 3-1 1-4 2-2 0 14 0-10 0 15 2-3 0-16 2 19 0-17 1 8 1-9 3 0 1 18 0-16 4 21 0-20 2 20 1-20 1 1 3 0 1 17 0-13 2 5 4-12 2 16 2-13 0 10 1-11 4 14 2-15 4-2 2 19 4 2 2-8 8 0 18 0 11 3 0-6 3-2 1 1 4-2 12 3 5 5 4-8 8 5 27 9 36 2-56-27-5-11-19 2-24-11-9 11-9-11-4 18-1-3-2-2-3 4-4-13-11 17-2-7-2 3-4-1-1-4 0-11-1 16-1-11 0 8 0-9-3 0-1 16-1-9-5 10-2-18-1 0 0 18-1-17-1-1-1 10-6-6 0 9-1-10-1 14 0-8-5-7 0-1-1-7 0 6-1 17-3-7 0-15-2 2-3 17-1-8 0-9-4 13-5-8 0 3-4 13 0-18-1 13-5-16 0 5-2 16 0 0-2-2 0-1-5 1-1-1-10-6-1-10-7 17-2-9-4 10 0-19-5-1 0 12-3-1-2 5-5 2-4-5-6 4-16-7-2 3-27-38 10 19 11-1 5-15 7 11 3 7 8-4 8-13 9-5 10 0 0 7 2 9 3-15 9 8 2 10 7-13 9 3 3-3 1 4 0 1 5-11 2 3 0 0 0 15 4-12 4 11 1 1 5-12 1 15 1-10 1 1 2 7 0 1 5-3 5-1 2-5 1-13 2 8 0 5 1 1 1-1 4 11 0-14 3-6 0 11 4 9 1-17 0 2 8 5 3 1 1-1 3 1 9-11 1-2 1 10 8-10 1 18 0-11 4-3 0 3 3 1 1 4 7-7 6 5 4 10 31-5-27-20-19-1-7-15-4-2-3 0-2-2-9 9-6-6-18 16-4-9-1 4-18-2-2-10-11 15-5-14-6 5-6 8-9-13 0 17-7-2-23-19-6 17-25 3 12-43 16 21 18-11 4 0 17-7 3-3 1 20 0-5 6 1 14-17 17 11 32 9 2-10 1 7 11-4 10-13 3 11 9-9 49 6-115-35-32 24-61-19-11 15-12-6 0 4 86-19 2-1 74-38-69-6 36 38-33-2-62 24 14-11 13 18 8 1 34 0 25-7 27-5 59 8 29 27-16-7-23 2-22-6-10 14-41 1-13-23-7 19-1-18-6 19-13 1-17-11-14-3-2-2-9 16 0-13-29 13-36 22 27 0 4-19 12 1 3 12 9-1 1 8 5-13 3 12 2 5 15-2 5-5 2-8 4 11 0-7 3 1 4-7 6-7 4 7 8-6 2 0 4 3 21 18 3-14 7 5 3-2 10-4 5 13 8 4 5-5 9-7 16 11 13-7 62 28-56 1-18-6-10 1-7-8-6-4-11 18-3 1-3-15-11 12-4-5 0 4-4 3-7-15-1 18-5-9-1 3-5 1 0-13-3 14-2-15 0-3-2 11-5 4-2-8-5 10 0-19-1 22-4-5-2-3-1 10-1 0-4-8 0-1-2 3-2-15-11 20-1-10-4-4-12 1 0-2-4-8-1 15-2-11-3 19-4-12-6 4-3-14-5 11-4-2 0 3-102 20 36-1 44 5 16 1 3 1 0 6 6-16 6 1 7 8 11-13 6 19 4-3 0-5 1-1 1 8 0-11 0 7 4 0 1-2 2 3 2 8 2-22 1 10 3 5 2-15 3 23 2-24 4 21 0-4 0 7 5 0 3-8 1-14 2 15 3-3 1 9 0-18 0 19 4-24 0 14 1 10 3-12 1 3 0 8 3-1 2-19 7 12 0 8 2-22 1 2 1 16 1-3 2-16 3 21 1 2 0-22 2 3 0-2 2 19 3 2 0-13 0 2 1 6 1-8 0 3 1 4 0-1 4 5 0-19 1 16 3-2 2 3 0 3 1-9 8 9 0-1 1 1 0 0 3-13 3-5 0 12 6 6 1 1 9-6 2-12 1-5 2 4 25 7 3-9 73 20-68 19-3-8-9-2-10 2-1-4-4 3-4 8-9 4-1-11-1 13-1-12-5 10-12-12-3 15-5-20-7 22 0-14-5-2-3-6-1 9 0-5 0-3-1 4-6 12-1-16-1 9-2 12-1-21-2 9-12-5-2-2-1 14 0-11-2 3-2 5-1 5-3-16-1-1 0 18-2-7 0 3-2 0-2-12-4 9 0-6-1 0-3 3-5 1 0-3-2 9 0-2-2-2-1 4 0-19-5 10 0 10-2 2 0-9 0 2-2 7 0-11-2-7 0 11-3 0 0-1-1 10-8-20-3 9-1 9-1-21-5 8-3-3 0 3 0 6-15-13-14 10-57 19 31 10 11-11 11 1 0 11 5-4 1-1 2 12 2-5 17-12 1 10 2-11 2 0 2 16 5-17 6 14 1-15 11 17 1-14 1-3 1 18 0 0 1-21 0 17 1-15 4 4 1 9 2-1 0-15 9 16 1 4 2-8 2 8 5 1 2-13 0-1 3 12 1-15 0-3 3 0 2 13 1 7 4 1 2-16 1 15 1-21 2 20 1 0 3 3 2-19 4 19 1-13 0 2 12 3 1-5 5 6 1-13 1 16 0-19 0 7 2 2 1-7 1 17 2-3 5 1 2-8 1 2 1 12 10-6 4 1 2-15 20 10 7-12 17 23 4-16 44 4-1 18-17 18-5-10-30 9-28-2-3 4-20-8-2-3-7-13-5 16-12-6-3-7-4 21-1-9-2-5-2-5-3 18-4-22-3 18 0-5-3-1-4-9-1 3-4-5-5-1-6 17-4-12-3 12-3-16-1 13-1-6-4 3-5-8-5 15 0-9-1 0-2 5-5-11 0 20-5-17-2 11-3-16-5 17-3-8-1-8 0 9-4 1-12 11-8-14-121-7 64 30 21 1 29-3 5 0 18-4 4 7 15 6 5-7 1 10 7 0 3 2 0-11 11-5 10 9 2 6 4-9 4 14 8-17 0-4 4 9 20-9 3 2 1 1 4-5 0 4 13 16 12 0 4-2 63-17 31 3-31 31-20 7-13-14-3-4-30 22-12-12-8-5-11 0-15 8-7 0-5-4-14-9-4 16-7-1-1 9-6-24-3 6 0-1-12 14-14-5-8-8-9 16-10-20-5 5-3 10 17 9 15 6 28-5 6 13 4-8 3 14 3-19 15-2 13 0-54 28 139 22-122-20 19-1 6 2 46 1 60 4-46-32-49-3-19 5-12-1-1-5-32 0-1 14-75-31 47-8 18 22 23-19 12 9 2 7 4-8 6-11 7 13 6-8 0 10 0 2 1-2 2-2 9-8 4 2 0-4 4 10 76 3 14-4 21-18-37-5-11-6-21-6-12 8-4 9-5-4-2-11-2 18-3-19-1 3-1 12-4-16-1 2-5 11 0-5-1-6-1 15-7-15-3 16-2-10-7-1-4 2-9-5-3-1-4 6-1-8-1 21-4-23-13 22 0-20-2 0 0 14-8-4-12 6-20-13-12 6-8-11-1-6 0-19 1 23 6-3 13-2 0-15 1 2 6 4 13 8 6 6 4-23 2 7 4 8 6-6 2-6 6 1 5-2 0 7 4 0 5 6 3 5 4-12 2 13 0-19 4 8 2 7 2-12 1 1 1 15 4-8 4-1 1 10 0-18 3 19 7-22 1 8 0-10 2 21 2-21 0 14 3-1 5-6 1 2 1 6 0 4 1 4 3-14 2 9 8 2 11-6 4-9 0 12 26-3 9 5 3-5 3-14 4 20 11-45-2 1-40 15-3-2 0 9-6-3-2 3-1-4 0 3-4-18-4 12-1-10-1 13 0 4 0-20 0 20-7-2 0-2-2-5-4 2 0-11-3 17-1-8-1-11-14 13-3 3-1-17-5 11-2 5-2-10-1 15-4-2-1-15-1-4-5 1-2 0-2 13-4 5-1-20-1 20 0-7-1 2-1-13-2-2-3 18-1 3 0-13-8-8-7 5-4 18-1-17-1 11-8-10-1-8 0 10-1-3-1 7 0 0-2-10-3 8-8-8-3 3-3-6-6 21-2-20-2 11-6-2-2-10-8 9-6-5-19 11-14-11-8 18-3 1 10-37 11 11 9-18 16 17 9-20 3 9 3 5 3-14 7 18 0-6 1-9 9-5 9 4 4 12 0-12 3 20 4-10 1-10 3 16 1-1 1 4 1-10 0-7 1-4 0 11 2 4 3-15 3 15 3-11 1 1 2 2 3 1 1 14 7-21 0 0 4 11 2-8 3-5 2 10 0 6 0 6 1-3 2-8 0 10 6-10 1-1 1-7 1 5 2-6 3-3 0 3 1 18 2-17 0 8 3-1 2-7 1 11 1 3 3-16 5 19 1-6 6-10 7-1 3 8 1-3 6 9 3-6 1-4 2-4 0 20 12-22 3 19 2-8 10 6 14 1 0-13 1-7 5 17 9-2 3-11 5 14-8-32-6 9-10 4-2 0-13-14-18-4-3 6-15 0-2 5-1 2-8-14-3 19-2-5 0-11-2 2-1-10 0 5-2 19-2-4 0-9-1 3 0 5-3-15-1 15 0-18-1 8-2 12-1 0 0-10-2 10-1-8-1 6-3-4-2-6-5-7-3 17 0-15 0 3-1 1-3 1-8 10 0-1 0 0-11-9-1-8 0 4-1 14-1-2-3-4-1-7-1 5-3 6-1 7 0-14-2 4-4 5-1 1-2 0-1-13-1 16 0 0-9-5-2-2-2 0-6-5-4-8-1 12-1 3-1 1-5 2-1 1-2-9-4 3 0 5-1-7 0-12-3 9-6 11-3-20-17 17-38-7 40-28 10-9 6 11 8-5 9 18 0-15 13-7 10 11 5-4 1 11 1-12 2-6 6 9 6 11 5-8 5-10 3 4 1 13 4-1 7 4 10-16 4 8 7 3 0 0 5 1 1 4 5-23 4 2 1 15 5-17 1 3 5 13 3 7 1-23 2 10 0 7 13-10 8-5 16 12 36 0 1-7 16 15 9-20 40 14-102-23-5-19-23 21-5-14-4 1-4-3-4 4-16-7 0 14-2 7-7-21-8 15-1-16-8 4-2 18-2-5-4-5-3 1-1-8-7 4-15 0-4-3-2-6-5 10-14 2 0 7-4-8-5-10-4 15-10-6-2-3-1 2-10 10-28-29 25-10 22 12 14 6 23-4 14-13 1 5 3-5 13 0 30 12 6-3 5-3 22 5 3-7 14-4 23-5 67 15-103-28-55 2-6-3-1 3-23-31 12 14 64-15-35-19-108 8" marker-start="url(#b)" marker-mid="url(#b)" marker-end="url(#b)"/>
<path d="M586 2484l-6 8-44 55-34-13-10 6-44 21 17-2 3 0 32 11 52 3 40-14 26 39-88-14-15-1-25 16-13-22-4 21-10-16-19 17-52-23 44 26 7 9 25 5 1 1 4 6 8-2 13-3 4 5 1-15 4 2 1 14 7 0 10-15 2-7 1 16 2-8 0 3 1 8 10-6 3 0 8-8 6 14 4-16 5 3 2 13 2 1 8-2 13-4 3 8 24-9 16 4-17 21-2-8-6-4-12 2-6 16-5 2-3-12-5-2-2-4-12 13 0-7-2-10-4 23-2-24-1 9-16 9-3-18-3 13-1 11-2-1-3-15-4 14-1 2 0-12-7-1-1 1-8 10-3-7-3 7-1-9 0-9-3 8 0-10-7 20-7-16-3-5-11 18-15-12-5 10-1-2 0-9-5 6-15-8-17 9 8 29 13-12 2 10 8-10 8 14 7-2 7 6 11 0 3-2 0-3 1-16 0 11 6-3 5 6 3-9 1 9 0-10 0-4 3 5 1 4 3 10 3 1 1-11 0-8 2 17 2 2 0-11 1-7 0 14 2 5 0-23 2 19 3-4 2 6 0-21 1 10 1-5 1 18 0-4 2 0 0-13 2 13 0-13 3 15 5-13 2 6 0-9 1 14 0-14 2 8 2 3 2 3 2 1 5-4 1 4 9 4 0-19 3 18 2-6 0-14 2 6 3 15 2-24 0 22 1-4 2 1 1-19 1 17 1-12 1 5 2-1 15 11 2 3 2-17 13 18 2-6 7-1 6-13 18 14-24 20-11 0-4 3-7-11-2 13-6-2 0-3-6-3-2 12-3 2-1-5-1-16 0 17-3-6-2-13-2 0-3 15-1 2-6 2-3-1-1 1-7-6 0-10-1 16-3 2 0-6-1 2 0 1-12 1-2-8-2-2 0-9-2 12 0 1 0-9-3 19 0-9-2-7-5 16 0-8-3-16 0 7-3-5 0 6-5 4-4 11 0-20-3 4-3 16-3-7-2 3-7-9-2-8-2 5-2-2-3 14-1-5-3-14-13 14-1 4-2-9-11-2-3 0 0 9-13-12-22 19-11-21 1 33 33 4 8-7 4 9 14-2 2-2 4 9 15-19 1 22 0-4 0-13 9 12 5-14 1 13 1 3 1-12 7 11 3-1 1 0 6-6 6 9 2-3 4-16 2 10 1-4 7 11 0-17 0 16 2-4 1 4 3 3 4-17 0-5 4 13 1 1 6-13 0 12 0-1 3-7 1 13 5 4 2-17 1 1 2 16 1-15 0 13 2-6 1-12 3 13 0-8 0 9 2-15 4 7 1 8 8 3 7 2 4-11 2-3 5 14 3 1 4-8 5-5 4 11 46 18-9-2-1 3-21-11-5 1-7 9-1-10-7 16 0-13-3-1-7 18 0-7-12-8-1 15-5-1-13-21-4 23-5-20-4 13-1-8-2-1-4 10-2 6-1-24-4 21 0-12-2 4-6-6-2-2-1-5-4 12-1 9-1 2-1-13-2 11-1-3-5 5 0-6-1-4-1 7-4-7-1 0-4 1-5 10-1-6-2 5-3-19-10 18 0-11-2 0 0 1 0-6-4 11-7-10-1 0-6 16-5-22-11 3-8 11-95 31 71-14 1 16 10-9 6 9 6-9 19-13 3 1 11 8 0 7 8 3 5-18 1 5 1 0 5 8 1-12 3 10 2 0 6 8 3 3 2-15 1-1 0-5 5 10 4-5 5 10 2-16 1-2 2 12 2-10 2-1 2 14 2-2 0-8 2 1 2 7 5-1 1 6 3 0 5 4 3-19 1-1 3-2 7 6 3-1 0-1 7 11 3-3 9 11 3 0 15-19 2-3 7 8 5 1 6-6 22-4-12 34-16 3-3-5-12-1-4 17-18-17-8 11-6-6-15-2-1 9-2-5-18-5-1 7-7 3-2-10-1-2-5-1-13 17-12-8-4-5-3-6 0 15-14 5-5-8-5-10-2 15-2-20-9 12-19 6-10-14-1 1 36 26 10 1 13 1 30-5 14-3 4 11 16-4 2 4 27-7 6 15 42-7-7 27-29-7-47 8-4 3 0-9-4-9-2 18-31-14-22 9 17 24 26-12 33 23-56-44 6 18 17-8 9-12 17 11 2-9 15 5 51 1 52-35-85 18-5-18-7 7-3-4 0 19-8-12-17-1-9 5-39-7-10 8-5-8-4 14-17-17-48-17 58-6 7-6 7 11 4-4 9 16 5-21 4-1 0 15 20 3 12-14 1 12 2-13 6 3 6 16 9-22 8 22 1-7 10 4 7-7 4 3 6 4 1-17 1 4 4 7 8-12 16 19 3-4 12-1 12-24-12-16-18-1-6 18-6-13-9-3-19 22-4-13-2-9-4 9 0-9-2 6-3-1 0 2-13 12-1-19 0 4-7 0-14 9-2-10-4 13-6-16-5 19-1 1-11-5-1 1-3 0-3-4-5 0-4 2-3 3-5-14-5 11-10-1-5-13-10 15-4-15-2 4-4 2-3 7-10 5-9-14-43 9 23-24 28-5 3-6 8 19 12-5 6-7 4-3 4 15 3-9 2-13 3 6 3-4 0 16 1-18 3 10 2 9 1-20 3-1 3 24 0-17 2-5 2 11 3-4 0 1 2 5 2-13 3 15 2 6 3-18 1 14 1 4 0-20 4 3 4 3 0 11 4-7 1-7 5 8 0-7 3 5 2-12 0 2 4 6 0 15 0-20 0 7 3 4 4 5 1-12 0-2 1 12 0-16 1 10 2-5 1-5 2 2 0 10 3-12 1 18 2 5 4-16 4-5 1 4 10-7 1 15 2-9 2 10 3 2 4-11 3 1 14 5 5 7 1-3 3-5 1-3 1-7 4 5 3 14 50-13-42-15-2-6-2-11-3 22-4-13-10-7-15 12-10 6-2-18-2 18-2-21-1 15-3-13-2 12-1-9-1-2-1 11-6 0-5 0 0 10 0-9 0-6-2 4-3 1-1-7-6 10-3 4 0 2-1-21 0 14-4-8-1 8-2-16-2 22-4-10-2 9-1-4-3-14-1 17 0 2-1-7-1 1-2 4-1-18 0 7 0 9 0-10-3 5-7 1-3 10-3-19-2 0-3 19-1-4-1-16-2 2-3 0-9 11-1-13-4 5-1-3-8-5-7 9-1 7-10-9-1 16-1-20-4-3-1 10-16 0-17 1-14-5-3-26 27 5 6-5 7 1 5-6 3-1 6 21 8-11 6 7 2-4 1-9 7 0 10 20 1-21 0-1 9 0 2 16 0-17 0 1 1 13 5-7 4 11 4-7 0 2 0 6 1-14 1 3 0 8 1-2 1 1 1-13 1 7 1-5 1 11 1-7 2 8 1-10 1 1 2-8 4 11 1-9 1 2 2 0 3 11 1-14 1 18 1 0 3-6 17 5 0 5 2-8 3-11 3 10 7-10 3 10 2 3 1-14 0-1 0 5 1 8 3 9 2-7 3-8 5 4 1 6 4-15 11 16 9-19 13 22 11-20 58 14-45-33-14 8-6 1-19-13-4 17 0-15-4 8-5 5-12-8-1-2-1 11-6-14-6-4-10 2-2-5-1 14-4-4-5 6-3 7 0-7-10 3-2-15-3 2-1 5 0-6-4 3-5 14-1-2-1-4 0-9-3 3-4 2-15-6-7 2-2-5-2 11-2-14-5 16-3-3-5 2 0-4-1 1-6 3-2-15-1 13 0 5-1-2-4-6-3 9-3-9-12-7-1 3-18-2-11-17 1-5 3 15 10-3 18-18 7 21 10-16 3-4 5 17 2-10 3-5 1-3 4 23 1-23 8 6 1 6 7 1 6 1 0 7 9-13 6 11 0-14 1 7 3 10 1-12 3 0 3 9 1 4 0-5 7 1 2-3 4-3 3-5 1 10 6 5 8-4 2-20 2 16 6 6 4-14 5 8 0 5 8-8 5-3 23 9 15-18-6-12-2 5-23 5-20-18-1-3-19 16-9-19-7 23-13-16-7-4-4 12-3-8-6 5 0-9-5 15 0 2-5-14-5 8-1 6-4-17-4 11-1-1-18 4-2-15-3 0-2 22-39-1-51-39 60-8 35 8 5 11 8-15 12 8 21 3 1 7 1 1 3-10 10-2 12-3 20 4 1-13 4 24 19-16 47 9 2 3-51-34-8 4-2 8-22-11 0 12-9-18-19 14-17 4-28-20-14 19 4-25 55-37-45 7 10-15 55 41-37-8-82 34 4-13 25-2 1 11 15-2 16-6 8 5 15 6 39 5 15-8 61 27-6-1-10-16-26 0-15 4-7 7-29-5-2 6-2-6-6 11-9-14-11 3-3-6-21 17-8-10-40 20 21 11 19 3 13 7 12-8 3-11 1 9 4 6 0-10 9-6 2 17 11-1 4-3 2-16 2 0 1 1 2 6 2 16 2-18 1-2 4 19 3-15 5 12 11 1 3-10 3-8 7 8 0-4 3 17 6-1 0-6 25-15 14 4 6 7 11 8 21 11-22-5-30 0-10 4-11 16-3 1-12-3 0-18 0 11-7 2-9 0-3-8-3 16 0-23 0 18-2-18-2 12-2-11-5 23-5-13-7-5-4-6-4 11-4 4-6 9-2-7-3-10-14 6-19 5-4 6-12-13-3 7-18-12-2-2-8 15-4-5-15 1-1-7 60 36 4-12 7 13 0-4 0 3 13 2 3 1 1 0 13-8 1 6 4-3 1-10 1 8 4-11 2 20 7-13 6 9 1-17 3-1 0 7 0 2 1-11 2 7 2 16 1-6 5 5 3-18 2 5 0-2 1 2 2 10 6 2 2-10 0 0 1 7 4-6 0 6 5 2 4-18 4 15 0 1 6-18 1 18 2-1 4-4 3 2 1-14 3-1 2 9 6 3 0 12 6-17 2-1 0 18 5-15 7-3 2 2 13-1 11 5 27 36-59 1-13-23-5 2-6 3-1 13-1-12-1-4-2 6-1 15-2-13-4-3-1-6-8 18-5-2-1-10-4 11-2-19 0 21-4-8-2-5-4 14-3-22 0 7 0 8-1-5-6 2 0-5-3 2-1 2 0 0-1-6-1 18-3-7 0 6-2-7-7-5-1 9-1-16-3-3 0 8-2 13 0-21-6 19-1 5 0-4-2-18 0 19-4-7-2-11-1 19-1-5-2-10-1 3 0 3-1 10 0-18-8 3-5 11-5-18-3 11-2 7-2-17-5 21-1-16-4 17-2-22-10 13-2-1-2 9-12-13-17-8-6-2-14 6 22 36 19 5 19-14 5-1 4 0 0-7 1 24 1-16 2 12 0-19 3 3 1 12 4-11 1 6 0-1 11 5 0-9 3 1 3 15 2 0 3-4 2-9 1 12 0-9 1-6 2 6 2 12 8-5 2-17 6-1 4 1 2 16 2 1 1-13 2 13 2-2 3 5 5-7 0-9 1 1 0 4 1-4 3 5 1-9 1 1 0 0 3 11 5-10 2 4 3-6 0 0 3 14 3-10 3 11 2-16 1 18 0-5 1-12 1 7 6 4 2 7 8-16 0 13 0-4 6 8 3-1 0-12 4-5 29 18 16-10 0-8 1 19 15-1-44 22-6-2-3-1-5-14-4 15-5-14-3 8-2 10-9-18-1 7-2 3-1-3-3-2-3 16-1-23-2 23-8-10-2-1-1-10-3 9-5-12 0 8 0 1-11-4-4 6 0 0-6 11-2-18-4-1 0 11 0 5-2-11-2-4-2 5-1 6-1-12-4 5-1 5 0 6-5 4-6-7-1 1-3 4-11-14 0 16-2-13-2 0-1 2-4-10-5 18 0 0-1-9-2 7-10 2-5-16 0 8 0 3-21-14-9 4-38 22 10 20 15-3 11-12 13-7 6 24 3-6 6-12 1 3 1-4 7 12 21-12 1 6 1-7 0 8 8 2 2 7 3-2 3-11 0 4 8-9 1 13 8-11 1 6 1 12 3-17 2 12 3-7 5 2 2-12 3 2 0 1 5 17 3 1 0 2 2-23 4 11 2 7 0-3 13-5 0-6 6 9 11-13 3 11 2 10 1-9 13 0 11 2 1-15 5 16 5-4 2 4 17 0 10-15 8 22 44-11-64 14-23 6-14 2-3 10-4-14-2 13-3 0-2-15-19-1-1 9-13 6-1-12-7 1-9 3-1 13-9-15-4 5 0-8-5-2-7-2-15 11-4 1-2-8-1 11-24-13 0 15 0 3-1 0-6-5-23 9-31 6 32 0 17 15 11-19 45 12 8-13 7 0 30 8 14 4 26 12 1-9-5 33-50-4-9-14-38 0-29-4 56 27 19 5 52 9-8 11-35 31 41-57-9 7-74-7-3-1-56-22 18-1 34 1 32 3 7 15 5-21 0 10 12-11 10 24 11-20 13-2 52-17-15 2-8-8-7 7-43-1-10-7-8 14-1 6-21-11-7-1-2 3-1 0-1-1-1-13-2 2-1 15-11-16-21 3-25 14-11-6-64 8 46-33 5-9 32 1 17-1 18 18 3-15 6-6 6 6 9 3 12-1 5 15 11-21 2 22 1-2 1-21 4 8 2-9 2 3 1-1 5 7 7-1 15 2 4 3 2 2 2 6 34-15 0 7 32-8 35-12-74 2-9 1-8-15-12 13-5-12-17 7-5 6-3-8-4-1-6 6-7-14 0 16-1-2-2-16-1 4-1 0 0 1-2 4-3 3-4-11-1 4-3-2-5-1-4 9-2-9-1-3-1 22 0-21-3 3-9-3-13 10-3-2-4 10-2-10 0 12-7-1-1-4-3 5-18-5 0-10-69-20 13-10 20 8 3 15 6-4 16-11 7-3 1-5 10 7 4 3 4 0 1 13 4-18 0 1 1-7 0 9 1-4 1 4 5 15 3-2 1-18 1 4 5-4 10-1 2 14 1-17 7 20 2 1 5-13 0 2 2 1 10 5 1-10 2-6 2 15 4-4 5-5 1-6 1 0 0 23 1-4 0-12 1-4 1 13 1-15 1 18 1-2 0 4 0-1 0-14 5 1 6 10 0-7 3 12 2-17 1 13 6-4 6-9 4-5 0 8 0 8 0-3 6 1 9 1 2 7 22-18 11-1 8 13 31-21-20-13-7-3-2 4-21 16-3-23-8 21-5-22-3 9-12-3-1 18-2-7-2 3-12 0-4-4-1-15-1 2 0 7 0-7-3 9 0-1-1-6-1 14-3-14-6 10-2-1-2-13-1 23-1-5-5-7 0-8-4 4-5-1-3 1 0 15-5-4-1 0 0-3-2-7-1 14-1-2 0-3 0 3 0-20-1 5-2 10-2 5-1-18-1 11-1-14-2 0-1 8-6-1 0 2-3 6-1-11-1 10-6-10-8 16-3 1-3-18-7 15-18-10-7 7-2-4-10-7-2 12-1-4-13 7-10-13-20-24 8 0 1 11 36-13 10 18 3-21 9 1 3 16 1-13 1 0 1 3 4-6 1 6 1 13 1-20 0-2 2 10 1 7 1-3 1-8 4 10 1-11 3 2 1 17 1-10 5 9 2-21 1 6 0 7 1-14 1 13 1 6 2-3 1-10 1 7 3-4 0-10 6 7 3 8 1-6 3 11 4-18 2 19 0-18 1 10 2-12 3 15 1 0 0 0 1-10 3 17 2-2 2-8 0-1 3 11 4-13 4-5 2 0 2 5 2-4 4 9 8-1 1-1 3-1 5-3 14-7 1 8 1-6 6 10 6-12 7 9 21-14-1-9-13 1-3 5-4 5-8-18-1 13-1-18-1 17-5-8-4 7-4-12-4 17 0-15-5 12-2-9-5-1-3-9-3 13-2 11-11-9-1-6-4-8-4 8-1 13-2-5-2-9-1 5-1-11-4 17-2-15 0-1-3 4-4 3-1-7-2 21-7-18-7-1-3 0-2 3-1 5-1 4-3 2-9-4-1-11-1 17-11-17-3 20-2-9-2-3-5 0-12-11-1 14-1-12-7 12-7 8 0-16-7 10-9-1-14-15-4 22-4-5-7 1-16-8 23-14 5 0 4-1 2-17 13-3 5 16 4-16 3 15 17 8 4-1 1-2 4-16 15 9 2 4 1 0 1-17 2 21 1-20 2 2 3 2 7 5 2-10 1 12 2-9 3 0 0 11 2-10 2 17 12-8 2-3 4-4 0 6 0-8 3 15 1-18 0 6 4 0 1 7 6-13 2 20 8-5 5 6 9-4 2 5 1-11 7-6 1 10 11-10 6 17 22-18 7 16-14-36-10 7-37 6-9-20-22 19-3-7-6 4-2-16-10 14-4-6-5 2-4 0-4 7-2-20-3 8-1 6 0 4-9-2-1-8-8-9-1 6-12 10-7-1-8 1-46-37 65 5 5-9 23 2 36-2 0 4 19 8 4 10 5-2 21-4 43-14-22-7-31-3-1 5-22-12-8 11-46-18-32 12 39-36 10 15-58-47 133 45-13 1-8 3-9-15-64 14-76-2 12 8 20 20 32-10 8-10 20 13 1-9 17 12 7 1 5-6 3 9 3-4 17 0 19-12 70 31-35-3-11-3-13 15-44-11-5 4-8 4-6-1-21 7-19-19-9-4-38 18-4-15-3 16-79 30 76-22 1 14 8-15 2 3 15 12 3 0 6-7 5 8 7 4 7-5 14-10 0 1 0-7 8 22 6-11 1 12 3-18 1-4 0 16 13-6 16 3 7-9 1 3 0 3 13 0 1 13 9-12 6-12 6 19 65 10-31 4-5 14-8-4-28-2-5-13-1 4-1-5-18 19-5-17-2 6-3-5-2 7-4-5-1 14-8-12-2 11-11-8-1-6-1 0-5 11-9-2-5-6 0 15-2-1 0-5-20-14-8 1-7 16-5 2-1-2 0-12-5-6-1 12-1-6 0 3-11-5 0 13-1-14-8 1-20 14 2 7 33 11 3-4 15 12 2-18 13 15 1-19 5 16 2-16 0 5 3 11 0 4 2 2 0-8 11 6 6-19 2 2 2 4 2 4 3 4 1-4 2 12 1-22 1 2 5 13 0 3 1-3 3-5 5-8 4 21 0-11 0 4 2-8 3-3 4 5 3 13 2-7 1 0 4-17 0 21 0-20 3 21 7-3 6-9 4-1 7 11 2-1 5-1 12 1 0-2 18-16 6 1 30 10-2 31-37-17-6 5-1 13-5 3-9-20-17 15-5-15-7 17-4-19-5 18-3-8-2-5 0 7-3-10-2 21 0-1-6-11-1 10-2-3-1 5 0 0-1-8-1-6-6 6-1-1 0-12-3 4-5 13-1-19-1 9 0-1-2 16 0-20-1 7-1 1 0-5-5-1-2 3-3 8-2-9-14 12-1 2-1-5-2 7-2-23-2 9-1 13 0 1-2-8 0 6-4-16-2-1-2 16-6-10-2-3-1 9 0-12-3 19-2-20-4 16-8-19-5 0-7 0-2 8-2-3-6 15-3 3-2-10-38 17 45 18 5-1 1-9 5-11 11 3 1 1 5 10 0-12 3 19 3-18 2-2 5 1 6 7 1-10 6 17 5 3 3-5 2-2 1-14 6 0 1 19 8 1 1-6 2-9 2 10 1-7 0 1 1 4 1-8 1 17 3-6 1-14 2 2 3-1 4 2 1 10 0 4 0 0 0 2 1-22 1 14 0-9 1 16 4-12 4-7 3 8 1 7 2 2 2-16 3 21 6-14 0-10 2 19 4-3 1-7 6-9 1 16 0-15 0 18 8-14 0 4 3-4 4 12 3-13 0 1 0 8 0 6 1 3 1-20 14 9 1 1 1-7 5 3 1 0 0 7 0 2 11-4 4-2 33 0-13 24-12 2-10-9-8 1-3-3-6 19-3 1-21-18-7 3-1 18-2-1 0-8-4-6-4 15-1-7-1 5 0-12-10 6-2-13-1-3-4 9-3-5 0-4-2 18-1 2 0-6-5 8-2-2 0-17-4 19-1-17-4 16 0-20-5 14-1 9-4 0 0-10 0 7-4-3-7-9 0 10-2 5-1-14-5 0-8 6-6-2-6 2-6-16-13 14-1-1-10 7-16-10-10 5-1-3-42-1 44 18 4 18 22-14 13 5 17-6 10 16 1-23 5 23 7-6 2 4 2-8 0-8 1 7 1 11 7-16 3 1 2-2 9 9 5-13 0 19 4 0 5-21 1 6 3-4 4-1 0 15 4 5 1-19 2 2 4 18 2-22 2 5 0 19 0-12 1-6 5 12 3 5 2 1 10-3 19-14 11-2 13 11 18 1 21 6-53 13-28-10-10 23-8-1-1-16-4 12-2 0-5-19 0 8 0 10-5-3-3 0 0-8-1-3-4 2-2 0-2-6-13 21-1-6 0-12-9 7-2-5-2 2-1 13-10-6-9 7-10 3-18-10-2-9-4-2-3 7-36-10 15 43 29-9 11-8 4 7 8 13 6-17 7 7 0-6 18 13 25-8 2 0 20 11 17-17 4 19 4 1 6-20 1 4 36 33-42-6-35 5-3-11 0-2-20 18-26-5-3 3-13-18-3 19 0-13-1 3 15 38 22-5 64-10 6 17 39-17-23 37 31-42-35-1-70 4-39-3-32-20 26 0 6 8 9-8 27-1 2 18 1-15 19 12 2-1 1-3 50-16 13 7-13-11-1-19-7-3-2 9-6 6-4-12-11 9-23 3-7 8-10-22-10 1-5-2-16 5-4 10-36 6-8-13-14-7-3-18 11 12 9 0 1-6 1 5 8-5 1-4 10 8 3-1 1-2 25 8 22-13 5 14 4-18 14-3 1 9 1-5 3 2 8-3 6-4 3 17 6-19 2 13 4-10 1 14 1 2 33 1 1-5 3-2 5 7 3-11 8-5 9 11 38-15-49-20-14-5-12 12-9 12-19-10-7-13 0 22-2-12-4-2-2 9-2 0 0-16-2 8-8-2-4 8-1-9-2 4-2-7-2 15-2-15 0 2-1-3-9 2-4 4-2-9-2 20-1-9-1-4-5-4 0 9-13-6-1 9-9-2-4-12-5 10-7 8-15-12-10 7-3-8-1 8-3-6-2 11-2-17-9 22-4-8-5-15-13 22-2-29 38-1 0 2 3-14 6 18 2-6 1-15 0 12 5 5 3-5 2 0 3 4 0-3 9-13 0 17 12-13 0 13 2-5 0-11 11 18 1-4 1-13 3 1 1-3 0 14 1-13 4 9 4-2 2-2 0-4 4 14 1-15 4 9 3 4 3 0 4-11 0-6 1 8 7 8 1-9 0 12 2 0 2-3 1-16 1 22 1 0 1-7 1-6 5-5 5 13 2-5 0-7 5-1 5 6 13 2 1 0 2 3 1-6 2-3 1 13 2-18 2 5 43-28-9 15-6-16-11 8-3 2-8 12-6-9-1-9-15 11 0-11-2 15-1-20 0 10-1 10 0-16-4 5-8-2-3 13-2-12-5 14-10-18-4-4-9 7 0 7-1-1-6 4-1-9 0-6-1-3-3 0 0 15 0 7-1-7-2-14 0 11-4-5-3-7-6 13-4-2-1-1-4-3-1 4-1 6 0-9 0-6-1 20-3-18-3 4-1 0-2 4-3 1-1-5-10-6-2 19 0-19-3 12-2-8-3-6-2 18-2-9-2-1-2-5-4 20-2-15-10 12-14-1-7 0-19-4-21-1 35-39 13 10 30-5 12 5 3 13 8-16 2 11 3-12 0-4 2 5 2 15 1-9 4-5 1 3 0-9 3 14 0-6 5 0 1-10 2 21 0-12 4 8 4-15 9 16 0-9 1-5 1-4 1 6 5 15 0-6 0-13 0-2 1 20 0-17 1 17 0-10 3-10 0 9 1-7 1 17 3-15 0 16 3-7 1 9 8-13 1 5 5-8 1 10 5-1 11 1 1 2 8 3 7-11 11-3 8-6 7 0 8 16 18-3 8 10 37-3-59-24-20-8-4-14-8 16-2 3-6-4-7-13-2-2-15 8-1 2 0 7-7 6-1-19-6 16-1-7-4 9-1-13 0-1-2 9-4-10 0-2-1 7-2 11-1-18 0 7-3-4-1 8-2-3-2-12-1 10-4 7 0 0-4-14-1 18-3-14-5 16-1 0-1-14-1-10 0 14-1 6-7-4 0 6-1-3 0-11-5 13-3-1-1 4-2-12-3 11-9-17-4 3-1 9-2 5-7-11-3 11 0-21-11 13-22 5-1-7-17-5-4 8-2-2 0-13-6 0-12-7 3-6 12-3 5-2 28 3 4 11 9-5 3 5 21-17 6 10 2-14 3 6 2 10 2 4 7-14 2-6 4 9 3 6 3 0 5-7 2-5 6 6 3 11 1-15 2-3 5 9 1-9 5 4 2-5 5-1 4 21 11-3 4-8 0 0 9-2 1 10 3-10 4 13 6-13 0 11 10-6 5-1 3-3 6 2 13-9 10 2 0-3 33 1 12-24-13 13-56 5-2-15-2 10-2 0-21 1-6-3-8 0-2 5-2-15-19 3-12-6-15 14 0-6-13 2-3-9-20 21-7-19-9 1-2 1-3 11 0-3-20 0-18 8-93-28 28-5 27-2 47 4 51-13 11 17 2-10 6 1 7 0 0 8 14-7 14 10 18 1 34-31-21-16-17-1-1 9-7 1-35-3-3 1-1 14-30-22-9 16 9-22 11-11 11 1 9 13 9-11 79-2 25-15 8 22-84-11-34 12-21-9-57 36 128-12 7 7 2 5 17 2 6-9-29 30-20-14-7 9-1 9-5-12-23 12-15-17-3 3-2 8-4 3-2 0-65-18-3 12-7 2-5 6 38 12 1-2 2 11 9-3 19 3 2 1 26-18 23 17 4-12 0 17 2-11 0-4 1 14 2-11 4-4 1 15 23-1 12-6 12 4 5 0 7-10 2 12 4-11 4 1 3 1 4 2 4-5 54 38-31 3-9-15-15-1-14 6 0 3-1 5-1-1-2-5-7 5-23-12-2-8-2 21-12-17-4 2-5-7-1 14-10-9-1 11-1-15 0 18-1-6-1 2-1 8-3-14-5 7 0-3-1 11 0-5-3 0 0-10-1 14-1-12-2 5-2 7-1-17-16-3 0 10-9 0-2-3 0 10-2-16-1 19-2 0-1 1-5-12-3-2 0 2-2-9-9 7-13 5-35-4-3 9-22 20 2-6 16 4 5-8 1 11 5 7 4-16 19-4 7 11 16-1 2-7 4 13 1 2 3-8 2-4 5 0 5 6 0-9 10-4 2 17 0-11 2 6 5 2 5 3 1-8 2 12 3-3 0-4 0-15 2 5 7 1 2 12 1 3 6-9 2 6 6-16 0 4 4 4 1 2 1-13 6 1 3-1 2 21 2-11 2-5 8 5 5-1 3 14 5 0 8-11 1 1 0 11 4-23 4-1 0 0 13 20 6 1 19-20 28 39-40-10-11-5-1 12-9-6-1 7-3 6 0-18-1 8-11-7-3-2-2 22 0-7-2-2 0 0-2 10-5-10-3-7-3 16-4-11-1 11 0 2-2-12-1-3 0 15-3-23-1 9-1 7-4 7 0-6-2-6 0 2-4-5-1 9-3 6-3-1-3-23-2 20-3-2 0 4-1-22-5 13-2-8-1 8-4-11-7 14 0-13-1 15-3-14 0 2-2 13 0-2-2 5 0-10-3 9-3-21-6 22-2-14 0-5-1 4-6 4-3 4-13-8-5 15-2-15 0-3-40 13-5-7 2 21 13 2 2 6 5-7 4 4 3 10 1-5 6-4 9-4 3 14 9-16 6 18 0-4 8-9 2 7 0-14 1 5 0 6 5-9 2 8 1-11 10 13 4-13 2 20 3-23 3 4 3-4 2 2 3 2 2 12 2-15 4 7 0 12 1-16 4 20 1-24 1 19 1-15 1-1 3 8 1 6 1-7 5-5 2 14 4-18 0 10 2-11 0 0 2 15 0-6 2 6 1-4 1 10 1-4 8-1 0 7 3-1 5-13 4 0 3 1 3 13 1-23 3 22 4-13 2 6 1-5 0 2 3 11 0 0 3-17 1 10 1 8 67-22 16 18-36 23-11-17-7 3-6 12-2-3 0-13-2 22-7-5-2-12-3 8-19-4-2 12-4-19-1 8-7-10-7 14-6-6-7 1-2 7-4-3-1 2-3-11 0 2 0 10-5 7-8-19-1 5 0-5-1 14-4-15 0 5-1 12 0-11-2-1-1 5 0 8 0-17-6 16-1-7 0-4-1 4-5 10-3 1-4-7-6 3-3-11 0 15-5-8-2-3-2 7-11-11-2-4-7 1-3 8-3 10-7-18-1 6-9-1-12 5-4-8-2 6-13 16 20 4 17-7 20 15 2-4 3-5 1-2 5-6 7 9 1 7 1-5 2 3 8-5 1-6 3-1 2 17 6-17 0 13 0-11 4 8 4 12 0-11 3-6 0 4 0-2 0 0 12 13 0-16 4 8 2 0 0-6 3 14 1-8 2 4 0-2 5-15 7 8 3-1 2 2 5-8 4 10 0 7 1 3 11-6 23-8 8-8 14 2 41 43-24-7-1 8-26 3-27-13-10-7-18 2 0 9-3-3-8 12-2-24-15 24-3-4-1-18-1 10-6-8-3 10-6 5-14-15 0 15 0-9-3-1-1-8-16 16-6 3-1-19 0 16-3-11-2 14-11-8-7-1 0 10-34-21-18 28 19 8 62 9 3 3 15-12 5-10 10 4 35 15 12 1 17-3 6-15 19 13 38-16 3 19 19-7-29 20-23 17-75-16-1-2-2-2-23 12-40 0-18-11 60 36 29 23 34-37-27 11-48-10-8 0-98-8 61 1 6-12 46 7 7-16 23 10 32-8 6 1 10 12 13-36-27-1 0 17-5-20-8 17-2-12-21 1 0-4-2 21-6-6-56-16-7 14-3 4-46-29 17 2 15-12 8-5 6 24 7-11 10-8 1 1 0 0 23-6 5 9 33 5 0 3 23 2 22-3 6-14 1 10 8-3 6-6 36 1 68-16-53-8-19 4-6 14-21-5-1-17-8 7-24 3-2 10-1-9-11-8 0 11-5-10 0-3-1 9-1-1-7 8 0-12 0 1-1 12-1-1-5 6-2-22-4 22-10-13-2-11-3 2-3 1 0 0-3 0-5 15-2-8-2-6-13 0-7-4-2 21-7-16-14 11-17-1-7-11-41 5 5-33 24 16 22-8 17-9 3 17 6-7 1-6 3 10 2-7 9-2 8 15 2-10 0-9 2 0 0-1 1 12 4-9 1-1 6 11 1 3 3-5 2-9 2 6 1 10 1 3 2 2 3-19 6 12 1 1 1-4 3-8 1 3 1 8 2-15 2 8 4 1 2 2 1 2 0-11 2 5 6 16 0-8 5-2 3-2 8 0 0-3 12-7 1 17 4-7 1 5 2-1 2-5 2 13 4-10 0 2 1-1 0-13 1 6 3-7 14 15 4-6 0 14 14-21 16-2 17 8-17-29-5 5-15 5-1-9-27 0 0 2-8-6-1 4-1-4-1 10-4 6-2-3 0 8-2 1-4-3-4-1 0-1-3-16-1 4-2 1-5 1-4-5-2 2-4 9-1-13 0 8-3-7-4 2-7 15-3-17-5 7-4 12 0-6-2-8-4 15-2-15-1 9 0 1-1-2-2-4-3-8 0 4-1 1 0-3-2 0-3-4 0 8-1 2-2-1-2 12-1-20-1 8 0-9 0 3-3 7-2-1-1-1-2 8 0 5 0-14-2-2 0-2-1 18-1-20-1-3-2 14-2 7-10-2 0-3-2 0-2-1-3-2-5 1-6-12-2-2-4 18-7-14-2 12-1-12 0 16-5-16-7 20-14-18-3-6-32 15-4-10 6-17 19 7 21-14 6 9 8-12 1-1 8 19 4-12 0 13 5-6 0-10 4-5 13 9 0-5 4 7 4-5 1 16 1-11 1-7 0-5 1 21 1-7 4-11 3 1 3 5 1-2 2 3 4 7 1 3 2-1 2-13 0 2 3 0 0 15 0-9 4-4 0-10 2 13 2 8 2-7 1 9 0 0 2-5 2-2 1-4 3-8 1 8 2-11 0 8 1 8 0-17 1 21 1-7 0-4 1 7 4-10 1 11 3-13 2 8 2 3 2 5 0 1 8-12 1-1 11 15 6-4 4-3 1-5 1 3 6 5 8-2 10-2 5-13 1 11 1-22-1 0-6-7-9 13-1-14-1 15-9-9 0-12-5 11-2-9-7 13 0-16-8 7-5 2-2 13-1-19-1-1-3 19-3-17-6-1 0 4-1-6 0 16-5-6 0 4-4-6-2 6-2-3 0 5-2-4-5-10 0 5-1 8-4-9-11 12-3-21 0 10-1-10-1 16-1 4-4 1-3-9-2 2 0 7 0-9-5-10-3 21-2-22 0 17-1-8-2-6-3 13-7-8-1 11-4-2-11-4-11 2-2 4-28 1-1-4-1-13-1 17-2-20-2 19-5 0-9-5-5 2 30-37 11 16 19-6 3 5 11-4 2 0 5-13 19 6 4 7 2-11 3 3 2 14 3 2 0-18 3 2 2-8 7 22 7 1 1-7 3-3 15 8 0-16 1 3 3 8 0-13 5 5 7 7 6 1 2 7 3-17 6 1 11 12 0-12 1 12 0-2 2 2 3-3 5-6 24-7 3 11 23-30-2-8-46 23-7-5-4-5-24 6-2-19-1 5-10 3 0 7-12 5 0-17-7 10-2 8-4 0-6-17-4 0-13 18-4-13-8 0-5-4-13 15 0-9-7 8-2-16-1 14-7 0-3 6 0-14 0 4-3-10-11 5-27 10 10-20 1-9 38 2 30 7 6-3 3 0 6-13 1-7 31 17 36-17 14 19 62-30-12 2-18 7-63 0-17-17-20 11-13-2-16 7-38-5" marker-start="url(#b)" marker-mid="url(#b)" marker-end="url(#b)"/>
<path d="M1135 2484l-21 47-6 13-2-1-31 12 3 12 0 6 0-2 1-10 8 10 33-3 2-12-35 23-5 3-1 1-7-7-1 14-8-8-7-2 0 9-9-5-2-8-42 42 10 3 6-11 1 5 1 4 2-17 6 8 1 9 1-17 7 19 2 0 2 2 3-6 4 3 3-15 1 12 1 1 2 0 4-15 2 15 1-3 4 3 1-6 2-12-10 32-2-3-7 1-1 8-7-4-1-5-1 12-3-5-1 11 0-7 0-14-1 6-1 9 0 6-6-4-1-13 0-3 0 22-1-14-1 12-2-16-1 15 0-2 0-9-1 2-2 7-1-2-2 5-1-8-1 9-4-13 0 6-1-9-1-7-2 11 0 12-2 0-1-1 0 0-1-22 0 24-1 0-2 0-2-10-2-2-2 1-1 10-7-1-11-8-5 21 1 6 4-1 2 9 2-20 0 14 6 5 2-16 1 17 1-12 0-12 2 12 0 2 2 2 1-6 0-6 5-1 1 12 0-15 1 15 0 5 1-7 5 9 0-9 0 2 1-2 1-7 0-5 2 14 1 3 1-5 0-5 2 10 0-13 3 8 0-3 4-10 0 3 0 16 1-10 1 10 0-9 0 10 0-16 2-1 1-2 1 12 2-2 2 1 0 7 8-9 2 6 9-16-25 28-1 3-3-6 0 6-2-4-4 6-2 0-2 0-2 2 0-10-3 11-1-9-1 0-5 1-1-1 0 2 0 2-1 10-1-9 0 3-2 0-1 0-1 6-1-5 0-2-1-5 0 6-1 8 0 5 0-23 0 18-1 5 0-20-1-3 0 7 0 13-1 4 0-9-1 0 0-13 0 17 0-19-1 11 0-9 0 2-4 6-1 3 0 10 0-3-1-8-4-3 0 15-1-16 0 7 0-3-1 10-1-6-2-7 0-9-4 15 0 0 0 7-1-2 0 3-2-3-2-3 0-13-2 19-1-12-6 4 0 8-2-13-3 13-5-3-14-2-9 18 6 7 0-6 6 12 1-13 2 4 0 6 4-18 1 11 0 3 2-10 0 14 0 3 3-10 0-12 1 14 1-1 0 2 0-3 4-10 0 8 1-7 0 12 1 1 0 1 1-2 0-5 1-6 0-4 0 16 1-15 0 19 0-11 0 9 1-7 0-8 2 9 1 3 0-2 0 6 1-4 2-10 3 4 1 10 1 2 1-8 0 0 1 5 0-15 0 19 0-20 1 2 0-2 2 7 0 1 0-7 0 10 0-7 1 5 1-3 1-5 1 4 1-4 0 10 0-11 3 12 2-8 0-7 1 19 0-19 0 20 5-18 1 3 10-3 0 1-17 34-2-5-1-4-2-2-1 9-3 1-7 8-1-16 0-4-1 17-2-16 0 5-1 17 0-19 0 3-1 1-1 0 0 3-2 9 0-12-3 7-1 0 0 2-1-1-1-5 0 6 0-13-1-1 0 9 0 8-1-13-2 3 0-3-1 6 0-5 0-2 0 16-1-15 0-7-1 14-1 7 0-1-1-9-1-10 0-1-1 6-1 14 0-4 0-14-1 9-3 2-1-12-1-1-1 11 0 0-4 4 0 6-3 3-1-20-1 18 0-21 0 12-5 3-1 8-2-12-1 10-9 2-19 25 2-4 4-6 3-8 2 0 0 16 1-1 1 0 2-17 3 9 2-10 0 5 0 7 5-4 2 1 2 6 1 0 1-10 1 15 2-4 1-3 2-7 0 2 0 7 1-18 0 4 1 10 0-11 0 11 1-11 2 7 0 1 0 6 3-11 1 3 2-3 1-5 0 5 1 16 1-21 0 7 5 3 1-8 2 8 0-8 0 13 8-7 11-7 2 7-23 22-16 9-2-15-1 5-5-1 0-1-3 7-3 3-1-8 0 9-1 3 0 1-1 5-2-6-1-13-4 8-2-11-1 11 0-2-5-1 0 12-2-19-3-2-2 9-2 11-1-14-15-3-5 3-6 8-12 23 14 7 14-1 3-17 6 13 0 2 4-8 1-8 0 23 4-6 3-16 0 10 16-11-9 26-9 3-5 4-10-6-2 6-11-4 0 9-2-11-1 3-3 13-1-5-8-11-2 13-6-5-8 6-7 6 11 5-7 37 4 5 0-22-27-21 35-12 1 5 15-14 7-1 20 12 30-41-7 11-3-6-13-1-1 14-3-1-10-2-1-6-1 15-3-6-1-18-1 3-11 1-6 17 17-39 3-1 6 0 2 5 5 9 0-1 0 5 0-19 2 8 1 10 0-14 3-7 2 11 0-7 1 17 0-3 3-2 1-9 1 4 3-1 1-2 0 11 2-13 0 5 1-8 2 18 0-12 5 1 6-8 3 17 1-11 2 10 1-20 2 0 2 2 22 7 1-7 2-26-4 11-11-1-3-4-4 8 0-15 0 8-2 5-2 2 0-10-1 0-1 2-2 9-1-4-1 4-1-3 0 8-1-21 0 13-5-9-2 0-2 2-1 1 0 6 0 6-4-5-1 8-1-21-3 12-2-11-2 20-4 2-1-20-1 6-6-2-1 4-1-1-4 4 27-20 5-10 1 2 1 12 3-16 2 16 0-11 1 3 1 5 0-6 2 6 2-11 2-6 0 10 1 10 1-18 0 14 0-19 1 18 0 5 0-5 1 1 0-2 0-1 0-6 1 0 1 8 0-2 0-17 2 9 0-4 1-4 0 2 0 15 1-16 0 2 4 12 0 1 0-14 1-1 0 21 0-22 2 9 0 13 1-3 0-16 1-1 1 1 1 10 0 6 1-15 0-2 1 4 0 7 0-11 2 17 0-7 0-10 2 6 0 0 1 8 0-17 2 7 1 2 0-6 1 2 2 5 1 8 5-2 1-8 0 1 1-6 3 5 0-7 20-23-3 11-6 1-3-11-2-1-2-1-2 15-1-14-2 13 0 2 0-6-2-8-2 1 0 6 0-6 0 14-1-13 0 12-1-1 0-12-2 9 0-3 0 7-1 3 0-7 0-12-1 21 0-23 0 15-1 5-1-20 0 4-1 6-1 3-1-11 0 2 0 15-1-9 0-9 0 14 0 7-2 0-2-4 0 2 0-5 0 5-2-6 0 8 0-4-2-8-2-9-2 16-1-10-1 17-1-19 0 10-1-13 0 13-1-5-1 9-2-1-6 4-2-3-7 3 28-40 1 15 3-7 0 7 0-7 1 3 8-1 0-1 1 1 0-10 1 17 0-8 0-11 1 4 0 0 1 3 1-1 0-4 1 17 0-10 0 4 0-12 0 5 1 2 0-6 1 17 0-18 0 2 1-4 0 8 0 5 1-13 1 4 0 12 0-14 1 1 0 10 0-14 1 11 1 7 3-7 1-3 1-1 1 10 1 3 1-14 0-2 0-3 1 16 0-5 1-5 0 7 0-11 0 9 1-4 0 2 0 10 1 0 1-23 1 16 1-3 0-10 1 16 0-14 1 2 0 7 4-5 3-5 0 6 3-9 2 8 0 15 6-22 0 6 1 9 12-9 5-5 0-22-1 13 0-14 0 2-3 4 0 4-3 7-2-19-2-1-1 18-1-14-2-2-2-4 0 3-1 12 0 2 0-15-4 17 0-8 0 8 0 5-2-2 0-15-1 2-1 2 0 9-1-1 0-2 0-12 0 5-2 2-2 4 0 8 0-24 0 18-1-6-1 12-1-2-1 2-1-7 0 6 0-12-1 3-1 5-1-14-2 18-3-4 0-4 0-15-2 23-1-5-3-4-1 3-1 7-1-3 0 1-2-10-1-3 0 13 0-19-4 5-1 15-2-4 18-34 11 13 4-18 2 19 3-9 3 7 0-18 1 14 0-6 0 12 1-8 1-2 2 3 1-14 0 10 1 4 1 2 1 4 0-13 0-1 0 13 1-21 0 21 0-15 0-5 0 10 2-7 1 17 2-14 0 16 2-24 1 3 1 6 2 1 1 11 0-2 0-17 4 3 0 0 0 0 6 0 0 6 9-10 2 9 5 4 2 3 37-38-13-3 0 5-1 7-12-11-2-1-9 10-1 0-2 6-7-12-5 15-8 0-1-10-2 3-1-5-1 0-3 9-1 4-1 0-2-3-2-1-2 4-1 0-1 3-24-4 40-22 14 0 0-19 10 4 1 0 0-4 1 13 4-5 3-10 3 6 1 7 1-15 3 4 1 0 0-2 11 16 22-18-11-8-3-10-2 8-1-7-10 3-7 1-10 5 58-22 1-48 5 14-30 31-21 6-14-3 6 6 5 13 8 3 0-8 5 0 10 1 11 12-9 4-22 0-3 10-4 4-16-15 0 17-4 6-6-12 0 6-1-4-1 5-5-17-2 12-1 9-5 2-11-2-13 25 8-2 9-1 1-16 1 5 1 16 1-10 2-5 0 0 2 6 0 5 1-3 2-1 1-1 2 7 0-2 1-17 2 13 1-7 0 3 2-7 2-1 3 13 0-11 1-1 2 1 1-4 2 9 3-5 1 14 4-8 0-10 1 17 9-15 4-4-26 45-4-10-1 1-2-5-6 14-3-10 0-9-1 7-1-6-4 12-3 1 0 3 0-12 0 8-1 1 0-2-1-10 0 12 0 7 0-13-1 11 0 3-5-15 0-7-3 20 0-1-3 1 0-5-1 6 0-3-1 1 0-16-3 4-1 13-1-3-1-4-1 9-2-12-8 10-3-8 0 11-3-3-2 3 0-7-2 7-24 11 8 11 7-7 0 5 1-4 0-7 2 14 3-15 1 15 0-3 0-9 2-2 2 3 2 5 1-6 0-2 1 11 0-14 1 16 0 0 3-12 2 6 0-8 3 14 0-9 4 12 3-7 0-8 0 7 1 8 0-14 1-9 4 19 0-15 0 15 0-19 1 20 0-21 0 0 0 16 2 8 1-18 1 15 0-21 4 4 1 13 0-14 4 7 1 9 0-9 2-7 4 3 0-5 2 10 8 11-18 6-4 1-17 4-4-2-1-5-4 6 0 1 0-1-1 13 0-17-1 0 0 7 0 6-2-9 0 13 0-15-1 8-1-6-1-5-2 5 0-2 0 4 0 15 0-14 0 1-1-4 0 6 0-5-3 11 0-12 0 16 0-23-1 0-1 2 0 21-1-19-1 8 0 8-1-14 0 3 0 10 0 3-1 1-1 1 0-10-2-2-1 1-1-3-3 0-6-6-1 9-2 4-1 4-1 0-3-5-7-14-1 10-1 10-1-16-17 22 0 15 7-2 3-16 7 11 0 8 1-3 1 7 2-16 1 13 2-1 1-6 1 6 0-11 0-4 1 20 2-23 0 9 1 7 0 6 0 0 1-19 0 20 0-15 1 0 3-4 2-4 0 12 0-8 0 19 1-8 0-8 1-2 0 14 0-11 1-9 0 5 1 7 1 3 2-12 0 18 1-15 0-2 0 9 2-3 1 6 0-12 1 0 1 2 1 5 2 1 1 4 1-10 1 11 1-6 0-8 3 12 1-8 1-7 4 6 1-2 4 4 2 2 5-6-21 23-11 4-1 3-2-7 0 6-1 7 0-7-2 7 0-2-1-13-4 16-1-6 0-10-2 21-1-6-2 5-2-8-1 4 0-16 0 2-1 2-1 16-1-12-2 5-1-3 0-9 0 7-1-8 0 14 0 5-1-14 0 15 0-10 0 14-1-7 0 5 0 0-1-11 0-5-1 9-1 0-1-1-2 2-2-4 0 4 0-15 0 12-2 4-1-7 0 9 0 4-1-3-1 0-2 3-1-22 0 19 0-1-1-19-2 18 0 2 0-2-1-6 0-2-1-1-1 9-6 5-3-5-2 0 0-7-16 21 3 13 2 2 1-11 3 2 2 11 1-7 0-12 0 3 3 2 1-8 1 18 1-7 1 1 1 7 0 2 0-2 0-15 1 5 1 12 0-4 3-10 0-7 3 22 1-12 1-3 0-5 1-2 0 10 0 3 1-14 1 15 1-13 0 19 0-16 1 7 2-13 1 7 6-6 2 5 0 4 1 9 1-4 0-14 2 0 1 7 1-4 2-3 0 4 7 2 0-2 1-5 5 3 3-1-32 41-6-16-5 9-2 11 0-13-1 11 0-13-1 3-1 10-2-14 0-6 0 1-2-1-2 19 0-4 0 5-2-18-2 2 0 3 0-4-5-3-1 12-1 11-3-4-9-2-6-2 0 1 0-2-2-12 0 4-9 13-11 28 3 1 1-15 1 7 2-6 1 15 4-7 2 0 8-6 0 1 0-2 2 5 3-5 1 0 4-1 2-7 1 3 2-5 1 12 3-1 0-7 5 0 23-4-42 26-1 13-10-7 0-1-28 16-4-2-7-5 7 11 13 1 30 3-72 54 57-57 0 5-24-16 1 5 2-17 3 3 1 2 5 0 1 15 12-8 1-10 0-6 2 4 41-14-10-15-9 11-3-10-2 21-7-22-5 17-12-9-5 4 0 0-3-5 0 11-5 3-5-14-11 12 41-20 1-21 9 17 0-11 1-1 0 10 1 1 0-14 0-1 5 10 0-4 2 9 4-9 2 5 4 5 3-13 0 3 0-4 1 3 2 7 1-13 3 13 9-9 0 0 5-3 0 10 6-10 2-1 5 10 11-8 0-19-3-11-11 4-5 3-2 2 0-8 0 16-3-14-1-1-2 7-1 8 0-15-1 4-1 7 0-2-1 2 0-3 0-5-2-5-2 22-3-22 0 15-3-4-1 9 0-4-2-8-1 5 0 8-2 2 0-11-3 3 0-13-1 7-1 11-6 1-6 3-6-11-7-9-6 19 27-26 11-15 2-6 1 15 1 3 0-11 1 11 2 5 4-16 3 10 0-10 1 1 1-6 1 20 2-10 1 1 2-8 1 3 1 0 0-9 0 6 0 6 1-7 0-2 0 8 1 9 1 4 1-16 2 9 0-5 0-11 0 15 1-2 0-11 2 11 2-11 0 15 1-17 0 7 0-5 3 11 2-2 1 4 1-16 0 3 0 17 0-5 1-2 1 7 2-8 1-7 0-1 1-1 1 13 0-13 4 12 1-14 1 3 6 15 3-12 1 2 4 2 0-11 2 0 2 2 19-27-5 2-6 22 0-9-5-9 0 1-1 5-1 7-2-3-3-14-1 15 0-7-2 9 0-19-1 5 0 1-1 6-1 2 0 0-1 7-1-17-1 3-1 8-3 7 0-10-1-3 0 11-1-10 0-9-1 9-1-8 0 10-1 7 0-18 0 18 0 1-1-13-1-6 0 11 0-6-1 8 0 0-1 7-1-18 0 4 0-3-1 2 0-5 0 1-1 11-1-10 0 13-1 5 0-17 0 7-1-7-1 17-1 1 0-3 0-11-3-7-2 7 0-7-1 19-1-12 0 12-1-1 0 0 0 1-1 2 0-4-1-14-1 17-2 0-1-13-4 12-5-12-9 14-7-12-4 1 36-14 4-6 1 7 1-4 3 5 1-4 1 4 1-8 2 3 3-5 1-5 0 0 2 6 1-10 0 11 1-7 0 12 1-16 0 10 1 4 1-5 0 0 1 7 0-1 2-7 0 1 0 0 1-7 0 6 1-2 0 7 2-6 0 12 1-24 1 11 1 12 0-5 0 5 1-2 3-18 0 13 1-16 0 4 1 10 1-6 2 14 1 2 1-12 0 2 2-11 0 1 1-4 0 2 0 6 1-4 1 0 2 4 0 1 0-9 1 4 1-3 1 1 1-2 0 7 3 0 1 0 2-2 0 15 4-7 0-9 2 5 0-8 2 4 2-1 9-1 0-2 12-21-4 11-1-8-5 0-1-8-4 0-2 17-1 3 0-20 0 8-2-4 0 2-2 1 0-7 0 17 0 4-1-13-1 7-1-6 0 6-1 5 0-11-1 14 0-23-1 13-1 7 0-10 0-7-1 3-1 13-2-10-1-3 0 14-1-9 0 4-2-12-3 15-1-16-1 21-1-23 0 13 0-6 0 13-1 4-2-11-1 4 0-12 0 16-1 3-1-14 0-10-1 23-3 0-1-6-1-5-5 0-3 7-9-14-5 5-3 8 33-19 6-18 0 9 2 6 0-5 5-10 0 12 3-7 0 8 5 4 3-8 0 7 1-13 0-1 0 8 1-7 1-2 0 2 1 3 0-6 3 1 3 0 0 10 0-14 0-2 3 12 0 1 1 2 0-5 3-5 0-4 2 0 0 8 2 5 2 0 0-5 1-2 1 9 3-13 4 5 1 12 6-21 1 4 1 19 7-10 14-30-13 3-7 1-1-10 0 7-2-9-5 1 0 10-4-10-1 5-7-2-1 10-4 5 0-15-1 20 0-1-1-7-2-15-1 23-1-16-1 8-6 8-14-1 26-26 4-13 4 7 3 4 4-3 4-7 4 2 2 6 1-9 4 11 2 1 0-2 5 0 8-6 6-12 12-5-16-1-5-16-1 11-6 8-2-5-15 2-14-2 56-33 25 9 20-15-12-11 0 25-26-6-2-3-10 0-3 12-29 20 11 7 6-7 3-5 1 7 8 2 1-12 8-7 20 15-4 10-6 11-1-7-3 11-21-3-3-10-4 14-7 4-1-20-6 7 0 16-3-24-3 10-29-1-27 18 15 4 6-2 1 10 3-1 1 11 2 0 1-17 1 16 4-13 2 8 2-2 0 4 1-16 3 12 1 2 1-3 0-4 0-3 4 10 3 3 0-18 1 18 1 0 0-6 1-11 0 2 1 4 1 9 0 0 1-6 1-13 2 21 0-5 10-12 7 11 4 3-28 22-8-4-1 13 0-14-1 4-1-2-1 4-3-13-2 4-2 10 0-9-3 9-2-11-1-2-4 11-1-12 0 9-3 10 0-4-2 1 0-14-2 1-2 17-1 1-1-1-2-17-2 17 0-1-2-13 0 3 0-1 0 7-2-9-2-6-40 36 6-5 14 10 1 0 1 2 0-9 4-11 3 8 1-2 0 10 0 6 1 0 0-3 2-7 0-6 1 2 1-9 1 3 0 13 0 4 1-15 0 0 0-1 0 9 1-8 0 10 0-13 1 19 0-1 0-11 0 10 1-12 1-2 1 12 1-6 0-9 1 15 3-16 0 0 1 0 0 16 0 2 1-2 0-15 1-1 1 18 4 0 0-9 1 11 0-15 4-2 0 16 1-16 0 8 3 10 2-4 4-18 1 7 0 4 1 13 1-18 1-3 6 8 2 4 9-4-16 15-14 1-1 18-7-19-1 1-1 0 0 0-2-1-1-1-2 23-1-12 0-10-1 1 0 0-2 3-1 3-1 10-1 1-1-16 0-3 0 2 0 2-1 14-2-13 0-2 0 14-1-6 0-9 0 1 0 14 0 0-1-10 0-5-1 5-1-7 0 12 0 8 0 1-1-6-1-7-1 0-1 13 0-8-1 0 0 3-1 5-1-18-1 3 0 5 0 12 0-22-3 5 0 15-1 2-1-4 0-6 0 3 0-7-1 1 0-4-1 16 0-10-1-4-1-6-1 22-2-12-3 4-2-10-2 16-2 1-1-7-1 6-1 1-4-13-2 11-4-15-19 32 2 3 3 5 0-2 1-5 4-4 3 11 2-15 0 14 1-19 3 23 1-5 0 3 0-6 3-7 0-9 1 13 2-7 0 12 0 1 1-13 0-4 1 17 0-7 0-3 2 10 1-1 1-7 1-9 1 13 1 0 1-3 0 8 1-20 0 0 1 18 1 6 1-13 3-5 0 1 0 10 1-10 2 0 1 3 0-5 1 10 1-1 0 10 0-17 1 0 0 3 0-4 1 4 2-1 0-1 1 7 1-8 0 2 2-2 0 14 3-19 4 4 27-3-35 22-4 4-2 1-8-5-1 0 0 9-2-5-1 2-2-1-2 12-5 4-3 2-1-20 0 5 0 7-1-15-1 4 0 9 0-7-1 10-1-15 0 0 0 5 0 5-2 13 0-15-1 1 0 0 0 4 0-1 0 1-1-7 0 2-1 0 0 2-1-4-1-2-1 4 0 7-2-1 0-4-1 1-2 3 0 8 0-1 0-3 0-4 0 2-1-4-2-3 0 2 0-3-1 4-5 6-1-9 0-1 0 5-1-11-1 21 0-19-1-1 0 20-2-10 0-1-6 10-1 1-2-1-8-2-3-14-14 20 4 22 2 0 3-11 4-1 2 9 4-14 0 11 2-9 0-4 0 15 1-8 1 5 1-12 6 2 2 7 0-4 1 11 0 1 0 0 1-9 1-3 1 1 0-3 1 7 0 4 1-1 0-3 3-2 1-5 1 11 1-17 1 9 2 9 0-14 1 9 1-3 1 12 1-18 0 1 0 9 4-10 6 0 1 1 1 2 4 7 6-11 5 9-16 29 0-17-12-1-1 21-1-16-7-1-1 14-6-16-8 14-2-4-1-3-1 6-1-15-5 23-5-8-2-8-5-4-8 12-1 0-10-2-15 7 1 26 16-9 1-12 0 14 5-14 6 0 9 7 2-7 2 14 4-14 1 5 0-3 2-2 4 5 3 0-17 20-8 0-7 15-4-8-1 13-5-15-6-1-1 13 0-2-2-11 0 3-3 16-7-20-2 17-13 8 9 9 27 1-25-4-7 15 0-7-12-17 25-7 2-9 11 0 4 15 4-14 11-9 8-1 21-10-14-14-2-1-1 1-5 0-15 6-8 13-6-29 8-16 15 5 1 12 2-8 0-3 2 7 2-13 2 10 2 13 3-12 2 6 0-17 4 9 0 12 2-6 0 9 1-5 1 2 1-6 5-14 1 15 2 2 4-1 19-11 5 0 30-29-6 5 0 2-5-6-1-1-4-2-5 0-2 16-2-15-7 0-1 6-2 15 0-10-2-3-1-5 0 6-3-5-3-3-2 9-2-9-1 11-1-12 0 7-2 6-2 7-5-7-2 7 0 1-2-12 0-5-3 5 0 11-2-13-4 1-2 8-5 1-1-7-10-10 22-8 3 1 1 4 2-17 1 9 2 9 0-7 7 6 3-9 1-10 1 19 0-16 0 17 3-12 0-3 2-6 0 18 0-2 1 3 0-6 0-16 1 17 0-10 0 4 0-1 1-10 0 15 0 7 1-6 0 8 0-20 0 9 1-11 0 15 1 0 1-12 1 17 0-8 1 9 1-23 0 9 1 11 0-12 0-2 1 3 2 7 0-14 1 17 0 5 0-14 1 5 1-7 0 1 1-5 0 2 1-5 1 8 2 8 0-6 1 2 1 3 3-8 4 0 7-8 2 9 4 1 34-33-5 2-9 0-1-2-1 18-4-1-2-14 0 5 0-5-3 10-3-10-3 18 0-14-2-9 0 18 0-3 0-4-1-2-1-2 0 16-1-20-1-3-1 9 0 0 0-1-1-7 0 2-2 6-1-8-1 15-1-3 0-3 0 7-1-11-1 17 0-12 0 0-1-5 0-6-1 19-2 3-1-22-2 2 0 3 0-2 0 19-2 1 0-18-1 2 0-7-1 24-1-20 0 14-1-3 0-2 0-10-1 18-1-18-1 14-1 4 0 2 0-20-1 11-1 2-1-7-3 7-7-8-1 13-3-2-1-5-7 7-1 3-4-10-4 10-16-3 44-34 2 11 6-7 1 5 1 2 1-13 2 11 1-1 1-3 1-8 1 3 1-11 0 5 2 0 0 1 1 0 1-5 1 13 0-8 1-1 0 10 0-8 0 8 0-2 2 6 1-3 1 0 0-1 1-7 1 1 0 7 1 5 0-18 2 10 0 4 0-6 0 0 1 11 0-2 1 2 1-16 0-1 0-3 1 2 1 3 1 5 0 6 1-12 0 17 1-17 1 13 0-5 0 9 2-16 1 2 1 6 2-14 1 14 1-4 1-6 0-5 0 14 1-12 0 10 0 5 0-18 2 24 0-18 1 0 0-5 0 7 1 8 2-7 0 11 1-11 2-7 0 14 2 3 1-19 0 11 1-9 1 14 9-14 1 5 12-7 11-20-11 5-4 7-7 2-1-7-2 10-1-16-2 15-1-16-1 0-1-3 0 21 0-3-2-11 0 0-1-5 0 3 0 7-2 2-1 4 0-15-1 0 0-5 0 11 0 11 0-17-1 16 0-18-1 1-1 18 0-3-1-8-2 4 0-3-2 9 0-14 0 7-1 8 0 0 0-21-1 8 0-5 0 13-1-8-1 9-1-17 0 22-2-13-1 7-1-3 0 7-1-13 0 0-1-1 0-7-1 10-3 4 0 10-1-1-5-15-2 16-1-4-4-2-2 1 15-22 1-3 3 5 4 0 6-19 0 19 2-3 0-10 5-9 1 20 0 2 3-5 0-1 3-2 0-14 2 16 2-5 1-4 1-1 0 6 0 2 1 3 3-2 1 2 0-18 2 21 0-10 1-11 0 6 1 14 2-16 1 2 0 6 1 5 1 2 0-5 0 8 1-7 0-15 2 1 0 9 2-9 0 15 1-10 1 5 1-4 1-7 4 6 0 7 2-1 5-2 1 5 15-14 18-21-14 3-4 2-2-7-3-3-1 13-2-9-5 9 0-3-4-10-7 11 0-6-3 2-1 12-2-15-1 18-4-2 0-19-1 12-4-7-2 7-2 9-1-8-19-11-4 11 34-27 12 7 4 0 13-3 3 7 2-4 5-8 1 12 3-11 2-4 6 15 27-47-23 3-3 4-3 8-24-4-7 11 53-26 14-14 1 13 14-27 15-28 5 11-55 37-19-4-29 37 11-13 7 12 4-2 8-7 1-6 1 8 3-7 18-5 5 11 3-13 2 0 14 21-31 15-4 1-1-5-2-6-15 11-4-9-3 19-7-11-3 8-1 0-9 1-13-3-8 3-33 25 10-2 17 3 3-1 1 3 5-8 2-2 4-7 0 6 1 1 1 4 6-8 1 12 3-11 3 6 0-4 1-1 1 3 13 7 6-15-6 18-1 3-8 0-1 18-3-14-4 1-2-4-4 10-1-4 0-3-2-4 0-2 0 21-1-10 0 0 0 5-6-4-2-5 0 11-1-14-2 5-2-4 0 14 0 3 0 0-3-15-1-1-2 6 0-8 0 1-1-6-1 24-1-9-1 7 0-6-1 3-11 5-1-15-3 11-7 2-2 1-29 24 12-7 1 0 3 2 1 0 0-10 1 9 1-16 1 18 3 2 2-9 0 13 2 0 4-12 0 11 1 1 2-11 1-12 1 20 0-16 1-4 0 13 1-7 1 4 1-5 0 10 1-13 0 13 1 3 0-6 1-7 0 10 0-6 0 4 0-4 1-5 0 13 0-18 0 23 1-14 0 7 0 7 0 0 2-23 0 6 1 12 1-16 0 17 1 3 2-13 0 11 0-19 0 8 3-9 0 6 1 4 0 9 1-7 1 12 1-24 1 15 3-8 0-7 3 16 0-16 0 6 1-6 23 2-31 24-5 0-5 2 0 19 0 0-5-9-1-6 0-6-1 9 0 8-1-9-1-9 0 8 0 11-2-11 0 2-1-5 0 15-2-14 0 3 0 0-2 9-2-3-1 1 0-14-2 16-1-13-1 1 0-3-2 2 0 1-1 18 0-5 0-5-1 8-1-13 0-7-1 11 0 6 0-4-1-2-1-13 0 21 0-19-1 16-1-1-5 5 0-5-1 3-1-6 0 7 0-1-1-11 0 15 0-19-1 4 0 12-1-2-1-6 0 2-1 4-1 2-1-18 0 14 0-6-3 6 0 7-1-8-4-2-1 3 0-15-3 17-13-1-21 30 12-10 6-7 0 6 3 4 1-1 1 7 2-9 1 4 0 1 3 6 1-5 1 1 0 0 3-8 0 10 0-16 3 17 3-15 0 16 0-10 1 9 0-2 0-2 0-14 0 0 0 1 2 2 0 13 0-5 1-8 0 5 0-5 0 0 2-4 1 3 0 9 1 3 1-13 0 12 0 6 1-7 0-12 1 2 1-4 1 7 0 10 1-4 1-5 1-4 1-4 0 4 0 1 0 9 3-14 0 0 2 6 1 0 1-2 0-6 0 5 0-5 4 7 0-1 1 2 1 8 3-13 0 3 1 2 2 9 0-11 1 1 2-3 9 1 6 2-24 25-3-4-15 17 0-14-1 5 0-7-7 4 0 10-2-4-1 9 0-16-1 12-1-17-1 1 0 6-2-5-1-2-1 11-2-9 0 15 0-8 0 0-1 10-1-8 0-7 0 0-1 2 0 0-1-4 0 2-1 14 0-2 0 1 0-5-1-10-1 6 0 5 0 7 0-15-2-1 0 10 0-14 0-3 0 17-1-9 0 5-2 0-1 9-2-3-1-6 0 6 0-5-2-9-1-1 0 10-1 0-2 7 0-4-1 3 0 1-3-5-2 7-3-7-1 8-3-15-10 15-19 25 7-5 5-1 2-4 2 9 1-18 4 2 1 6 3-7 2 16 2 2 0-2 1-22 0 8 1 14 2-4 0 3 0-5 3-2 2 10 0-1 0-17 0 0 0 17 1-21 1 2 1 5 1 12 1-12 0 10 1-14 1-2 1-3 1 5 2 10 1 3 1-2 4-1 2-9 0 15 1-19 5 3 2 7 21-10-34 32-11-7-1 5-3-7-2 0-1 12-1-6-1 6-4 1 0 7-1 2-3-5 0 2 0-15-3 1-1-1-1 13-2-3-7 0-2 10-4-2-1-10-2-12-9 21-6-1-23-9 11 25 0 9 6 1 1-20 5 7 0-2 7 15 6-18 4 9 7 4 4-10 2-3 0 2 5-1-24 28-4 3-8-10-3 5-13 10-4 4 0 5-12-23-13 40 5-9 30-5 1 15 9-14 21-1-46 26 22-25-13 5-38 15 36-41 0 11 3-9 9-6 3 8 0-9 10 19 12-15 22-30-6 3-2 11 0-3-4-4-5 12-1 0-3 0-1-9-7 2-1-3 0-7-3 5-11 15 0-9-5-5-2 4 3-36 4 19 8 1 1 2 4-20 7 16 3-2 3-13 3 14 2-7 3-7 2 2 0-5 1 11 0-1 1 12 1-21 2 2 1 10 2-7 1-2 0 0 1-5 1 1 3 4 1-5 0 2 7 8 2 13 1-15 3-3 1-3 1 4 1-2 7 6 21-26-3-5-5 4-1-9-1 3-7 21 0-6-3-16-1 4 0 1 0-3-3-2-2 7-2-3-1-2 0-3 0 9-1 5-2-4 0 13-1-14-2 1-1 5 0-14-2 21-1 0 0-9-1-3-2-9 0 9-1-1-4 2-1-9-4 20-1-19 0 17-6-2-1 4-4-5-1 3 0-5-2-15-6 11 17-21 2 4 1-2 2-7 2-1 1 9 2-19 3 17 2 4 0 1 2-2 2-8 0 3 3 9 1-4 2-3 1 3 3-2 0-17 1 17 1 6 0-19 0 6 2 1 1 1 0-8 0 11 1 5 0-8 2-11 0-1 4 19 0-2 0-7 0 7 1-11 0 16 2-12 1 0 0 8 1-5 0 1 2-6 0 11 2-19 3 7 0-4 9-4 0 0 1 24 6-21 10 7 1-6 2 0 20-16-1-12-4 0-4 13-4-8-2-6-1 6-1 18-2-13-5-2-1 12 0-4 0-6-2-6-1 7 0-5 0-5 0 17-1-15 0 0-2 8 0 3-1 5-3-6 0-14-1 2-2 7-1 11-1 2 0 2 0-18 0 18-2-17 0 9 0 8-1-7-1-15 0 9-1 11 0-13 0 7-1 6-1-4 0-8-2 0-1 14 0-1-1-12 0 11 0-7-2-7 0 6 0-8-1 2-1-6 0 7 0-2-1 9 0 6-2-6-1-1 0-14 0 12 0 3-1-6 0-8 0 19-1-10-1-6-4 4 0 12-2 1 0-17-1 10-1 0-1 7-2-2-2-19-1 13 14-22 2 1 10 4 0-4 3 3 1-4 0-12 1 14 2-1 1-7 0 7 1-4 2-2 2-6 0 16 1 2 2-10 0-13 2 14 0-3 2 1 2 0 0-4 0 1 1-1 0-8 1 14 1-3 0 12 2-19 1 1 0-2 0 11 1 2 2 2 0-7 0 3 0 7 0 0 0-1 1-6 1-2 2 8 0-19 1-2 1 13 0 1 1-4 0 0 3 4 0-12 0 14 1 6 0-18 1 1 0-5 1 6 1-3 2-2 1 0 1 10 2-10 1 0 2-1 1 14 1 10 4-22 2-1 18-9-1-3 0 3-2-16-1 1-2-1-6 2-1 14-4 6 0-19-1 16-3-16-2 12 0 2 0-5-1-2 0-1-3 9 0-15-1 20 0-23 0 14-1 7 0-7-1 8-2-5-1-14-1 19 0-19 0 10-1 4-1-1 0-8-3-9-1 16-1-8 0-7-1 16 0-10-5 4-2 4 0-3 0-1-1 7 0-6-1 1 0 8-1-12 0 5-3-7-1 14 0-5-1 3-2-14-1 11-2 4-5-12 10-9 17-19 0 15 3-4 5-4 1-3 1-7 2 1 0 12 1-15 1 11 0-10 4 8 1-8 3 19 0 2 3-13 0-6 1-2 1 6 2 0 0-1 0 14 0 1 1-2 1-14 0 5 1-10 1 20 3-7 0-8 0-5 1 4 0-3 1 2 0 4 1 2 1 7 0-10 6 2 1-2 0 0 7 18 7-8 25-35-9 15-2 2-1-16-12 15 0-11-5 9-3 4-6-24-2 9-5-3-1-3-1 15 0 3-1-5-2-3 0-3-1 11-1-8-1 7 0-11-1-3-1 0-2 10-1-2 0 10 0 0-15 0-5-7-3-3-1 7 26-23 15-7 6 4 1 4 4-8 8-7 1 9 8 6 5-9 2-1 2 5 0 5 3-14 6-9 22 4-10-10-3-15-3 18-7-3-6-1-2 5-2-3-1 3-2-9-2 1-3 8-2-12-4-1-4-2 50-24 10 7 6 1 4-12" marker-start="url(#b)" marker-mid="url(#b)" marker-end="url(#b)"/>
<path d="M1424 2484l64 59-67 0-1 5-33-4-22-10-36 12-11 22 29 2 67-4 17-4 7 6 22 3 93 13-31-8-5 4-11 19-21-19-5 4-8 4-8 3-1 8-6-6-8 2-12 1-8-8-12 2-3 2-1-5-20 12-2-19-15 11-25 7-5-22-53 44 34-8 0 2 26-12 2 5 19 7 10-1 26 9 3-16 1 0 2 13 3 5 4-9 0-10 2-1 1 15 3 5 2-11 3-9 3 17 10-4 16 2 7-2 2-1 29 7 9-9 6-1 10-9 15 41-9-9-29 3-8-5-7-7-4 19-1-3-9-11-19 1 0 2-2 6-7 0 0-5-4 4-5-8-1 15-2 0-3-14-4 14-5-12-1 3 0-11-1 7-2 5-2 5-6-15-2 14 0-11-2 12-3-3-1-11 0 4-13-8-1 4-9 10-8 8-21-4 0-19-4 4-6 3-8 14-27-10-6-2-14-2 27 27 29 10 9-6 2 4 1-2 3 4 3-12 8 8 2 4 1-1 3-3 2-15 0 14 6 8 1-12 0 6 0-10 2 8 0-12 6 0 2 3 1 4 0 8 7-7 1-8 2 17 1-11 0 15 1-3 1-10 1 11 0 1 0-6 0-4 3-2 4 12 1-8 0 0 4-13 1 13 1 8 0-7 2-10 2-5 1 9 0 15 1-5 5-14 3-4 2 2 3 3 3-3 1 19 2 1 4-11 10-7 2 12 3-10 2 6 4-4 1 3 2 6 1 5 2-7 8-5 1-7 2 13 20-11 9-4 33 38-6-2-13-4-10-8-2 1-1 11-13 8-16-7-3 0-7 0 0-10-3 10 0-5-1-7-6 10-15 2-3-8 0 16-1-6-3 5-3-5-1 5-1 1 0-2-5-10-1 6-3-9-3 11 0-18-2 22-2-7-2 7-1-8 0 2-4-10 0-4-4-2-1 9 0 11-1-10-1-7-2-1-1 4 0 5-2 4-1 5-1-12-1 6-1-5-1-9-1 10-5 2 0-11-2 6 0 5-6-3-3-7-1 10-2 10-1-15 0 9-7-15-6 21-6-11-1 5-1 3-2 2-6 1-2-5 0-7-4 0-5-7-1 7-3 5-7-8-12 8-8-2-15-5 4 17 1 5 7 4 8 10 3-4 4 7 7-6 0 7 2-23 3 24 17-24 2 17 4-8 1-4 0 14 2-14 1 11 2-9 10 8 3-6 4-9 9 6 2 14 1-4 0-1 2-12 1-2 1 3 3 5 1 6 4 5 2 2 5-2 2-17 2 9 4-6 0 4 4 8 2 4 8-20 5-1 1 5 4 13 4-12 2 17 0-10 3-14 0 3 1 3 6 10 0 7 4 1 2-23 1 22 8-3 2 4 3-3 1-7 5-3 21 6 1-10 6 17 3-19 13 0 39 39-25-3-14-12-3 5-2-6-17 14-12-9-2 6-1-9-17 7-3 11-2 1-4-11 0 7-1-6 0-2 0 8-4-3 0 4 0-8-1-6-6 13-2-10-4 7-2-6-1-10-1 20-2-20-1 10-3 7-1-2-2-15-2 8-1 0-7 9-3-11-5-4-1 16-2 3 0-10-2-9-1 17 0-5-3-15-2 5-1 7 0 7-7-15-1-2 0 12-3-11-4 19-1-8-5-7-1 13-1-5-11 3-4-6-3-1-18 9-1-7-7-4-4 14-82 24 53-6 18-2 5 10 15-22 7 8 9-6 3 13 11 7 2-12 4-8 10 1 12 17 0-20 3 0 2 16 8-17 13 13 3-3 2-5 6-4 1-2 1 24 8-24 3 19 4-13 12 9 2 0 0 2 12 5 26-4 21 6-20 23-4-1-35-3-9-17-20 12-5-4 0 8-4-13-6 17-3-17-4 2-2-6-10 5 0 0-42 8-47-10 12 46 8-7 32 2 31-17 4 2 24 7 3-11 2 5 1-4 2 22 13-21 0 2 3 19 1-2 2-11 1-10 28 12 54 5 22 17-48-8-35 21-23-18-10 0-4 1-3 16-2-1-3-14-101 1 6 41 59-11 31-12-95 44 63-27-35-38 10 16 3-20 29 2 1 16 2-17 17 9 2-6 51 13 4-3 27-14 20 15-33-19-9-21-55 12-3-11-21 1-3 5-2 1-3-3-20 16-10-16-5 14-1-2-12-2-6 5-11-5-27-18 13-12 16-10 11 6 7 10 9-7 13 0 9 11 4 4 27-1 0-7 4-2 4-9 1-3 3 12 7-9 0 16 1-1 0-2 7-16 0 7 26 0 22 6 24-4 28-5-9-24-24-7-2 11-2-2-7 6-6 6-2-19-6 9-4-10-11 6-1-4-4-2-5 12 0 5-6-8-8 11-6-3-2-13 0 17-4-11-6 3-2 0-1 1-1-2-1-9 0-1-2 18-5-19-1 4-2-5 0 20-2-7-2-8-2 6-3-7-4 8-3-12-3 14 0-7-1-1-4 0-2 5-2-11-9 6-1 4-21 10-7-17-2 2-6 5-8-5-6 9-15-1-13-1 9-22 25 4 6-20 14 17 5-1 1 8 2-22 4-2 1 11 1 4 2 2 1-12 4 18 1-18 1 9 2-11 6 19 4 2 2-15 6 2 4 2 3-4 1 14 0-23 7 16 3-15 2 23 3-16 3 4 1-3 0-6 1 20 2-7 5 2 0-15 5 9 2 2 2 6 1-11 5 4 0 2 8-12 6 15 2-2 5-10 1-3 8-1 1 16 0-7 1 0 4 5 1-4 16-12 1 16 8 6 13-15 18 13 4 4 10-16 10-28-1 0-23 7-2 10-9-13-3 1-14 14-2-24-4 11-6 9-1 3-7-21-4 14-2-13-2 7-3-9-2 22-2-14-1 12-3-8-1-1 0 10-6-18-1 5-2 0 0 10 0-7-1 8-5-10 0 12-2-3-2-11-2 0 0 14-1-20-2 21-1-11 0-5 0-6-3 23-3-1-3-9-2-9-2 1 0-4-3 19-2 1 0-21-1 8-1-1 0 8-1 0-7-2-1 6 0-17-2-3-4 9 0-5-1 1-4 16 0-1-2-3-3 6-2-10-3-11 0 17-2 0-7-8-6 7 0-8-1 13-3-14-7-6-9 2-3 8 0-5-3 3 0 13-6-19-13-3-4 7-8-5-3 15-43-27 7-13 39 16 2-5 2-13 3 13 9-5 3-6 14 6 13-6 2-3 4 12 0-11 5 10 16 12 1-9 0 0 0-15 4 19 1-12 0 6 0 3 1 2 5-12 1 11 0 6 1-5 3-5 6 4 2-7 0 13 5 0 0-7 2 5 1-7 0 0 1 3 7-7 1-7 0 10 4 6 1 0 1-18 2 19 2-7 1 1 0-9 1-4 9 14 2 1 0-12 9 15 0-12 3 9 1 5 1 0 2-10 10 13 11-11 4-11 10 21 3-13 21-2 2-11-8-21-21 22-4-13-4 6-9 5-3 0-14-8-3-10-4 18-1-19-2 0-4 14-6 0-5-9-5-2-3 2-6 17-2-6 0-12-1 3 0-4-5 19-4-24-1 20-2 1 0 3-1-16 0-1-1 15-1-1-8 2-3-22 0 15-1-11-11 18-2-21-3 5-5 17-1-20-2 6 0-1-10 14-4-5-1-15-1 18-7-4-3-1-2 2-10 6-3-8-5 7-5-22-6 8 21-33 12-1 4 1 0 0 5 12 3-10 9 20 6-2 1 0 2-13 11 11 8-3 1 3 4-8 5-5 6 3 13 4 3 9 0-7 1 9 2-4 4-17 10 15 6 4 2-18 4 18 3-14 1 3 13 6 0-13 1 0 9 19 5-11 19-1 36-9-36-20-12 6-4-3-6 11 0-4-7-12-7 10-8-13-2 0-11 19-2-17-21 14 0 5-12-2-8 2-4-2-5-16-5 16-1 2-13-19-15 17-13-3-1-4-5 4-14-12-6 18-1 0-14-4-11-20-18 2 20-23 26-4 41 8 23-4 2 0 5 14 45-13 13 18 6-5 56-4-24-22-52-7-7 12-9-4-4 0-18 5-17-8-2 9-5-3-28-1-4-12 39-14 28 1 1 2 21-2-6-42-33 15-58 2 105 14-1 0-110 8-4 9 47 13 4 2 2-8 10-6 2 19 1-2 14-8 5-2 4-8 18 12 19 1 15 3 40 21-8-13-54 22-6-7-8-6-13 9-3-10-23 2-14 10-2 3-23-16-4 12-70-17-1 40 21 7 41-4 5-13 11-6 1 4 4 6 2-10 3 17 23-15 4 12 9 9 16-6 0-5 2 7 16-8 7-3 10 3 0-8 11 6 0 4 1-6 0-3 26-2 0 18 57-2-42 14-24 16-1-9-1-12-11 6-11-2 0 11-3 2-7-4 0-11-1 19-1-8 0-4-10 9-3-2-5-15-1 2-1 11-7-9-13-5-1 14-7 4-3 3-1-3-6-15-2 7-4-6-3 4-2 13-6-14-3 7-7 1 0 6-3-17-20 17-3-10 0-12-1 20-1 1-8-19-22 21 12 20 6-20 5 10 2-7 6 7 13 7 5-11 0 8 1 5 4-12 1 2 7-2 6-2 1 6 0-7 1 12 2-16 0 15 5 8 1-2 0-20 3-1 0 18 3-2 1 7 1-8 4-5 1-7 0 19 1-22 9 6 2 1 0-1 5-1 0 4 3 15 2-17 2 7 4-14 3 9 0-6 5 10 1 2 1-4 1 12 6-19 5 16 3-9 5 8 8-4 11-12 4-3 2 11 23-5 0-6 7 20 21-11 12 11 3-9 49 2-55 15-23 21-3-11-4 0-3 2-11 7-4-13 0-5-11 15-2-9-2 6-2 0-2 7-1-14-3 14-3-22-17 17-3 4-3-6-3 1-10 3 0-11-1-5-2 12-4 8-5-10-4 3 0 0 0 3-1-17 0 19-2-16-4 8-1 1-10-7-1 8 0-13-3 3 0 17-3-11 0 11-1-20-1 12-1 7-2-22-1 18 0 3-1-6-4 6-4-19 0 5-11 4-6 3 0-13-2 11-12 1-5-5-6-7-3 22-1-15-5 15-10-11-72 15 24 1 24 1 15 4 9 6 9-5 10 4 8-8 4 5 6 14 1-2 3-12 1 14 7-20 0 8 0 1 2-1 2 6 3-4 11 10 5-3 6-18 0 14 2-17 1 21 1 1 0-15 6-2 0-5 2 1 1 8 1-2 2 4 1 3 1-9 1 1 0 13 1-3 3-9 2 10 2-16 1 9 1 5 3 1 0-2 1 8 1-13 1-4 2 7 1 0 1-10 6 18 0-14 0 3 1 4 1 7 0-10 5 7 2 7 2-19 0 5 3 8 4 2 0-14 0-2 6 4 2-4 12 1 0 12 3-10 6 8 4-1 1-6 0-5 12 10 2-5 19 2 29 22-30 5-29-2-2 11-6-10-3-3-2-7-5 23-2-17-3 1-2 5-3 11-14-7 0-2-6-14-1 2-4 8 0 0 0-5-1-1-5 13 0-13-5 14-7-16-3 11-7 2 0 0-4-9 0 16-2-9-2-12-6 5-1 12-2-3 0-3 0-9-3 1 0 1 0-2-3-1-6-3-1 22-2-19-5 3-4 16-1 2 0-23-4-1-5 2-9-1-3 0-20 5-2 15-3-12-38 25 0 2 23-9 6 10 13 12 7-15 8 6 11 3 12 2 1-20 6 18 8-6 2 12 1-12 2-8 2-1 3 17 3-6 6-10 5 2 1 8 5-4 2-4 0 9 2-7 3 13 2-17 2 2 5 11 1 2 7-16 9 9 1-7 3 7 0-1 1-2 4 13 3-20 2 3 2 6 2-4 2 7 8-4 41-9 18-1 10 27-2-2-23 5-25 7-27-3-9 6-5-7-6 4-10 8-2-12-1-2-1 15-3-19-2 16 0-11-4 8-3-8-3 3-5 13-3-5-7-12-1 4 0-6-3 16-13-19-18 23-2-10-6-13-30 2-1 3-26 1-45 19 79 19 22-9 3-3 0 11 24-4 1-15 24 9 9-6 1 0 10 8 20 1 6 0 3-4 7-5 1 7 23-10 8 3 10 41-18-19-11 7-25 17-25-22-23 13-8-6-29 1-12-6-35 9 12 14 49 0 15 1 47-1 31 20-16-14-107 9 26-36 7 10 13 8 1-21 1 2 5 17 10-13 20-5 15 5 5-1 27 5 16 2 80-20-95-12-4 4-5 9-22-14-7-6-33 1-5 2-40 0-5-1-4 20-1-23-1 23-4-23-52-20 42 3 11-7 21 17 0-15 7 5 10-3 7-4 9 10 16 4 0 3 5-17 6 1 1 5 8-4 1-3 1 20 7-5 12 1 3-10 1 5 3-5 1-6 0 0 5 17 3-14 4-1 3 8 6 13 10-21 5 12 2 7 31-7 12-21-41 4-19-6 0 0-10 8-2-19-7 14 0-19-5 22-7-17-2 5-3 7 0-5-10 4-1 0-3 1 0-1-3-11-3 17-1-2-15 1-3-10-4 8-3-4-1 0-2-5-3-3-11 1-1 9-1-3-1-10-2-1-2 3-2-6-3 16-5-16-2 14-7-8-4 5-3 1 0 9-7-8-1-2-15 0-2 5-2 2-41-14-14-2 19-19 23 2 2 3 11-9 4 19 1-16 0 1 7 12 0-8 2-1 1 6 3 2 2-1 0-16 5 6 4-8 1 4 2 12 7 3 3-14 2 2 5 1 5 1 4 14 3-15 0 4 1-2 1-7 0 11 6 10 1-6 0-12 2 13 1-19 1 11 1 0 8-6 4 19 4-6 0-8 1 12 1-18 0-4 1 19 2-9 5-10 2 17 2-8 4 13 0-5 0-15 4 9 1-2 3 11 3-11 6-5 4 8 4 2 1-5 5 12 3-12 2 8 13-7 8-1 20-7 23 6 3-24-12-1-10 16-14-3-1-6-19-6 0 5-1-7-10 1-11 0-3 11-2-17-2 18-1 0-4-9-3-4-1-4-1 5-2-2-1 4-3 12-12-19-2 3-1-3-4 11-2 3-4 4-4-18-1 12-3-13-1 13-1 7 0-10-1-1-1 10-1-3-2-16-1-1 0 10-1-9-1 8-1 10-5-16 0 6-1 14-1-18-13-5-2 3-4 19-1-13-11 5-3-8 0 15-2-9 0 5-2-4-2 8-1 2-9-22-3-1-2 23-13-18-30 1-32 6 57-37 10 1 8 14 1-8 0 13 1-8 2-7 5-4 1 1 0 10 9 7 2 4 1-23 5 11 7-7 1 8 3-6 0 1 8-1 8 9 1-1 0-11 1 11 0 3 0-10 0 4 0 0 8 3 4-12 2 0 1 19 1-10 1 10 4 2 5-24 4 7 0-1 0 3 2 10 1 4 2-10 4-9 8 13 2 0 3-8 1 3 5-5 6 15 1-8 3 3 1 3 7-9 8 10 5-5 4 4 1 0 0 4 12 0 3-5 28-23 0-2-11-5-2 3-8-16-6 21 0-2-5-15-2 17-6-18-14-1-3 1-2 16-2-3-1-8-7 2-1 10-2-9-6 8-6 2-4-18 0 20-4-5 0 4-1-4 0-3-1-10 0 6-2-8 0 8-3-8 0 9-6-4-2 14-7-18 0 6-2-2-2 10 0 4-4-2-4-1-5-11 0-6-1 8 0 2 0-12-1 8-9 9-3-18-3 19-2-3-1-13-2 5-1 0-7 7-3-5 0 10-2-7-1-4-4-6-7 15-21 5-6-17-7-3-6 8-25-21 29 1 24-6 1-4 19-4 8 20 6-21 1 2 8-3 2 13 1 7 0-20 9 1 4 20 2-4 2-8 1 4 10 3 14-16 0 17 0-15 8 1 8-2 5 4 4 5 4-1 4 4 4-7 10-6 1 5 1-3 13 7 7 14 1-6 0 4 6-5 5 2 7 0-13-22-3-1-1-4-17-5-3-7 0 19-24-4-4-10-15-2-11 8-10 8 0-21-12-2-11 16-1-6-2-8-2 16 0-14-3 18-5-11-4 7-7-9-13-3-5 3-1-4-7-4-3 5-3 2-3 15-6-14-15 7-31 8 42-37 54 12 0-7 10-13 7 9 17-5 9 15 2-3 0-13 3 2 0 15 7-14 10 14 5-4 20-20-28-10-10-6-1-2-11 4-33-2-15-24 22-4 7-2 14 13-50-2-23 15 41 12 2 0 11 7 22-8 4 6 22-17 1 6 4 12 33-22 66 7-35 28-73 10-35-11-2-6-26 8-15 0-5-3 0 10-20-4-63 24 17-3 13 13 25-3 18-12 10 14 9-19 10-1 0-3 5 19 3-3 5-2 19-12 15 1 9 19 2-4 10 2 4-12 1 2 3-4 94 9-38 23-2-6-4 9-1-10-11 15-6-7-2 10-8-9-1 7-12-15-4 16-5-13-2 11-2-12 0-8-4 14-3 5-2 2-5-15 0-2 0 7-3-1-1-1-3-10 0 20-7-18-4 6-1-4-1 20-7-8-2-6-2-6-1 9-1 10 0-14-1 10-7 3-10-1-3-10-3-1-5 2-7-3-1 10 0-5-6 2-3-15-8 2-3 21-1-21-2 20-5-8-5-14-12 8-5-4-5-3-5 4-57-2 41 38 17-7 0-6 5 16 13 1 3-21 3 23 0 0 1-12 10 0 12 3 7 4 5-16 1-1 0 15 1 3 1-8 0-11 0 19 1-9 5 4 4 6 7-3 3 2 1-18 2 18 4-5 4 3 1 2 2-12 2 12 1-1 3 4 5-9 1-6 1 10 1-9 0-3 8-4 1 1 2 12 1-8 1 15 1-21 1 19 1-2 2-11 2 18 0-17 1 10 1-2 0 3 3-2 1-16 7 15 1-10 4 14 4 4 1-4 23-16 9 16 27-19 97 35-34-4-31 13-8 3 0-8-25 10-3-7-2 0-2-6-3-1-1 14-2-14-23-8-4-1-1 20-3-13-4-3-4 15-1-18-2-2-5 2 0 16-2 1-1-10-9 2-5-1-5 9-2-14 0 16-4-11-3 6-6-2-1-7-2-6-3 21-4 2-2-14 0 7-4-2-4-9-1 12-2 0-7-18 0 2-1 18-3-12-1 15-4-20-1 1 0 2-1 14-7 2-2-3-4-4 0 2-9-5-1 4-5-15-10 4-3 1-9-2 0-3-5 4 0 10-6 6 0-10-19 5-4-8-21 40 25-10 2 10 37-17 3 10 6 6 1-18 8 14 3-17 9 13 1-8 1 16 9-11 6 9 6-14 2 9 1-15 1 0 2 21 2-5 1-1 2-10 2 14 1-12 1 2 1 0 0 11 3-1 9-10 2 2 0-4 1 7 3-9 3 3 4-3 1 0 0 4 0 12 2-3 2-14 0 17 0-9 3-4 0-5 3 21 7-19 0-4 4 17 1-8 6 13 1-13 3 1 7-10 10 18 4-19 2 10 5 5 8-1 29-12 21 10-44 18-3 10 0-7-10 3-4 12-7-17-2 3-2 6-2-5-2-4-1 17-2-22-7 5-1 18-3-13 0 13 0-7-4 1-4-16-3 7-1-4-2 17 0-21-2 3-2 10 0-14-2 14-1 9 0 1-8-7 0-2-2 9 0-18-4 10 0 2-5-18-2 24 0-4-5 4 0-13-2 11-1-14-2-8-1 4-1 10 0-10 0 11-1-10-5 4-1-2 0 5-3-8-8 2-4-3 0 11-1-6 0-2-7 6 0 7-1-9-2 0-10 8-3 3-11-8-1 5-2-16-43 9-18 28 10 7 23-19 10 3 16-2 9 4 4-5 0 4 4 12 4-6 4-11 2 23 17-1 3-13 5-4 3-2 7 18 1-10 0-12 5 5 3 5 0 13 6-19 3 17 1-9 1-3 8-3 4-1 7 2 4 13 2 0 7 1 1-13 4 8 6-14 2 0 7 2 14-4 12 18 3-9 18 14 3-20 14 8-56 31-15 3-14 4-4-21-1 10-8 4-1 3-11 1-1-2-4-13-12-3-4 11 0-3-1 8-1-19-2 4-1 0-11 20-3 0-11-18-1 12-7-7-4 4-1-2-6 10-5-11-3-5-2-7 0 19-2-5-13 8-20-22 11 32 65-3 17-4 10 11 9-3 3 8 10-16 6 1 2 9 4-10 17 21 3-21 2 1 6 4 4 6 43-11-49 31 0 1-61 9-2-12-1 16-13-15-6 13-8 1-42-4-25 12 124 22-65 4 100-21-59-6-61 12-19-4-27-26 53 13 24-14 32-6 14-1 91 2 29-3-62-9-31-12-36-3-16 1-1 11-12-6-21 10-43 2-25-15 2-8 13-8 4-2 11 9 5-4 16-15 1 3 5 9 0 12 1-7 14 6 4-14 2-4 19 4 11 11 17-14 2 0 17 7 5-3 3 10 9-13 1 11 2-10 9 0 7-4 75-21-28-6-23 3 0-4-10 14-5 1-1-4 0-6-9 17-2-21-9 10 0 7-3-13-5-4-1 15 0-10-10 3-3 3-2-13-2 1-8 18-3-6-4 5-1-4-4-14-13 2-1 0-3 7-7 4-3-11-1 14-12 0-1-12-3-2-1 8-10-3-2 0-1 17-3-14 0 11-1-12-12-3-1 7-9-6 0-3-9 5-39 7-8-3-22-34 29 8 2-5 5-4 9 21 4-9 3-15 4 7 6 1 12 5 3 11 7-3 2-11 3 9 12 1 2-16 3 11 2 5 3 0 0-11 11-3 0-1 2 10 6-8 0 10 1 6 1-20 0-3 0 13 4-1 0-8 1 8 1-6 0 17 4 0 2-1 8-9 2-13 1 9 2-7 4 18 0-9 1-10 2 20 1-20 2 0 3 11 1-6 0-5 1 15 2 4 1 4 6-6 3-4 0-4 1 5 3-15 2 20 3 4 1-23 10 0 0 23 3-20 0 14 16-17 15 8 4 0 4 10 21-5 22 5-27-25-7-15-10 2-4 5-2-9-9 7-13-5-3 16-4-17-3-2-3 15-6-6-2 7-7-4-5 3-1-1 0 0-2-4 0 12-2-17-1-6 0 6-1 16-2-7-1-15 0 8-1 10 0 5 0-23-3 15 0-11-4-4-1 11-3-6-4 0 0-1-5 5-7 8-1 3-2-4-2 6-4-4-2-5-1-11-3 14-7-6-1 8-5 4 0-17-1 13 0-18-1 4 0 15-2-12-5 1-1-3-3 15-2-8 0 0-4-1 0-10-8 3 0 3-37-1-6 8-14 0-26-38 54 2 3 21 1-23 1 8 8 15 2-15 4-9 0 3 1 18 12-4 8 5 7-19 7 7 0 10 2-19 0 7 1-7 0 16 3 2 4-9 2 2 2 1 1-10 1-1 2 6 11 1 2 7 2-15 0 6 1-1 0 17 1-23 0 19 1 1 0-5 0-1 3-10 0 2 9-2 3 1 8 6 1 0 11-9 15 5 3 5 0-11 1 3 2 6 14 9 5-8 9-8 2 16 5-19 1 14 1 7 25-13 4 14 1 1 19-25-8-7-33 4-35-7-5 7-7-10-1 3-2-13-20 11-6 13-3-24 0 20-1-19-1 12 0 4 0-5-4 9-5-2-2-18-2 16-1 0-2-9-3 13 0-12-2 9 0-7-8 1-1-11 0 12-7-8-3-3-1 11-1-7 0 12-3-3-4-14-1 14-3 7-1-11-1 6-4-16-1 20-1-10-1 8-6 5-2-5-1-1-1-11-13-3 0 20-8-11-1-5-3-6-8 21-4 1-9-19-2 18-6-7-10-13-15 9-26-8 17-13 1-14 38 1 16 18 5-1 13-20 8 24 7-21 5 9 3-7 3 12 9 5 0-12 1-4 2 8 3 5 5-8 1-7 2 20 4-23 10 5 4 11 1-14 1 10 1-5 3 12 2 4 0-3 6-11 3 9 6 4 3-2 6-13 7 9 2-6 3 4 4 5 1-17 6 12 2-14 2 19 0-5 1 8 1-7 2-9 9 6 7-1 21-8 25 11 1-37-27 13-1-1-48-8-8 2-6 15-7-12 0 2-5-1 0 2-11-15 0 24-4-7-2-1-6-1-6 0-1 2-7-16 0 16-5-11-7 8-7 0 0-6-1 16-1 0-2-2-2-12-3-10-7 11-7 10-6-20-3 23-11-12-6 4-30 4-11 2-17-10-16-8 54-11 25-10 13-7 58 15 3 8 17-17 17-6 2 20 18-20 23 15-10-28-28 2-2-14-35 19-2-9-3 9-9 0-105-3 12-32 146 2-13-26-17-19-86 5 110 34-69 17-26 26 1-8 9-6 41 13 51-19 7 19 32 1-7 18-24-15-9-1-12 20-11-5-27-8-7 9-2-3-14-14-7 22-20-11-17 4-16 5-24 22 3 3 21-10 8-4 6 14 12-17 4 14 8-17 4 9 5 0 16 7 1-1 1-13 9 11 2-2 1-1 3 14 3-18 2 8 8 3 1-9 0 7 3 1 14-9 0 0 2 15 7-4 0 1 29-11 8-1 21 17 0-10 11 1 24 5-13 27-17-21-10 12-2 0-19 1-5 6-1-8-7 12-1-24 0 11-2 13-4-2-2-21-3 18-11-4-2 0-6-8-4 9-11-2-1-7-1 11-3 6-1 0-1-3-1-2-2-3-2-1 0-3-2 1-11 2 0 0-1 6 0-13-1 6-1 8-1-16-7-5-9 18-3 4-16-18-25 1-10 12-14-18-14 38 28-9 5 4 5 0 2 9 6-5 2-3 1 8 1-5 2 12 3-12 2-4 7 10 1-1 4 6 7-19 5 4 1-5 0 16 0 0 2-9 0-2 2 5 2-8 2-5 1 9 5 4 2 3 0 1 1-2 2 9 5-22 1-2 1 7 1-4 0 1 2-4 5 22 3-4 2-8 0 14 2-13 3 4 1-15 2 20 4-4 5 6 3-22 5 1 1-1 1 17 2 2 3 3 5 1 3 0 1-2 1-1 3-5 7-9 4 8 0 10 1-4 11-19 5 14 19-6 3 4 0-6 61 35-33-3-27-13-1 14-6 8-3-9-20 1-1 1-3-6-3 13 0-2-7-1-3-18-3 13-2 8-3-21-3 3 0 13-1-18-2 5-3 8-1-8-1 3-1-6-1 4 0 7-2-7-1-5 0 12 0-13-1 18-2-16-2-1-3 4-1 1-1-4-1 18 0-14-1-4-4 6 0 16-3-16-1-4-1-1-1 21 0-12-1-6-3 8-10 9 0-12 0-1-7 9-1-12-12 0-1 14-5-2-3-16-17 7 0-10-6 9-5 3-3-12-2 9-4 2 0 10-22-13 0-1-20 2 10 26 11 10 4-6 24-10 4 2 3-4 1 22 1-8 7 8 4-4 1-13 0 9 3-4 2 2 7-12 4 22 2-23 3 17 0 1 3-14 1 16 5-14 1 5 1 10 3-14 0 12 0-12 1 6 6-10 0 4 5 8 15-14 0 6 0 14 2-2 7-5 0 0 2 6 0-21 6 2 13-1 3 14 2-14 9 20 1-14 2 6 1 11 9-18 9 18 3-21 12 4 0 1 5 3 14 8 3 30-7-22-26 12-15 4-8-15-8 16-3-3-2-8-1 6 0-2-1 12-1-13-2 2-6-11-1 6-1 4 0-2-3 3-5 8-2-6-3-1-11-10-1 18-1-19-2 17-1-3-2 5-2-3-1-12-2 4-5-2-9 5-3-5-6-4-2-5 0 21-3-11 0 11-2 3-5-11-5-3-4 11-2-15-3 5 0-5-6 2-2 13-15-8-12 5-4-3-6 8-3-15-10 34 11-1 1-16 13 2 11 0 12 10 7 6 8-18 0 14 8 3 4-11 0 1 5-7 3 0 1 21 2 2 1-4 0 5 1-15 8 15 1-19 3 18 4-12 1-5 0-3 2 20 2-8 2-7 3-1 1-3 5 1 4-4 1 12 2-5 2 1 5 14 7-4 2 1 4-2 2-13 6 8 0-1 12-9 10 3 16 15 2-12 18 3 6-11 18 12 58-5-80 20-22-1-4 2-25-1 0 18-4-21-2 7-4 5-9-11-15 23-2-20-4 16 0-10-3-4-5-6-6 7-2 12-1-12-2 10-3-12-3 2-6 17-4-9-3 4-12 0-2-2-11-15-3 17-1 1-4-9-3 1-4 1-5 2-17 8-9-5-40 24 35-7 18 8 29-10 3 7 20-4 27-6 13 6 0 11 1-16 6 3 2 13 2-7 1-1 17-5 78-2-81 32-5-12-2 5-13 16-1-12-20 7-5-14-24 6-2 5-64-10 107 22 5 1 15 2 25 11 51-13-88 56-32-20 7-32-135-6 46-10 64 0 22-9 3-6 39-1 8 24 4-21 26 6 3-27-11 13-11-15-45 9-2-14-11 7-5 5-2-9-9-2-23 12-89 4 20-33 42-6 1 14 0-4 7 6 4-3 15-6 5-5 2 4 3 8 6-15 0 2 9 9 6 2 6-2 4 7 2-15 6 1 3-3 15 7 2-4 1 6 3 9 8-21 0 14 43-11 2-2 48 18 12-30-7 5-51-1-7-9-1-1-3 2-2 12-4 1 0-18-13 8-2-7 0-5-10 17-2-16-1 5-2 0-2-6-10 20-3 1 0-22-3 21-7-11-14-7-1 2-2-3-5 18-10-1-4-8-2 11-7-16-5 2-10-4-6 12 0-10-6 16-1-4-12-15-1 2-18 15-3-18-10 13-7-37 17-1 14 11 7-3 1-10 2 10 2 1 4-11 2 0 5 2 3 2 4 13 10 3 3-2 10-2 3-6 2 6 1 3 3-1 1-18 2 15 5-8 1 8 0-6 0 12 1-1 1-3 2-13 5 19 2-6 2-9 6-7 1 22 1-13 8 11 1-14 2 9 4-12 0 11 5 3 1-2 5-16 0 5 0 7 1 9 3-12 1 10 1-6 3 11 7-5 1 0 0-18 2 17 15-9 1 14 2-23 13 4 0 4 2 13 50-5 34-9-80-10-9-3-12-4-3-7-3-1 0 12-2 1-5-5-1 7-5-21-4 14-6 3-4-12 0 0-9 8 0-4-1 9-2-10-2 12 0 3-2-3-1-17 0 7 0 4-9 3-1-2-1 5-2-13-3 15-2-5-1 2-2-3 0-3-7 8-1-6 0-9 0 4-7-3-3-4 0 3-1-6-1 3-1 6-2-5-6-3-3 22 0-12-1 6-1-4-1 8-2-14-8-1-4 9 0-7-1 14-1-18-2 16-1-15-3 16-1-14-1-3-5 16-3-18 0-1-4 5-11 11-9-15-7 8-1 5-33-1-10-36 27-2 31-1 5 0 5 12 3 5 6 1 8-1 1-10 4 3 4-6 10 16 0-3 2-7 2-6 1 8 5 9 0-22 1 9 0 4 1-13 0 4 2 14 1-12 1 18 1-15 1 3 2-8 7 11 1 8 3-6 2-4 1-1 6-12 6 20 0-15 1 11 2 7 4-10 0-2 3 12 1-2 0 0 2-7 1-5 3 13 2-2 3 3 7-12 0-9 4-1 0 1 5 4 3 1 0 0 14 14 0-15 1-3 5 2 0 10 1 8 2-11 10 6 1-11 5 6 10-11 8 16 2 0 33-16 16-20-26-3-4 16-7 2-31-12-4 14-4-19-3-5 0 14-11 2-5-6-1-10-4 10 0 9 0-11-4 0-10 3-4-10-1 20-11-7-1 2-5 1-5-9-10 2 0 8-2-13 0 10-2-3-3 1 0 8-1-5-3-11-1 19-4-12 0 10-4-11-2 11-1-6-2-11-8 12-1 4 0-8-1-3-20 5 0-5-1 9-2 1-2-8-2 0-1 3-3 4-5-11-11 12-4-8-35 6-2 2-8-1-21-14 10-22 1 13 39 1 17-10 15 11 0-22 8 5 11-3 2 6 8-7 0 14 5-16 0 9 3-2 1 9 1-4 6 11 0-18 3 14 1-14 0 18 3 0 4-17 5 16 1-11 5 13 2-7 2-7 3 5 1-6 2 9 0-10 1 9 3-1 2 4 0-3 20-5 3 8 0-15 3 17 5-9 5 4 2-1 6-3 2 1 30 0 11 2 21-3 0-5-54-16-5-14-3 18-11 0-3-15-3 15-8-2-17-1-13-10-3-3-1 1-2 5-8-8-8 17-2-19 0 18-4-13-2-2 0 6-7 10-27-17-11 14-1 6-1-6-19-6-7 13-4-13-2 2-51 5 45-39 22 20 33-15 8 10 16-2 11-16 20 0 8 23 16-2 3-1 24-8 22 5 8-6 28-10 8-1 17 12-78-21-23-14-1 17-2 1-10-9-2-3-20 13-20-17-2 19-3-17-52 8-3-9 127-20 26 7" marker-start="url(#b)" marker-mid="url(#b)" marker-end="url(#b)"/>
<path d="M1902 2531l-25 3-90 37 52-20 9 14 3 0 20 5 30 3 2-5 55 23-70 2-37 6-12-15-17 12-54-2-8 1-11 25 11-8 14 9 5 0 0-20 4 22 8-11 1-1 3 8 31-10 2 7 11-12 2 20 8-23 3 19 3 4 6-10 5-10 2 6 3 14 11-6 8-13 4 5 0 14 3-10 1-5 3 9 6-7 8 9 38-1 28 7-36 15-2-1-27-6-1 1-3-8-2-1-2 20-3-20-3 19-9-12-1 16-4-8 0-2-2-7-3 10-2-4-2 2-1 7 0-17-14 2-2 7-1-6-1 9-6-1-2-10-1 13 0 2 0-14-2 3-16 4-3 2-10-7-7-2 0 14-1-10-3 6-2-12-2 4-5-5 0 19-2-11-4-11-2 14-8 3 0-11-20 0-28-2-46 41 62 0 13-16 8 10 18 1 2 8 0-14 2 9 5-8 4 7 1-18 5 3 3 8 5 5 3 5 2-20 1 14 0-5 1-1 1 0 1 1 0-10 5 4 2 13 0-16 1 20 1 3 2 0 0-12 1 9 2-2 5-1 2-3 0-9 3-6 0 20 4-13 2 1 4 2 2 5 4-15 0 14 1 8 7 0 3-6 0 2 8 4 4-1 7-21 9 16 3-12 2 10 14-14 8 5 5 5 0 5 6-7 9-2 14-6 40 0-16 37-3 7-2-5-1-5-8-2-5 5-1-3-1 14-4-12-2-5-1 12-27-2-3-8-1-7-7 5-12 2-5 11-4-5-7 8-5-19-1 18-3-3-1-18 0 4-1 1-6 16-3-12-2 14-10-21-3 5 0-7-1 7-1 6-4-4 0 8 0-8-3-9-1 6-5 15-2-19-2 1 0 9-5 9-3 2 0-11-8 4 0-13-1 12-1 5-2-1-2-12-2 1 0 2-3-7-1 10-1 7-2-15 0 8-3 9 0-10-5 5-3-12-3 8-1-6-1-5-3 0-4 5-2 9-7-10-4-6 0 22-2-13-2-5-1 8 0-10-6 11-9-7-1 1-4 13-1-7-2-8-12 29 4-7 17 14 6-15 2 17 8-11 3 13 4-5 1-5 0 5 0-2 10-5 2 2 1 4 2-1 4 5 1-17 0 6 7-2 9 12 2-7 4 1 2 4 2 2 1 2 1-16 1 12 0 7 7-4 1-7 4 11 2-19 2-1 1-2 1 5 1-3 0 4 1 10 0 0 2 8 3-10 2 3 0-16 1 22 1-19 0 18 0-18 1 7 2 6 1-17 3 0 5 11 3-4 5 2 0-8 2 6 1 15 3-15 3 11 0-10 2-7 2 14 3-10 4 16 2-21 6 19 3-4 3-10 1 5 9 12 23 2 21-16 28 1 46 30-58 10-26-10-4 1-41-9-3 13-3-19-1 3-3 7-7-7-2 4-2 5 0-10 0 18 0-15-8 10-1-6 0 11 0-5-3-3-2-12-1 10-1-1-3 9-3-2 0-14 0 11-1 7 0-12 0-1-3-4-2 16-1-14-2 17-3-3-3-11 0 0-3-4 0 2-1 11 0 6 0-8-4 8 0-21-5 9-10-8-2 20-8 1-1-3-2-20-2 12-1-2-3 6-1-16-8 13-3-10-8 15-3-8-2 0-1-3 0-4-4 14-11 1-2-11-9 5-5-10-1 15-2-18-5 13-1-3-16 3 20 27 1-1 34 7 9-2 8-5 2-11 0 11 1-14 1 18 3 5 2-17 2 5 3 13 2-12 2-5 1 3 4 2 1-12 1 19 1 4 0-9 3 2 0-14 4-2 5 5 16 18 2-20 1-2 1 8 2 15 4 0 0-20 3 17 11 0 4-6 1 7 15-13 16-9 10 15 7-14 29 12 9 1 3-9 18-2 9 6-78 36-14-9-4 5 0-14-13 5-9 6-2-9-4 13-7-2 0-9-6 0-20 0-10-6-2 5-16 19-19-18-3 7-8 4-2-14-16 16-11-14 33 21 17 18 5-8 9 4 50-10 1 14 7-7 7 0 3-10 7 3 4-4 4 3 3-4 3 12 10-4 0 14 17-7-2 19-37 5-7-1-5-7-6 14-10-2-34-7-3-8-21 6-25 11-7-13 63 26 10 4 6-10 7 15 8 42-24-31 60-4-175-45 78 0 5 12 5-7 35-5 4 1 15-1 4 14 5-14 23 6 4-3 2 13 0-40-11 13-14-14-1-4-10 7-10 10-4 5 0-10-10 9-31-21-1 10-3 10-21-3-24-12-31-20 19-1 18-6 9 7 10-1 0 11 2-14 0 14 5-16 20-3 16 17 0-18 7 10 0-3 4 12 3 2 1-12 11-5 4 14 4 0 1-11 1-2 3 9 1 6 2-3 2-16 3 14 16-9 5 0 12 1 17-7 12 9 9 8 10 1 31-15 4 7-31-15-9-9-14-3-4 14-13-6-13-9-18 5-2-4-6-7 0 21-2-10 0 1-10-10-6 0-5 9-9 9-3-4-9-16 0 20-3-1-2-5-3-2-9-1-2-6-3 15-4-14-2-2 0 3-3 8-2 0-1-15-1 21-4-16-3-5-2 5-8 1-11 6-4-11-12 21-36-20-3-1 22-21 2 11 11-11 3 1 10 17 16-3 4-2 0-8 5-6 5 19 1-23 0 12 2 4 0 5 7-14 3 12 0-8 0-9 1 18 1-13 2 11 1-15 1 0 1-4 1 3 14 21 4-8 1 2 1 3 2-20 1 18 2-6 1-13 2 6 8 9 1 7 0 0 0-6 5-11 5 6 3 6 2-8 1-6 0 15 6 3 1-2 0-10 3 10 4-16 6 0 8 16 2 5 0-13 1 9 10-8 2 7 1 5 6-16 31 7 14-23-12-1-6 4-9-12-26-2-2 2-7 16-1-2 0-1-1-16 0 9-11-2-1-9-1 16-7-10 0-3 0 9-2 9 0-22-1 10 0-9-1 20-2-16-2 9-5-8-1 9-1-13 0 9-2-1-1-12-7 16-2-8 0-4-2 1 0-5-1 4-1 3-2-7-2 5-3 2-2 3-2-8-1 16 0-4-4-6-5-4-1 0-1 10-1-10-8 0-1-4-1 7-2 9-3-16-3 0-4 20-1-14-4-2-2 6-3 13-1-2-2-3-1-7-2 0 0 12-2-3-4-13-2 14 0-18-8-3-1 21-6-6-25-15-22 8-12 4-9-10-64 2 68-11 1-17 19 16 6-14 7 4 7-5 10 16 1-2 4-4 22-7 2 7 14 4 1 8 4-15 0 5 7 2 0 6 5-17 1 12 0-13 1 18 0-5 7 0 2-13 0 3 2 17 0-12 2-9 3 1 1 5 1 12 2-14 1 10 0-15 1 0 4 13 2 1 0 6 1-14 7-2 3 15 0 3 5-18 1 17 0-8 6-7 12-3 1 4 7 14 2-20 11 13 1-14 16 3 3-4 10 13 7-13 0 2 4 5 99-20-69 8-6-14-5 13 0-12-4 15-14-8-9 4-17-13-8-6-2 12-9 10-4-15-3 1-2 2-6-1-2-6-5-3-5 0 0 17-2-5 0-8-4 13-5 5 0 0-5 2 0-10-3-2-4-11 0 10-1-4-2 5-2-1-2 4 0 4-5-1-9-8-1 9-5 2-4 2-1-10-2 11-6 0-5-19-1 19-2-6 0-10-2 15-1-1-5-15-3 12-3-8-4 3-7 8-4 1-8-19-3 6-13 10-10-18-18 8-16-8-24 18 79-42 2 19 3-2 11-3 2-7 2 2 1 4 2-6 1 6 0-10 16-5 4 0 10 20 1-20 3 21 2-15 0 6 0 2 1 3 3-9 0 7 5 3 0-18 14 23 3-2 2-3 3-3 2-3 8 11 4-15 1-4 1 10 4 7 6-6 7 5 6 1 2-6 7 7 0 1 1-19 20-3 1 6 2 16 5-2 1-4 2 5 1-12 5-6 21 10 31 2-61-25-5 4-8-5-3 3-10-13-12 4-24-5-6 7-19-3-6 15-8-21-6 21-4-6-1-17-2 13-4-9-2 2-16 10-9 3-1 4-7-20-7 14-11-7 0-1-14 0-2 14-4-21-1 1-1 20-15-2-79-47 94 15 64-5 5-2 3-8 2 18 5-15 7 13 1 4 9-12 0 8 6-16 0 13 5 11 1-10 4-5 9 11 7-6 8-9 0 19 15-1 5-3 51-19 10 12-82-16-8-17-8 12-29-4-37 10 0-2 16-24 0 1 12-3 23 3 18-11-8-40 19 6 56 41-77-1-65-12 2 35 41-14 5 9 0-10 12 11 12-11 33 0 4 6 3 1 2 3 1 4 6 3 47-7 29 27-19 3-54-3-14-11-20 5 0-3-7 5-20 11-8-8-11-4-8 11-5-4-4-14-1 7-14 14-2-9-24 3-14 3-10 27 0-19 10 19 6-4 1 2 5 4 4-23 6 23 5-21 3 5 9-2 3 19 6-4 2 2 8 0 6-13 15 10 1 2 20-2 1-9 1 10 6 2 6-8 23 4 8-1 17-6 12 3 0 19-3 9-6-13-12 9-6-3-1-3-1 2-26 7-2-7-2 13-1-16-3 18-2-17-1 12-4 1-4 3-2-20-14-2-5 10-2 11 0-6-3-15-4 3-1 11-6 8-5-23-2 18-19 5-1-11-1-9-7 3-7 16-2-15-4 3-12 4-47-13-15 14 26 29 19-2 0-17 13 3 5 0 17 16 6 2 1 2 6-1 3-11 4 1 1-1 3 6 3-2 0-9 2 9 1-5 1-2 1-5 8 4 4 11 2-16 3 1 2 13 1-5 4 11 2-17 4 4 2 7 1 8 5-19 2 15 5-11 1-6 0 0 3 17 2-1 9-11 0-4 2 7 1 4 2 0 4 6 10-21 3 3 5 8 2-7 4 20 1-8 1-3 11 6 4-2 1-17 14 20 3-18 3 13 4-5 12 12 1-7 25 4 10 4-25 24-1-2-7 0-23-11-6-2-7 17-5-5-1-6-2 5-3-7-4-8-2 9-3 8-1-7-6 9-1-12-3 5-2 9 0-18-15 14-2-3-2-15-2 5 0 17-4-6-1-13-1 6 0 4-1 9 0-13-1-4-1-6-1 19-1 1 0 3-2-14-7 1-3-11 0 19-2-5-1-11 0 14-1-15-1 11-4 5-1-16 0 4 0 15-2-20 0 17-4-3-3-9-1-2 0-2-2 14-1-6-6 5-4-7-3 14-5-6-1 5-2-12-8-2-25 16-4 1-8-4-13-18-2 19-4-1-12-10-68 38 68-5 28 3 7 1 3-3 4-17 1 1 1 19 6-22 0 15 3 2 6 1 1 2 8-4 3-8 8-7 2 8 1 2 2 0 0 4 0-7 1-1 1 11 5 3 1-5 3-7 1 11 3-14 2-1 1 2 3 8 1 3 2-6 1-12 4 12 5 7 3-11 4 16 2-2 6-16 1-1 2 8 3-2 1 10 0-13 0-2 1-5 2 0 0 11 1-3 2-3 0-2 0-4 1 0 1 15 1-7 7 14 1-10 7 2 0-8 1 13 0-5 1-11 6 2 0-4 1 13 1-4 2-4 2 14 4 2 3-3 4-13 4-6 24 8 4 10 14-6 10 9 42-6 1-13-31 40-10-1-19-9-9 3-24 2-2 6-6-12-7-3-4 6-5 8-2-12-3 14-3 4 0-3-3-4-4-6-4-5-1 8-8-6-1 1-2 6-2 10 0-2-2-12-1-6-5 13 0-17-2 4-1 15-1-3-5 3-1 0-1-9 0-7-3 1-3 14-1-2-3-15-1 2 0 9-4-8 0 8-1 3-4 2-1-12-3 5-4 0-1 2-5 2-6 8-1-6-7-14 0 12-8-5-2 3-8-6-5-3-5-3-14 19-2-7-4 8-8-6 12 18 17 16 1-22 12 4 6 14 0-15 1 10 5 10 2-8 8 2 0-3 3-6 0-3 5 3 1-3 7 2 1-4 1 20 5-19 1 1 1-1 3 13 1-2 3 6 1 1 2-20 4 10 2-11 2 0 1 3 3 8 5-5 4 2 1-5 3-5 2 7 5 11 1-17 1 20 5-8 3-2 3-2 1 3 1 12 2-1 12 0 8-2 4-4 22-11 10 16 21-22 66 13-64 28-5 5-27-21-12 14-22 5-11 5-7-11-12-12-4 4-3-2-9-3-1 8-6-2-1-5-2 13-10-12-5 20-15-20-4 7 0 12-2 3 0-21-10-3-2 12 0 8-2-14-12-1-4-2-26 10-43 9 69 26 3-23 11 18 28-7 21-3 6 4 5-9 12-3 6 7 20-7 31 3 16 21 15-24-47 49-39-9-1-13-46 13-9-2-41 14 18 0 81 11 10-10 69 0-26 19-69-20-134 0 51-22 40 5 5-6 4 0 38-3 10 1 50 8 2 5 35-8 18-23-84 8-1 3-11-11-6-5-7 19-25-16-7 9-89-12-21-19 18-9 14 4 11 1 23 9 7-8 5 5 10 7 3-15 23 4 15 7 3-13 1 3 1 18 4-21 2 9 2-6 18 10 2-2 16-4 6 11 3-3 1-15 3 18 1 0 3-17 15-2 15 9 23-25-5 8-23-14-27 7-3 4-7 3-1-18-6 8-8 3-7 7 0-15-1 6-6 15-3-24-1 19 0-3-1-14-12 9-10-5-5 18-10-12-1 1-2-5 0 7-1 4-4 4-7-17-5 6-5 6-2-18-8 4-4 8-2 1-7-3-2 1-21 10-1-14-10 10-4-6-18 10-26-22 31-22 33 14 2-1 6-5 2 2 2 7 3-3 3 6 0-18 2 7 1-3 2 16 15-14 1-7 1 8 0 13 1-3 0 2 2-19 3 20 6-19 1 12 3-15 4 12 0-3 1 6 3-3 0-1 1 6 2-6 2-1 7-5 0 9 1 3 0-15 1 1 2 1 1 1 2-1 1-3 0 14 4 4 2-12 1 5 0 1 1 7 0-2 1-1 1-15 4-3 0 10 1 13 0-18 8 2 1-8 1 24 6-17 5 13 1-7 0-11 0 21 15 1 7-24 1 1 1 9 5-4 4 5 2 13 3-13 2 9 7-8 0 7 30-1 30-11-23-18-3-9-4-5-29 24-9-3-1 2 0-14-8 15-9-3-3-2-5-17-3 14-12-9-3 1-1-8-2 23-4-7-1-9-1 15 0-1-2-14-3 11-1-15-4 9-5 6-1 4 0-1-4 2-1-1 0-8 0-13-1 13-1-9-2 6-1 12-3-15 0 2-3 0-1 0-3-7-2 10-4-8-2 2-3 5-2 5-1 6 0-14-3 0 0-5-8 2-2-1-4-4-2 7-1-5-9 17 0-18 0 17-2-3-6-8-3-2 0 1-3 6-6 5-7-11-1 6-11 4-8-1 0-11-17 18-32 1-2-15-1 6-2-21 24-16 21-3 6 3 0 0 9 12 3-1 2 5 0-6 1-5 1 9 1 2 6-1 3-5 4-3 3-10 5 1 0 21 11-7 0-13 4-1 1 6 0 0 1 12 2-10 1-2 4 0 1 1 2-5 1-3 5 3 2 10 0 10 1-10 0 10 5-17 4 12 1 4 0-20 2 17 6 1 1-9 1 4 1-8 9 16 1-6 2 7 1-14 2 1 3-5 5 13 1-18 1 11 1 0 4 4 1 5 1-12 0-7 1 13 2-1 3 1 3-9 1 0 2-4 2 20 3-3 1-17 1 4 10 10 3-11 8-5 2 1 2 22 5 0 2-6 1-4 14 6 21-16 6 13 1-15 2 22 31-37-17 2-26 11-1 0-18-15 0 11-19-19-11 4-4 1-6-3-5 10 0 6-3-16-5-1-1 22-5-10 0-13 0 15-3 8-5-22-1 12-3 6-3-19-2 0-5-1-1 17 0 6-2-5-2 5-2-1-1-15-1 0-2-4-2-3-2 14 0 2-3-9-1-3-5 8-1 4-1 5-8-3-6-13-8 0-1 19 0-5-1-14-1 10-1-2-1-11-9 15-5-2-1 2 0-1-4-6-2 4-2 9-10-5-4 4-2-7-5-10-3 14-3 5-15-9-49-34 23-3 64 16 6-9 1 14 16-3 3 0 4-19 1 19 9-21 3 19 7-5 1-7 3-1 6 12 4-7 6 2 0-6 3 5 1-9 1 12 0-9 3 5 3 3 3 6 1-15 4 6 1 12 11-3 1-17 0 15 2-9 4-1 3 13 8 1 0-17 32 17 1-7 8 5 1-20 19 22 2-16 0 11 4 5-9-27-2-2-9 0-22-8-21 5-13-12-3 16-7 4-1-5-7-14-3 20-3-2-14-13-2-4-3 6-4-3-12-1-15 2-4 12-3-10-11-4-3 13-8-12-20 0 0 0-73 16 59-47 5 5 27 15 11-13 11 13 5-6 6-8 7 5 14 5 14-5 8 4 5 0 41 1 7-13 66 0-49-7-33-14-11 0-1 9-5 6-23-13-28 6-18 5-35-17 71-19 75 6-50 1-52-14-38 42 26-18 8 4 17 8 31 6 5-12 19-1 14 12 38-3-37 28-5-19-46 12-15-5-19 13-30-3-2 2-9-19-2 11-7 5-6-13-3 18 4 15 3 0 5-8 24 2 3 5 5-5 2-4 8 10 4-7 7 9 1 7 1-1 2-20 3 21 1-17 7 0 2-1 7-3 1 23 10-13 7 9 1-2 1-5 1-6 3-1 19 8 2 6 3-4 1-14 8 12 19-6 16 15 8-19 2 21 3-9 40 31-60-10-2 10-20-13-10 6-3-5-2-7-2 13-1-2-8 7-2-17-2 7 0-7-12 9-1-1-4-5-10 15-4-21-1 17-6 7-6-18 0 9-3-2-6 9-7-1 0-5-6-13-3 19 0-22-2 3-3-3-1 22-6-12 0 13-8-14 0-6 0 8-2 10-1 3-26-19 0 0-46 10 5 10 4 4 15 15 12-1 25-1 0-13 3 14 3-8 1 8 3 5 10-23 7 16 3 3 2-13 7 0 2-1 0 15 2-12 0 2 0 11 3-18 2 13 1-14 1-1 4 22 1-9 0-8 0-1 1-1 1 13 5-15 0 11 1 10 3-4 0-10 1-8 0 9 1-1 2 10 0-10 2-2 4 3 0 4 0-5 2 1 0 10 1 1 1-14 1-4 4 10 0 4 2-2 5 5 2-20 5 6 2 16 1 0 3-5 3-16 2 17 4-1 5-2 2 8 0-3 4-11 1-2 9 9 3-7 29 12 4-7 12 2 59 8-23 4-34 18-15-5-9 6-5-5-6-4-7 7-1-14-8-6-1 23 0-9-1 0-3 7-2-16-8 6 0 3-2-10-2 17 0-5-3 3-2-9-4 7-1-7-2-8 0 3-3 11 0-6-6 14-2-3-1-9-7-12-3 4 0-4-4 3 0 10 0-12-7 12 0 5-4-8-1 6-1-14-1 11-1-13-1 13 0-2 0 9-1-15-3-5-5 12-1 6-2-12 0 12-5-8-1-9-1 12-2-7-1 4-7 9-2-3-10-7-1 15-4-17-1-6-5 23-2-6-9-10-8 0-3 4-14 3-8-3-15-8-3 4-2 4-6 7-18 8 21 17 18-14 29 19 4-19 6 4 4 2 4-7 6 11 1 4 7-10 1 4 1-6 1 9 2-7 0-6 1 12 0-2 2-1 3-10 2 6 3 13 4-17 1 1 3 18 3-10 4-6 2 1 3 3 5 4 1-1 2-6 1-8 0 11 2-5 1 0 1-4 4 18 7 4 1-23 1 2 1 15 0-10 3-2 0 13 1-18 1 5 4-3 5 12 0-9 2-2 5 16 2 2 0-1 2-3 1-2 2 4 1-19 3 19 1-3 2-11 2-3 3 6 12-3 2 18 10-15 13 13 30-10 9 8-17 6-27 1-8 18-4-17 0 0-3 5 0 1-4 7-7-8-4 7-2-1 0-8-1 9-1-14-13 23-2-15-3-1 0 14-2-13-1 3-4 6-7-11-1 5 0-4-1 8-1-4 0-3-1 5-3 0-9-3 0 13-2-3-1-20-1 5 0 4-1 11-1-8-1 7-5 4-1-2-7-13-1-9-9 20-2-13-1 4 0-7-3 19-3-23-4 1-2 22 0-3-2-10-5 8 0-4-4 3-1 2-1-14-6 15-9-5-4 7-6-7-13 7-26-15-26-2-5 22 29 22 15-12 5-11 6 18 15-13 4-1 1-1 8 0 4 12 2-2 4-12 9 3 1 11 27 8 2-17 0-1 6 12 5 1 9 5 6-14 5-5 0 10 9 7 1-15 14-1 3 18 7-22 2 5 1 15 7-10 6-5 0-7 8 0 46 13 12-11 22 10 9-3-22 37-58-19-10 17-9 1-1 0-1-14-6-2-3 11-6 0-8-5-1 2-11-3-5-5-6-4-1 5-3-5-4 14-7-3-2-4-3 4-9 12-5-18-4 7-6 4-1-2-4-9-15 6 0 1-9-4-9 3-1-11-12 1-38 2 7 46 26-15 10 5 6-6 15-5 28 18 15-18 9-3 22 13 13-10 0-1 31 13 7-15 32 1-14 31-34 2-47-9-14 9-2 14-10-18-3-2-23-2-8 17-27 30 62-18 19-5 21 44 26-28-42-7-63-8-17-26 0 16 19 5 46-21 55 16 9-15 31 16 4 2 26-36-65 11-2-7-35-12-33 7-2 13-4-8-13-7 0-4-2 5-7 9-9 0-1-1-2 1-61-5 33-35 21 0 10 13 4-7 0 13 6 2 3-4 4-10 3-6 0 23 7-11 3-10 9 4 2 4 13-7 6 3 0 1 1 0 1 10 1-6 1 12 22-13 1 9 0-6 4 0 1-10 3 5 42 0 14 8 9-2 4 3 25 3 1-13 12 11 42-29-38-15-29 2-2 0-9 15-6-10-20-6-19 4-3 6-4-9-8-2-4 11-2 6-2-6-5 12-7-9-4-10-5-2-1 0-4-1-1 11-1 11-2-9-2 1-13 8-1-7-10-14-4 1-11 2-1 19-6-10-2 7-7-12-2 15-3-20-1 0 0 14-1-2-4-15-2 19-8-16-34 4-5 3-8 1-2-2-5-8-33 14 35-21 14-20 32 9 1 0 1 8 6-12 1 15 16-13 6 0 9 7 0 10 0-15 0-8 6 20 3-20 1 19 0-15 3 17 1-13 0-5 5 8 1 5 2 4 4 3 0-1 2-21 2 20 2-12 12-9 1 23 1-4 0-2 1-14 0 4 5 6 4-9 2 18 1-11 2-8 2 9 5 3 10-16 1 11 1-2 5-6 4-1 5 14 0-12 0 3 0 6 1-10 24 16 1 1 1-18 9 7 10 0 5 2 52-24-19-6-20-4-42 2-3 9-12 11-3-4-3-17-5-2-2 21 0-19-1 14-9-4-5 3-3 7-1-23-1 22-2-22-3 11-7 0-1-2-4 15-5-3 0-11-6 4-2-2-3-3-1 10-1-12 0 5-1-1-2 1-1-7-4 6-4 0 0-6-3 3-1 16-4-10 0-7-1-6-1 7-1 14-2-16 0 3-1 10-2 3-2-12-3 14 0-9-1-2-1-7-2 11-4-8-2-1 0-3-2 10-6-7-4 13-2-6-5-5-17-4-2 11-5 7-11-5 0-4-1 8-2-8-5-7-7 6-9-9-4 1-3-3-6 10-8-13-8-3 31-5 15-12 5-1 14 4 6 13 13-9 10 10 0 2 0-14 5-7 4 14 0-6 1-4 1 10 2-12 1-5 4 19 1-8 3-10 1-1 2 8 0 15 1-17 0 9 2-6 1-5 5 4 7 15 0-9 1-4 2 13 4-4 6 3 2-20 4 0 1 7 3 13 1-7 1 0 1-5 3 4 5 2 0 4 3-16 2 8 2 4 0-1 1-11 0 9 1-8 1 7 1 5 1-14 1-2 2 7 1 15 9-8 0-10 2 12 3-15 1-2 6 9 0 14 12 1 8-13 0-9 24 12 0 3 6-5 20 2 1-10 50-15-56-3-2-10-16-1-3 21-6-5-9-6-5 14-5-12-3 9-1 1 0-2-9-7-1-11-3 5-4-4-5 14-1 3-1 4-4-13-6-5-3 3-3-6-3 10-2 8-3-3 0-9-5 10-3 1-1-20-3 7-10-1-2 6-2-1-1 4-1 4-2-3-2-16-1 5-3 8-1 2-1-10-1 18-8-4-5-19-1 17-1 4-1-16-1 6-2-3-5-2-2 15-8-12-7 10 0-19 0 17-3-11-2 12-1-7-2 0-14 9-5-2-34-10-8-9 1-20 30 8 10 7 2-13 20-2 6 13 9-2 2 2 5-16 5 11 6-3 1-2 5-2 4 11 1 0 0 7 1-19 0 19 1-21 1 22 1-24 2 1 10 14 1 1 1-12 6-1 3 8 7-11 1 24 1 0 1-12 6 10 0-10 3-8 2 13 5-16 2 18 17-11 14-2 52 8 39-1-68-25-9 4-31-1-5-1-2-5-7 11-16 0 0-15-2-2-9 16-1-5-4-9-1-4-3 14-4-12 0-4-1 22-9-21-3 22-1-14-12-7-7 2-4 11-8-15-3 17-12-11-10 17-7-10-2 8-14 3-1-11-10 3-4 0-19-9 45-8 39-15 10-8 3 17 28 6 4-1 10 1 19-4 4 2 10 2 2-20 3 8 24-11 17 6-15-15-47-3-28 8-7-10-15 12-15-18-59 18-33-40 42 12 99-11 12 9 66-26-158 2 36-36 43 27 39 23-72 8-72 31 33-15 6 15 4-3 2-2 2-9 12 11 7 0 32-3 13-1 13 0 13-3 73-9-11 23-61-1-55 16-16-7 0 5-13-4-52 4-53 27 7-2 42 5 30 0 1-20 7 6 0 17 13-4 7-11 0 11 1-17 1 18 3-6 7 7 11-17 6 13 4-1 1-15 10 16 3-1 4-13 2 4 10 10 4 0 6-15 4 4 0-4 0 22 18 0 4-3 2-15 11 0 26 4 19-7-28 45-4-18-1 19-9-17-5 14-2-20 0 17-7-18-5 19-6-14-1 14-11-10 0-2 0-5-4 9-5-3-1-3-1 1-12 9-1 5-8-7-2-13-3 24-2-1-5-11 0 12-2-15-3 15-1-15-4-5 0 14-6-8-1 10-8-15-2-1-8 15-7-19-6 16-7-11-8 4 0 1-14 14-16-22-29 43 30 0 13-5 1-2 2-6 6-5 8 17 1-15 4 9 3 10 3 0 3-23 2 7 1 10 0-3 2 3 4-6 3-7 1-2 0 7 1 15 0-15 5 10 5-13 0 4 2-4 1-6 0 24 0-12 0 1 4 0 3 8 1-4 2-1 1 0 1-7 5 11 0-18 0 17 0-12 1-2 3 18 1-17 1 13 1-14 4 5 3 1 1 11 3-15 1 10 2-1 1 0 5-14 1 4 1 9 7-7 1 10 0-6 4 2 5 3 2-16 0 18 0-16 7 18 1-17 13 19 16-2 6-11 15 10 17-2 30 5 29-3-26 28-4-1-44-14-1-6-13-2-1 2-2 15-2-15-7-1-1 6 0 10-7-5-5 7-22-1-2-9-8-7 0 7-1 6-1-5 0-5-1 9-6-3-1 0-2 8-2 0 0 4-2-16-4 9-1 8-1-20 0 20-2-8-3-3-1 6-4-3-1-6-3 0-1 6 0-8-3 14-3-8-2-4 0 5-5-3-5 0-1 2 0-5-1 11-5-18 0 18-1-13-3 5-1-4-13-1-2-3-4 10-1 6 0 0 0-16-3-3-3 4-1 10-27-2-5-6-2-6-6 15-7-9-38 25 60-2 3 19 3-18 3-2 1 10 1-4 10 5 3-13 2 20 1-4 0-2 3 4 2-6 5 6 1-14 5-2 4 7 1 10 3-17 3 0 4 0 2 13 0-7 2-6 0 16 1 1 1-5 3 3 2-14 4-3 10 5 0 1 2-5 1 12 6 4 0-5 0 10 1-19 2-4 1 18 1-8 0 5 2-14 1 19 3 3 7-5 2-12 1 14 1-16 0 10 2-7 1 8 3-8 2 12 2-16 2 6 2 10 1-8 0-9 3 7 2 10 2-9 3 9 2 1 7-9 2 2 2 5 5-14 2 5 1 14 13-15 9-4 10 12 24 2 2-18 20 2-11 31-19 6-11-6-1-8-51 10-8 10-1-6 0-4 0-6-6-2-2 16-13-12-1 16 0-22-3 2-2 6-1 5 0-14-5 8-1 8-1 2-1-5-1 10-4-20-1 1 0 19-3-6-1-17-1 20-3-11-2 4-2 11-2-4-2-7-1 3-7 4 0-20-2 13-5 11-1-4-1 1-3-11 0-5-3 18-11-16-4 11-3-4-5-14 0 24-1 0-6-13-5-9-9 16-5-16-2 6-11-8-3 5-6 31 2 2 3-6 7 9 6-14 11 0 11 2 2 13 10-12 1 0 6 2 3 5 16 3 6-12 4 1 7 2 0 14 1-11 2 7 3 6 1 0 2-13 0 0 1 5 6 3 2-16 6 22 0-17 1 7 4-4 3 1 2 11 3-5 1-14 2 17 3-9 7 12 0-3 9-15 9 8 8-7 2 0 7 5 21 4 11 6 0 7-28 12 0 1-1 4-19-12-9-4-4 21-25-12-16 6-10-5 0 5-16-15 0 13-5 8-3-14-18 5-7 4-3-17-1-2-5 6-31 17 0 1-15-14 21 35 1-18 8 15 15 1 1 0 6-17 2 7 4 15 15-23 8 20 3-15 1 7 1 6 38-1 11-14 6 3 3 8 4 7 17-11 1-6 40 8 9-11 16 8-16 40-88-2-19-18-11 20-6-2-10-8-1-12-22 6-20 8 48 16 4-4 43 36 26-32-41 10-83-16-5-20 31 0 2-6 5 0 1 5 31 2 15-6 1 20 7-2 6-4 21 0 1-13 49 5 15 1-45-17-28-6 0 4-8-14-4 0-4 23-3 0 0-15-21-3-33-2 0 1-6-4-21 4-20 7-5-1-8-3-21 4-15-24 14-1 35-4 1 16 23 0 9 0 10-14 0-9 4 17 6-1 16-3 0-7 12 0 1 11 5 0 1-16 3 9 1-5 4 7 11 10 5-21 3 3 2 20 2-22 4 7 38 11 3 3 0-2 55-28-22-7-31 1-3-6-21 0-1 3-1-7-2-2-4 22-11-21 0 7 0-2-1-6-2 16-3-2-3-2-5 5-4-1-3-5-2 12-2-9-2-11-2 4 0 16-5-18-1 14-2 0-8-13-3 9-4-4 0 13-1-18-1 2-2-2-3-5-1 20-3-3-3-16-1 19 0-6-17-2-13 4-8-3-14-8-4 6-6-2-5 4 0-12-20-3 1-8 14 2 27 3 1-18 1 10 1 3 22-6 4-2 3-1 3-3 4 8 3 3 2-14 2 7 0-8 3 9 6-2 2 13 1-6 1 3 1-11 0 10 11 5 3-5 0-10 3 7 8-6 3 2 2 1 1-1 1 0 0 0 4 1 2 14 2-10 2-14 6 11 1 9 2 3 0-20 4 7 7 0 9 10 0-10 3-7 3 1 3 4 2-4 4 11 9-10 5 8 1 3 14 7 5 1 58-24-20-20-9 5-7 4-15 1-13-2-23 5-2-16-2 0 0 20-1-6-1 1-3-15 0 19-5-7 0-6-7 4-1-11-1 9-1 1-4 10-2-2 0-5-2 9-1-9 0-6-4-3-1 18-1-20 0 16-1-8-6 11-1-21-4 15-1-10-4 11-4 3 0 0 0-3-2-8-3 6-3-6-1-6 0 1-1-2-1 21 0-7-1-10-1 6-7 2 0 7-2-12-6-4-2 15-5-2-6-8-2 14-3-2-5 2 0-10-2-12 0 14-7 7-2-20-19 13-3 0-3 0-3 3-5-15-3 10-4-10-6 12-3 7-10-6-16 7-8-22 21-24 10-2 4 5 8 15 2-9 6-2 1-8 0-2 1 9 9 6 12 8 6-7 7 2 2-5 10-10 1 5 1 2 3-8 0 15 2-6 0 13 1-10 4-13 0 13 4-5 4 5 5 4 3-10 2 15 1-15 1 14 4-13 5 12 1-5 6 3 0-15 1-1 2-3 2 16 2 3 6-7 4-8 1 20 1-20 0 10 1-12 3 6 3-6 6 13 8-14 0 12 4 11 2-11 8 11 0-18 4 4 2 4 0 3 3-7 4 10 2 0 2-5 2 4 2 4 14-3 46-32-24-4-1 14-24-8-5 1-2-7-1 15-2 0-6-20-4 5-3 4 0 4-10-5-4 1-19 6-7-3-5-5-3-4 0-7-8 1-5 15-2-4-1 11-1-16 0 13-1-19-3 14-2-2-1-12-1 16-2-12-2 4-3-9-1 23-1-15-1 3-1 7-1-4-3-13-1 18-9-10-1 13-2-17-1 10-2-8-1 13-3-2-4 2-1-13 0 10-2-5-2-1-1-10 0 12-6-1-8 5 0 5-4-3-10-12-23 2-7 14-1-13-6-4-11 13-10-42 21 14 7-6 12 5 4-14 1 23 18-17 9 2 5 11 0-1 3 5 6-16 1-3 2 7 0-4 5 4 1 10 8-7 3-3 4-8 2 15 5-10 3-9 1 21 2-5 1 4 1 0 10 0 1-19 6 12 7 8 1-5 1-14 1 12 4-4 1-2 1 8 0 0 13 4 4-7 1 4 3 5 12-12 6-6 48 20-10-34-29 0-3 1-11-11-11 1-1 10-14 8-18-2-3-6-8-1-4 5-10 1-13-10-2 7-4-9-4 2-1 7-6 3-2 0-9-4 0 7-8-7-3-10-4 1-27 3-28 0-19 7-52-2 80-32 30 14 22-3 1-16 3 3 13 5 24-2 20 11 2-9 4 9 2 3 9 0 22-13 22-10 2 12 1-12 33 14-59-24-32 4-7-15-24 9-16 5-2 5-7-14-38 0-84 14-20-7 157-22 16-5 2 3 34-8-57-43" marker-start="url(#b)" marker-mid="url(#b)" marker-end="url(#b)"/>
<path d="M2264 2518l102 17-19 13-65-14 0 9-2 13 23 12 5-7 12-10 7 4 6 7 17 5 37-6 40 31-42-16-24 12-20-1-2-4-18-7-1 12-1 6-6 0-3 5 0-7-1-12-7 5 0 14-4-12-7 5-13 3-53-11-2 4-7 5-41 31 53-6 7-15 3 13 18 1 2 5 18-6 6 8 2-6 8-2 4-2 9 4 2-1 1 1 1-13 2 8 1 7 8-1 5-13 5 14 6 3 6-22 7 3 14 17 12-20 0 23 1-13 2-2 39 5 60-10-49 24-43 5 0 14-7-13-7 8-1 7-15-8-4 0-2 3 0-18 0 7-4 7-2-10-2 10-1-5-11 6-1-11-4 5 0-7-4 21-6-11-4-1-1 4-5-13 0 21-6-5-1-14-8-5-15 22-1-15-5 15-1-20-1 10-2 4-3 6-6-15-1-6-2 11-13 10-28-14-9-7-7 6 1 38 3-4 3-2 11 9 1-23 3 1 4 16 2-5 7-7 13 6 4 8 11 0 4-3 1-2 3-14 0 7 1 9 0-12 1 2 9-3 1 11 6-13 5 15 2 1 0-10 3-1 2 14 3 3 5-9 3 0 2 7 0 3 1-2 2-7 1-14 4-1 2 24 3-6 3-11 1 8 3 5 0 3 9-13 1 2 0-10 1 21 0 0 1-13 0 6 1 8 0-2 4-13 1 13 1-17 3 19 2-18 0 13 12-4 9-5 0 1 3-1 11 10 3-8 1 9 0-2 6-9 1 11 6-20 9 18 2-12 4 16 11-17 10 16 22-9-24 29-21-11-7 2-5 3-4 12-5 1-2-21-1 15-1-6-11 0-5-10 0 8-1 2-2 10 0-16-4 16-1 0-8-1-1-3 0-7-11-11-3 0-1 4 0-2-2 12-5-9 0 4-7-7 0 13-2-15-1 16 0 7-1-14-2-2-1-6-1 22 0-6-3 5-1-5-4 1 0-6-1-9-3 17-1-1-3 3-2-12-5-9-2 0-1 13-2 5-2-18-3 4-1 11-3 8-1-2-2-7-1-5-3 3-3-6-1-7-1 4-9-1-2 12-8-8-4 3-4-10-16 1 3 31 5 1 15 12 0 1 12-5 4 4 3-8 1 6 2-12 3 1 11 7 2-10 2 10 1 8 0-16 11-5 2 6 0-1 4 17 1-5 1-17 0 10 0 13 1-22 0 18 7-5 1-15 4 4 2 18 1-16 0 1 1 13 0-19 0 13 0 4 1-6 1 7 0-15 3 15 2-18 2 0 0 19 3 2 3-14 0 15 7-4 3-1 1 2 0-8 1-12 2 9 3 13 1-13 5 4 1 9 9-17 0 19 1-17 3-4 1 12 2-10 8 3 3 11 10-5 5-12 18 7 13 2-23 24-7-10-3 14-9-14-3 16 0-10-2 4-10-1-7-9-1 5-3 10 0-12-2 15-1 4-5-14 0-1-1 5-3-3-3-1-1 10-4-7 0 13-3-15-1 3 0 8-2-7-2-3-1 10-4-9-1 10-4-20-5 15 0-7-1 10-4-18-1 19-4-8-1-6-1-4-3 11 0 1 0-8-1 17-7-23-4 24 0-6-6-7-1-6-1 18-1-14-3 11-7-8-1-2 0-1-10 11-9-7-5-10-1-2-3 23-3-12-39-3-38-8 22 44 42-15 12-4 2 14 0-2 11-7 6-2 2 12 1-16 13 12 1-2 1-10 2 19 3-13 0-1 14-3 9 3 8 16 2-20 1 10 4-8 2-2 5 8 1-9 12 11 0 11 10-1 1-3 1 0 2 6 4-19 0 16 1-4 15-17 6 4 2 14 21 6 2-22 7 3 14 36-16-12-6 7-21-5-4-5-18 11-2-1-5-2-1 2-15 8-7-13-2 2-6-5 0 12-5 6-23 3-7-18-11-1-2 15-12-16-2-4-11 12-1-8-28 19-2-18 21 35 34-2 10-13 12 3 7 14 17-17 2 0 8 3 5 13 9 7 1-15 4 4 11 6 18 1 39-4-57 25-28 5-6-5-1-4-3-6-2-4-3 2-17-3-10 7-38-4-18 6 64 17 34 4-32 34 33-37-23 0-8 1-24-10 2-2 1-12 2 12 31-12 14-4 8 10 7 7 0 7 5-22 59 5 36-20-77 2-19 6 0-13-1 0-1 15-14-10-12-9-20-2-7 1-15 7-4 9-4-16-1 0-3-1-27 5-5 6-2-5-6 16-25-36 28 11 1-11 26 12 10-7 4-7 20 14 6-21 2 7 6 3 1-4 19 0 0-9 10 13 14-4 2-6 19 20 3-16 0 6 12-7 3-4 3 11 13 6 19 1 13-16-28-6-5-11-10 0-6-3-21 2-4 7-1-11 0 14-3-20-3 10-7-1 0 9-2 1-1-17-1 14-3-15-5 14-2-2-6-2-15 1 0-13-2 2-5 8-3-3 0-1-2-4-2 0 0 22-2-21-3 4-6-5-1 3-1-5-8 9-6-8-1 13-23 3-9 6-13-3-9-14-8 16-4-8-5 10-29-38 30-6 18 9 7-2 1 11 13 1 15-9 0-8 11 3 3-2 3-8 0 22 5-18 1 13 1 6 2-21 11 22 0-13 1-5 3 18 3-20 1 20 3-4 1-15 2 0 0-4 1 23 2-6 1-10 3 13 0 1 2-22 0 12 1-1 0-1 5 12 4-14 0 5 2-9 0-4 1 17 3-15 2-1 1 12 0-10 1 10 0-5 0-1 1 15 2-7 2-3 0 11 10-4 1-8 4-6 3-1 8 20 5-4 6-2 15-12 24 8 1 3 5-2 25-13 3 10 18-11-43-3-6-2 0-17-1 0-11 11-11-10-5-1-3 3-2 3-4-4-15-3-2 19-6-7 0-12-1 12 0 9-1-4-1 1-3 1-3-12-3 4-1 2-1-6-1 5-1-11-2-2 0 21-14-18-1 19-2-9-3-8 0-7-2 10 0 9-3-15 0 5-1 4 0-5-1 1 0 1-1-2-2 6-1 3-7 0-5 6-2-7-2-11-1 8-2 3-1-6 0-6-3 6-6 14-3-19-3 19 0-18-3 17-1-3 0 1-2 2-1 0-3-17-13 2-2 13-12 0-11 1-7-17-23 2-3 8-8-5 18-34 35 5 3 5 8-1 1 2 2 11 4-19 0 5 3 7 1 8 0-8 2 5 7-17 2 10 1-8 3 11 0 1 0 0 4-9 0 8 3-9 2 1 0 13 2-1 4 2 3-14 1 7 2 3 1-6 3-13 1 24 5-24 0 5 4 15 3-5 1 9 3-17 0 16 4 0 0-11 1 7 4-5 5-4 1 6 1-1 7-9 0-6 2 4 2 16 1 3 0-12 4-7 1 17 1-19 0 11 3-2 10-2 3-3 1-6 2 8 10 4 3 4 5 3 4-17 6 14 3 0 2-14 34-18-38-1-1-2 0 4-4 13-1-23-1 19-7-5-3 1-6 4-2-1-12-1-8-4-2-4-5 3-4 12 0-20-3 0-3 19-3-20 0 20 0-20-1 7-2 10-1-19-2 8-2-5-2-4-2 23 0-9-1 3 0 3-12-1-5 5-8-14-5 3-4-13 0 14-1-3-1 10-2 1-4-8-1-13-7 15-2-1-3-3-4 7 0-17-2 5 0 1-1 11-5-6-7 2-1-8-2-3-4 17-3 2-3-2-8-19-4 22-25-20 8-17 20-6 21 0 12 8 5 3 7 7 6-8 1 6 1-21 2 14 0 2 5-10 1 0 0 6 9 4 1-7 7 6 1 5 1-8 1-4 3 11 1-9 4-2 1 6 6 1 4 1 3-6 0 0 3 10 3-3 1 0 6 2 1-5 3 1 4-16 3 18 12-12 4 2 14-8 2 11 1 3 2 8 6 2 4-4 11-1 6 1 1-16 32-12-40-2-10-6-2 2-1 6-13 5-13-18-3 7-2-1-1 3-6-13-3 8 0 14-6 2-8-3-1-19-12 12-4-8-2 0-1-3-6 14-13-13-17 14-11-9-1-7-4 22-2-2-5-4-14-12 0 14-5 4-16-5-5-9-5-15 28 4 18-21 31 20 5-18 5 19 22 0 3 0 18-2 10-2 4-5-25-19-1-1-7-4-2-15-6 9-2-7-17 13-7 1-5-3-74-3 102-41-59-23 152 45-112-8-7 10-54-1-32 27 3 0 33-11 2 5 16 1 69-8 7 16 4-1 3-5 15 7 38-2-42 15-9 4-16-8-10-7-15 13-4 6-1-12-4-1-27 6-14-2-8-9-6 7-19-5 23 22 1 14 8 0 6-1 11 0 7 0 5 9 2-11 7 9 10 1 11 1 3 1 0 0 9-22 1 3 13 19 0-19 2 12 2-3 20-1 4 2 9-14 57 31-35 16-26-13-6 14-4-16-11 13-3-3-1-9-1 4 0 0-2-5-8-6-1-1-4 13-1-10-5 11-1 0-2-5-2-4-3 1 0 16-1-15-7 15-1-15-5 4-9 1-2-10-1 11-4 2-3-5-1 12-2-12 0-5-4 11-1-12-6 11-5-1-1 9-6-8-3-13-7 18-3-11-33-4-3 6-10 2-27 28 33-12 7 4 3-6 1 8 13-1 10 6 14-4 0-8 4 13 8-13 1 5 1 6 9 4 3-4 1 6 5-19 4-2 0 16 4 1 1-13 4-2 1 11 1 0 2 0 1-10 1 7 0 1 1 11 3-1 0-14 1 12 2 1 0 0 1-14 1 0 2 5 1 10 0-20 10 2 2 5 0 9 1 7 12-4 2-20 0 11 3 12 12-2 3-19 2 18 0-3 1-8 0 14 13 1 8-12 4 2 36 3-10 23-25 2-9-14-6 16-3-9 0 10-1 0-11-16-4 6-1 11-3-2-3-10-1-2 0 13-3-6-2 10-1-16-2 15 0-21-1 17 0-8-3-3-3 6-5-8-1 11-1-1-3 6 0-9 0 3 0-2-1 10-3-15-5 7-1-10-1 9-2 9 0-22-1 2-2 5-1 9-1 3-2-21 0 23-1-4 0-7-1-9 0 20-3-14-2 5-1-9 0 6-1 1-4 3-2 5-3 4 0-10-2-8-1 1-4 4-9-8 0 20-16-9-3 9-2-16-18 8 0 1-27-5-5-7 15 37 0-4 10 7 1-5 8-3 0 12 16-3 5-15 1 4 3-5 5 15 15 0 1-12 7 9 2-5 0 9 2 0 3-13 2 7 3 5 2-11 1 7 2 1 2-14 0 20 1-6 2-15 0-1 1 5 3 7 2-4 2 4 0-1 2-1 1 2 0 9 0-17 1 20 0-24 2 24 1-19 3 8 3-8 1 17 1-17 5 6 2-8 5 6 1-2 0 2 0 0 1 7 0-15 3 11 2 9 2-18 2 17 2-19 2 18 0-11 2-5 1 0 0 11 2 8 2-7 2-6 4 12 2 2 13-18 12 1 0 9 21-8 42-5-60 40 0 0-1-16-5 4-14 4-5-5-8 0-2-3 0 21-2-1-4 0 0-2-1-9-4 7-1-2-2 5 0-19-1 0-8 13-3 4-1-17-2 10-2 3-1-5-2-7-3 5-1 9-5 7-2-14-2 15 0-15-2 9 0-12-1 17-1-21-2 15-3 2 0-10-8 7 0-10-1 18 0 0 0-15-1 9-6-2-3-13-1 21-2-19 0 13-8 2 0-2-2-14-3 0-4-2-1 21-2-12 0 8-3 1-2-12 0 1-8-2-6 13-2-9-3-1-1-10-4 1-8 15-9 28 4-11 4 12 0-16 1 5 8 9 7 3 20-6 2-14 0 2 9 16 5-8 6 2 2 4 2-17 2 7 10 15 4-21 2 7 2 8 16-9 5 9 3 8 5-5 5-9 2-8 1 20 0-20 1 14 1 8 2-12 3 11 2-18 2-5 4 14 1-9 4 3 6 4 3-10 4-2 7 23 10-21 1 16 8-18 4 6 16 3 1 7-42 33-13-6-2-4 0 6-3-8-1-5-2-1-5 13-5-16-13 15-2-5 0-4-2-4 0-5-8 1 0 8-1-1 0 0-8 16-4 0-5-4-1 3-1-20-4 16-5-11 0 4-1 1-2-9-1 7-1-1-1 9 0 2-22-3-7 2-7-6-34-6-6-2-6 5-32-11 42 43 75-4 2 7 15-10 18 13 1-24 5 8 1 10 5-14 10 4 28 32-15-14-8 9-3-2-19 12-3-20 0 4-9 14-13 1-21-17 32 26 47 4 11 52 22-57-16 15-51 7-65-42 13 14 13-20 19 5 32-4 4 22 35-24 25-13-26-2-3 6-32-12-10 13-9-17-13 0-6 5-29-1-5-4-5 5-9-5-6 14 0-1-11 8-57-41 14-1 24 11 14-13 3 18 9-3 1-5 5-9 5 17 16-13 6 13 8-13 4 2 2 3 16 0 6 12 5-24 2 20 3-14 5 2 3 10 15-11 2 14 9-20 8 5 18-3 10 0 16 6 39-8 16-14-36-11-24 1 0 16-15-6-3-8-2 8-2 8-23-4 0-15-4 8-1-9-1 8-1 5-5-10-1 18-3-21-6 19 0-14-1 6-1 4-8 7-2-13-1 5 0-4-1 3-4-8 0 5-1 6-3 5-1-17-1 11-6-11-3-1-9 17-4-8-1 1-5 8-4-17-1 18-2-16-8-4-13 13-7-3-2-4-6 15-4-16-35 16-19-37 42 11 6-14 8-4 1 11 12-14 2 10 9 4 1-3 0 9 1-21 1 13 2 7 3 0 8 4 1-6 1 2 0 4 1-17 1-1 3-4 6 20 1-12 5-2 2 7 0-1 4-9 3 1 1 14 0-3 1-13 0 13 2-12 4 8 2-7 2 10 2 0 2-1 0-12 3 5 1-8 8 24 1-5 6-6 2 3 5 8 0-24 0 13 2-6 0-2 7 2 2 12 0-2 2-14 1 19 5-1 10 2 5-9 17-14 14 7 19 5-20-27-28 12-4-10-16-5-10 1-1 13-6-15 0-1-1 16-1-10-1 6-6-9-1 3-2-7-4-3-2 7-2 7 0 6-1-14 0 4-1-6-4-4 0 12-1 3-1 3 0-14 0 0-3-2 0 19-2-5-1-13-2-2-6 14 0-7-3 10 0-5-3 7 0-2-1-16-1 5-1 9-1-8-3 13-2-10-1-6-3 12-5-12-1 5-6-7-6 14-15 6 0-7-4-11 0-2-2 16-3-12-3 6-5-10-8 4-5 0-13-1-9 4-13 11-36-33 35-7 7-1 11-6 20 0 3 21 3-19 1 13 0 2 13-4 1-3 1-2 3 11 5-18 3 6 1 17 2-3 1-6 6 4 2-17 3 12 0 4 7 2 2-18 1 0 2 18 3-5 0-6 1-1 1-5 1 13 0 2 1-2 2 1 0-9 2 9 0-14 2 21 1-1 1-17 3 6 7 1 1-10 0 18 3-7 3-14 1 10 0 5 2 4 3-12 2 16 0-13 4-7 1-2 0 3 4 18 1-11 4 2 3-8 1-5 2 0 6 24 1-11 1 9 0-15 6 3 4 3 1 10 5-9 7 3 4 5 6-3 2-11 13 6 7 10 7-1 9-5-27-38-5 4-9 1-5-7-7 11-13 2-2-7-6-4-6 1-1 14-4-1 0 1-4-5-6-7-1 3-3 6-1-7-5 13 0-4-1 2-2-9 0-6-3 5-3 8 0-4 0 7-2-12-1 3-4-12-3 7-1 10-1-18-2 2-4 10-1 7 0-16-3 12-2-11-1 14-1-14-2 2 0 11-3 3-1-6-1 10-1-3-1-16-2 18-1-13-2 12-2-17-1-1-1 14 0-9-2-3-3-2-1 13 0-12-3 2-2 1-14 13 0-20-37 2-38 13 46-21 3-8 1 10 9-13 1 0 3-4 27-4 1 20 0-1 2-15 0 18 0-12 3 8 2-17 3 20 14 2 2-2 3-17 4 14 3 5 4-17 1 7 2 8 2 0 0-17 7-5 3 4 2 0 3 17 4-9 6 11 2-21 3 20 3-22 1 15 1 6 3-5 0 8 0-9 2-1 6 3 2-12 4 10 6 0 2 1 12 3 0 0 4-12 18 8 42-10 0 4 3 14-13-27-35-10-5-8-6 5-11-1-11 14-10-13-1-6-17 13-31 5-2-19-2 8-17 10-1 2-1-5-10-8-3 1-4 5-6-4-9-6-2 16-15 4-2-20-34 20 28-40 6 11 22-8 1 4 2 7 7-23 4 15 11 7 43 2 15-19 3 18 9-22 15 23 7-4 14-2 70-16-113-17-32-2-7 10-7 4-4-7-56 8 13-44 33-26 98-11-12 50-31-11-7 6-46 8-34 14 14 9 35-9 12 6 9 6 16-5 11 4 59-3-36 13-17 4-7-9-27 22-7-18-26 16-17-19-17 22-64 1-1-9 31 33 4-3 10-4 2 5 0-15 10 11 8 0 0-2 2-9 3 12 0-13 5 15 0-20 5 4 6-1 6 18 10-15 10 4 1 10 1-10 2-6 0 9 4 6 1 1 14-7 0-11 3 13 1-11 3 4 40 12 4-13 6-2 5 13 20 21-23 3-4 2-1 3-6-5-4-15-4 11-1 3-1 4-2 1-2-12-1 0-3 5-5-7-3-7-4 10-3-3-4-4-2 9-1-1-1 3-1 2-2 5-2-13-2 0 0-8-5 22-3-7-4-2-2-3-4 13-6 0-4-7-11 8-6-22-3 16-4-13-1 8-2-9-3 10 0 9-8-1-3-13-5-2-2 0-14-3-9 9-16-3-25 28 22 6 14-4 9-10 5 3 3 15 8-2 3-10 5-5 3 15 1 3 0-9 9 6 4-14 0-6 3 16 2-11 2 0 1 3 7 7 3-12 2-4 6 21 4-18 5 15 1 2 1-18 1 18 2-13 3 15 8-13 3-9 3 10 1 5 0 5 3-17 3 4 0-2 2 8 3-13 1 5 4 0 2 13 0-9 3 13 8-15 1 13 2 4 7-13 2-3 0-8 1 12 6 2 4-14 3 18 7 5 2-6 9-2 8 9 18-2 0-10-33 33-12-5-2-14-8 2-1 15-5-1-4 1-1-9-2-6-6 9-4-12 0 14-1-9 0 3-6-7-1 3 0 18-6-7-2 6-2-19 0 3-1 5-2 1 0-8 0 15-2-4-3-5-8 0-7-5-1-4-1 18 0-2 0 5-1-21-1 2-1 8-1-5-4 4-1-1-1 8-1-8 0 16-7-9-2-10-3 19 0-15-1-9-3 14-3-10 0 2-12 0-3 12-2-4-1 5-8-5-2-12-9 1-11 7-4 11-2-18-11 12-25-9 3 43 9-18 9 0 7 15 5-17 1 0 18 8 1-4 5 13 4-13 0 9 1-9 3 8 1-12 1 16 3-13 2 3 3-6 3 20 1-21 3 3 5 9 0-14 1 13 0-7 1 7 1-1 8 0 1-12 1 20 3-5 0 0 1 3 1-5 0-5 9 0 2-3 1 0 3 13 4 2 2 1 2-7 1-2 3-11 1 5 1 13 1 1 6-4 2-17 6 0 1 7 1 6 0-11 5 20 0-16 6 8 1-2 4-8 0-2 3 3 4 3 1 5 0-4 3 6 3-14 4 4 19 5 1-2 4 3 1 5 2-2 7-2 0 0 2-5 1-7 0 21 13 1 12-2 12-10 4-3 16 13-37 23-7-5 0 0-17 2-16-12-3 8-6-9-2 14-8-13-7 21 0-21-1 9-1-9-6 9-8 11-2-8-4-14 0-1-6 8-1 12-3-1-2-7-8 0-2 9-3-6-2-5 0 4 0 7-2-18 0 14 0 4-1-1-3-13-1-3-1-4-2 2-4 2-2 14-8 5 0-17-3 12-1 4-2-17-2 9 0-1-3-2 0 12-5-18-2 19-1-24-5 0-8 9 0 5-21-14-5 1-2 5-7 5-20-10-89 45 100-14 16-1 4-6 5 18 10 0 5-2 2-9 5 9 6-12 3-3 14 20 7-17 1 17 2 2 7-23 2 4 0 8 2-3 4 2 2 11 3-11 2-2 2-8 4 10 4-2 8 3 5 1 3-6 1-2 9 3 0 5 0-1 1 10 7-16 10 12 0-2 2-4 4 5 8-4 4-6 11 16 1-6 88-4-87 27-1-2-5 7-3 3-5-6-3 4-1-4 0-16-13 17-5 2-16-20-2 9-3-1-2 9-3-11-8-6-5 1-1 15-4-14-5 0-2 16 0 4-8-6-1-1-13 0-7-8-4 6-19-12-24 16-70-3 22 12 42 0 5 18 60-12 1 8 1-10 8 16 3-11 1-3 6 0 15 4 5 1 5-12 3 24 2-1 14-1 29-11 21 1-29 18-55-5-6 14-14 8-34-16-10-2-51 1 107 28 52-6 7 42-64-16 102-21-114 9-6-7-32 13-20-19-8-19 46-2 8 3 4-4 5 9 21-6 1 0 1 12 4-2 42-5 104-39-109 19-18-19-10 15-7-9-2-2-14 17-1-11-5-5-2 3-21 9-6-6-29-11-50 20 30-35 14 4 13 3 3 5 9-16 3 14 4-10 8 8 29-15 2 18 4-16 2 14 1 0 12-8 4 3 6 9 11-20 2 6 0 3 2 4 15-6 18 5 5-26-16-5-7-2-2 2 0 14-4-5-1 6-2-10-2-7-6-6-6 23-8-16-8 2-3 1-7-5-3 2 0 14-1-9-1-10-2 9-3 11-1-11-3 6-3-11-1-1-2 18-9-19-2 17-3-18-1 8 0-1-2-8-2 1-2-2-2 11-1-8-3 8-9-2-2 1-6 7-3-15-6 13-18-1-5 8-5-5-37-17 36-18 0-5 16 12 0 5 5-15 5 10 1 5 1-13 5-1 1 8 5-1 0 10 5-13 1 5 1-2 4-10 7 17 0 3 4-14 0 7 2-12 0 10 7-5 1 14 2-19 1 9 1 0 13 4 3-17 2 15 3 4 1-20 1 7 0 1 3-1 6-7 1 12 3 3 3 0 0-8 2 17 0-13 0 3 2 1 2-1 1 1 3-7 3-7 4 4 4 15 1-4 1 1 1-9 10 15 1-11 2 1 1-4 1 3 9 1 5-5 3 2 3 9 4-3 4-14 1 14 32-7-15-16 0-7-6-1-23-4-4-1-2 1 0 18-5-22-3 20-1-2-3-14-9 18-3-14-2 7-2 4-1-18-1 17-1-7-4 6 0-9-2 4 0-5-2-8-7 23-2-21-1 5 0-5 0 15-4-8-2-8-1 12-1 5 0 1-2-5-6-14-1 20 0-20 0 5 0-6-1 0-1 7-1 1-1 9-3-5-1-3-4-5-2 12-2 8-2-14-5 12-1-7 0-9-1 3-9 15-3-18-1 16 0-21 0 7 0-5 0 0-5 10-2 3-3-8-2 8-1 3-3-18 0 23-3-6-3-7-3 7-7-16-5 13-21 3-38-3-3-15-3-25 43 7 1-6 4 9 1 4 7 10 6-5 3-7 3 6 1-8 4 1 2-1 0 2 5-6 1 4 6-2 1-8 5 13 2 7 1-4 1-14 2 20 2-10 1 11 1-17 0 0 1 8 2 10 1-7 0-13 1-4 3 14 1-6 1 15 4-22 6 10 0 1 0-6 3 15 2-19 2 13 3 1 2-12 6 10 1-13 0 16 0-15 2 15 1-12 3 4 4 5 2-7 1 7 7 5 1-3 2-16 0 12 4-2 0-7 3 18 1-16 1-2 7-1 2-2 0 18 4-13 1 4 2 4 6 7 2 1 1-17 1 18 3-8 18-1 6-12 45-1 32 21-45-44-29-1 0 20-9-20-10 7-1-3-4 13-2-11-1 5-9-11-2 14-7-2 0 5-1-10-4 11-9-10-3-5-2 1-8 2-1 9-3-4-1-12 0 22-2-13-3 7-1-8-1-8-6 19 0 1-10-20-8 19-1-14-2 13-6 1-2 1 0-20-2 0-4 21-3-5-1 2-1-2-2-11-3 13-11 2 0-19 0 17-1-7-25-2-1 1-10-3-3-6-6 17-14-3-16-1-12-20 18-6 27-5 11 14 8-2 5-1 2-10 1-4 8 8 1 9 5-12 2-2 3 8 2-12 0 8 1 9 8-13 4-4 3 15 0-8 2-10 1 2 2 14 2-2 9-15 11 11 10-4 0-4 1 4 2 4 4-1 7-10 0 21 3 1 0-16 1 13 5-18 2 11 3-9 9 20 2 1 11-12 0-4 2-8 6 22 5 2 1-22 49-18-53 15-8-5-5-14-6 15-7-7-3-1-7-9-7 1-9 14-4-2-10-9 0 0-14 14-21-4-3 3-24-14-15-2-17-4-26 8 0-12 5-8 28 0 9 6 26-19 4 1 26 8 6 14 1-19 1 16 12-5 11-7 21 2 27-2 28 3-44-13-14-12-26 6-9 2-6 2-13-1-9 4-22-1-10-22-2 6-13 9 1-18 43-3 3-11 46 2 53-5-45 16-4-1-18-2-8-9-21 5-22 33 29-19 1 16 3-19 18 11 6 1 4 5 13 6 5-22 8 19 31-16-16 21-22 16-16 1-45-14-13 14 0-1-11-13-4 17-57-20-14 12 31 35 19-21 2 19 12 1 19-19 15 21 10-10 3 0 4 1 1-12 1 8 3 0 7 9 1-9 12-8 6 6 0 8 2 2 2-14 1 7 1 7 7-12 11 0 9 16 9-7 13 8 2-5 28-6-19 33-1-15-11 13-7-10-3-2-1 4-19 13-7 0-1-17-3-6-5 23-6-2-1-6 0 0-1 7 0 1-2-5-2-15-3 12-1-13-1 0-1 5-3 8-1 2-1-8-3-1-3 15-3-15-2-3-2 14-20-14-1 3-7 15-5-7-3-15-1 17-3-13-4-5-10 3-6 14 0 1-24-9-2 10-15-14-4 10-1 5-14 0-11-10 43 25 7 1 4 3 20 8 1-5 1-1 10-17 11 10 2 13 0-7 8 0 4 0 4-16 2 16 1-16 2 15 3 7 0-8 0 5 3-3 2-10 3 5 1-1 0 9 0-17 3 9 2 0 2 10 8-4 2-9 0 1 3 4 1 7 1 4 1-24 0 11 7 2 5-2 1 13 0-7 0 2 1-7 4-7 1-5 1 18 1-15 1 10 4 11 3 0 1-21 1 1 1 15 0-19 3 4 1 15 20-12 7 4 0 13 3 0 9-7 23 25-8-6-18 11-14-19-2 10-7-2-6-10-11 16-3-13-1 16-2-11-1 3-1 1-5-2-3 9-1-19-1 15-4-15-1 2-5 9-2-10 0 5-1 2-3 1-1 2 0-8 0 0-1 15-2 2-2-11-1 3 0 7-1-16-1 14-1-8-2-5-4 11 0-2-2-7-2-5-3 2-2 4 0 5-6-5-3-7-5 5-1 0-6 2-4 14-3-10-2-10-1 0-1 10-2-8-6-1-9 19-5-6-19-10-12 14-2-18-21 21-4 14 34-9 10 11 17-14 1 19 5-10 5 1 2 4 1-11 2 17 1-18 5 2 1 14 0-9 0 5 1 7 1-3 3 6 1-4 2-16 4 5 1 3 1-12 1 9 4-7 5 10 3-5 2-6 2 14 0-7 1 2 0 5 1-3 2 0 0-5 4-5 2 22 1-20 1 7 2 3 2 10 1-1 1-16 1 7 3-6 1 15 3-19 1 1 1-4 2 12 2-3 0 4 4-5 0 4 1 3 0 1 0 5 4-5 1-15 1 1 0 2 2 17 0-15 0 7 1-1 0 2 1-4 5 9 4 3 10-14 1 6 1 2 1 3 4-3 1-1 4 6 9-7 1-1 9 2 36-4 30 29-26-5-5 10-6-1-8-19-13 16-15 4 0-11-8-2-8-5-5 20-4-8-1-4-2 7-1-7-2-4-1 15-4-16-1 3-3 3-2 1-3-5-1-5 0-2-1 19-3-12-8 6-1 5-1 4-1-16-2 3-1 4-3 6 0 4-1-5-1-6 0 8-2 1 0-6 0-2-9-8-1 3-1-4-1-1 0 11-3-5-1-3-2-6-7 12-1-9 0-1-3 16-2-12-2 2-7 6 0 5 0-20-3 4-1 16-2-3-9-8-4-2-4 4-5-2-6 11-3-10-16 9-3 3-19 2 17 3 1 7 4-7 14 0 8 6 14 12 18 3 3 0 3-21 2 0 4 0 6 20 0-5 3-13 3 11 3-1 0-12 1 20 0-19 4 0 7-1 1 12 1-8 5-2 2 18 2-19 0 15 2-1 6-12 0 7 6-3 1 12 1-13 0 11 8-11 3-6 1 8 5 4 2-4 0-4 18 2 5-3 0 18 10 0 24 7-14 7-13 7-15-17-12 3-13 14-3-12-13-1-2-2-5 2-7-3-6 7-3 9-1-15-8 11-1-14-1 8-15 4-7-2-27-8-1 0-52 22 10 11 7-6 30 15 8-8 6 9 14-20 23 0 1 8 1 2 4-10 11 4 17 12 6 6 12-17 3 9 91-5-53 39-15-1-31-19-16 5-5-4-19 8-15-9-12 11-27 1-4 21 52 5 13-17 74 1 58 1-111 21-36-10-116-18 94-2 12-5 3 9 8-21 7 3 7 3 13-5 17 6 23 8 55-37-18-1-8-3-48 3-16 20-13-8-1 2-11-8-17 5-38 6-2-15-29-2 10-28 3 5 19 12 9-12 16-5 1 18 2 2 3-16 9-4 0 15 3-10 1-1 3 13 1-7 2 10 2-15 19 2 1-5 1 4 1 0 1-4 3 12 0-3 25 4 1 7 5-15 20 9 13 5 6-1 74-20-56-8-19-17-3 5-6 11-1-5-1-7-10-4-20 5-1 5-16 0-3-4-3 12 0-18-3 3-13 12-2-14 0 14-1-11-1 20-7-6-3-11-1 8-1-9-6 2-3 5-1-10 0-2-2 5-2 5 0 3-1-5-2 8-9-10 0 10-6 7-2-19-2 1 0 7 0-2-4-4-1 8-4-2-1 6-23-15 0 18-6-17-6 17-5-6-1-2-4 1-18-9 20-23 3-7 16 3 6 11 2-1 7 1 1-4 10 13 10-11 3 0 6-10 2 5 1-5 0 7 3-4 3 15 5-19 2 17 1-12 1 6 0-9 4 12 4-4 5-7 2 17 5-9 0-10 1 4 1-4 0 14 7-3 1-5 9-6 3 1 0-4 2 8 5 10 1 2 1-17 4 16 1-19 2 11 15-8 5 7 2 3 13-12 4 14 1 9 3-12 11 0 20-34-7 21 0-2-2-7-2 3-5-17-42 9-8 13-2-4-1 5-2-11 0 6-1-17-2 13-5 1-1-13-1 10-5-4 0 8-3-3 0 2 0 5-1-21-2 12-1-7-5-5-1 6-1 17 0-5-7-15-2 13 0-16-2 21-4-13 0 12-2-1-2-13 0-1-3-5 0 22-3-4-2 6-4-14 0 9-3-17-1 0 0 13-1 7-2-7-6-9-3 17-4-17 0 13 0-14-1-4 0 3-1-3-4 21-3-5-1-9-1-2-2 0-2 13 0-9 0 7-4-5-3-11-1 23-4-13-4 6 0 6-2-21 0 2-14 2-5 1-8 13-5 0-6-5-21-23 4-14 11-1 1 14 20-12 19 3 10 12 1-9 1 3 1-6 0 7 2-9 2-3 2 21 1-9 3 4 2 2 0 2 2-14 1 13 0 1 2-5 2 2 10-3 4 4 1-4 0-7 2 15 1-1 5-21 1 1 1 4 1 8 0-5 2 12 2-17 2 5 2 1 2-1 1-2 0 8 1 4 1-17 5-2 1 8 4 9 1 4 0-9 1 6 0 0 10-4 1 8 0-6 2-4 4 8 1-6 3-12 3 9 2 2 0 4 0 0 1-14 6 6 3 12 8-3 6 3 5-17 8-1 15 0-8-17-21 0-4 7-4-1-14-12-4 15-2-3-2 4-2-14-2 8-1 8-1-3-5-5-1-16-2 23-3 0 0-2-4-13-1-8-3 13-1 10-4-15-1-3-2 0-3 7 0 8 0-1-3-11-4 15-1-4-6-16 0-3-6 13-1-4 0 8-1-13-1 19-2-12-1 13-6-2-1-22-3 18-1-14-2 15-8 4-1-6 0 2-4-16-1 13-7-10 0-2-2 16-17-1-8 4-8-9-6-28 13-4 0 15 7-4 1-1 1-15 1 13 10 8 3-2 1-10 23-6 11 1 1-2 3 17 5-6 2 0 6 9 1-1 2-11 4-10 1 22 5-11 7 7 2-1 6-6 6-4 0 0 9-4 0 6 1 12 8-12 11 12 11-13 3 9 2-2 6-16 3 1 15 11 4 8 4-20-4-7-20-6-17-7-2 15-1-6-2 1-3 8-1 0-3-15-3 8-2-5-1 6-1-13-1 3 0 3-1 10 0-11-15 6-1-12-3 7-2 5-7-6-1-4 0 10-1-14-9-1-1 14-1 8-9-8-1-4-4-4-22 17-2-10 0 10-1-22-1 0-4 14-9-3-1 4-12-3-14-12-3 12-112-24 125 6 0-3 9-10 6 1 32 7 2-4 0-12 4 4 0-2 17 12 5-1 7 8 9-14 6 5 52 8 17-30-8-6-38 8-32-9-13 16-35-11-42-5-14-3 145-12-83-32 98-27" marker-start="url(#b)" marker-mid="url(#b)" marker-end="url(#b)"/>
</g>
<g fill="#f8963c" fill-opacity="0.92"><circle r="1" transform="matrix(-4.812 2.698 3.030 5.404 93.9 156.0)"/><circle r="1" transform="matrix(-5.040 2.491 2.636 5.332 93.9 254.8)"/><circle r="1" transform="matrix(-5.336 -0.831 -0.908 5.827 184.0 254.8)"/><circle r="1" transform="matrix(-5.455 1.500 1.609 5.852 93.9 337.5)"/><circle r="1" transform="matrix(-5.407 -0.219 -0.245 6.037 184.0 337.5)"/><circle r="1" transform="matrix(-3.489 -2.503 -3.934 5.485 273.4 337.5)"/><circle r="1" transform="matrix(-1.931 -1.728 -5.266 5.884 93.9 436.5)"/><circle r="1" transform="matrix(-5.103 1.532 1.803 6.004 184.0 436.5)"/><circle r="1" transform="matrix(-5.250 0.432 0.509 6.181 273.4 436.5)"/><circle r="1" transform="matrix(-5.353 0.695 0.799 6.157 377.0 436.5)"/><circle r="1" transform="matrix(-5.325 1.739 1.995 6.109 93.9 552.3)"/><circle r="1" transform="matrix(-1.360 -1.127 -5.111 6.166 184.0 552.3)"/><circle r="1" transform="matrix(-5.241 -0.497 -0.601 6.332 273.4 552.3)"/><circle r="1" transform="matrix(-5.401 -0.300 -0.353 6.345 377.0 552.3)"/><circle r="1" transform="matrix(-5.281 1.457 1.705 6.182 466.2 552.3)"/></g>
<g fill="none" stroke="none" transform="scale(0.2)">
<path d="M452 770l6 2 1 1 2-8 2 5 8 1 1-13 1 3 13 28-5 4 0-16-1 15-1-2-4-10-3 5 0 13-3-18 0 7 0-12-1 9-2 5 0 7-1-21-2 18-1-17-1 1 0 14 0-9-1 1 17 21-2 0-16-5 1-24 1 16 0-5 1 1 2-11 4 8 0-9 1 9 0-2 4-6 0 21 1-20 1 15 0-8 4-3 4-4 4 10 2 4-8-22-3-3 0 1-2-6 0 11-4-2-3 0-13 1 3 0 6 1 0-12 3 4 0 7 0 2 2-10 1-8 1 15 0-8 1 10 2 1 1-1 1-7 5 0 1 13-4 8-3 4-4-14-2 1 0 9-1-9 0 1-1 2-2 9-1-6-3 2 0-5-3 4-3-7 2 5 0 1 4-3 1 9 6 2 1-14 0 6 1-3 2 5 1-8 2-2 1 15 1-12 2 4 1 3 0 14 1-6 2-8 0 5-5-18-2-3-2 0-4-5 0 5-1 3-2-3-3 0-13-2 2 2 12 2 6 0 2-2 5-4 4 5 2 1 9 10-8-6-5 8-1-6-3 7-6-4-1 0 0-5 0 15-1-1-1 6-2-17 0 21-1-1 0-23-1 15-3 1-3-14 0 7 12 16 1 0 11 2-23-19 3-2 2-6 2 15 0-12 1 6 0 1 1-4 1 13 2-10 1-5 0 10 1 3 3-5 0-7 3 5 0 1 1 2 6 0 6-13-12-3-7-5 0 3-2-3 0 7 0-1-1-12-3 7-1 5-14-5 5 0 1 4 0 0 12-9 2 8 7-1 2-4 5 13-1 8-1 0-3-2-4 1 0-7-2 1-1-1-1 0-2-2 0 11-2 0 0 4-1-16-3 9-1-6 0-4-4 3 0 0-2 10-6-10 6 0 2 11 3-14 0 9 4 7 0-15 1 21 3-18 2 14 1-4 0-4 1 0 0 1 1 0 2-5 2 0 1 5 2-1 2-6-6-9-1 0-1-9-2 8-3 4-4-10-2 0-1 3-6 5-7-2 8-4 8 7 6-7 13 24-5-10-2 0-1 1 0-5 0 23 0-17-1 5-2 4-1-3-1 5 0-16-3 8-1 2-1-3-1 11-1-15-1 6 0-4-1 0-1 0 0-1-1-4-1 5-4-2-4 0 22 23-26-27 11 15 5-12 1 5 2-7 1 0 0 12 2-3 3-8 1-2 1 9 1-9 0 6 1 2 1-5 4 5 1 12 2-6 0-11-4-5-2-2-5-8-6 10-5 0-1-1-1-16-7 14-1-3-6 4 8-3 4 3 0-4 15 0 5 6 1 20-3-14-2 17 0-21-2 14 0-8-1 15 0-5-3-1-1-4-1 0-1-7-1 6 0 3-2 9 0-22-3 6-1-5 0 4-1-2 0 4 0 6-7-10 5 8 0 10 1-18 0-2 0 7 2 6 1-3 0-9 4 4 0 0 1 12 0-5 1-12 0 5 1 8 0-8 1 0 1 1 0 7 6-12 1 15 2 0 11-14-7-5-4 1-9-9-4 8 0-3-10-10-7 14 7-3 6 0 2 2 0-5 1 4 0-2 5 3 0 0 7-1 4 2 2-4 4 11-3-6-4 7-2 0-3 5-2-10 0 4-1 5-2-4-4 12 0-16 0 9 0-4-1 13-1-9-1-12-7 10 28 15-14 1-10-15 0 0 0 0 4 1 0-10 4 7 0-6 0 2 1 13 2-16 1 2 3 0 4 16 1-6 1 3 2-19-6-5-5 1-1-9-1 6-2-1 0-1-2 7-2 1-4-4-6 5-2 1-5-3 7 1 11-2 6 2 1-4 1 3 1-4 12 4 0 4-5 16-2 6-1-19-3 15-1 2-3-18-1 8-2 6-1-13 0 21 0-24 0 12 0-9-1 19 0-2 0-18-2 10-1 4 0-6-5-6 0 10 3 6 2-3 0-17 2 13 1-1 0 6 0-8 2-6 1 8 1-9 1 14 0-11 1-6 1 15 4-8 0 10 3 0 0 3 5-4 4-8-4-19-1 4-8-1-7-4-1 0-3 10-4 0-1-7 4 4 3-2 3 5 0-5 9 3 0 3 2-9 2 4 6 18-9-10-3 5-2-1-1 10 0-8-1-5-1 1-3 3-1 10-1-6 0 1-3-4-2 10 0-13-1 0 0 1-4 6-7-8 24 23 8-2-33-17 8 0 5 5 1-4 1-5 3 11 0-7 3 16 0-4 3-16 2 0 1 0 1 7 2-2 0-4 1-5 4 5 1 8 1-8 2 4-6-12-10 2-3-12-1 4-4 6-2-1-4 3-5-2-4 1 5-6 7 5 12-1 0-11 4 12 5-7 0 3-1 23-1-7-2 4-3 11 0-6-1-11-1 3 0-7-1 17 0-11 0 0-1-9 0 11-1 11-1-11-3 4-1-13-2 18-2-10 0 0-12-5 5 3 0-1 2-5 1 1 1 3 7-4 0 14 1-5 0-10 2 9 0-4 1 8 1-10 1 17 5-11 6-3 1-10-10-8-2 1-4 0 0-3-1 10 0-5-1 5-1-8-3 7-7-7" marker-start="url(#o)" marker-mid="url(#o)" marker-end="url(#o)"/>
<path d="M458 1273l1-20 8 19 1-3 2-8 3 7 2 4 1-1 0-3 1-13 0 17 3-9 8 6-5 22-2-14-3-1-1 6-1 9-2-6-2 1-1-6-1-5-1 7-3 12 0-14 0-3-4 7-1-2 0 2 4-5 0 4 4-3 1-3 0-2 5 7 2-3 1 6 1-7 11-4-6-13-4 11-1 2 0-8-1-3-1 6-2-11-1 5-1 4-2 0-1 3 0 1-1-1 0 0-4-4-1-7-1 14-5-1-1 0-9-3 4-6 4 7 3-2 2 1 2-2 1-5 0 6 2 0 1 6 0-13 2 4 8 4 0 1 2 0 4 2 0 2 0-16 1 9 2 3-4 11-2 7-7-13-1 19-5-9 0-7-6 5-4 0-2 1 3-8 1 3 1 0 3 0 6 2 0 1 3 3 1-5 0 3 0-5 1 11 4 3 1-8 5-7 0-2 1 11 4-17-4-7-4 7 0 3 0-8-6 4-5-6-1-1-3 10-3-9 0 7-1 4-10-3-3 4 9-1 4-9 3 6 1-1 0-1 1 0 1-3 0 1 1-5 5 9 1 3 3-21 2 0 1 16 3-12 1 1 1 15 1 2-2 4-6 13-5-14 0 3-3 0 0 4-2 1-2-5-2 3-11 0 3-8 2 12 1-11 1 5 3 13 2-10 1-7 1 9 0-6 2-3 1 9 1 6 2-11 0-6 0 3 1 10 1-4 3-3 3 6 4-22-4 4-6 0-1 3-3 0 0-7-3 8-1-7-1 6-5-12-12 9 9-1 7 1 0-16 1 7 0 13 1-2 2-6 5 4 4-13 0 13 2-1 0 5 6-1 0-6-1 10 0 1-5 9-6-5-1 5-1-11-1 1-2 23-3-14 0-6-4-2-8 8-3-6-4 3 5-4 10 2 2-4 1 2 1 14 1-13 5 4 0 5 1-1 0-10 6 17 1-12 0-1 0-5 1 14-1-21-1-17 0 9-2 6-2-5-4 12-1-2-1-14-2 7 0 3-3 6-3-3-4-2 14-20-12 18 4 1 2 6 0-3 2 2 3-2 0-20 1 20 0 1 4 1 1 0 1-6 1 2 1-4 2 4 1-3 4 7-2 5-4-1-2-1-6-1-2 16-1-10-1-3-1 7-2 2-2-3 0-6-4 2 4 10 0-10 3 6 1-7 0-2 0 14 0-12 0 0 2 2 1-6 3 6 3 2 7 0-3-20 0-6-3 1-1 13-1-1-4-9 0 6 0-2 0 4-6 0-4 2-3 1-1-7 0 6-3 1-1-5 6 6 1-1 1-16 0 11 3 7 3-2 1-3 0 4 0-5 1-6 3 4 1 1 1 1 4 0 2 1-2 23-1 1-2-17-1 4 0-3-8 9 0-4-2 7 0-5-2 1-1-6 0 1-5 3-7-6 0 7 11-9 1 14 1-4 2-5 2-2 1 7 2-2 0-6 3 14 4-5 8 0 7-15-12 0-1-6-1-9-3 17-1-6 0 5-1-6-2 8 0-20-3 10-1-7 0 11-1 5-1-3 0 3-2-14-8 15 4-7 2 2 0 2 4 1 0-1 2-1 2 4 5 0 1-7 1-4 6 9 0 1 1-3 3 0 1-1 4-1-16 16 0-9-1 13-1-12-4-1-2 0 0 7-2-3-6 4-1-6-5 4-6 1 8-2 2-5 1 5 3 0 1-2 3 6 1-5 0 4 1-5 3 1 1-4 0 1 1 2 1 14 2-16 4 3 0-2-2-3-1-12-4 5-2-2 0 4-2 3-2-5 0-2-1 9-4-4-3-7-2 1 5-2 0 4 1-2 5 4 4 4 4-9 1-10 0 5 0 2 2-1 5 13 0 0-6 4-1 5-3 10-1-9 0-2 0 1-1-4 0 6-1 14 0-21-1 1-2 0 0 5-7 1-5 7 3-8 1-4 4 12 2-14 1 9 2-8 0 1 1 15 1-15 0 6 1 6 5-15 4 11 7-21-5 0-2 3-2-11-3 14-1-12 0 0-5-5 0 15 0-1-2 5-5-16-3 1-4 6-2 5 1-7 8 9 3-9 1 11 5-8 0-5 7 11 1 0 0-4 1 7 0-4 4 2 6 13-7-10-1 12-1-11-1 6-2-2-3 1-4-1 0 6-1-3-1-4 0-4-1 2-1 5-6-2-3-4 3 12 2-6 1 4 0-1 4-5 0 5 1 3 2-11 0 17 1-17 3 1 10-20-6-2-3-3-4 20-3 0-1-6-2 7-1-1 0 1 0-3-1-2 0-3-4 4 0-11 0 9-3-1-10-5 5-1 5 1 2 3 2 6 3-3 2 6 3-9 2 0 0-6 0 9 1 3 2-4 4 4 0 3 4-14 2 9 3 3-4 7-3 11-7-9-2 4 0-7-2 4-8-5-2 0-1-1-2 18-4-16-1-3 14 7 3-1 3-5 0 8 2-2 3-4 0 7 4-10 1 3 3 12 1-19-9-6-2-6-1-1 0 10-2 0-2 0 0 1 0 3 0-3-2-12-1 17-1-2-1-10-2 1-1 5-2-7" marker-start="url(#o)" marker-mid="url(#o)" marker-end="url(#o)"/>
<path d="M903 1272l5 1 2-7 1 3 0 4 1 0 2-3 0 4 2-5 1-5 1 8 1-1 5-13 0 8 1 8 5-8 3 7 0-2-1 21-5-7 0-10-1 9 0 0-1 2-1-6-7-5-1 5-4 6-6-6 5 2 1 11 0-18 1 15 1-15 5 19 2-19 0 2 1 11 1 10 1-13 3-5 3-2 0-3 2 1 5-14-6 3-3 7-1 2-1-5-5-10-2 9-1 6-2-1-3-11-1 11-3-8-3 7-3 2 6-15 5 9 0-10 2 13 1-6 2 9 0-16 1 10 3 4 1-1 0-2 2 5 0-11 2 2 0 7 2-4 1 12-3-3-2 6-2-1-2-3 0 1-1 3-3-3-1-2-1 7-5-1-6-5-4-4 4 6 10-6 7 5 0 0 5 3 0 7 1-10 1-2 2-1 4-6-6-1-1-2 0-5-1 8-1 1-2-11 0 2-3 4-2-11-1 6 0-11-1 16-1 1-1-4 0 6 0-5-5 3-1-14-7 18 8-12 3 14 1-8 1 6 0-1 2-13 1-1 3 10 0-9 1 3 6 0 6 23-4-6-2-1-3 2-1 1 0-3-2-1-1 18-3-16-3 0 0 4-1-7 0 10-2-4-1 2-3-1-5-5-2 5 8 1 1-6 5 15 3-9 0-3 0-4 13 6 1 3 1-4 1-4 4 7 2 2-12-15 0-1-1-2-3 1-1 1 0-2-1 1 0-1 0 0-1-1-1 4 0-5-1 5-2 1-1-18-2 2-14 16 5-10 1 1 3-11 1-1 3 17 0 0 2 0 0 3 1-7 0 8 3-1 1-6 0 5 1-1 3 4 2-6 8 4 0 6-1 5-1 1-3 2-2-2-4-6-6 15-3-14-2-2 0 3-2 9-4 4-1-14 1 1 6-3 5 4 2-1 0 0 1-4 2 1 1 1 4 5 0-7 11-3-5 1 0-6-3-4-2-2-3 1-1 7-3 0-1-1 0-6-1 7-3-3 0 1-1 5-1 1-3-12-2 6-3 3-2 1 1-1 1-15 0 10 7 5 1-14 9-4 1 10 3 7 1 1 0-3 2-5 0 12 2-5 2 1 3 14-1-7-5 2-3 1-1 2-1-4-5 9-2-7-4-5 0 0-2 3-1 2-3 1-5-2 6 3 5-3 1-1 1 3 3-2 1 7 0 0 1-9 0 10 4-7 1-4 3 6 2 9 3-20-2-5-7 8-2-6 0-6 0 4 0 5-2-13 0-1-2 3-5 9 0 0-2 5-5-1 0-8-5 0 6 4 4-4 2 4 0 0 7 1 0 3 1-6 1 3 0-3 0-14 3 14 1 6 0-8 1 1 7-4-4 13-2 1-2 14 0 4-1-18 0 3-2 4 0-6-8 0-1 0-6 10-1-5-1-5-1 2 3 2 5-6 1 19 1-16 2 6 3 4 0-5 4-6 1 14 1-9 4-6 1 0 3-4-2-2-3 4-2-1-1-14-3 10-2-10-3 7 0-14-1 15 0 5 0-10-2 2 0 9-3-12 0 6-1 5-12-1 8 3 1-3 4-2 0 4 2-9 5 4 2 5 1-1 0-10 3-2 7 8 1-2 7 11-7-2-1 12-9-9-3 5-3 9-2-6-1-7-1 5-1 8-2-4-2-7-3 5-3-10-1 2-4-1 10 13 4-7 2 2 3-7 1 7 1-1 0 1 0-8 2 10 1 2 2-14 1 11 4-3 1 8 4-13 3-9-3-11-4 14-1 0-1-3 0 0 0-13-1 13-2-13-2 13-2-8-1 11-1-4-9 2-1-5 2 4 5 4 1-6 1-10 0 8 1 6 1-3 2 4 0-2 3-3 0 4 0 3 2-17 7 20-4 3-4 5-3-9-1 18-2-17 0 1 0-3-1 3-1 0-3 0-5 7-6 3-1-7 0 4 3 6 2-5 5-3 1-3 3 0 1 9 1-9 1-4 0 3 3 6 0-6 9 1 2 11 2-6-1-13-3-5-4 5-3-3-1-1-2 5 0 1-2-21-1 12-1 4 0-4-1 9-2-14-5 14-6-2-1 1 3-13 4 3 2 2 4 0 1 8 0-5 3-3 1 9 2-1 0-12 0-5 3 18 1 0 9-12 5 14-10 17-3-8-3-3-2-1 0 3-3-9 0 15-3-4-4-10 0 3-5 3 0 0-1 0-2 12 2-19 3 10 1-8 0 3 3 6 1-1 1-9 2 5 2 8 1-6 4 7 1-7 13-5-10-10-1 2-1-3-1 4 0-2-5-8-1 7-5-1-2-16-1 8-1 15 0-17-3 4-3 2 5 6 0-10 3 9 0-5 1 5 1 4 2-4 3-1 2-3 3 10 2-6 1 4 1 0 3-2 4 12-3 9-3-12-2 7-3 5-2-10-1-4 0 12-2-14-5 11-1-8-4 6-1 0-3 6-5-10 7 1 2 3 1 0 1 4 3-10 0-1 1-1 4 0 6 5 5 0 0-14-1-8 0 12-4 0-1-2-5 4-1-15 0 13-2-2-1 5-4-15 0 6-1 7-2-14-1 5-2 6-5 3" marker-start="url(#o)" marker-mid="url(#o)" marker-end="url(#o)"/>
<path d="M462 1673l7-10 2 0 3 11 12-5-1 16-2 11 0-18-1 16-1-3-1-9 0 6 0-5-4 11-2 1-1-7 0 3-1-12-1-3-2 9-1-10-1 9-1 5-2-2-1 6-2 3-6 2-1-1-7-21 27 35-3 0-14-32 1 11 2-10 2-2 2 21 1-6 1-18 1 1 1 11 0 6 0-11 1 0 1-4 0 4 2 12 1-7 0-11 1 15 1-4 1 5 1-13 0 9 1-5 1 6 1-14 5 21 6-11-28-15 16 4 2-4 2 8-4 12-1-10-1-5-1 4 0 9-1-5-1 6 0-12-3 17-2 2-1-8-1-9 0 9 0-12-3 17-3-15-2 5 0 2 0 1-3 7-1-5-6 1 18 21 3-6 8-1-10-3-1 3-11-23 2 3 1 8 1-10 3 15 1-7 2 9 0-12 1-2 1 0 1-4 1 17 1-7 4 9 1-15 1 6 0 4 0-6 1-7 1 6 1-5 3-3 1 3 1 3-10-11-10-2-13-1 10-4 6 7 16 4-3 14-1-8-1 12 0-1-1-7-3 7 0 1 0-2-2-13-1 13 0-17-1 15-1-5-3-1-6 0 0 1 0 1 0 6-1 2-2-4 0-11-5 15-3-16-2 6 15 15 10 3-7 3-19-24 8 4 4 0 3-8 0 19 0-9 3 7 1-8 2-9 1 6 1 7 0-3 1-4 0 3 0 5 1-7 0 5 0 2 1-8 0 0 5 12 1-6 1-3 0 11 6-15 7 0-22-12-6-1 8 3 7 0 1 20 0-2-1-2-1-4-3 6 0-6-1-4-1 8 0-4-1 8-2-14 0 9 0-3-1 13-1-10-1 6 0 1-1-9 0-6-4 18 0-6 0-13-1 15-1-5-9-11 14 26 1 1 7 4-3-4-5 4-14-26 7 3 2-5 1 3 3-8 0 5 1 8 0-1 2-10 0 10 0-14 1 10 0 6 0 3 1-16 0-1 1 19 0-1 2-6 0-4 3-4 0 9 8-12 2 13 4-3-28-17 24 3 1 7-3 17-2-11 0 8-1-16 0 15-1-17 0-1-1 2-1 3-2 2 0 3-4 6 0 7-4-2 0-7-1 1-1 6 0-10 0-6-1-1-3 7-3-1-1 10 0-19 12 27 4-2 5 0-13 0-13-11 7-2 0-7 2 14 0-17 3 5 0-1 1 5 0 11 1-8 1-2 1 4 0-12 2 9 0-12 1 5 1 1 2 9 0-17 1 16 0-6 2 8 1-7 0 12 2-3 2-16 1 13 5-15-16-5 7 0 10 22-2-10-2 10-1-3-3 6-2-13-1 8-2-13-1 10-1 9-2-8-1 8 0-4 0 1-3-6-1-9-1 10 0 1-1-1-2-9-2 17-1-5-6-6-2-3-3 10 8 9 6 0 17 1-10-4-3 0-3-1-3 4-4-13 2-6 2 4 1-9 2 6 0-4 2 7 1 9 2-23 0 17 0-8 0 11 1-2 3-6 0-12 0 19 0-12 0 0 7 15 5-8 1-2-17-23-1 8-7-3-4 5 2-1 1-3 4-1 0 2 6-5 6 8 0-3 15 19-9 8-4-18-4 11-1-8-4 6-1-3 0 5 0-10 0 3-1 12 0-12-3 15 0-4-2-13-5 12 0-2-1-13-5 9-2-10 32 23-18-1 0 1-14-19 4-4 4 8 1-2 0-1 0-4 2 3 1-5 3 18 1-20 2 10 1 6 1-3 0-13 1 16 0-3 1 4 1 0 2 4 1-12 2 4 2-3 1-6 0-2 0 10 3-5 5 1-26-13 24 26-4-14 0 3-2 0-2 10-3-1 0 5-3-20-1 10-2-6 0 15-1-9 0-3-1 5-1 6 0-12-4 10-1-15-1 14 0-19 0 24-2-21 0 15-2 1 10 9 2 10 2-9 11 0-2-2-3 9-2-7-10 3-5-5-3 6 0-11 1-3 0-16 1 16 1 1 1-14 4 18 1-15 0 2 2-3 4-2 1 12 2-9 2 13 2-21 2 14 4 8 0-1 0-12-3-11-4-3-4 3-6-2 4 1 1-11 14 36-6-4-2-11-3 5-2-12 0 14-1 2-1 5 0-18 0 6 0-6-1 14 0-7-1 3 0-12-1 5 0 6-1 5-1-7-1-5-1-2-1-1-3 12-7-7-3 7 20 15 3-2 9 3-8-3-1 0-5-2-3 5-9-31 1 2 5 9 1 10 1-7 0 0 2 3 2-13 0 7 0-9 2 1 0 11 0-1 4 0 2-4 0 5 1-1 0 1 4-3 2 11-6-23-1-11-8 10-5 0 23 4-1 9-1-4-1 6-3 1-5 6-1-9 0 1-1-10-2 12 0-3-1 8-3-16 0 5-1 11 0-10 0 10 0-17-1 16-1-12 0 5 0 13-4-7-4-7-5 0-5 4 19 24 4-9 9-1-15-1-9-16 1-1 8 1 0 11 3 2 0-3 2-16 0 3 0 12 1-8 5-3 0 5 2 1 1-1 0-10 4 11 1 4 1-2 3-8 0 0-4-10-4 0-1-3-2 2-5 0-4 1" marker-start="url(#o)" marker-mid="url(#o)" marker-end="url(#o)"/>
<path d="M920 1673l4 0 9 1 7 17-3 3-10-2 0-3 0 8-1-11-2 12 0-11-1-11-2 16 0 7-1-9-1 6-1 2 0-7-1 0 0 1-1-14-1 14-1-7-1-3-4 12 0-8-8 11 19 8 14-3-1 0-26-5 1-11 1 3 1-11 3-2 1 1 3 7 0 4 1 8 1 3 1-3 0-1 4-17 1 10 1-9 1-2 1 16 0-18 1 14 0 8 3-3 2-3 0-13 1 2 3 3-14-21-2 12-10-2 2 1 19 16-3-7 0 16-1-9-1-7-1-1 0 3-3-2 0-7-1 12-2-1-1 2-1 8 0 3 0-20-1 0-1 20-1-13 0-7-2 8-1-9-1 21-2-4-7-18 12 26 0 8 5-6 6-1 3-4-7 2-2 2-12-12 1-14 1 13 2 2 0-16 3 9 0 2 0 0 1-4 0-2 0 1 3-2 3 3 1 15 0-19 1 18 2-14 2-8 0-1 0 17 4-8 1 10 1-5 4-15-17-2-2 2-9 0 8-4 8-7 9 14-3 9-1 2 0 0-5 4 0-5 0 0-1-2-1 3-2-2-1-1-1 11 0-10-2-2-3-2-1-7-1 9-1 3-1 0 0-10-5-1 0 10-2 5 0 4 18 11 2 1-9-4-6-2-3 1-6-15 4 9 7-14 2 13 1-5 0-4 0-8 1 6 1 10 0-5 1 2 0 4 0-9 2 1 2-1 0 12 1-18 1 0 1 15 3 1 1-15 0-1 0 6 1 5 13-2-20-18-9-1 6 1 4 3 11 0 1 18-3-10-1 12 0 0 0-8-3-8-1 21-3-18 0 14-3-16 0 6-1-4 0 10-1-3-3 6-1 0 0-6-1 1 0 0-2 4-1-9-8 2 4 15 17 1 10 2-1-3-31-13 3-2 1 4 4-2 2 2 0 4 0-11 3 6 1-12 1 6 0 2 2-2 4 7 1 7 1-11 2 6 0-13 0 4 1 12 0-13 1 11 0-10 1-2 2 10 0-3 1 3-7-22-10 3 17 1 1-4 3 6-9 24-2 0 0-1-4-5 0-14-1 3 0 8 0 5-1 0-3-12-1 13 0-7-1-4 0-1 0-2-1 4-1-2-2-3 0 13-2-8-2 8-1-2-1-2 1 16 15-5 4 1-1 4-1-3-20-18 5 7 1-7 1 11 0-16 2 6 4-7 1 13 1-3 0 5 0-7 2-1 1 13 0-10 0-4 1-8 0 16 1-8 3 0 0 8 2-7 2-8 3 17 0 3 2-5 2 6-30-28 9 2 5 1 21 9-9 11-3-9-2-5-1 8 0 9 0 0-2-7-1 6 0-16-1 3 0-5-3 5-1-4-1 2-1-1 0 12-1-12 0 3-1 13-5-15-2 10-3 2-2-8 0-1-2 15 26 8 0-4-4 2-4-1-10-15 1 8 1-4 1 5 1-6 1-5 3 3 2 3 0-6 0-12 0 1 2 15 2 2 1-16 0 16 1-3 1 2 1-15 0 20 1-12 1 8 2-11 3-3 1 15 1-18-20-3-2-4 1 2 6 3 0-1 15 21-1-10-3 14-2-10-2 6-1-5-1-7 0-4-3-1-1 4 0 12-1-2-3 4-1-9-2 2-1-5 0 13-1-7-2 10-2-22-5 11 8 15 3-3 7 10 1-5-18-30 0 15 3 0 1 5 4-5 1 0 0-8 1 10 0-13 2 18 1-19 0 16 1-16 0 4 0 4 0 2 3 7 2-13 0 11 1 3 1-10 1 8 1-7 2-2 2 9 6-20-14 0-4-5-14 4 8-10 8 9 2-8 6 16-2 2 0-4 0 3-2 6-2-3-2-4-1 3 0 0 0 2-1-6-1-4-2 18 0-8 0 11-3-5-1-7-1 1-3 2-3-8-5 14 18 11 2 0 3-3 0 3 16-4-13 2-4 11-1-1-14-9 0 1-1-3 1-2 2-12 1 12 2-14 0 14 2-10 1-1 0 2 0-10 0 8 2 3 0 0 2-9 0 17 1-11 5 1 0 5 1-6 1-6 1 3 1-1 1 0-22-10 0-3 11 2 15 14 0 3-3-11-1 6 0-6-2 0 0 4-1 7 0 2-1-3-1-3-2-11 0 21-1 0 0 0-2-17 0 11 0-14-3 5-3-3-2 9-1-6-2 1 0 7-3-13-2 19 25 13-4 3-7 2-10-10-5-9 5 0 1 3 1-13 1-3 1 8 0-4 2 4 0 6 0-5 3-9 3 8 2 6 1-12 2-6 1 1 0 1 3 0 0 10 1-1 0-10 1 13 4-2 0-3-22-19-10 4 14-1 11 4 0 0 1 22-3-17-2 0-1 15 0-4 0-8-1 13-1-4 0 6 0-17-1 8-1-4-1 1 0-3-3-5 0 19 0-2-3-16-1 11 0-3-1 7 0-2-1 4-3-5-4 6-1-7 25 15-5-4 0 10-4 4-12-7 3-31 2-1 0 23 1-11 2-4 0-8 6 17 0-7 1 12 1-1 0-11 3 2 0 1 1 0 2 6 0-5 1-4 1-4 3 8 4-5 0 8-5-21-8 3" marker-start="url(#o)" marker-mid="url(#o)" marker-end="url(#o)"/>
<path d="M1373 1663l13 20 0 0-7-2 0 14-4-9-1-11-2 11 0 5-1-9 0 1 0 5-1-13-2 15-1 7-2-8 0 2-2 5-1-3-2-1-1-17 0 23-4-14-2 9 0-11-1 12 0 0 0-9 6 17 5 3-4-2-2 10-8-20 4-5 5 5 2-8 0 0 1 9 1 0 1-14 1 12 1-15 0 9 1 1 0-5 0 2 1-7 2 15 2-10 0 15 2-6 0 4 1-13 2 13 4-17 1 7-13-11-12 0 26 4-2 2-3 14-2-2-1-1-2 0-2-3 0-9-1 12 0-6-1-7 0 11 0 3-1-11-2-2 0 7-2 3 0-1-2 6 0-8-1 3-1 10-2-24-1 16 0 6-3 4 11 3 0 2 9-4-8 3 0-1-3 0-13 2-3-10 6-18 7 11 1 5 0 0 1 5 0-12 1 4 1-7 0 2 1-7 2 11 0-11 2 19 1-10 1 11 0-10 1-8 1-5 1 13 5-8 3-4 2 1-6-14-18 10 13-1 6-2 1 1 2 2 5 12-1 2-3 4-3 0-2-9-3 1-1-3 0-6-1 4 0 12 0-13-1 7-2 4-1 7 0-11-1-5-1 5-4 0-5 6-5-2 0 5-1-2 4 18 7-3 2-7-8-6 0 3 1 1 0-12 1 2 1-1 1-6 2 1 0 15 0-1 0 1 1-14 1 3 0 2 1-1 2-1 2 12 1-9 1-12 0 2 1 6 0 5 3-11 0 9 6-5 1 4 1-4-7-10-3-2-5 3 15 0 3-3-5 14-1-8-2 5-2 1-1-4-4 4 0 2-1-3 0-6 0 16-1-16 0 14 0-10-1 9 0-4-2 5-1 3-1 1 0 0-2 1-3-1-2-1-2 3-5-3-3 11 26-2-11 4-17-7 6-6 3 6 3-16 0 5 3 5 1 1 1 4 2-22 1 15 1-9 2 11 1-3 0-2 0 2 2 6 1-10 1-7 2 11 0 6 2-10 1-11 1 4 3 7 1-4 3-8-8-4-1 0-20 3 15 1 9 5 0-1-2-2-3 13 0-3-3-1-2 6 0-13 0 4-1 8-3 6-1-10-1 5-2-6 0-4 0 12-2-15-1 16-1-8 0-1-1 9-1-10-1 19 8 0 3-2 1 3 2-1-1 0-5 2-3-3-2 2-1 3-5-11 1-3 6-5 2 0 1 0 2 3 1-1 2-4 0-5 0 0 3 16 0-17 0 1 1 9 0-5 0 5 1-8 0 2 1-2 1-4 6 12 1-9-11-8-5 0-1 1 2-5 4 0 0 2 9 12-1 2-1-4-2 8-3-3-1 10-1-8 0-4-2 13 0-8-2-12 0-1-1 12 0-3-1-5 0 9-2 7-1-13 0 6 0 5-1-4 0-6-12 11 6 9 14-4-9 1-4-1-3 1 3-3 3 1 0 0 1-3 1 1 0-3 3 1 0-10 2-1 0 8 1-1 0 8 1-22 1 5 2 4 0 3 1-11 0-1 1 17 0 3 1-4 3-5 3-6 0 6 9-15-24 1 0-4 5 4 2-4 10 14-3-8-4 3-2 7-1 5 0 2 0-4 0-1-3 11-2-11-1 9 0-18 0 11-1 9-1-10 0 10 0-19-1 11-1-14-1 15-2 4-1-21-6 26 3 9 9-6 3 1-9-1-9-9 2-1 1-3 1-3 1 2 3 3 2-8 3 1 1 6 1-14 0 6 1 6 0 4 3 1 1-8 0-4 0 6 0 6 1-15 2 12 2-11 0 0 1 3 1 3 7-4 0-16-4 6-6 1 0-12 16 16-11 0 0 16-1-18-1 13-1-12-1-2-1 17 0-14-1 5 0-1-1-7-3 12 0 11-1-11 0-10 0 19-1-14 0 8-1-7-3 16 0-4-1 1-2-7 0 8 0-17-3 22 7 9-1-11-1 6-6-4-1-18 3 11 0-6 1-11 0 21 0-13 2-1 0-5 1 19 1-4 5 4 0-9 1-8 1 0 0 16 1-11 0-7 1 16 0-5 3-7 1 1 1-5 10 4 1-15-13 3-19 2 18-1 13 14-5-11-1 10-2 7 0 0-1-9-2 6 0-12-3 16 0-14-1-1-1 6 0 1-1 0 0 1-2-8 0 5-4-7-1 17-1-19-2 8 0 9-1-13 0 17-4-6-3 5 5 16-7-12 6-6 2-5 1-1 2 8 0 1 1-12 2 5 0-12 4 12 0-1 1 4 0-7 0 2 1 2 0 0 1-8 0 11 1-5 1 0 0 2 0 4 3-7 0 11 0-13 3 3 11-9-24-7 0 0 15 21-5-12-2 7 0-5 0 14-1-10 0 0-1 10 0-7-1-7-1 12 0-5-2-4 0 13-1-11 0 1-1-7 0 10-1-7-1 0-3 8-2-9-8 13 1 7 5 0 3 5 2-7 6 1-4 8-6-3 0-8 0-4 4-7 2-9 0 19 1-14 2-2 1-7 0 20 2-16 1 0 0 17 2-7 2-3 0 2 1 7 0-16 2 16 0-10 1 10 7-18-11-3-5 0-1-1-2-1" marker-start="url(#o)" marker-mid="url(#o)" marker-end="url(#o)"/>
<path d="M475 2174l0-7 4 3 2 1 1-1 4-9-5 14-3 6-2 3-3 0-1 3-1-8-1-3-1 5 0-1-1 1 0 6-1 3 0-4-2-2 0 7-1-4-1 8-1-5 0-1 0 2-4 7 0-5-3 1 7 6-7-3 2 1 1-10 4 10 2-10 1 1 1-5 1 3 0-6 0 4 1 5 1 2 0-8 1-5 1-4 0 7 1-5 0 5 1-5 1-1 2 2 1 2 1 0 3-4 1 4 1-7-8-3-1 0 0 4 4-3 0 2 2-2 3-5 0 1 1 6 2 1-6 3-4-1 0 7-1 0 0-2 0-4-1 4-1-5 0 2-2-2-2 9-1-1 0 1-2 7-2 2-1-6-1 4-1-1-5-2-4 10-5 4 4-6 1-8 6 3 6 1 0-10 1 7 0-8 1 3 0-6 0 9 0-2 1-5 0 3 1-5 0 3 0 2 0 1 0 6 1-16 0 7 0-2 1-3 1 8 1 1 3-2 5-9 5-15-4 2-1 8-10 3 9-5 0-6 1 10 1-4 2 5 1-8 3-2 6-4-12 21-2-1-1-4-3 2 0 3-3 0 0-5 0 10-1-7-2 6-1 3-4 6-3-8-1-1-1 0 0 11 0 0-2 2-3 1 3 2-3-8 4 2 1-6 2 2 2-1 2 3 0-10 1 10 1-4 1-10 1 8 1-6 1 7 1 0 2-3 0-3 2-5 0 6 0-5 1 4 0-3 1 1 1 1 11-23 0 1-1 11-6-3 0 3-2-1-8 1 6 4 3-10 3 7 2-13-7 18-1 1-2 3-2-1 0 4 0-6-1 0 0 9-1-2-2-5-1 5-1 6-3-12-1 18 0-11-1-1-1 4-1 0 0 5-1 0 0 2-2-8 0 8-2 4-2 5 6-17 1 3 1 2 1-6 0 5 1-5 0 5 1 0 1-7 0 11 0-10 2 3 0-6 1 5 3-5 1 1 0 4 0-3 0 2 2-8 1 5 1-4 3 0 3-7-4-3 0 6 0-3-1-4-10 7 2-1 1 1 3-1 2-5 0 1 4 2 6-7 3-4-10 16-2 0-2 8 0-2-2-5 0-1-1 4-2-2 0-1-1 10 0 0-2-1 0-9-1 7-1 0-1 10-2-6-2 4-2 0-3 0-3 6 4-6 0 2 3-2 1-12 0 3 1 2 1 6 1-14 0 19 1-13 1 3 0 9 1-17 0 6 1 1 1 0 0 3 0-6 3-7 1 8 0 2 0-2 1-1 0 6 8-10-1-13-1 4-1 1-1 1 1 2 2-10 2 9 5-4-7 7-7 0-2 18 0-9-1 3 0-2 0-2-1 4-2-1 0-2-1 14 0-11 0-4-1 1-1 14 0-11 0 0-2 2-1 2-2-7 0 12-5-2-8 8 0-1 5 2-2-2 0 3 8-15 1-8 0 6 5 2 1-2 1-2 1 5 0-13 1 6 2-3 0-2 2 1 1 4 3-4 1-2 8-1 1-5-1-12 0 8 0 3-1-8-3 5-1 5-2 1-2 0-1 0 5-2 1-3 1 2-3 8-1-1-3 6 0-4-2 1 0 9 0-14-1 3-1 5 0-1-1 0-1 1 0-5-1 7 0-6-1 16 0-5 0-8-1 7 0-5 0 13-2-12-3 9-1-11-1 10-1-8-8 15 8-10 1-2 0-1 2-1 1 2 2-7 2 1 0 1 0-1 1 6 0-4 1 0 2-6 0 9 1-1 0-3 0-4 0 1 1 6 1-11 5 0 1 3 0 4 0-6 3 0 4-3-2-7-7 4 1 4 4-9 1 8 1-3 0-4 1-2 4-4 3 3-11 15-5 12-1-10 0-3-3 1 0 4 0-6-1 6-1 4 0 0-1-3-1 12-1-11 0 0-5 0-1 8-1-7-2 8-3 1-2 2-5 11 5-8 1-2 4-2 0-1 3-12 5 6 2 6 1-13 0-2 0-1 0 8 1-8 0-2 1 0 0 7 0 7 0-7 0-6 2 3 1-3 2 9 4-11 7-8 0 7-1-2 0-5-4 4-5-1-7 3 10 0 2-11 2 1 7 5-13 11-1-3-3-1 0 11-1-2-1-6 0 11-1-13-2 7 0-2-2 8 0-10-2 3 0 9-2-6 0 3 0 8-2-10-1 2-1 7-1 1-2-9-1 15 6-2-3-1 2-4 1-2 1-4 0 1 0-5 3-1 0 0 1 2 0 1 2-5 0 1 1 1 0 0 1-2 0-6 1 7 4 0 1-4 3-2 1-2 4-11-3 4-4 5-1-6 0 3 0-5 7 9 2-6-3 12-4 0-2 7 0-6-2 3-2-5 0 4-1-1-1 1-2-2 0-5-1 6 0 3-1 5 0-3-1-3 0 1-1 4-1 0-2 0-1-8-2 13-1-4-7 11 2 5 3 0 0-12 3-4 3 6 1-2 0-4 3-11 0 13 3-16 0-1 1 18 1-8 1 5 0-8 1 2 2 2 1-11 0 2 2-1 0 3 1-3 1 1 0 3 4-17-2 8-2-5-2 6-7 1-1-3" marker-start="url(#o)" marker-mid="url(#o)" marker-end="url(#o)"/>
<path d="M906 2172l5-5 3-1 3-8 1 13 4 2 2-10 10 20-1 5-1 6-1-13-2 11-3-15 0 9-2 9 0-11-1-1-1-1-1 15-2-12-1-10-2 12-2 3-2-6-2 5-1-14 0 7-1 3-1-9-1 11-6-9 15 12 0-5 0 0 1 8 1 0 1 6 0-9 0-3 2 2 0 1 1 0 0 2 0-14 2 1 1 14 0-12 1 1 3-5 0 0 0 18 2-12 4 1 0 5 3-15-9-11-1 3-1 7-13-12 5 9 3-3 7 0 6 3 6 16-5 2-5 10-4-22 0 0-2 8 0 8-1-5-2-7 0 5 0-7 0 4-2-3 0 6 0 7 0-7-1 6-3-14 0 8-1-6-4 10-1-8-4-6-1 0 23 27 5 4-29-26 6 12 0-4 4-4 2-5 2 15 2-19 2 9 2 1 1-8 0 3 2 1 0 4 1 9 0-14 0 17 0-5 2-8 2 5 2 4 2-11 2-13-15 3-1-2-5-1-2-9 0 10-5-7-1 5 2-8 6 13 5-5 0-1 5 3 2-6 5 10 1 7-3 16-1-9 0-6 0 0-2 12-1 0 0-18 0 16-2-5-1 0 0-9-2 8-1-5 0 3-1 12-4-20-1 15 0-7 0-9-8 8 20 17-18 2-5-20 3 4 1-5 0 2 1-5 1 16 2-11 1 2 1-4 0-3 0 16 3-7 1-8 0-3 2 4 2 3 4-8 0 23 1-11 0-8 1 9 0 8 2-2 1-19 6 23-15-41-13 17-4-3 2 0 3-9 0 9 4-14 7 16 11 0 6-3-9 11-7 4 0 13-1-13-2 2-1-1 0-4-1 5 0-4 0 0-1 13 0-12-2 2 0-6-1-2-2 11-1-3 0 5-2-4-3-10 19 24 12 2-35-13 9-8 2 10 0-14 1-1 1 6 4 1 1 6 0-3 1-4 0-3 1 7 1-3 0 14 3-3 0 1 2-21 1 0 0 3 2-2 0 0 0-8-7-6-1 11-4-10-4 11-7-6-4 2 6 1 6 2 1-3 6-8 9 8 3 3 8 15-10-6 0-1-1 2-3 6 0-4-1-1-2-3-1-3-1 7 0 1-2-2-2-4 0-2-3-2-1 11-1-11-2 19 0-15-9 8-2-11 16 26 15 0-3 3-27-28 3 13 1-5 2 9 4-10 4 5 0-13 1 1 2 10 1-5 1-3 1 19 0-5 0 1 1 0 1-5 0-5 2 4 2 6 1-3 6-9 0-5 0 4 2 4-7-19-6 5 0-13-12 8-3 4 3 3 5-3 3 3 0-15 13 6 3 3 2 19-3-4-2-3-4 13-1-15-5 10 0-3-1-10-5 9 0-8-1 14-1-11 0-3-2 17-1-2-1-9 0-5-2 6 0 3-3-8-1 4-2-7 29 25-26-23 3 11 3-6 0-5 1 13 1-6 1-1 0-4 0 7 1-2 3 8 1-1 4-7 0-2 0-4 0-2 0 1 1 11 1 10 1 0 0-1 0-7 1-13 4 6-6-10-3-1-12 1-1-2 3-1 0-2 2-2 3-3 1 8 2-1 12 10-2 5-2-1 0-7-4 0 0-1-1 4 0 5-1-10-2 21 0-15 0-5-1 1-1 0-2-1-1 9 0-3-2 4 0 4-2-8 0 6-5-1 19 17-6-3-19-18 2 7 1-12 2 1 7 18 0-8 1 1 1-13 0 7 3 8 1-4 2-2 0 0 3-2 0 6 0-7 2 0 2-5 0 14 1-12 0 9 1-6 2 0 1-17-4 3-3 5-5-1-5-5-17 2 12-4 2 4 1-5 1 9 0 0 21 9 0-4-2 10-5-7-1 16 0-22-4 10-2-10-1-1-1 14-1-10-2 7-1 1 0-4 0 6 0 7-3-11 0-1-2-7 0 7-2-8-5 0-2 21 28 6-3-2-10-1-12-25 2 14 1-9 3 3 2 6 1-14 1 11 2-5 2 1 0-4 1 8 0 3 0 8 4-9 0 6 3-9 4-3 3 12 8-15-13-10-1-5-1-2-8 6 0 5-2-6-7 6-4-1 9 1 3-2 2-1 2 3 0-8 4-1 11 12-4 4 0 4-1-9-1 5-3-1 0 12-1-11-1 14-1-5 0-13-3 6-2-6 0 7-4 0-4 1-1 8-1-9 0-4-1-3-3 14-4-10 28 20-26-14 7 4 0-10 1 6 1 1 2 5 1-10 2 1 1 11 0-10 2-5 1 5 1-5 0 5 1 3 2-3 0-8 1 13 4 7 2-14 0 0 1 5 1-3 0 2-4-13-7-13-8 8-6 3 2-8 8 6 12 23-1-8-4-6 0 3-1 7 0-1 0 3-2 3-1-12 0 4 0-3 0 0-1 2 0-5 0 6-1 9 0-1-1-15-2 16-2-15-2 15 0-10-3-6-3 11-2 6-1-4-2-10 6-5 2 3 0-2 2 19 1-3 1-11 0 2 2-3 0 3 1 4 1-10 0 14 1-15 0 8 1-8 2 10 3 8 1-8 0-3 1 1 0 2 1 0 1-12 2 5-2-15-3 0-5 5-5-2-19 5" marker-start="url(#o)" marker-mid="url(#o)" marker-end="url(#o)"/>
<path d="M1365 2173l3 0 4-16 2 9 13 5-2 10 0 2-4 2-2-1-1 8-1-15-2-2-1 9 0-1-1 2-1-2 0 13-1-10-2-1 0-7 0 0-1 2 0-1-5 17 0-7-4 9-7-18-1 0-2 9 15 16-6-1-9-19 8-8 0 2 1 15 0-7 0-10 1 12 1-6 1-5 0 5 1 4 1-8 0 8 2-11 2 19 1 3 1-13 1 8 1 1 1-12 5 9 1 7 2-17 1 6 0-14-11-14-2 13-7-1 4-4 5 7 2-11 1-1 4 5 6 5-1 20-5-16-2 11-2-10-1 18-1-11-1-8-1 7-1 7 0-4-2-3 0 9-2-9-1-7-1 8 0-8-1 18-2-2-1-6 0-10-2 9-6 11 3 6-2-2 8-14 0-1 1 7 1-17 1 12 0 8 3-13 3 13 0-5 2 1 1-7 0-1 1 1 0-2 0-2 0-4 1 7 2-3 0 2 2 4 2 9 7-24-15-3-6 0 0 2-6-8-7 12 3-4 1-3 4 0 2 3 3-3 17-3 0 7 0 7-5 11-5-14 0 11 0-6-1-3-1-2 0 23 0-15-1 4 0 1 0-5-2-7 0 0-1 6-1 1-1 0-1-1-1 1-4 6-1-11 3 24 12 5-1-6-8-1-8-16 1-7 1 17 2-2 0-13 2-4 1 2 0 3 0 3 3 5 2-2 0-5 1-5 1 4 1 16 1-12 0 2 2-7 10-1 3 3 0-8 0-3-19-13 0 13-2 0-1 0-8-2 15 2 1 0 2 4 1-6 3-8 8 32-4-9-6-1-1 6-2-12-1 7-2-5 0 6 0 4-1-4 0-7-1 15 0-8-4-2-2-4-3 7 0 2-1-10-2 7-4 2-1-8 10 22 16 3-10-2-21-16 7 5 0-3 4-1 4-4 2 3 0-2 3-8 0 19 1-18 2 8 0 9 0 1 0-12 2 7 1-10 3-1 1-1 0 8 2-7 3 0-11-6-1-4-1-5-4 10-4-2-2 2-3 0 0-2 9-6 1 9 4-4 5-11 9 30-3 2-2-9-2 2-3 9 0-18-1 9-1-7-2 7-1 3-1-3 0-5-3 13-1-4-2-3-2-2 0 1 0-9-1 15-1-6 0 6-1-8-2 2-5-5-2 8 5 0 1 0 6 3 0-1 3 1 1-12 2 11 0-9 1 3 1 2 0-1 6-2 0 2 2 7 2-11 3-3 1 5 1 2 1-7-4-15-1 4-6-3-1 0 0 11-3-10 0 9-3-11-4 3 5 8 0-8 3 2 6 6 4-8 7 25-10-9-3-6 0 0-1 7-1 5 0 7 0-2-2 5 0-20-1 4 0 18-1-13-1-10 0 6-1 5-1 9-1-12 0-4-1 11-2-12-2 9 0 6-8-8 23 17-23-28 1 3 6 4 3 17 0-18 1 5 1-8 2 10 0-7 1 4 1 4 0-6 1 1 0 10 1 0 2 0 1-8 1 2 0-8 0 14 4-6 2-7-6-10-2-10 0 10-3-13-1 7 0 8-4 0 1-3 3 0 5-1 2 5 7-1 9 6-9 4-4 4-1 3-2-4 0-11 0 6-2-3-2 8-2 4 0-5 0-4-1 0-1 17 0-16-1-3-1 6-1 11 0-8-1-12 0 6-2 5-7-11-3 10 5 0 1-11 1 6 2-5 1 8 3-8 0 1 1 13 0-8 1 6 0 1 3 6 2 0 1-16 0 6 1-2 0 5 2-11 2 1 1-2 2 22 3-22 6 0-4-10-12 1-3 2 0-1-8 1-7 4 9 0 1-5 6-5 2 10 4-4 1 3 7 18-3 6-1-7-1 10-4-8 0-8-1 5 0 9-2-12 0 4-2-5 0-4-2 12-1-6-1-7-1-1 0 15-1-3-2 1-4-12-1-1-2-3 5 25-7-16 2-4 2 10 1-1 1 3 2-10 0 2 1 6 0-2 1 3 0 4 3-8 1 0 1-5 1-2 1-2 0 19 1-8 0-8 1 11 0-7 0-6 1 15 2-19 6 2 0 20-5-29-11 3-11-7 15 3 4 7 9-4-2 12-1 3 0-8-3 9 0-6 0 7-3 2-1 8-1-10-1-8-2 11-3-7 0 4 0-5-1 3 0-1 0 0-2 0 0-7-1 6-1 15-1-14-1 1 0 5 7 11 6 5-18-28 3 6 2 4 0-6 1 1 2-6 0 2 0-3 0 2 2 7 3-5 0 15 0-3 0-13 1 1 0 2 0 8 2-10 0-5 4 6 0 5 2-4 0-2 7-4-2-2-7-6-20 0-3 3 20-8 10 7 0 6-4 21 0-20-1 0-1 6 0 0 0 11-1-19 0 23 0-9-3 3-2 2-1-9 0 12-1-3-1-9 0 1-1-2-1-3-2 12-1 3-2-11-2 10-3-14-1 9 26 13-2 0-21-19 2 4 1 9 2-17 2-4 0 2 4 9 0 5 1-16 1 6 1 1 1-5 2 6 2-3 1 12 0-16 0 16 1-8 2 8 9-18-3-2-10-3-1 1-15 3-2-2-4-6" marker-start="url(#o)" marker-mid="url(#o)" marker-end="url(#o)"/>
<path d="M1879 2163l5 1 9 6 3 1 8 7-2 11-1 0 0-1-4-13-1 10-2-1 0-1-1 5-1-4-1-6 0 6-1-4 0 7-1-10-1 10-2 1 0-4-2 5-2 0 0-3-4-10-2 11 0 10 13 4-21-4 2-7 4-5 0-1 3 1 0-8 3 1 1 12 1 5 1-9 1-11 0 8 2-5 0-2 1 6 3-7 3 18 0-16 1 4 4 3 2 5-10-29-3 11-1 3-2-13-4 13-2-3-1-9-1 11-1-6 3-5 1 12 3-4 2-1 15 30-1-9-1 4-3-17-1 5-1 3 0 9 0 0-3-9-1 0-1-5-3-2 0 12-1-1-3-2-1-4-1 10-1-15 0 16-1 0-1-15-3 4 15 20 5-2-27-26 3 7 3-2 0 3 3 1 3-6 1 18 0-16 1-4 0 17 0-13 2-2 0 1 0 4 2 14 1-9 1-2 1-9 1 0 1 7 0-6 2 18 0-3 3-4 1 9 4-26-17-3-1-1-9 6 0-1 6-5 2-1 9 6 11 6-1 3-1-6-1-1-3 15 0-3-1-8-1 5-1-9-4 3 0 10 0-4-2-1-1 12 0-19 0 10-1 12 0-5 0-7 0-6-1 4-2-1-4 9-10 3-1-10 26 18-3 0-9-18 0-6 2 5 1 13 0-10 2-5 1-4 0 11 0 8 1-12 1 13 2-17 1 6 2 0 3-5 4 2-1-13-2-3-2-5-4 6-6 1-1-3-4-10-4 17-1-9-2 1-2 7 7-10 8 11 4 0 2-1 7 13-1 8-1-6-1-8-1 12-1-6-4-9 0 6-1-6 0 21 0-15-3-5 0-2-1 9-1-5 0 6-1 12 0-8-1-9 0 4-2 1-1-2-2 0-2 2-3-4 24 22-20 1-5-19 2 4 8-12 0 20 3-16 1 6 2-9 1 8 0 4 0 2 0-6 0-9 0 5 2-2 0-4 0 14 2-7 1 7 0-8 2-8 5 8 1-5 8 6-10-14-9 2-2 1 0-3-1 3 2-5 1-9 12 12 6 12-10-7 0 18-1-7 0-11-2 19-2-12-1-7-1 11 0-2-1-3-1 0-1-3 0 6 0 1 0 10-4-13-2 6 0-3 0-6-2-4-1 14-4-13-1 8-2 7 22 14 0-6-8 2-19-20 8 0 1 7 1 4 2-7 2 6 0-14 1 3 1-5 1 5 0 13 1-14 2 4 1 0 1 0 3-6 1 16 0-10 1 3 1 5 1 3 0-10 3-4-6-13-1-1-3 2-11-2 1 4 1 2 5-16 3 13 7-4 1-6 1 16 0 2-4 4 0 1 0 9-2-14-2 18 0-14-2 4-1-1 0-6-2 2 0 13-1-11-1 8-1-4 0-1-1 0-1-9 0 8-2 0 0-7 3 22-6-16 1 8 2-2 4-6 1-8 0 13 2-13 1 4 1 5 0-5 1 0 0-4 1 12 1-5 0 12 1-8 1-6 0 12 3-2 4 1 1-11 0-6 2 7-6-9-12-2 0-7-2-2-2 9 2-4 11-2 5 5 3 9-2-3-7 16-1-13-1 5 0 4-2 6 0 4 0-16-1 11 0-1 0-9-1-4-1 5 0-4-1-3 0-1-2 13-1 2-1-3 0-3-1-5-1-3 0 14-6-12 1 22-2-11 2-10 1 4 4 3 1 0 0-3 2 5 0-4 1 10 1-19 1 7 1-1 2 10 0-6 0-10 3 9 1 4 1-2 1-4 0 0 5 13 1-16 4 2-7-14 0-2-5 2 0 2-2 4-21-1 18 0 0-8 2 2 5 4 3-3 1 5 1 1 5 18-2-9-4 7-1-9-2 15-1-7-2-12 0 2-3 3 0-5 0 4-1 2 0 0-1-7-5 9-1-3 0-1-2 9-4-3-1-4-5 7 19 12-14-24 4 6 3 11 0-8 2-10 1-2 0 8 1 13 2-19 0 3 1 17 1-15 1-1 0-4 1 5 2 5 3-12 3 13 7 7-1-22-4-3 0 2 0 1-5-1-1-8-8 7-2-3-12-6 6 11 12-14 1 11 1 0 17 7-3 13-3-11-4-2 0 5-3 2 0-9-1 22-1-22-1 1-3 16 0-5-1 7-1-15 0-3 0 2-6 2 0 8-2 11-2-22-2 18-1-12-2 4 2 14 23 2-23-19 8 2 2 3 0-8 1-6 1 0 0 4 0 5 0 0 2 8 0-6 1-5 1 0 1-2 0 2 1-5 0 7 1 16 0-17 0 3 1 12 5-21 3 16-3-23-7-6-5-5 0 12-10 1 2 2 6-10 8 10 1-3 6 0 0 15-3 13-3-16-1 0-1 12 0-19-1 2-1 9 0-2-1 0-1 2-2-8-1 7-3-10-1 7 0 6 0-3 0-1-1-4 0 11-1-1-15-3 24 13-15-12 1 2 1-3 6-8 1 5 0 6 1-7 3-1 0 6 3-13 1 0 1 19 3-15 1 10 1-9 0 12 1-8 1-6 2 11-1-23-10 2-6-3-1 1-3-9-2 10-2 6-3-3" marker-start="url(#o)" marker-mid="url(#o)" marker-end="url(#o)"/>
<path d="M470 2745l0 4-4-9-16 15 2-2 9 16 1-5 2 10 1-8 0-16 1 24 0-17 1-5 2 5 2 13 1 2 0-2 1-11 1 14 1-3 0-6 1 8 2-17 2 2 2 17 9-15 3 5-4 13-21 0-2 2 4 0 16-11-5-3-1-3-1 6-1-17 0 15-2-6-2 8-1-16-1 20-2-17 0-1 0 7-1 9-1-12 0 11 0 2-1-5 0 5-1-4 0 0-1-12-2 1-6 7-4-7 0 6 16-18 9 1-5-2-5 2-4 3 0 0 0 1-15 7 9 8 3-1 2-1 2-4 1 8 0 4 0-11 1 1 1 10 1-14 4-1 1-2 1 15 0-14 0 13 1-5 1 11 2-12 0-10 3 31-15 1-13-1 11-5 11 1 4 5 2-13 0-9-2 6 0-16-2 12-1-2-1 1 0-12-1 15-1 3-1 0-1-5-2 8-1-12-2-7-4 9-1 9 0 3-2 1-1-15-1-2-5-7-5 3 10-6 16-12 6 14 1-7-4 4-2 3-4-9 0 9-1-6-10 3 0 1-6 20 4-9 5 8 1 3 0-10 1-5 0 10 2-3 1 9 0-8 2 7 7-19 1 4 0 16 1-3 1-6 2-11 1 4 1 9 0 1-24 12 7 5 19-25-1 9-1-15-4 21 0-6-2-9-4-1-1 9-1-3-1-2-1 2-1 4-1 8 0-7 0-3-1-11-2 15 0-12-1 4 0-2-2 13-1-10-3 13-1-18-1 17 11-26 4-2 2 4 9 1-10-4-6-3-6 3-6-1-5 8 7-1 2 4 1 6 0 6 1-13 1 14 0-11 2-1 0 6 0-7 3 16 0 2 1-6 1-7 1 11 1 0 3-5 1 5 1-10 1-10 3 9 1-10 5 10-29 22 8-7 2 1 11 2 7-4-3-15-3 11 0-8 0-8-1 11-3-3 0 6-1-10 0-4-4 6-2-2 0 0 0 2-1-7 0 8-1 5-1-15-3 15 0 7-3-17 12-7 1-7 3 7 3-1-15-6-13 10 6-2 2 12 2 3 3-12 0 15 1-2 4 4 0-15 1 4 1-5 1 3 0 10 0-16 0 17 0-10 2 9 1-12 0 7 3 4 1-1 1 4 1-6 2 12-6 4-3 4-3-4-5-3-2 0 12 1 7 2 7-17-2-5-3 15-1-10-3 7-6-7-1 1-1 1 0-10-1-3-1 15-2-11-1-2-1 4 0 2 0-6-1-2 0 4-2 4-7-7-4-7 18-3 2 7 4-1 1-3 4 4-6-1-4-14-3 13-13 2-7 3 4 7 4-2 8 0 1 3 2 11 0-3 0-2 1-2 0-4 1-2 1 11 2-6 0-12 2 21 2-20 3 3 0 4 1 4 6 6 3 3-15 3-3 3-6 0-7 1 1 0 5-1 12 5 9-28-1 1-3 11-2-3-1-1-2-8-1 16-3 3 0-17-1 10 0-10-5 0-4 6 0-4-1-2-2 8-1 9-1-19-4 9-3 10 15-28 1 1 0 2 3 0 1-3 7-4-5 2-1 5-2 0-1-2-3-3 0-2-10 10 0 5 2-3 4 19 2-21 1 3 1 1 1 16 0-16 3 15 0-6 0-2 2-8 0 0 1 0 1 16 2-14 1 5 0 1 3 2 2 7 2-14 3 9-14 20 8-9 5 4 2-22-2 6-1-7-6 6-2 1-1-3-1 4-1-10-1-1-1 7-1 5 0-5-1 6-2 1-2-3-1 4-1-18-1 10 0 5-1 6 0-10-4-26 6 9 5-6 7 6 1-6-8 8-10 5 0 13 1-6 1 12 0-7 1 7 1 1 2-16 1 8 1 0 1 2 0-12 1-4 0 17 0-4 1 9 1-14 0 3 0-6 1 4 2-10 1 9 3 2 3 0 1-9 2 7 1 6-7 20-15-10 4 2 10 0 11-4 0-6-1-4-6-8-2 4 0-10-1 10-3-6 0 17-1-1 0-19-1 10-3-7-1-2-1 13-1 4-3-13-1-2-1 20 0-20-3-1-1 6-2-2 6-17 12 5 11 4 0-2-4 2-22 14 2-5 0 1 1 10 4-6 0 7 2-14 1 17 0-8 1 0 0 8 0-4 1-3 0 3 1-7 0-8 1 14 5-17 1 0 0 9 5-10 5 13-6 13-1 1-1-2-1 6-12-4-8 0 12 0 0 1 11 0 4-21-3 3-1 11-1-11 0 3-2 3-3-10 0 11-1 2-1-10 0 5-2-13-3 12-2 5-1 0-4-2-1-6 0 4-3 1-5-10-2 4 8-11 10-9 0 8 4 2 12 0-3-3-11 2-19 4 6 6 0 10 1-16 3 3 0 5 2 3 2 0 1-10 0 13 0 4 1-2 1-9 1 9 0-5 2-11 0 13 1 4 2-1 1-2 1 5 1-20 2 8 4-7 3-1 3 16-23 11 2-2 4 2 2 6 5-9 12-21-2 18-6-6-3 2 0-6-2-1-2 5-4-8 0-5-3 9-2-5-2 12-1-11-3 10-4-4 0-7 0 11-3-15-3-6 8-1 7 3 6-7 1 2" marker-start="url(#o)" marker-mid="url(#o)" marker-end="url(#o)"/>
<path d="M934 2743l-1 2-5 2-22 27 3 0 1-2 2-3 1-1 1-1 1-1 1 2 1-8 0 7 1-3 1-1 1 1 1-10 1 1 0 4 0 9 2-14 0 7 0-1 2-3 1-1 0-3 1 1 2-3-21 26-4 6 0 0 2-7 23-24-1 3-2 1 0-5-1 6-2 0 0-3-1 3 0 0-1 2-1 2 0 2-1-3-1 5-1-3 0-5-1 11 0 0-1 3-1 1 0-5 0 4-1-2-2-1-3 4 0 2 29-32 4-8-7 10-1 0-6 4-4 1-18 25 2-4 3-3 1 6 1-6 1 1 1-4 0 5 1 1 0-2 3-5 1-1 0 8 1-16 2 5 3-3 1-3 1-1 0 4 2-5 1 0 0 0 1-1 0 0-20 27-7-2-4 8 2-5 3-1 27-25-5 1-3-2 0 9 0-4-1-1 0-4 0 9 0-8-1 9 0 5-3-2 0 3 0-3-1-3-2 6 0-1 0-6 0 3-1 6-2-2-1-2 0 5-2-4 17-17 5 0 3-10-5 6-1 2-21 26 3 1 1-3 1 3 0-5 1-8 1 2 3 0 0 2 2-6 1-4 0 0 1 2 0 6 0-5 1 2 0 0 1-5 2 3 1-6 0 4 3-2-19 23-1 0-5 1-3 4 0-3 2 0 3-1 24-26-3-2 0 3-2 3 0 0-1-1-1 3-1-3 0 6 0 1-2-4 0 2-2-1-1 6-1-3-1 5-2-2 0-1-2 5-1 2-2 0-3-2 21-22 5-5 1 5 2-3-2 5-1 0-3-1-1-1 0-1 0 2-19 26 1-8 1 3 1 1 0-2 1-2 1-3 1 3 3-3 1 1 1-4 0 1 1-3 0 6 0-4 2-8 0 2 1 3 1-6 0 11 1-8 1-1-19 23-6 3 2 0 1-2 23-27 0 6-2-3 0-1-3 4-1 1-1 6 0 2 0-8-1 5-2 6 0-10-1 2-1-1-1 1 0 3 0 4-1-2-4 3-1 5-1-2 17-22 2 0 7-4 1-4 4-1 2-6-2 9-3-2 0 4-3 4 0 0-2-1-1 1-1 0-22 22 1-2 2-3 1 1 4 1 4-11 0 6 1 0 0-5 0 4 1-3 0-2 1 0 1-2 3-1 1 3 2-7-26 28-1 4-2 0 2 1 7-7 19-26-1 2-1 0-1 7-2-2 0 2-1 0-2 0-2 7 0 0 0-7-1 2 0 5-1 7-1-11-1 4 0 1-1 5 0-7-1 3-2-1 0 5-5-1 23-24 3 2 1-3 1-5 2 4-3 0-1 4-27 22 2 3 4-6 0 5 2-8 1 5 2-2 2-8 0-1 0 4 1 2 0 3 0-7 1-6 1 5 0 3 0-6 1 3 1-1 3-3 0 3 0 0-13 16-4 3-1-1-2 2-2-1 2 0 22-24 0 1-1-1 0 2-1-2-1 4-1 5 0-10 0-1 0 4-3 3 0 4 0-8 0 7-1-2-1 4-2 0-1 2-1 0-2 7 0-4-3 5-2-3-1-1 24-21 1-4 2 2 3-3-4 2-5 3-17 22 1-5 2 1 0 3 1-1 1 2 0 3 1-9 0-1 1 1 1-1 0 4 0-5 1-3 1-2 0 3 0-4 0 5 0 0 1 0 1 0 0-7 0 4 4-2 1-6-19 24-6 3 7-1 1-1 20-25-1-1-2 1 0 3-2 0-5 8-1-4 0 1 0 3-1 1 0 1-1-1-1 0-1 3-1 7 0-4-1 0 0 1 0-7-2 10-1-7-1 3-1 2 17-22 5 0 6-7-5 7-25 23 2-1 4-1 1-4 1 0 1 2 0 0 0 0 1-1 1-4 0-2 0 3 1-6 0 4 1 1 2-2 1-7 1 1 0-3 0 7 0 6 2-11 1 2 1-3 0-1-20 27-4-2 0 4-3 3 8-9 0 1 18-25-1-1-2 6 0-3-1 7 0-3-1 5-1-1 0 0-3 6-3-2-1 4-1-1 0 1-3 5-1-2 0-5 22-18 2-7 0-2 0 2 1 4 1 2 0-1 0-1 3-3-6 1-1 1-1 2 0 1 0 0-18 25 0-3 2 0 0 1 1-9 0 8 0-6 1-7 4 9 1-1 0-7 0 1 4-3 1-4 0 5 1-6 0 4 0 0 3-3 1 3-25 23 0 0-1-2-1 5-6 5 4-4 5-4 2-3 21-24 0-1-2 3 0-2-1 3-1-4 0 7-1-2 0 0-3 5-1 0-1-5-1 8-1 7-2-8-2 8 0-4 0 5-2 1 0-7-1 1-1 7-2-5 0 5 29-35 1 4-6 4-2 1-20 26 0-1 1-3 1 3 3 1 0-7 2 0 0-7 1 9 1-1 1-6 1-6 1 8 0-4 1-1 1 4 0-10 2 1 0 5 0-3 1-5 0 4 0-2 0-1 2 2-22 23-5 2 27-27-1 4-1-3-1 4-2-2-1-1-1 13 0-9-2 6-2 2-1-3-1-1 0 7 0-2-1 2 0 2-1-9-1 6-1-2 0 9-2-4 18-21 1-1 2-6 1 2 3 2 0 3 0-9" marker-start="url(#o)" marker-mid="url(#o)" marker-end="url(#o)"/>
<path d="M1371 2745l-3-3-19 12 1 15 5 1 4-8 3-4 0-4 0 1 1-1 3 5 1 0 0-6 1 21 0-6 2-3 0-4 1 5 4-9 0 15 0-14 0 14 2 1 2-3 1-3 3 7-14 5-6 0-3-4 1 2 8 6 0-8 3 0 10-8-1-7-3 2-3 5-2-6-1 9-4-7 0-7 0 4-1 6-1 4 0-10-2-4 0 6-2 5-3-5 0-3-2-3-1-1-3 8-4 0 12-17 11 3 0-7 2 4-5 3-2 0-4-4-1 1-2 3-3-9-5 29 5-4 1-6 0 8 3-10 0 12 1 1 3-19 0 10 2-10 0 14 0-8 1-4 0 7 1-3 1 2 2 6 2-10 1 13 0-3 1-2 6 5-20 15 5-1 20-18-12-2-1-9-1 7 0 8 0-5 0 2-2-3 0-3 0-5-1 1-1 19-1-6 0-13 0 14-1-2-1-4-1 10-2-8-2 6-1-5 0 3-4-2-1-10-1 2 4-17 3 4 8 2 3 0-12-8-3 8-4 8 4-4 0 7 2 11 2 1 1-11 3 1 1 11 1-7 1 6 2-18 1 1 0 8 0 7 0-12 1 5 0-3 4-2 2 0 5-1 3 7-16 12-1 7-1-1 0-4-15 1 1 5 23-7 3-22-2 18-1-19-2 18-3-3 0-11-1 8 0-10 0 18-1-9 0 1-1-6 0-8-3 16-3-3 0 4 0-17-3 5-2-4 0 15 0-1-5-4 13-15 2-12 2 11 0-2 1 3 2-2 0 4-2-10-2 8-22 21 4 6 3-8 4-9 1 0 3-3 1 17 1-17 0 20 1-13 0-7 1 13 1 3 2-2 0-15 0 8 1 1 2 4 0 5 1-19 1 2 5 5 2 2 6 0-12 17-12 4 24-10-6-12-5 13 0-9-1-2-2-3 0-6-1 7-1-10-2 4-2-4 0 1-1 13-2-1-2-3-3-5 0-4-3 23-6-17 7-13 3 5 2-7 2 7 5-6 0-1 0 3 1-5 5 9 8-3-5-8-7 11-7-2 0-4-1 4-8-3-3 4 0 21 7 3 2-8 1-14 1 11 2-3 1-2 1 12 0-1 1-4 1-13 0 5 1 1 2 8 1-2 1-5 0 13 3-10 3-7 6 6-21 19-5-2 2 5 8-3 8-14 0-9-1 5-1 8-1 0-2-12 0 3 0-4-1-4-3 13-2 1-1-4-1-3-3 4 0-7-1 9-1-8-1 15 0-19-1 20-1-18 0 11-1-12-6-3 8-1 9-1 4 1-1-2-4-1-9-2-5 18 1-3 4 1 0 8 0-2 1 0 0 0 1 3 2-17 2 16 2 1 2-18 1 19 2-7 0 0 2-7 3 18 3-15 2-4 2 5 1-1-7 19-9-3-5 2-1 10 12-11 6-9-1 3-2-16-1 7-1-10 0 19 0-13-1 5 0-1-1 10 0-21 0 22 0-13-2 8-1-9-1-3-2 16-1-11 0 7-2-8-1 10-3-14-1 1-2 12-1 6-1 0 11-30 0 0 17 5-1-4-10-4-19 8-1-1 2 8 2 2 1 5 0-6 2 7 1-5 0 4 2-6 2-5 1 4 1-3 1-2 0 12 1 0 0-3 3 1 1-1 1 7 6-17 2 1 3 27-14 1 0-1-18 0 10-1 5 0 9 2 4-3 4-12-2-6-2 6-2-9-3 11-2-1 0-14 0 10-1-9-1-1 0 8-2 7-1-9 0 13-2-15-1 3-1 8-3 5-5-13-1 12-3-7 0 4 9-18 5-7 9 0 3-3-10 10-12 16 1 1 2-14 1 0 0 4 2 9 0-8 0 6 2 7 0-20 1 9 1 4 2-3 0-8 1 6 0 10 0-14 2 14 1-17 0 4 1 12 3 0 1 4 2-9 0-1 3 11 5-20-29 25 5 0 5 0 2 2 20-21-3 2-3 6-4-14-1 0-2 5-3 9 0-12 0 0-1 10 0-8-1 7 0-8 0 7 0 7-5-7-2-7-1 5-1 3-3-10-3 18-1-8-3-9 12-5 0-2 15 0-5 2-9 0-1-2-4-2-14 7 10 14 3 3 3-1 1-6 0 4 1-1 0-3 0-7 1 8 0 10 0 0 4-9 2 7 1-14 0 14 3-13 2-6 2 16 2 5 4-12-17 22-2-4-7-3 5 3 18-13-1 0 0 2-1 5 0 1-1-11-4 10-2-22-1 5 0 13-1-3 0-11-2 14-1-19-1 2-1 9-1 2-1 5-1 2-1 3-1-7 0-2-9 7-3-16 0-3-3 5 18-8 4-7 4 6-6 1-1-15-8 13-5-4 0 2-3 29 4-21 3 19 1-1 0-5 0 1 3 6 1 0 1-19 1 16 0-2 2 3 3-14 1 11 2 1 0 0 1-14 1 10 2-2 5 6-14 13-5-5-1 7 2-8 7 2 16-4-8-9-3 8 0-15-1 2 0-10-1 5-1-2-2 15-3-5 0-1-1-8-1 3 0 3-2-9-1 15-2 0 0-15-1 23-7-8 7-24 8 7 3-4 0-4 4 7 4-7" marker-start="url(#o)" marker-mid="url(#o)" marker-end="url(#o)"/>
<path d="M1883 2740l-1 9-17 6 0 2 3 0 2-2 1 16 1-19 7 4 2 13 2-16 0 8 2 8 1-6 1-9 0 10 3 5 1-14 1 7 1-11 1 21 2-2 0-2 1-6 3 0 3 12-20 5-4-3-7 1 11 2 4 4 13-7 7-6-7-6-3-5-2 1-1 14-1-16-2 8-4 5 0-4-2-2 0-10 0 19-2-6-1 2-1-20 0 16-1-7-8 3-1 1-1-2 1-12 1-5 4-2 5 2 1-4 6 9 9 0-10-1-2 1-6-1 0 1-9 14 0 2 5 1 1-6 0-10 0 4 2 6 6 2 0-7 0 6 2-3 1 9 3-7 3-10 1 2 2 2 1 0 1 12 0 4-2 5-12 7-5-7-1 0-5 1 4 5 3 6 15-34-1 12 0 3-2-17 0 17 0-10-1 10-2-13-1 8 0 5 0-11-1-7-1 11 0 4-2-4-1 5 0-5-1 12-1-14 0 10-4-14 0-2-2-1-2-6 6 3 3 0 9-2 10-6-18 1-7 2-5 28 2-10 1 8 3-10 1 4 0-5 1-5 1 7 0-9 4 5 2 0 0-5 2 7 1-1 0-4 1 13 2-12 1 5 0-5 1 13 1 0 0-3 1-1 4 14-23-1-2 6 3-1 28-22-7 5-1-9-3 14-2-13 0 4-1-7-1 11-2-3 0 2-1-1 0 3-1 7-1-21-2 4-4 14-1-3-1-10-1 4-6-6-1 4-1 15 5-30 1 5 5-4 1 4 7-1 2-1-1-13-1 7-6 1-2 4-1 2-4 4 3 2 1 10 0-12 1 9 0 10 1-2 0-7 1 5 2 2 1-2 1 3 0 2 1-20 0 11 1 3 2 0 0 1 0 0 1-15 1 13 1-14-5 27-11 4 3 1 1-5 0 1 5-2 0 2 15-7-2-13-2-9-4 16-1-5-1-4-1 4 0 7-3-2-1 4-2-9 0 5-2-2-2-2 0-6 0 1-1 11-2-10 0-6 0 5 0 15-2-5 0-4 6-18 14 4-11-2-22 11 14 10 1-2 0-15 0 6 2-2 0-1 2 17 0-19 2 16 1-3 1 2 2-5 2 5 1-17 1 23 1 1 1-7 0-7 0 12 0-7 4-12 1 10 0-2 1-1 2 13-7 6-12-1 18-7-5-17-1-3 0 22-4-17 0-1-1 18 0 0 0-11-2-4 0-8-1 21-2-4-2-9-1-5 0 5-1 14 0-9-2-8-5 2-1 14-1-18 0 12 15-19 5 3 0-1 6-1 1-2 3-3-9 5-5 0-24 13 6-4 4-4 1-1 1 12 0 7 1-7 1 11 2-21 1 7 2-5 0 7 2-8 0 1 1 13 0-2 0-15 5 5 0-1 2 7 4-8 0-2 1 8-18 17-1 6-5-5 11 0 14-1 4-11-4-7-2 11-3-19 0 15-2 2-5-13 0 4 0 13 0-16 0 15-2-2 0-18 0 22-1-2-2-15-3-1 0 15-1-8-7 9-5-13 12-11 2-1 3 3 2-2 4-2 5 3-4-2-2-2-4-2-9 13 1 4 3 1 0-10 2 19 0-10 0 2 2 6 0-7 1 9 2-18 0 18 1-6 0 5 0 1 1-13 0-2 3 16 1-8 2-2 2 2 2 12 1 4-10 4-2-3 0-3-11 0 22-12-1 2-2-16-2 18-3-8 0-1-1 10 0-12-1 2-1 0 0 5 0-1-2-10 0 14 0 3-4-12-1 16-1-10-3-1 0-4-4 7-3-12 11-16 3 7 3 4 3 0 2 0 10-5-6 1-10-4-3 8-1-7-12 14 6 10 1 5 1-15 1 7 1 10 6-4 0-19 3 13 0-4 0 5 0-9 1 8 1-8 1 8 0-8 1 18 0-14 2 4 4 9 1-8 1 2 3-16-23 25-1 2 1-1 0 1 3 4 1-3 23-24-12 0 0-1-1 15-1-15 0 15-1-17-1 4 0 3-2 12-1-5-2 3-1 3 0-6-1-5-1-1-2 1-2-3-6 9-1-10-4-5 6-6 1 3 6-1 6-1 11-4-7 3-4 4-3-3-13 22 2-6 5-7 1 15 0 4 1-3 3-4 0-3 1-3 0 3 0 8 1-13 1-2 1 9 0-15 2 14 0-5 1-9 0 17 1-17 4 23 0-11 1-4 0 8-9 9-18 1 13 7 19-6-3-21 0 6-1 7-1-13-3-4-1 10 0-6-1 17-1-9-4-2-1 0 0-6-1 0-1 16-1-5-2-10-1 1-1 5 0 1 2-18 0-7 5 8 3 1 6-6 0 6 4-6-13-4-10 4-10 9 6 5 3 12 2-6 3-1 0 0 0-2 4 0 0 5 1-6 0-5 1 2 1 6 0-11 0 23 2-15 1-3 3 17 0-12 0-5 0 0 1-4 1 14 3-13 2 18-3 7-8-3 1 2 4-25 0-1-2 15-2 0 0-4 0-8 0 14-2 1-1-12 0 14-1 0 0-8 0 6-1 5 0-5-2-1-2 5-2-5 0-2-1 1-1-9-6 5-5 1-2 1 22-31 5 8 6-3 1 3" marker-start="url(#o)" marker-mid="url(#o)" marker-end="url(#o)"/>
<path d="M2346 2749l-15-2 0 1-5-2-10 0 1 13 0 0 4-2 0-2 1 4 0 14 0-21 2 1 3 15 2-5 0 1 0 2 2 3 3-6 0 8 1-5 1 2 0-2 1-11 16 5 0 9-13 9-3 3-6-2-3 2 3-3 1-1 6 6 2-5 8-3 2 1 2-22-1 18-6-22-5 20-2-18-2 19-4-12-1 8-1 3-1-6 0-3 0-3 0 6 0 0-2-1 0-7-2 10 0 3-5 4 11-24 1-4 1 3 2 1-1 0-2-7-18 11 6 4 2 15 3-6 0-11 0 5 0 7 2 6 0-10 2-11 1 18 1-11 0-7 0 14 0-4 1-5 0 9 2 4 0-11 1 11 1-10 2 3 1 8 1-10 2 5 3 0-21 17 3-5 5 0 4 1 5-2 12-10-7-9-2 9 0 4-3-6-3-14 0 10-1 8-5-3 0 2-2 0 0-3 0-8-2-2-1 7-2 9 0-16-3 10-1-13-1-2-1 2 12-17 2 7 0 0-5 4-2 1 0-7-13 27 6-12 1-3 3 16 0-5 0-8 0 4 2 15 1-2 0-18 6 3 1-1 1 5 2-8 1 7 0 7 2 3 0-13 1 7 2 4 0-8 1 2-3 24-7-8-9 0 0-1 1-1 23-20-6 7-1-4-3-9 0 15-1-11-3 11-1-10-1 12-2-2-1-9-1 13-1-12 0-6-3 12-3-9 0 3-1 6-1-6-1-1-1 8-2-13 2-13 10 5 0-1 2 3 3-3 0 7 14-3-12-12-3 15-17 3 11 14 0-10 1 9 0 5 1-2 0-10 2 12 1-4 0 7 0-14 1 12 2-10 1-10 1 9 0 3 1 5 0-1 2 4 1-2 3-7 0 3 4-5-14 17-4-2-5 1 0 0 9 1 9-2 4-12-2-13-1 15 0-6-3 4-1 7-1-13 0-2-1 16-1-6-1-3-1-4-2 7-1-6-1-3 0 10-2-3 0 4-6 0-3-9-1 1 0-9-2 24-2-22 24-10 0 7-2-2-1-6 0 8-2-4 0 2-1-3-13 11 3 12 1-3 0-9 1 7 1 8 4 4 0-5 2-2 2-10 1 3 2-4 1 4 0-8 1 20 4-9 3-12 0 11 0-3-11 20-4-4-5 7-4-3 14-2 14-23-3 9-4 9-3-16 0 2-1 2-1 13 0-19 0 3-1 11-1-7-4-1 0 10-1 1 0-10-1-5-1 0-1 15-3 2-2-19-2 13-3 1-1-14 6-10 5-2 4 2 0 3 1 2 1 0-2-1-8-8-1 9-11 4 9 4 4-6 3 20 2-12 0 6 1 3 1-17 0 4 0 8 0 5 1-1 0 7 4-7 1-17 1 6 0 12 0-7 1 8 2-12 0-2 4 19 5-19 0 8-30 19 11 2 1-5 7 8 7-21-1-13-3 21-6-11 0-2-2 9-2-19 0 7 0 3-1-2-1 1 0-6 0 7 0-10-1 4-1 13-5-2-7-14 3-13 2 8 10-1 1 2 0-4 4 5 5 0 3-4 5 4-8-8-3 7-1-2-4-1-13 14 3-1 0 10 1-14 1 15 2-12 0 7 1-6 2 8 2-12 2 20 0-10 1 1 0 1 1-7 1 11 0-16 1 7 0 0 2 1 1 6 2-9 6 1 1-8-14 26 16-23-3 1-1-4-2 8-5 2-3-1-2 5 0-14-3 8 0-9 0 21-1-10 0 7-1-4-2-1 0 0-1 7 0-11-1 13-1-22 0 12-1 3 0 8-4-21-1 16-2-16-5-1 16-11 19 8-11 0-11-3-12 4 1 21 5-9 2-7 0 8 4 0 1-2 1-7 1 15 2-1 0 4 1-17 0 2 1 11 1-8 2 11 0-14 2-7 0 23 0-3 0-10 8 14 3-6-7 7-5 8-9-5-1 1 16 3 9-10-1-5-7-4-2-3-1-6 0 9-1-12-1 0-1 20-1-20 0 20-2 3-1-21 0 21 0-19-1 2 0 4-1 6-2-12 0 2-1 12-2-10-2 9-5 0 6-23 5 3 16-1-3-2-18 4-3-7-11 10 10 22 1-24 1 23 1-15 0-3 2 1 0-4 0 12 2 2 0-4 1 8 1-16 3-4 0 9 1 8 0-5 2 6 3-12 0 11 4-5 3-1-5 17-6 1-2-1-7-2 9 2 9-9-2-18 0 15-3-6-2 6-2-12 0 18-1-21-2 2-1 10 0 0 0 2-1-8-1 0-1 16 0-4-1 2 0-15-1-3-1 20-1-21-1 14-1 3-3-15-1-1 0 1-1 1 3-7 22-5 0 4-3-3-9 5 0 0-2-9-6 4-1 4 0 20 1-3 1 5 5 4 1-1 0-14 0-1 0 7 0-8 1-2 1 13 2-5 1-5 2 4 0 0 3 4 0-4 6 4 7-2-15 19-17-6 4-1 6 0 18-14-3 10-2-10 0-12-2 14-1-1-2-4-1-8-1 2 0 11-1-10-1 15-1-3-2-4-1 3-1 5 0-12 0-1-2 3-3-4-4 2-5-3 8-8 4 0 2 2 1-4 7 4" marker-start="url(#o)" marker-mid="url(#o)" marker-end="url(#o)"/>
</g>
</g>
<path d="M98.9 139.3l5.6 5.6M98.9 144.9l5.6 -5.6M98.9 223.2l5.6 5.6M98.9 228.8l5.6 -5.6M193.5 223.2l5.6 5.6M193.5 228.8l5.6 -5.6M98.9 312.1l5.6 5.6M98.9 317.7l5.6 -5.6M193.5 312.1l5.6 5.6M193.5 317.7l5.6 -5.6M296.1 312.1l5.6 5.6M296.1 317.7l5.6 -5.6M98.9 431.2l5.6 5.6M98.9 436.8l5.6 -5.6M193.5 431.2l5.6 5.6M193.5 436.8l5.6 -5.6M296.1 431.2l5.6 5.6M296.1 436.8l5.6 -5.6M394.2 431.2l5.6 5.6M394.2 436.8l5.6 -5.6M98.9 538.8l5.6 5.6M98.9 544.4l5.6 -5.6M193.5 538.8l5.6 5.6M193.5 544.4l5.6 -5.6M296.1 538.8l5.6 5.6M296.1 544.4l5.6 -5.6M394.2 538.8l5.6 5.6M394.2 544.4l5.6 -5.6M465.6 538.8l5.6 5.6M465.6 544.4l5.6 -5.6" stroke="#fa0512" stroke-width="1.9" fill="none"/>
<defs><linearGradient id="cb" x1="0" y1="0" x2="0" y2="1"><stop offset="0" stop-color="#800000"/><stop offset="0.25" stop-color="#ff0000"/><stop offset="0.5" stop-color="#ffffff"/><stop offset="0.75" stop-color="#0000ff"/><stop offset="1" stop-color="#00004d"/></linearGradient></defs>
<rect x="620.9" y="16.4" width="22.1" height="462.1" fill="url(#cb)"/>
<line x1="643.0" x2="644.6" y1="16.4" y2="16.4" stroke="#262626" stroke-width="0.8"/>
<text transform="translate(646.0 22.4) scale(1 1.07)" font-size="15.5">1.00</text>
<line x1="643.0" x2="644.6" y1="74.2" y2="74.2" stroke="#262626" stroke-width="0.8"/>
<text transform="translate(646.0 80.2) scale(1 1.07)" font-size="15.5">0.75</text>
<line x1="643.0" x2="644.6" y1="131.9" y2="131.9" stroke="#262626" stroke-width="0.8"/>
<text transform="translate(646.0 137.9) scale(1 1.07)" font-size="15.5">0.50</text>
<line x1="643.0" x2="644.6" y1="189.7" y2="189.7" stroke="#262626" stroke-width="0.8"/>
<text transform="translate(646.0 195.7) scale(1 1.07)" font-size="15.5">0.25</text>
<line x1="643.0" x2="644.6" y1="247.5" y2="247.5" stroke="#262626" stroke-width="0.8"/>
<text transform="translate(646.0 253.5) scale(1 1.07)" font-size="15.5">0.00</text>
<line x1="643.0" x2="644.6" y1="305.2" y2="305.2" stroke="#262626" stroke-width="0.8"/>
<text transform="translate(646.6 311.2) scale(1 1.07)" font-size="15.5"><tspan font-size="20.5" dy="1.1">−</tspan><tspan dy="-1.1">0.25</tspan></text>
<line x1="643.0" x2="644.6" y1="363.0" y2="363.0" stroke="#262626" stroke-width="0.8"/>
<text transform="translate(646.6 369.0) scale(1 1.07)" font-size="15.5"><tspan font-size="20.5" dy="1.1">−</tspan><tspan dy="-1.1">0.50</tspan></text>
<line x1="643.0" x2="644.6" y1="420.7" y2="420.7" stroke="#262626" stroke-width="0.8"/>
<text transform="translate(646.6 426.7) scale(1 1.07)" font-size="15.5"><tspan font-size="20.5" dy="1.1">−</tspan><tspan dy="-1.1">0.75</tspan></text>
<line x1="643.0" x2="644.6" y1="478.5" y2="478.5" stroke="#262626" stroke-width="0.8"/>
<text transform="translate(646.6 484.5) scale(1 1.07)" font-size="15.5"><tspan font-size="20.5" dy="1.1">−</tspan><tspan dy="-1.1">1.00</tspan></text>
<text transform="translate(60.2 104.2) scale(1 1)" font-size="15.5" text-anchor="end">1.5</text>
<text transform="translate(60.2 189.9) scale(1 1)" font-size="15.5" text-anchor="end">0.5</text>
<text transform="translate(60.2 231.4) scale(1 1)" font-size="15.5" text-anchor="end">15.00</text>
<text transform="translate(60.2 280.6) scale(1 1)" font-size="15.5" text-anchor="end">14.75</text>
<text transform="translate(60.2 321.3) scale(1 1)" font-size="15.5" text-anchor="end">15.00</text>
<text transform="translate(60.2 367.9) scale(1 1)" font-size="15.5" text-anchor="end">14.75</text>
<text transform="translate(60.2 419.2) scale(1 1)" font-size="15.5" text-anchor="end">1.0</text>
<text transform="translate(60.2 459.9) scale(1 1)" font-size="15.5" text-anchor="end">0.5</text>
<text transform="translate(60.2 566.1) scale(1 1)" font-size="15.5" text-anchor="end">0.5</text>
<text transform="translate(80.9 586.2) rotate(-90) scale(1 1)" font-size="15.5" text-anchor="end">0.75</text>
<text transform="translate(130.9 586.2) rotate(-90) scale(1 1)" font-size="15.5" text-anchor="end">1.25</text>
<text transform="translate(163.4 586.2) rotate(-90) scale(1 1)" font-size="15.5" text-anchor="end">0.5</text>
<text transform="translate(239.1 586.2) rotate(-90) scale(1 1)" font-size="15.5" text-anchor="end">1.5</text>
<text transform="translate(259.9 586.2) rotate(-90) scale(1 1)" font-size="15.5" text-anchor="end">14.75</text>
<text transform="translate(302.7 586.2) rotate(-90) scale(1 1)" font-size="15.5" text-anchor="end">15.00</text>
<text transform="translate(360.1 586.2) rotate(-90) scale(1 1)" font-size="15.5" text-anchor="end">14.75</text>
<text transform="translate(401.3 586.2) rotate(-90) scale(1 1)" font-size="15.5" text-anchor="end">15.00</text>
<text transform="translate(454.1 586.2) rotate(-90) scale(1 1)" font-size="15.5" text-anchor="end">0.5</text>
<text transform="translate(491.2 586.2) rotate(-90) scale(1 1)" font-size="15.5" text-anchor="end">1.0</text>
<text transform="translate(536.9 586.2) rotate(-90) scale(1 1)" font-size="15.5" text-anchor="end">0.5</text>
<text transform="translate(598.4 586.2) rotate(-90) scale(1 1)" font-size="15.5" text-anchor="end">1.4</text>
<text x="104.5" y="649.3" font-size="19.5" text-anchor="middle"><tspan font-style="italic">c</tspan><tspan font-size="13.6" dy="2.6">1</tspan></text>
<text x="194.8" y="649.3" font-size="19.5" text-anchor="middle"><tspan font-style="italic">c</tspan><tspan font-size="13.6" dy="2.6">2</tspan></text>
<text x="284.1" y="649.3" font-size="19.5" text-anchor="middle"><tspan font-style="italic">k</tspan><tspan font-size="13.6" dy="2.6">1</tspan></text>
<text x="374.3" y="649.3" font-size="19.5" text-anchor="middle"><tspan font-style="italic">k</tspan><tspan font-size="13.6" dy="2.6">2</tspan></text>
<text x="463.7" y="649.3" font-size="19.5" text-anchor="middle"><tspan font-style="italic">μ</tspan><tspan font-size="13.6" dy="2.6">1</tspan></text>
<text x="554.1" y="649.3" font-size="19.5" text-anchor="middle"><tspan font-style="italic">μ</tspan><tspan font-size="13.6" dy="2.6">2</tspan></text>
<text transform="translate(12.8 45.5) rotate(-90)" font-size="19.5" text-anchor="middle"><tspan font-style="italic">c</tspan><tspan font-size="13.6" dy="2.6">1</tspan></text>
<text transform="translate(12.8 141.1) rotate(-90)" font-size="19.5" text-anchor="middle"><tspan font-style="italic">c</tspan><tspan font-size="13.6" dy="2.6">2</tspan></text>
<text transform="translate(12.8 242.6) rotate(-90)" font-size="19.5" text-anchor="middle"><tspan font-style="italic">k</tspan><tspan font-size="13.6" dy="2.6">1</tspan></text>
<text transform="translate(12.8 341.1) rotate(-90)" font-size="19.5" text-anchor="middle"><tspan font-style="italic">k</tspan><tspan font-size="13.6" dy="2.6">2</tspan></text>
<text transform="translate(12.8 439.7) rotate(-90)" font-size="19.5" text-anchor="middle"><tspan font-style="italic">μ</tspan><tspan font-size="13.6" dy="2.6">1</tspan></text>
<text transform="translate(12.8 537.2) rotate(-90)" font-size="19.5" text-anchor="middle"><tspan font-style="italic">μ</tspan><tspan font-size="13.6" dy="2.6">2</tspan></text>
</svg></body></html>
